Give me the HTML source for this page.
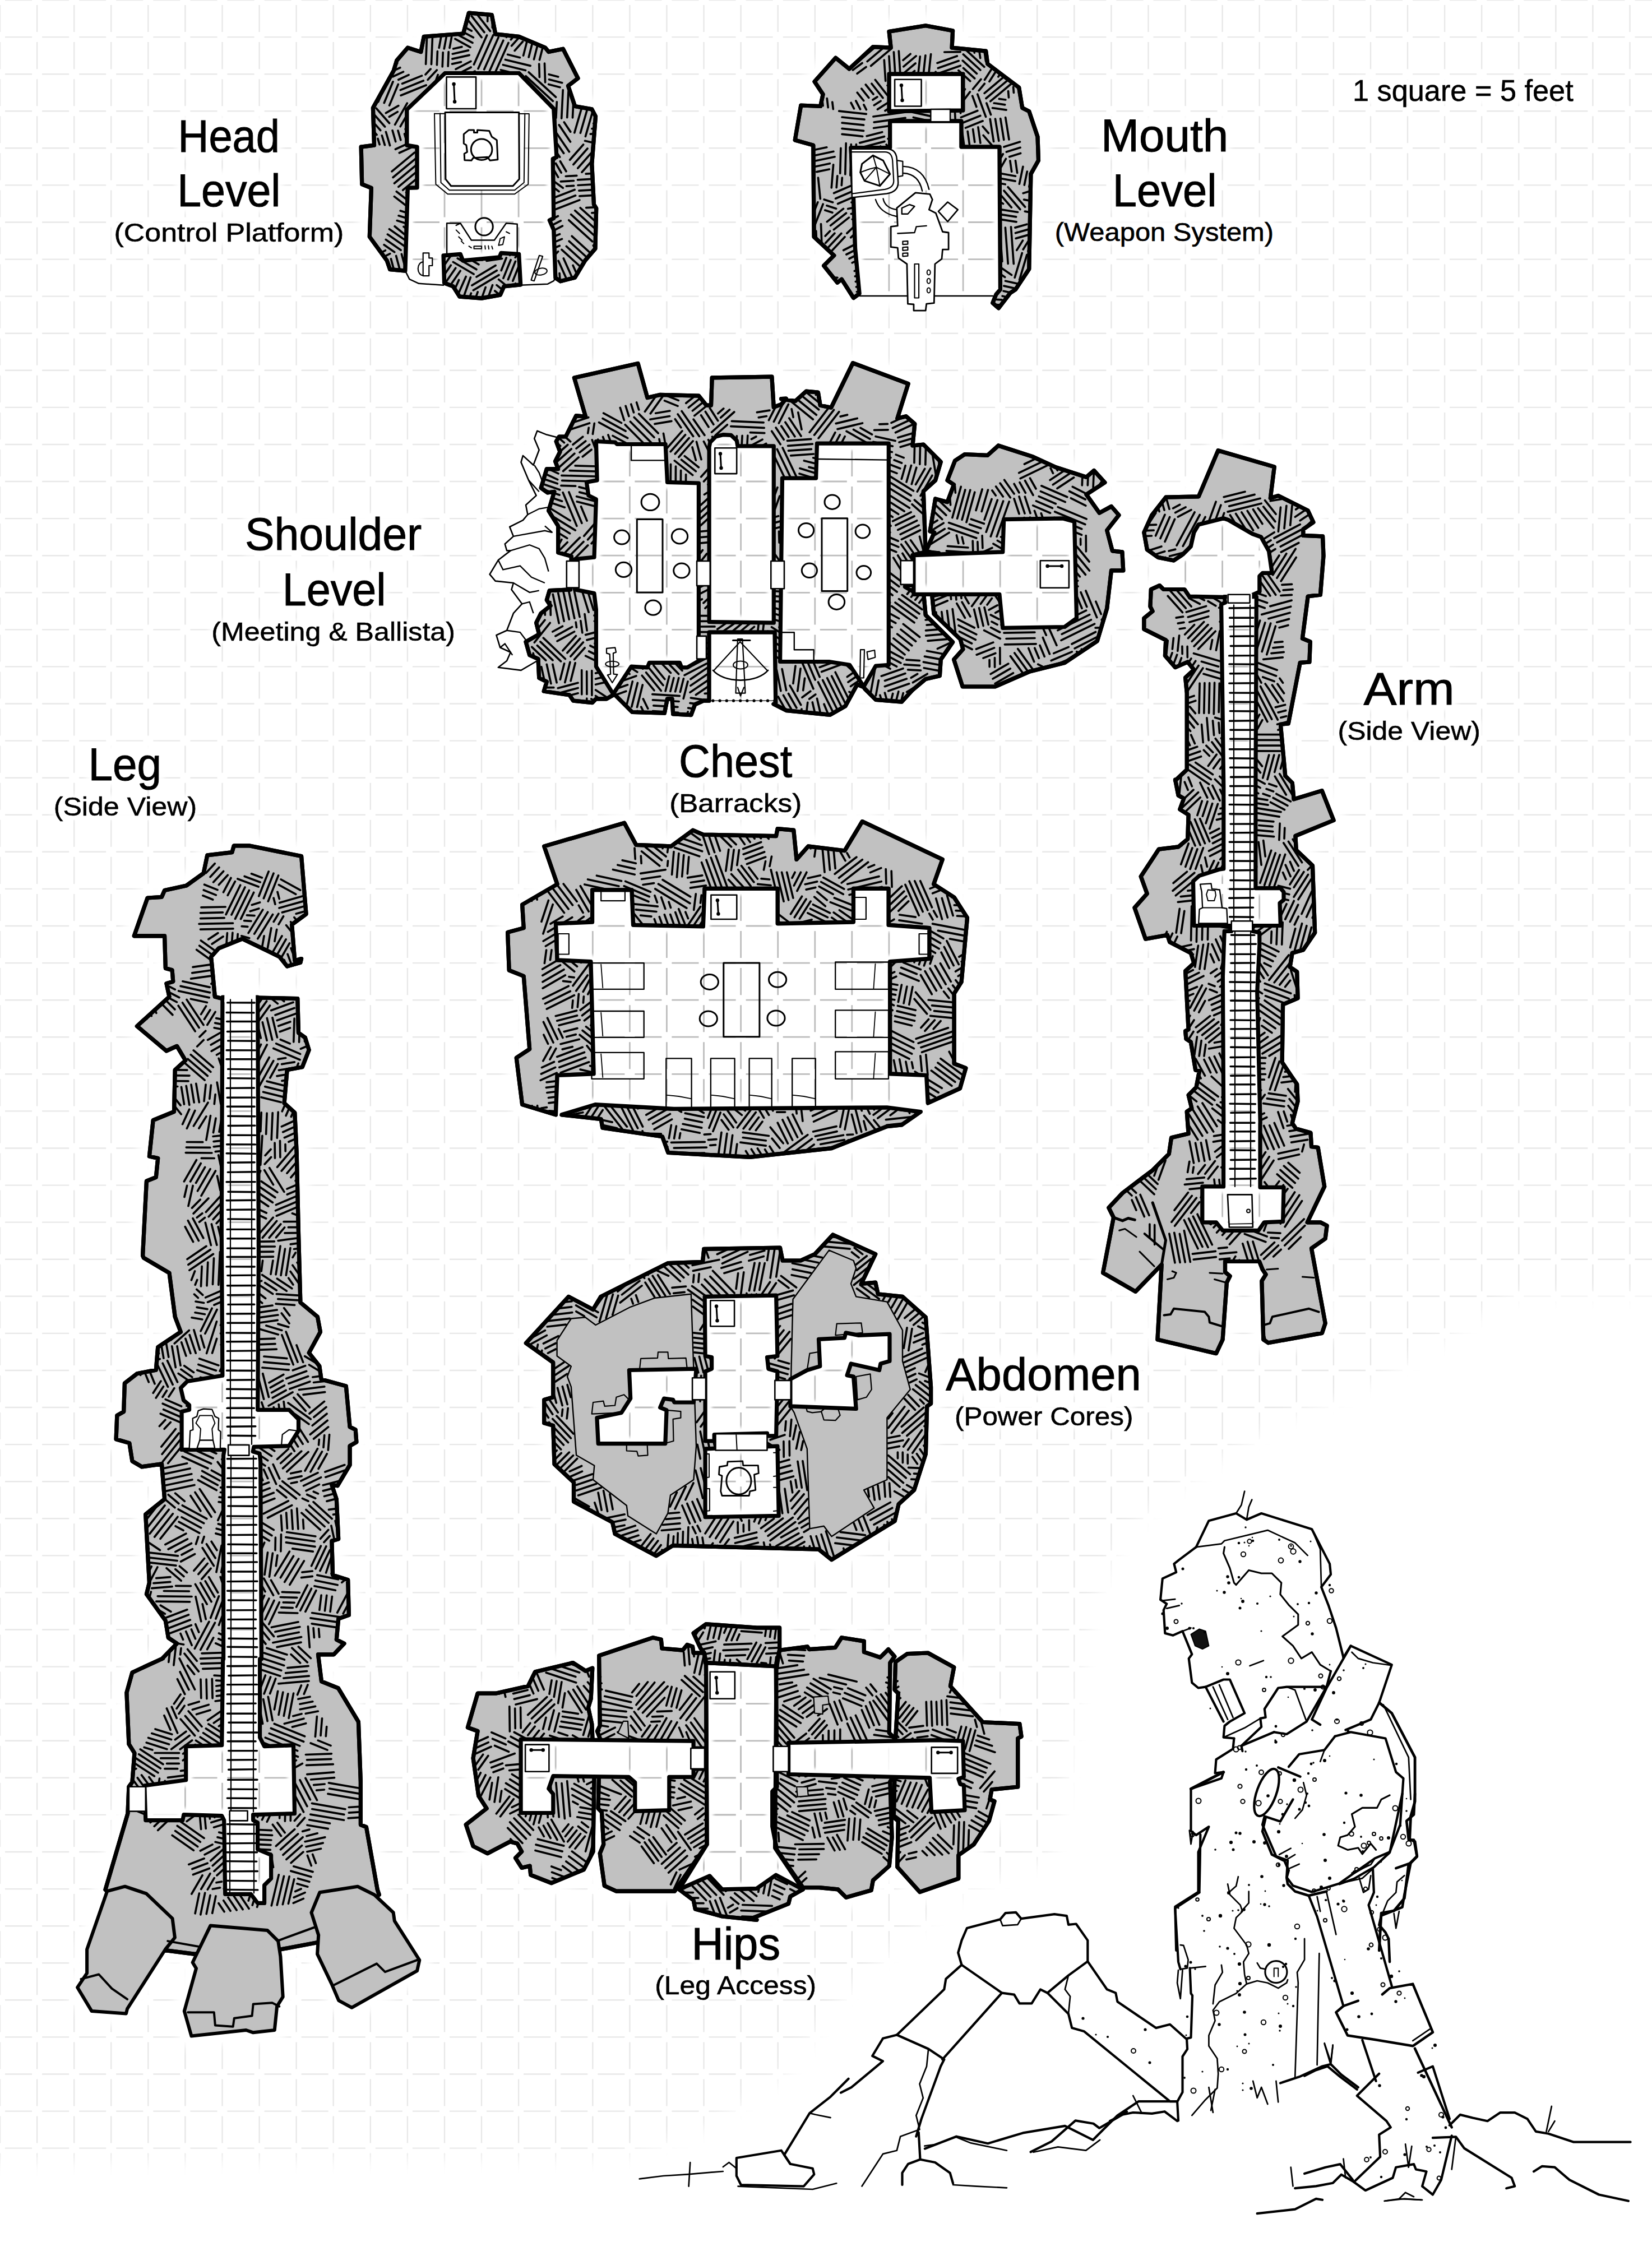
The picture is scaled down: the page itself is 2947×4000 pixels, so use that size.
<!DOCTYPE html>
<html><head><meta charset="utf-8"><title>Colossus Map</title>
<style>html,body{margin:0;padding:0;background:#fff;overflow:hidden}svg{display:block}text{font-family:"Liberation Sans",sans-serif;fill:#000}</style></head>
<body>
<svg width="2947" height="4000" viewBox="0 0 2947 4000">
<defs><filter id="bl" x="-5%" y="-5%" width="110%" height="110%"><feGaussianBlur stdDeviation="7"/></filter><filter id="bl3" x="-5%" y="-5%" width="110%" height="110%"><feGaussianBlur stdDeviation="2.5"/></filter><filter id="bl4" x="-5%" y="-5%" width="110%" height="110%"><feGaussianBlur stdDeviation="5"/></filter><filter id="bl2" x="-5%" y="-5%" width="110%" height="110%"><feGaussianBlur stdDeviation="14"/></filter><clipPath id="rc0"><polygon points="722.9,483.1 695.7,480.7 690.2,464.9 659.3,422.5 662.4,335.4 645.7,328.7 644.2,262.1 667.5,259.1 665.4,192.5 702.3,125.9 707.8,107.8 727.4,85.1 750.8,92.6 756.2,65.4 826.4,60 836.4,23 877.3,26.7 883.9,60.9 925.7,65.4 972.6,85.1 978.7,92.6 1004.4,87.2 1031,139.6 1013.5,153.2 1025.6,189.5 1055.8,194.9 1062.5,207.7 1055.8,292.4 1059.5,365 1063.7,371.7 1061.9,443.7 1043.7,464.9 1025.6,495.2 999.8,501.8 990.8,495.8 987.7,410.4 980.2,392.9 987.7,389.2 986.2,283.3 992.9,280.3 987.7,194 925.7,130.5 794,130.5 725.9,195.5 725.9,259.1 744.1,262.1 744.1,334.8 727.4,335.4"/></clipPath><clipPath id="rc1"><polygon points="791,455.8 821.3,453.4 825.8,464.9 890.9,458.9 893.9,451.3 925.7,453.4 928.7,507.9 899.1,510.9 892.4,526.1 859.1,532.1 819.8,529.1 808.3,510.9 792.5,504.9"/></clipPath><clipPath id="rc2"><polygon points="1533.2,523.9 1522.6,531.5 1501.4,498.2 1493.8,504.3 1469.6,474 1487.8,455.8 1452.1,422.5 1450.8,259.1 1418.2,250 1428.8,188 1463.6,189.5 1468.1,168.3 1453,145.6 1490.8,103.2 1515,122.9 1557.4,83.6 1589.2,85.1 1586.1,56.3 1651.2,45.7 1699.6,54.8 1698.1,85.1 1758.7,91.1 1761.7,113.8 1817.7,156.2 1823.7,192.5 1835.8,198.6 1851,244 1852.5,286.3 1838.9,310.6 1835.8,480 1811.6,516.4 1802.5,522.4 1781.4,549.7 1770.8,540.6 1776.8,525.4 1784.4,516.4 1782.9,262.1 1714.8,262.1 1714.8,216.1 1587.7,216.1 1587.7,263.6 1518,263.6 1522.6,352.9 1525.6,443.7"/></clipPath><clipPath id="rc3"><polygon points="1024.4,673.9 1138,648.5 1154.9,709.5 1176.9,704.4 1246.4,706.1 1260,723.1 1268.5,723.1 1270.2,673.9 1376.9,672.2 1380.3,726.4 1393.9,721.4 1402.4,711.2 1393.6,711.7 1418.7,715.6 1438.1,698.1 1459.4,700.1 1463.3,723.3 1482.7,727.2 1521.4,647.7 1620.2,684.6 1600.8,746.5 1616.3,742.7 1631.8,756.2 1628,795 1647.3,793 1678.3,824 1668.6,857 1647.3,876.3 1651.2,984.8 1628,990.6 1629.9,1042.9 1614.4,1046.8 1628,1054.6 1647.3,1054.6 1651.2,1097.2 1699.6,1145.6 1678.3,1176.6 1676.4,1205.7 1651.2,1211.5 1628,1230.9 1608.6,1252.2 1562.1,1248.3 1542.7,1228.9 1540.8,1225.8 1529.2,1221.2 1507.9,1259.9 1480.7,1275.4 1403.2,1267.7 1380,1256 1383.7,1255.3 1382,1128.1 1265.1,1128.1 1265.1,1250.2 1254.9,1250.2 1239.7,1256.9 1232.9,1275.6 1200.7,1273.9 1199,1246.8 1190.5,1246.8 1185.4,1272.2 1127.8,1270.5 1117.6,1260.3 1097.3,1240 1093.9,1240 1082,1246.8 1063.4,1246.8 1056.6,1253.6 1022.7,1250.2 1015.9,1240 970.2,1233.2 975.3,1216.3 961.7,1209.5 960,1175.6 944.7,1168.8 938,1145.1 961.7,1131.5 956.6,1111.2 965.1,1094.2 982,1080.7 975.3,1070.5 980.3,1053.6 1017.6,1051.9 1019.3,992.5 995.6,985.8 995.6,938.3 978.6,911.2 988.8,877.3 976.9,879 965.1,870.5 975.3,836.6 995.6,836.6 990.5,823.1 999,806.1 992.2,787.5 997.3,779 1009.2,779 1027.8,741.7 1044.7,743.4"/></clipPath><clipPath id="rc4"><polygon points="1703.5,822.1 1721,810.5 1761.6,812.4 1781,795 1841.1,814.4 1883.7,833.7 1937.9,851.2 1951.5,839.5 1970.9,860.8 1937.9,882.2 1961.2,915.1 1982.5,903.5 1996,919 1974.7,946.1 1984.4,982.9 2001.9,984.8 2003.8,1017.8 1982.5,1017.8 1974.7,1085.6 1957.3,1143.7 1899.2,1182.4 1837.2,1197.9 1775.2,1225 1717.1,1225 1701.6,1176.6 1717.9,1158.4 1713.2,1140.6 1665.9,1095.2 1662.8,1063.1 1674.5,1060.4 1674.5,986.8 1651.2,984.8 1666.7,950 1659,948 1668.6,889.9 1690,895.7 1701.6,864.7 1690,857"/></clipPath><clipPath id="rc5"><polygon points="991.5,1988.8 931.6,1970.6 921.2,1887.3 944.7,1871.7 934.2,1741.5 908.2,1731.1 905.6,1663.4 934.2,1655.6 931.6,1614 994.1,1577.5 970.7,1509.9 1113.8,1468.2 1134.7,1507.3 1197.1,1509.9 1236.2,1481.2 1254.4,1489 1384.5,1491.6 1387.1,1478.6 1415.8,1481.2 1421,1533.3 1441.8,1509.9 1506.9,1517.7 1538.1,1465.6 1681.3,1533.3 1665.6,1577.5 1702.1,1601 1725.5,1637.4 1715.1,1751.9 1702.1,1772.7 1702.1,1897.7 1722.9,1905.5 1712.5,1941.9 1655.2,1968 1652.6,1918.5 1587.6,1915.9 1587.6,1715.5 1657.8,1710.3 1657.8,1655.6 1585,1650.4 1585,1585.3 1522.5,1585.3 1522.5,1645.2 1387.1,1647.8 1387.1,1585.3 1257,1585.3 1254.4,1653 1129.5,1650.4 1126.9,1587.9 1056.6,1587.9 1056.6,1645.2 991.5,1647.8 994.1,1712.9 1054,1715.5 1059.2,1915.9 994.1,1918.5"/></clipPath><clipPath id="rc6"><polygon points="1001.9,1988.8 1061.8,1970.6 1202.3,1978.4 1582.3,1975.8 1642.2,1983.6 1608.4,2007 1582.3,2009.6 1483.4,2048.6 1337.7,2064.3 1191.9,2056.5 1181.5,2027.8 1074.8,2012.2 1072.2,1996.6"/></clipPath><clipPath id="rc7"><polygon points="1014.3,2313.4 1058,2336.4 1071.8,2313.4 1191.4,2253.6 1253.5,2251.3 1255.8,2228.3 1391.5,2226 1396.1,2249 1428.3,2249 1453.6,2237.5 1485.8,2203 1561.7,2237.5 1536.4,2290.4 1561.7,2288.1 1566.3,2308.8 1610,2313.4 1651.4,2350.2 1660.6,2474.4 1660.6,2504.3 1653.7,2508.9 1651.4,2594 1630.7,2658.4 1603.1,2683.7 1596.2,2713.6 1483.5,2782.6 1460.5,2764.2 1283.4,2759.6 1200.6,2757.3 1170.7,2775.7 1097.1,2736.6 1092.5,2715.9 1023.5,2679.1 1023.5,2644.6 989,2612.4 986.7,2543.4 970.6,2538.8 970.6,2497.4 986.7,2492.8 986.7,2430.7 938.4,2396.2"/></clipPath><clipPath id="rc8"><polygon points="1056.8,2976.2 1044.6,2981.1 1022.1,2966.6 954.7,2982.7 941.9,3008.3 884.2,3021.2 852.1,3021.2 834.4,3082.1 852.1,3088.5 844.1,3136.7 853.7,3204 868.1,3226.5 831.2,3255.4 844.1,3293.9 869.7,3306.7 909.8,3285.8 922.7,3289 930.7,3303.5 919.5,3314.7 930.7,3332.4 945.1,3329.1 946.7,3345.2 983.6,3359.6 1041.4,3335.6 1058,3303.5 1060,3168.7 1055.8,3075.7 1049.4,3046.8 1054.2,3030.8"/></clipPath><clipPath id="rc9"><polygon points="1068.6,2953.8 1164.9,2921.7 1179.3,2924.9 1180.9,2941 1217.8,2944.2 1225.8,2934.5 1235.5,2937.7 1237.1,2949 1256.3,2949 1259.5,2966.6 1261.1,3290.7 1203.4,3374.1 1099.1,3374.1 1078.3,3364.4 1070.2,3306.7 1076.7,3290.7 1073.4,3232.9 1067,3226.5 1070.2,3101.4 1065.4,3088.5 1070.2,3078.9"/></clipPath><clipPath id="rc10"><polygon points="1237.1,2913.7 1259.5,2897.6 1350,2904.1 1390.6,2904.1 1390.6,2944.2 1385.8,2973 1259.5,2966.6 1256.3,2949 1249.9,2941"/></clipPath><clipPath id="rc11"><polygon points="1211.4,3370.9 1265.9,3346.8 1288.4,3370.9 1350,3369.3 1352.1,3367.6 1384.2,3345.2 1432.3,3370.9 1409.8,3383.7 1406.6,3396.5 1342.5,3422.2 1350,3425.4 1288.4,3419 1240.3,3406.1 1237.1,3390.1"/></clipPath><clipPath id="rc12"><polygon points="1390.6,2944.2 1440.3,2937.7 1443.5,2942.6 1490,2939.4 1501.3,2921.7 1541.4,2928.1 1541.4,2947.4 1570.2,2957 1584.7,2942.6 1595.9,2955.4 1587.9,2966.6 1586.3,3091.7 1595.9,3101.4 1594.3,3168.7 1587.9,3178.4 1591.1,3277.8 1586.3,3329.1 1557.4,3354.8 1554.2,3372.5 1509.3,3385.3 1494.8,3370.9 1461.2,3367.6 1432.3,3367.6 1385.8,3300.3 1377.7,3258.6 1377.7,3196 1385.8,3188 1384.2,2973"/></clipPath><clipPath id="rc13"><polygon points="1597.5,2965 1618.4,2950.6 1655.3,2949 1701.8,2974.6 1695.4,3008.3 1753.1,3072.5 1818.9,3075.7 1822.1,3098.2 1815.7,3101.4 1815.7,3188 1769.1,3192.8 1765.9,3210.4 1774,3213.7 1764.3,3248.9 1737.1,3290.7 1709.8,3309.9 1709.8,3351.6 1640.8,3375.7 1600.7,3330.8 1602.3,3248.9 1594.3,3242.5 1597.5,3101.4 1602.3,3021.2 1595.9,3014.7"/></clipPath><clipPath id="rc14"><polygon points="535.9,1717.3 537.6,1710.5 525.8,1713.9 520.7,1649.5 546.1,1630.8 537.6,1527.5 444.4,1508.8 417.3,1508.8 413.9,1520.7 369.8,1525.8 363.1,1558 332.5,1580 293.6,1588.5 288.5,1600.3 263.1,1602 239.3,1669.8 293.6,1669.8 295.3,1727.5 307.1,1730.8 308.8,1751.2 296.9,1754.6 302,1778.3 244.4,1830.8 296.9,1874.9 315.6,1866.4 330.8,1891.9 312.2,1908.8 310.5,1983.4 273.2,1998.6 266.4,2063.1 281.7,2066.4 278.3,2100.3 261.4,2107.1 254.6,2240 256.3,2244.1 302,2271.2 312.2,2349.2 322.4,2376.3 281.7,2403.4 278.3,2444.1 244.4,2450.8 222.4,2467.8 220.7,2518.6 208.8,2525.4 207.1,2567.8 230.8,2574.6 235.9,2606.8 252.9,2616.9 288.5,2611.9 293.6,2674.6 259.7,2701.7 266.4,2823.7 261.4,2844.1 295.3,2891.5 300.3,2922 315.6,2932.2 288.5,2960 287.8,2959.9 235.9,2983.9 225.9,3019.9 229.9,3111.7 239.9,3127.7 235.9,3179.7 229.9,3187.7 227.9,3235.6 187.9,3371.4 191.1,3374.2 227.1,3478 299.2,3480.1 347.9,3486.4 375.4,3478 481.4,3478 500.4,3478 568.2,3465.3 676.3,3380.5 673.3,3371.4 653.4,3259.6 643.4,3255.6 643.4,3179.7 639.4,3071.8 603.4,3011.9 573.5,2999.9 567.5,2951.9 595.4,2951.9 613.9,2932.2 600.3,2925.4 603.7,2888.1 622.4,2881.4 620.7,2818.6 593.6,2810.2 591.9,2749.2 603.7,2745.8 600.3,2674.6 591.9,2649.2 602,2650.8 624.1,2613.6 624.1,2579.7 635.9,2572.9 634.2,2550.8 624.1,2545.8 617.3,2472.9 580,2462.7 573.2,2461 569.8,2437.3 551.2,2413.6 571.5,2376.3 566.4,2349.2 535.9,2323.7 532.5,2200 529.2,2056.3 525.8,1985.1 507.1,1968.1 512.2,1908.8 539.3,1903.7 551.2,1873.2 544.4,1851.2 532.5,1842.7 530.8,1781.7 459.7,1780 396.9,1781.7 383.4,1778.3 376.6,1707.1 390.2,1691.9 432.5,1674.9 478.3,1696.9 498.6,1707.1 512.2,1724.1"/></clipPath><clipPath id="rc15"><polygon points="2241.3,1066.8 2232.9,1066.8 2234.3,1061.3 2246.8,1055.7 2246.8,1027.8 2252.4,1022.3 2269.1,1022.3 2263.5,983.3 2249.6,958.2 2234.3,952.7 2191.1,927.6 2182.8,924.8 2154.9,931.8 2138.2,935.9 2129.9,949.9 2124.3,974.9 2110.4,988.9 2093.7,1000 2065.8,994.4 2046.3,980.5 2040.8,949.9 2054.7,919.2 2079.7,887.2 2138.2,885.8 2173,803.7 2273.3,832.9 2266.3,888.6 2280.2,884.4 2333.2,910.9 2342.9,931.8 2324.8,944.3 2324.8,955.4 2359.6,956.8 2361,991.6 2355.4,1061.3 2333.2,1064 2323.4,1139.2 2337.3,1144.8 2335.9,1181 2319.2,1182.4 2298.3,1291 2284.4,1292.4 2292.8,1384.3 2305.3,1396.7 2308.1,1425.9 2358.2,1410.6 2379.1,1463.5 2310.9,1491.4 2312.3,1516.5 2341.5,1544.3 2345.7,1664 2324.8,1694.7 2305.3,1700.2 2301.1,1725.3 2313.7,1733.7 2315.1,1781 2288.6,1792.1 2287.2,1895.2 2303.9,1920.2 2313.7,1934.2 2315.1,1964.8 2305.2,2003.9 2311.9,2013.7 2338,2021 2339.5,2045.7 2351.1,2047.2 2362.7,2116.9 2332.2,2180.8 2355.5,2180.8 2367.1,2186.6 2364.2,2209.9 2339.5,2227.3 2364.2,2360.9 2358.4,2378.4 2262.5,2395.8 2253.8,2390 2250.9,2285.4 2258.1,2273.8 2252.3,2265.1 2246.5,2250.5 2185.5,2250.5 2185.5,2269.4 2194.2,2276.7 2188.4,2288.3 2181.1,2390 2169.5,2414.7 2064.9,2390 2072.2,2256.3 2025.7,2304.3 1967.6,2270.9 1986.5,2172.1 1977.8,2154.7 2002.5,2128.5 2056.2,2087.8 2085.3,2058.8 2089.6,2029.7 2120.1,2022.5 2117.2,1983.2 2125.9,1977.4 2120.1,1953.7 2134,1939.7 2139.6,1910.5 2132.7,1909.1 2124.3,1859 2115.9,1853.4 2114.6,1839.5 2120.1,1836.7 2114.6,1732.3 2129.9,1718.3 2124.3,1700.2 2086.7,1680.8 2082.5,1668.2 2043.5,1675.2 2024,1619.5 2046.3,1594.4 2035.2,1563.8 2067.2,1515.1 2102,1510.9 2118.7,1497 2120.1,1453.8 2104.8,1444 2111.8,1424.6 2102,1419 2096.5,1391.1 2096.5,1392.6 2117.3,1373.1 2117.3,1236.7 2114.6,1208.8 2129.9,1194.9 2118.7,1181 2096.5,1190.7 2078.4,1169.9 2079.7,1142 2040.8,1122.5 2040.8,1103 2056.1,1090.5 2051.9,1082.1 2053.3,1051.5 2068.6,1044.6 2075.6,1051.5 2113.2,1051.5 2121.5,1064 2184.2,1065.4"/></clipPath><clipPath id="fl"><polygon points="722.9,483.1 730.5,498.2 747.1,505.8 791,508.8 791,455.8 821.3,453.4 825.8,464.9 890.9,458.9 893.9,451.3 925.7,453.4 928.7,508.8 977.1,506.7 987.7,501.2 990.8,495.8 987.7,410.4 980.2,392.9 987.7,389.2 986.2,283.3 992.9,280.3 987.7,194 925.7,130.5 794,130.5 725.9,195.5 725.9,259.1 744.1,262.1 744.1,334.8 727.4,335.4"/><polygon points="1533.2,523.9 1533.2,527.9 1770.8,527.9 1776.8,525.4 1784.4,516.4 1782.9,262.1 1714.8,262.1 1714.8,216.1 1587.7,216.1 1587.7,263.6 1518,263.6 1522.6,352.9 1525.6,443.7"/><polygon points="1586.1,132 1717.8,132 1717.8,197.1 1586.1,198.6"/><polygon points="1063.4,787.5 1097.3,789.2 1100.7,792.5 1187.1,792.5 1190.5,860.3 1246.4,862 1246.4,1179 1226.1,1190.8 1215.9,1190.8 1212.5,1182.4 1158.3,1182.4 1154.9,1190.8 1126.1,1189.2 1093.9,1238.3 1063.4,1189.2 1063.4,1087.5 1060,1058.6 1026.1,1051.9 1026.1,997.6 1060,994.2 1063.4,890.8 1049.8,884.1 1046.4,860.3 1065.1,856.9"/><polygon points="1265.1,797.6 1266.8,789.2 1276.9,779 1290.5,775.6 1304.1,776.3 1314.2,785.8 1315.9,795.9 1380.3,795.9 1380.3,1111.2 1265.1,1109.5"/><polygon points="1265.1,1128.1 1382,1128.1 1382,1251.9 1265.1,1251.9"/><polygon points="1457.5,791.1 1585.3,791.1 1585.3,1186.3 1562.1,1188.2 1540.8,1225 1515.6,1186.3 1478.8,1180.5 1391.6,1180.5 1395.5,853.1 1455.6,853.1"/><polygon points="1629.9,990.6 1788.8,984.8 1790.7,926.7 1895.3,924.8 1916.6,930.6 1920.5,1103 1899.2,1118.5 1788.8,1120.4 1782.9,1060.4 1629.9,1060.4"/><polygon points="991.5,1988.8 1001.9,1988.8 1061.8,1970.6 1202.3,1978.4 1582.3,1975.8 1642.2,1983.6 1655.2,1968 1652.6,1918.5 1587.6,1915.9 1587.6,1715.5 1657.8,1710.3 1657.8,1655.6 1585,1650.4 1585,1585.3 1522.5,1585.3 1522.5,1645.2 1387.1,1647.8 1387.1,1585.3 1257,1585.3 1254.4,1653 1129.5,1650.4 1126.9,1587.9 1056.6,1587.9 1056.6,1645.2 991.5,1647.8 994.1,1712.9 1054,1715.5 1059.2,1915.9 994.1,1918.5"/><polygon points="1257.2,2313.4 1384.6,2311.1 1386.9,2419.2 1368.5,2421.5 1370.8,2442.2 1386.9,2446.8 1384.6,2561.8 1368.5,2561.8 1368.5,2557.2 1274.2,2559.5 1274.2,2571 1258.1,2571 1258.1,2446.8 1269.6,2442.2 1269.6,2421.5 1258.1,2419.2"/><polygon points="1258.1,2584.8 1386.9,2580.2 1389.2,2704.4 1258.1,2706.7"/><polygon points="1122.4,2444.5 1242,2442.2 1237.4,2502 1202.9,2502 1200.6,2497.4 1184.5,2495.1 1177.6,2511.2 1189.1,2515.8 1186.8,2575.6 1067.2,2575.6 1064.9,2529.6 1108.6,2520.4 1124.7,2495.1"/><polygon points="1409.9,2460.6 1439.8,2444.5 1462.8,2437.6 1460.5,2389.3 1506.5,2387 1508.8,2377.8 1531.8,2382.4 1587,2380.1 1587,2428.4 1570.9,2433 1568.6,2444.5 1518,2433 1511.1,2453.7 1522.6,2456 1527.2,2513.5 1409.9,2508.9"/><polygon points="1259.5,2966.6 1385.1,2973 1382.6,3297.1 1432.3,3370.9 1384.2,3345.2 1352.1,3367.6 1350,3369.3 1288.4,3370.9 1265.9,3346.8 1211.4,3370.9 1261.1,3290.7"/><polygon points="929.1,3103 1237.1,3106.2 1237.1,3119 1256.3,3119 1256.3,3155.9 1237.1,3155.9 1237.1,3170.3 1193.8,3170.3 1193.8,3229.7 1132.8,3231.3 1132.8,3180 1121.6,3170.3 986.8,3168.7 978.8,3191.2 986.8,3200.8 986.8,3234.5 929.1,3234.5"/><polygon points="1406.6,3109.4 1672.9,3104.6 1717.8,3106.2 1719.4,3170.3 1709.8,3173.6 1713,3183.2 1719.4,3184.8 1721,3229.7 1661.7,3232.9 1658.5,3171.9 1406.6,3165.5"/><polygon points="396.9,1779 459.7,1779 461.4,2240 459.7,2515.3 515.6,2515.3 532.5,2532.2 532.5,2552.5 515.6,2579.7 452.9,2581.4 451.2,2589.8 463.1,2593.2 464.7,2606.8 466.4,2960 463.6,2959.9 463.6,3099.8 471.6,3115.7 523.5,3113.7 525.5,3235.6 451.6,3237.6 451.6,3247.6 459.6,3251.6 459.6,3299.5 483.6,3309.5 483.6,3351.5 471.6,3363.4 471.6,3395.4 459.6,3395.4 447.6,3379.4 401.7,3379.4 399.7,3247.6 395.7,3239.6 327.8,3237.6 325.8,3247.6 259.8,3247.6 257.8,3185.7 331.7,3175.7 331.7,3115.7 395.7,3113.7 397.7,2959.9 398.6,2960 398.6,2596.6 400.3,2586.4 324.1,2586.4 324.1,2518.6 337.6,2515.3 337.6,2506.8 327.5,2498.3 322.4,2476.3 334.2,2464.4 396.9,2454.2 395.3,2200"/><polygon points="2110.4,988.9 2124.3,974.9 2129.9,949.9 2138.2,935.9 2154.9,931.8 2182.8,924.8 2191.1,927.6 2234.3,952.7 2249.6,958.2 2263.5,983.3 2269.1,1022.3 2252.4,1022.3 2246.8,1027.8 2246.8,1055.7 2234.3,1061.3 2232.9,1066.8 2184.2,1065.4 2121.5,1064 2113.2,1051.5 2110.4,1051.5"/><polygon points="2184.2,1064.6 2241.3,1064.6 2239.9,1403.9 2239.9,1584.7 2284.4,1584.7 2290,1591.6 2290,1605.6 2283,1611.1 2284.4,1651.5 2234.3,1651.5 2234.3,1661.3 2246.8,1664 2246.8,1686.3 2242.7,1769.9 2248.2,2004.1 2248,2003.9 2248,2118.3 2290.1,2118.3 2288.6,2179.3 2255.2,2180.8 2245.1,2195.3 2181.1,2195.3 2169.5,2180.8 2144.8,2180.8 2144.8,2116.9 2182.6,2116.9 2182.6,2003.9 2182.8,2004.1 2181.4,1742 2184.2,1661.3 2196.7,1661.3 2196.7,1651.5 2129.9,1651.5 2128.5,1572.1 2139.6,1562.4 2174.4,1551.3 2182.8,1549.9 2182.8,1403.9 2178.6,1078 2185.6,1075.2"/></clipPath><mask id="nf" maskUnits="userSpaceOnUse" x="0" y="0" width="2947" height="4000"><rect width="2947" height="4000" fill="#fff"/><polygon points="1586.1,132 1717.8,132 1717.8,197.1 1586.1,198.6" fill="#000"/><polygon points="1063.4,787.5 1097.3,789.2 1100.7,792.5 1187.1,792.5 1190.5,860.3 1246.4,862 1246.4,1179 1226.1,1190.8 1215.9,1190.8 1212.5,1182.4 1158.3,1182.4 1154.9,1190.8 1126.1,1189.2 1093.9,1238.3 1063.4,1189.2 1063.4,1087.5 1060,1058.6 1026.1,1051.9 1026.1,997.6 1060,994.2 1063.4,890.8 1049.8,884.1 1046.4,860.3 1065.1,856.9" fill="#000"/><polygon points="1265.1,797.6 1266.8,789.2 1276.9,779 1290.5,775.6 1304.1,776.3 1314.2,785.8 1315.9,795.9 1380.3,795.9 1380.3,1111.2 1265.1,1109.5" fill="#000"/><polygon points="1457.5,791.1 1585.3,791.1 1585.3,1186.3 1562.1,1188.2 1540.8,1225 1515.6,1186.3 1478.8,1180.5 1391.6,1180.5 1395.5,853.1 1455.6,853.1" fill="#000"/><polygon points="1629.9,990.6 1788.8,984.8 1790.7,926.7 1895.3,924.8 1916.6,930.6 1920.5,1103 1899.2,1118.5 1788.8,1120.4 1782.9,1060.4 1629.9,1060.4" fill="#000"/><polygon points="1257.2,2313.4 1384.6,2311.1 1386.9,2419.2 1368.5,2421.5 1370.8,2442.2 1386.9,2446.8 1384.6,2561.8 1368.5,2561.8 1368.5,2557.2 1274.2,2559.5 1274.2,2571 1258.1,2571 1258.1,2446.8 1269.6,2442.2 1269.6,2421.5 1258.1,2419.2" fill="#000"/><polygon points="1258.1,2584.8 1386.9,2580.2 1389.2,2704.4 1258.1,2706.7" fill="#000"/><polygon points="1122.4,2444.5 1242,2442.2 1237.4,2502 1202.9,2502 1200.6,2497.4 1184.5,2495.1 1177.6,2511.2 1189.1,2515.8 1186.8,2575.6 1067.2,2575.6 1064.9,2529.6 1108.6,2520.4 1124.7,2495.1" fill="#000"/><polygon points="1409.9,2460.6 1439.8,2444.5 1462.8,2437.6 1460.5,2389.3 1506.5,2387 1508.8,2377.8 1531.8,2382.4 1587,2380.1 1587,2428.4 1570.9,2433 1568.6,2444.5 1518,2433 1511.1,2453.7 1522.6,2456 1527.2,2513.5 1409.9,2508.9" fill="#000"/><polygon points="929.1,3103 1237.1,3106.2 1237.1,3119 1256.3,3119 1256.3,3155.9 1237.1,3155.9 1237.1,3170.3 1193.8,3170.3 1193.8,3229.7 1132.8,3231.3 1132.8,3180 1121.6,3170.3 986.8,3168.7 978.8,3191.2 986.8,3200.8 986.8,3234.5 929.1,3234.5" fill="#000"/><polygon points="1406.6,3109.4 1672.9,3104.6 1717.8,3106.2 1719.4,3170.3 1709.8,3173.6 1713,3183.2 1719.4,3184.8 1721,3229.7 1661.7,3232.9 1658.5,3171.9 1406.6,3165.5" fill="#000"/><polygon points="396.9,1779 459.7,1779 461.4,2240 459.7,2515.3 515.6,2515.3 532.5,2532.2 532.5,2552.5 515.6,2579.7 452.9,2581.4 451.2,2589.8 463.1,2593.2 464.7,2606.8 466.4,2960 463.6,2959.9 463.6,3099.8 471.6,3115.7 523.5,3113.7 525.5,3235.6 451.6,3237.6 451.6,3247.6 459.6,3251.6 459.6,3299.5 483.6,3309.5 483.6,3351.5 471.6,3363.4 471.6,3395.4 459.6,3395.4 447.6,3379.4 401.7,3379.4 399.7,3247.6 395.7,3239.6 327.8,3237.6 325.8,3247.6 259.8,3247.6 257.8,3185.7 331.7,3175.7 331.7,3115.7 395.7,3113.7 397.7,2959.9 398.6,2960 398.6,2596.6 400.3,2586.4 324.1,2586.4 324.1,2518.6 337.6,2515.3 337.6,2506.8 327.5,2498.3 322.4,2476.3 334.2,2464.4 396.9,2454.2 395.3,2200" fill="#000"/><polygon points="2184.2,1064.6 2241.3,1064.6 2239.9,1403.9 2239.9,1584.7 2284.4,1584.7 2290,1591.6 2290,1605.6 2283,1611.1 2284.4,1651.5 2234.3,1651.5 2234.3,1661.3 2246.8,1664 2246.8,1686.3 2242.7,1769.9 2248.2,2004.1 2248,2003.9 2248,2118.3 2290.1,2118.3 2288.6,2179.3 2255.2,2180.8 2245.1,2195.3 2181.1,2195.3 2169.5,2180.8 2144.8,2180.8 2144.8,2116.9 2182.6,2116.9 2182.6,2003.9 2182.8,2004.1 2181.4,1742 2184.2,1661.3 2196.7,1661.3 2196.7,1651.5 2129.9,1651.5 2128.5,1572.1 2139.6,1562.4 2174.4,1551.3 2182.8,1549.9 2182.8,1403.9 2178.6,1078 2185.6,1075.2" fill="#000"/></mask></defs>
<rect width="2947" height="4000" fill="#fff"/>
<path d="M0 9V57.1M0 75.1V123.2M0 141.2V189.2M0 207.2V255.3M0 273.3V321.4M0 339.4V387.5M0 405.5V453.6M0 471.6V519.6M0 537.6V585.7M0 603.7V651.8M0 669.8V717.9M0 735.9V784M0 802V850M0 868V916.1M0 934.1V982.2M0 1000.2V1048.3M0 1066.3V1114.4M0 1132.4V1180.4M0 1198.4V1246.5M0 1264.5V1312.6M0 1330.6V1378.7M0 1396.7V1444.8M0 1462.8V1510.8M0 1528.8V1576.9M0 1594.9V1643M0 1661V1709.1M0 1727.1V1775.2M0 1793.2V1841.2M0 1859.2V1907.3M0 1925.3V1973.4M0 1991.4V2039.5M0 2057.5V2105.6M0 2123.6V2171.6M0 2189.6V2237.7M0 2255.7V2303.8M0 2321.8V2369.9M0 2387.9V2436M0 2454V2502M0 2520V2568.1M0 2586.1V2634.2M0 2652.2V2700.3M0 2718.3V2766.4M0 2784.4V2832.4M0 2850.4V2898.5M0 2916.5V2964.6M0 2982.6V3030.7M0 3048.7V3096.8M0 3114.8V3162.8M0 3180.8V3228.9M0 3246.9V3295M0 3313V3361.1M0 3379.1V3427.2M0 3445.2V3493.2M0 3511.2V3559.3M0 3577.3V3625.4M0 3643.4V3691.5M0 3709.5V3757.6M0 3775.6V3823.6M0 3841.6V3889.7M0 3907.7V3955.8M66.1 9V57.1M66.1 75.1V123.2M66.1 141.2V189.2M66.1 207.2V255.3M66.1 273.3V321.4M66.1 339.4V387.5M66.1 405.5V453.6M66.1 471.6V519.6M66.1 537.6V585.7M66.1 603.7V651.8M66.1 669.8V717.9M66.1 735.9V784M66.1 802V850M66.1 868V916.1M66.1 934.1V982.2M66.1 1000.2V1048.3M66.1 1066.3V1114.4M66.1 1132.4V1180.4M66.1 1198.4V1246.5M66.1 1264.5V1312.6M66.1 1330.6V1378.7M66.1 1396.7V1444.8M66.1 1462.8V1510.8M66.1 1528.8V1576.9M66.1 1594.9V1643M66.1 1661V1709.1M66.1 1727.1V1775.2M66.1 1793.2V1841.2M66.1 1859.2V1907.3M66.1 1925.3V1973.4M66.1 1991.4V2039.5M66.1 2057.5V2105.6M66.1 2123.6V2171.6M66.1 2189.6V2237.7M66.1 2255.7V2303.8M66.1 2321.8V2369.9M66.1 2387.9V2436M66.1 2454V2502M66.1 2520V2568.1M66.1 2586.1V2634.2M66.1 2652.2V2700.3M66.1 2718.3V2766.4M66.1 2784.4V2832.4M66.1 2850.4V2898.5M66.1 2916.5V2964.6M66.1 2982.6V3030.7M66.1 3048.7V3096.8M66.1 3114.8V3162.8M66.1 3180.8V3228.9M66.1 3246.9V3295M66.1 3313V3361.1M66.1 3379.1V3427.2M66.1 3445.2V3493.2M66.1 3511.2V3559.3M66.1 3577.3V3625.4M66.1 3643.4V3691.5M66.1 3709.5V3757.6M66.1 3775.6V3823.6M66.1 3841.6V3889.7M66.1 3907.7V3955.8M132.2 9V57.1M132.2 75.1V123.2M132.2 141.2V189.2M132.2 207.2V255.3M132.2 273.3V321.4M132.2 339.4V387.5M132.2 405.5V453.6M132.2 471.6V519.6M132.2 537.6V585.7M132.2 603.7V651.8M132.2 669.8V717.9M132.2 735.9V784M132.2 802V850M132.2 868V916.1M132.2 934.1V982.2M132.2 1000.2V1048.3M132.2 1066.3V1114.4M132.2 1132.4V1180.4M132.2 1198.4V1246.5M132.2 1264.5V1312.6M132.2 1330.6V1378.7M132.2 1396.7V1444.8M132.2 1462.8V1510.8M132.2 1528.8V1576.9M132.2 1594.9V1643M132.2 1661V1709.1M132.2 1727.1V1775.2M132.2 1793.2V1841.2M132.2 1859.2V1907.3M132.2 1925.3V1973.4M132.2 1991.4V2039.5M132.2 2057.5V2105.6M132.2 2123.6V2171.6M132.2 2189.6V2237.7M132.2 2255.7V2303.8M132.2 2321.8V2369.9M132.2 2387.9V2436M132.2 2454V2502M132.2 2520V2568.1M132.2 2586.1V2634.2M132.2 2652.2V2700.3M132.2 2718.3V2766.4M132.2 2784.4V2832.4M132.2 2850.4V2898.5M132.2 2916.5V2964.6M132.2 2982.6V3030.7M132.2 3048.7V3096.8M132.2 3114.8V3162.8M132.2 3180.8V3228.9M132.2 3246.9V3295M132.2 3313V3361.1M132.2 3379.1V3427.2M132.2 3445.2V3493.2M132.2 3511.2V3559.3M132.2 3577.3V3625.4M132.2 3643.4V3691.5M132.2 3709.5V3757.6M132.2 3775.6V3823.6M132.2 3841.6V3889.7M132.2 3907.7V3955.8M198.2 9V57.1M198.2 75.1V123.2M198.2 141.2V189.2M198.2 207.2V255.3M198.2 273.3V321.4M198.2 339.4V387.5M198.2 405.5V453.6M198.2 471.6V519.6M198.2 537.6V585.7M198.2 603.7V651.8M198.2 669.8V717.9M198.2 735.9V784M198.2 802V850M198.2 868V916.1M198.2 934.1V982.2M198.2 1000.2V1048.3M198.2 1066.3V1114.4M198.2 1132.4V1180.4M198.2 1198.4V1246.5M198.2 1264.5V1312.6M198.2 1330.6V1378.7M198.2 1396.7V1444.8M198.2 1462.8V1510.8M198.2 1528.8V1576.9M198.2 1594.9V1643M198.2 1661V1709.1M198.2 1727.1V1775.2M198.2 1793.2V1841.2M198.2 1859.2V1907.3M198.2 1925.3V1973.4M198.2 1991.4V2039.5M198.2 2057.5V2105.6M198.2 2123.6V2171.6M198.2 2189.6V2237.7M198.2 2255.7V2303.8M198.2 2321.8V2369.9M198.2 2387.9V2436M198.2 2454V2502M198.2 2520V2568.1M198.2 2586.1V2634.2M198.2 2652.2V2700.3M198.2 2718.3V2766.4M198.2 2784.4V2832.4M198.2 2850.4V2898.5M198.2 2916.5V2964.6M198.2 2982.6V3030.7M198.2 3048.7V3096.8M198.2 3114.8V3162.8M198.2 3180.8V3228.9M198.2 3246.9V3295M198.2 3313V3361.1M198.2 3379.1V3427.2M198.2 3445.2V3493.2M198.2 3511.2V3559.3M198.2 3577.3V3625.4M198.2 3643.4V3691.5M198.2 3709.5V3757.6M198.2 3775.6V3823.6M198.2 3841.6V3889.7M198.2 3907.7V3955.8M264.3 9V57.1M264.3 75.1V123.2M264.3 141.2V189.2M264.3 207.2V255.3M264.3 273.3V321.4M264.3 339.4V387.5M264.3 405.5V453.6M264.3 471.6V519.6M264.3 537.6V585.7M264.3 603.7V651.8M264.3 669.8V717.9M264.3 735.9V784M264.3 802V850M264.3 868V916.1M264.3 934.1V982.2M264.3 1000.2V1048.3M264.3 1066.3V1114.4M264.3 1132.4V1180.4M264.3 1198.4V1246.5M264.3 1264.5V1312.6M264.3 1330.6V1378.7M264.3 1396.7V1444.8M264.3 1462.8V1510.8M264.3 1528.8V1576.9M264.3 1594.9V1643M264.3 1661V1709.1M264.3 1727.1V1775.2M264.3 1793.2V1841.2M264.3 1859.2V1907.3M264.3 1925.3V1973.4M264.3 1991.4V2039.5M264.3 2057.5V2105.6M264.3 2123.6V2171.6M264.3 2189.6V2237.7M264.3 2255.7V2303.8M264.3 2321.8V2369.9M264.3 2387.9V2436M264.3 2454V2502M264.3 2520V2568.1M264.3 2586.1V2634.2M264.3 2652.2V2700.3M264.3 2718.3V2766.4M264.3 2784.4V2832.4M264.3 2850.4V2898.5M264.3 2916.5V2964.6M264.3 2982.6V3030.7M264.3 3048.7V3096.8M264.3 3114.8V3162.8M264.3 3180.8V3228.9M264.3 3246.9V3295M264.3 3313V3361.1M264.3 3379.1V3427.2M264.3 3445.2V3493.2M264.3 3511.2V3559.3M264.3 3577.3V3625.4M264.3 3643.4V3691.5M264.3 3709.5V3757.6M264.3 3775.6V3823.6M264.3 3841.6V3889.7M264.3 3907.7V3955.8M330.4 9V57.1M330.4 75.1V123.2M330.4 141.2V189.2M330.4 207.2V255.3M330.4 273.3V321.4M330.4 339.4V387.5M330.4 405.5V453.6M330.4 471.6V519.6M330.4 537.6V585.7M330.4 603.7V651.8M330.4 669.8V717.9M330.4 735.9V784M330.4 802V850M330.4 868V916.1M330.4 934.1V982.2M330.4 1000.2V1048.3M330.4 1066.3V1114.4M330.4 1132.4V1180.4M330.4 1198.4V1246.5M330.4 1264.5V1312.6M330.4 1330.6V1378.7M330.4 1396.7V1444.8M330.4 1462.8V1510.8M330.4 1528.8V1576.9M330.4 1594.9V1643M330.4 1661V1709.1M330.4 1727.1V1775.2M330.4 1793.2V1841.2M330.4 1859.2V1907.3M330.4 1925.3V1973.4M330.4 1991.4V2039.5M330.4 2057.5V2105.6M330.4 2123.6V2171.6M330.4 2189.6V2237.7M330.4 2255.7V2303.8M330.4 2321.8V2369.9M330.4 2387.9V2436M330.4 2454V2502M330.4 2520V2568.1M330.4 2586.1V2634.2M330.4 2652.2V2700.3M330.4 2718.3V2766.4M330.4 2784.4V2832.4M330.4 2850.4V2898.5M330.4 2916.5V2964.6M330.4 2982.6V3030.7M330.4 3048.7V3096.8M330.4 3114.8V3162.8M330.4 3180.8V3228.9M330.4 3246.9V3295M330.4 3313V3361.1M330.4 3379.1V3427.2M330.4 3445.2V3493.2M330.4 3511.2V3559.3M330.4 3577.3V3625.4M330.4 3643.4V3691.5M330.4 3709.5V3757.6M330.4 3775.6V3823.6M330.4 3841.6V3889.7M330.4 3907.7V3955.8M396.5 9V57.1M396.5 75.1V123.2M396.5 141.2V189.2M396.5 207.2V255.3M396.5 273.3V321.4M396.5 339.4V387.5M396.5 405.5V453.6M396.5 471.6V519.6M396.5 537.6V585.7M396.5 603.7V651.8M396.5 669.8V717.9M396.5 735.9V784M396.5 802V850M396.5 868V916.1M396.5 934.1V982.2M396.5 1000.2V1048.3M396.5 1066.3V1114.4M396.5 1132.4V1180.4M396.5 1198.4V1246.5M396.5 1264.5V1312.6M396.5 1330.6V1378.7M396.5 1396.7V1444.8M396.5 1462.8V1510.8M396.5 1528.8V1576.9M396.5 1594.9V1643M396.5 1661V1709.1M396.5 1727.1V1775.2M396.5 1793.2V1841.2M396.5 1859.2V1907.3M396.5 1925.3V1973.4M396.5 1991.4V2039.5M396.5 2057.5V2105.6M396.5 2123.6V2171.6M396.5 2189.6V2237.7M396.5 2255.7V2303.8M396.5 2321.8V2369.9M396.5 2387.9V2436M396.5 2454V2502M396.5 2520V2568.1M396.5 2586.1V2634.2M396.5 2652.2V2700.3M396.5 2718.3V2766.4M396.5 2784.4V2832.4M396.5 2850.4V2898.5M396.5 2916.5V2964.6M396.5 2982.6V3030.7M396.5 3048.7V3096.8M396.5 3114.8V3162.8M396.5 3180.8V3228.9M396.5 3246.9V3295M396.5 3313V3361.1M396.5 3379.1V3427.2M396.5 3445.2V3493.2M396.5 3511.2V3559.3M396.5 3577.3V3625.4M396.5 3643.4V3691.5M396.5 3709.5V3757.6M396.5 3775.6V3823.6M396.5 3841.6V3889.7M396.5 3907.7V3955.8M462.6 9V57.1M462.6 75.1V123.2M462.6 141.2V189.2M462.6 207.2V255.3M462.6 273.3V321.4M462.6 339.4V387.5M462.6 405.5V453.6M462.6 471.6V519.6M462.6 537.6V585.7M462.6 603.7V651.8M462.6 669.8V717.9M462.6 735.9V784M462.6 802V850M462.6 868V916.1M462.6 934.1V982.2M462.6 1000.2V1048.3M462.6 1066.3V1114.4M462.6 1132.4V1180.4M462.6 1198.4V1246.5M462.6 1264.5V1312.6M462.6 1330.6V1378.7M462.6 1396.7V1444.8M462.6 1462.8V1510.8M462.6 1528.8V1576.9M462.6 1594.9V1643M462.6 1661V1709.1M462.6 1727.1V1775.2M462.6 1793.2V1841.2M462.6 1859.2V1907.3M462.6 1925.3V1973.4M462.6 1991.4V2039.5M462.6 2057.5V2105.6M462.6 2123.6V2171.6M462.6 2189.6V2237.7M462.6 2255.7V2303.8M462.6 2321.8V2369.9M462.6 2387.9V2436M462.6 2454V2502M462.6 2520V2568.1M462.6 2586.1V2634.2M462.6 2652.2V2700.3M462.6 2718.3V2766.4M462.6 2784.4V2832.4M462.6 2850.4V2898.5M462.6 2916.5V2964.6M462.6 2982.6V3030.7M462.6 3048.7V3096.8M462.6 3114.8V3162.8M462.6 3180.8V3228.9M462.6 3246.9V3295M462.6 3313V3361.1M462.6 3379.1V3427.2M462.6 3445.2V3493.2M462.6 3511.2V3559.3M462.6 3577.3V3625.4M462.6 3643.4V3691.5M462.6 3709.5V3757.6M462.6 3775.6V3823.6M462.6 3841.6V3889.7M462.6 3907.7V3955.8M528.6 9V57.1M528.6 75.1V123.2M528.6 141.2V189.2M528.6 207.2V255.3M528.6 273.3V321.4M528.6 339.4V387.5M528.6 405.5V453.6M528.6 471.6V519.6M528.6 537.6V585.7M528.6 603.7V651.8M528.6 669.8V717.9M528.6 735.9V784M528.6 802V850M528.6 868V916.1M528.6 934.1V982.2M528.6 1000.2V1048.3M528.6 1066.3V1114.4M528.6 1132.4V1180.4M528.6 1198.4V1246.5M528.6 1264.5V1312.6M528.6 1330.6V1378.7M528.6 1396.7V1444.8M528.6 1462.8V1510.8M528.6 1528.8V1576.9M528.6 1594.9V1643M528.6 1661V1709.1M528.6 1727.1V1775.2M528.6 1793.2V1841.2M528.6 1859.2V1907.3M528.6 1925.3V1973.4M528.6 1991.4V2039.5M528.6 2057.5V2105.6M528.6 2123.6V2171.6M528.6 2189.6V2237.7M528.6 2255.7V2303.8M528.6 2321.8V2369.9M528.6 2387.9V2436M528.6 2454V2502M528.6 2520V2568.1M528.6 2586.1V2634.2M528.6 2652.2V2700.3M528.6 2718.3V2766.4M528.6 2784.4V2832.4M528.6 2850.4V2898.5M528.6 2916.5V2964.6M528.6 2982.6V3030.7M528.6 3048.7V3096.8M528.6 3114.8V3162.8M528.6 3180.8V3228.9M528.6 3246.9V3295M528.6 3313V3361.1M528.6 3379.1V3427.2M528.6 3445.2V3493.2M528.6 3511.2V3559.3M528.6 3577.3V3625.4M528.6 3643.4V3691.5M528.6 3709.5V3757.6M528.6 3775.6V3823.6M528.6 3841.6V3889.7M528.6 3907.7V3955.8M594.7 9V57.1M594.7 75.1V123.2M594.7 141.2V189.2M594.7 207.2V255.3M594.7 273.3V321.4M594.7 339.4V387.5M594.7 405.5V453.6M594.7 471.6V519.6M594.7 537.6V585.7M594.7 603.7V651.8M594.7 669.8V717.9M594.7 735.9V784M594.7 802V850M594.7 868V916.1M594.7 934.1V982.2M594.7 1000.2V1048.3M594.7 1066.3V1114.4M594.7 1132.4V1180.4M594.7 1198.4V1246.5M594.7 1264.5V1312.6M594.7 1330.6V1378.7M594.7 1396.7V1444.8M594.7 1462.8V1510.8M594.7 1528.8V1576.9M594.7 1594.9V1643M594.7 1661V1709.1M594.7 1727.1V1775.2M594.7 1793.2V1841.2M594.7 1859.2V1907.3M594.7 1925.3V1973.4M594.7 1991.4V2039.5M594.7 2057.5V2105.6M594.7 2123.6V2171.6M594.7 2189.6V2237.7M594.7 2255.7V2303.8M594.7 2321.8V2369.9M594.7 2387.9V2436M594.7 2454V2502M594.7 2520V2568.1M594.7 2586.1V2634.2M594.7 2652.2V2700.3M594.7 2718.3V2766.4M594.7 2784.4V2832.4M594.7 2850.4V2898.5M594.7 2916.5V2964.6M594.7 2982.6V3030.7M594.7 3048.7V3096.8M594.7 3114.8V3162.8M594.7 3180.8V3228.9M594.7 3246.9V3295M594.7 3313V3361.1M594.7 3379.1V3427.2M594.7 3445.2V3493.2M594.7 3511.2V3559.3M594.7 3577.3V3625.4M594.7 3643.4V3691.5M594.7 3709.5V3757.6M594.7 3775.6V3823.6M594.7 3841.6V3889.7M594.7 3907.7V3955.8M660.8 9V57.1M660.8 75.1V123.2M660.8 141.2V189.2M660.8 207.2V255.3M660.8 273.3V321.4M660.8 339.4V387.5M660.8 405.5V453.6M660.8 471.6V519.6M660.8 537.6V585.7M660.8 603.7V651.8M660.8 669.8V717.9M660.8 735.9V784M660.8 802V850M660.8 868V916.1M660.8 934.1V982.2M660.8 1000.2V1048.3M660.8 1066.3V1114.4M660.8 1132.4V1180.4M660.8 1198.4V1246.5M660.8 1264.5V1312.6M660.8 1330.6V1378.7M660.8 1396.7V1444.8M660.8 1462.8V1510.8M660.8 1528.8V1576.9M660.8 1594.9V1643M660.8 1661V1709.1M660.8 1727.1V1775.2M660.8 1793.2V1841.2M660.8 1859.2V1907.3M660.8 1925.3V1973.4M660.8 1991.4V2039.5M660.8 2057.5V2105.6M660.8 2123.6V2171.6M660.8 2189.6V2237.7M660.8 2255.7V2303.8M660.8 2321.8V2369.9M660.8 2387.9V2436M660.8 2454V2502M660.8 2520V2568.1M660.8 2586.1V2634.2M660.8 2652.2V2700.3M660.8 2718.3V2766.4M660.8 2784.4V2832.4M660.8 2850.4V2898.5M660.8 2916.5V2964.6M660.8 2982.6V3030.7M660.8 3048.7V3096.8M660.8 3114.8V3162.8M660.8 3180.8V3228.9M660.8 3246.9V3295M660.8 3313V3361.1M660.8 3379.1V3427.2M660.8 3445.2V3493.2M660.8 3511.2V3559.3M660.8 3577.3V3625.4M660.8 3643.4V3691.5M660.8 3709.5V3757.6M660.8 3775.6V3823.6M660.8 3841.6V3889.7M660.8 3907.7V3955.8M726.9 9V57.1M726.9 75.1V123.2M726.9 141.2V189.2M726.9 207.2V255.3M726.9 273.3V321.4M726.9 339.4V387.5M726.9 405.5V453.6M726.9 471.6V519.6M726.9 537.6V585.7M726.9 603.7V651.8M726.9 669.8V717.9M726.9 735.9V784M726.9 802V850M726.9 868V916.1M726.9 934.1V982.2M726.9 1000.2V1048.3M726.9 1066.3V1114.4M726.9 1132.4V1180.4M726.9 1198.4V1246.5M726.9 1264.5V1312.6M726.9 1330.6V1378.7M726.9 1396.7V1444.8M726.9 1462.8V1510.8M726.9 1528.8V1576.9M726.9 1594.9V1643M726.9 1661V1709.1M726.9 1727.1V1775.2M726.9 1793.2V1841.2M726.9 1859.2V1907.3M726.9 1925.3V1973.4M726.9 1991.4V2039.5M726.9 2057.5V2105.6M726.9 2123.6V2171.6M726.9 2189.6V2237.7M726.9 2255.7V2303.8M726.9 2321.8V2369.9M726.9 2387.9V2436M726.9 2454V2502M726.9 2520V2568.1M726.9 2586.1V2634.2M726.9 2652.2V2700.3M726.9 2718.3V2766.4M726.9 2784.4V2832.4M726.9 2850.4V2898.5M726.9 2916.5V2964.6M726.9 2982.6V3030.7M726.9 3048.7V3096.8M726.9 3114.8V3162.8M726.9 3180.8V3228.9M726.9 3246.9V3295M726.9 3313V3361.1M726.9 3379.1V3427.2M726.9 3445.2V3493.2M726.9 3511.2V3559.3M726.9 3577.3V3625.4M726.9 3643.4V3691.5M726.9 3709.5V3757.6M726.9 3775.6V3823.6M726.9 3841.6V3889.7M726.9 3907.7V3955.8M793 9V57.1M793 75.1V123.2M793 141.2V189.2M793 207.2V255.3M793 273.3V321.4M793 339.4V387.5M793 405.5V453.6M793 471.6V519.6M793 537.6V585.7M793 603.7V651.8M793 669.8V717.9M793 735.9V784M793 802V850M793 868V916.1M793 934.1V982.2M793 1000.2V1048.3M793 1066.3V1114.4M793 1132.4V1180.4M793 1198.4V1246.5M793 1264.5V1312.6M793 1330.6V1378.7M793 1396.7V1444.8M793 1462.8V1510.8M793 1528.8V1576.9M793 1594.9V1643M793 1661V1709.1M793 1727.1V1775.2M793 1793.2V1841.2M793 1859.2V1907.3M793 1925.3V1973.4M793 1991.4V2039.5M793 2057.5V2105.6M793 2123.6V2171.6M793 2189.6V2237.7M793 2255.7V2303.8M793 2321.8V2369.9M793 2387.9V2436M793 2454V2502M793 2520V2568.1M793 2586.1V2634.2M793 2652.2V2700.3M793 2718.3V2766.4M793 2784.4V2832.4M793 2850.4V2898.5M793 2916.5V2964.6M793 2982.6V3030.7M793 3048.7V3096.8M793 3114.8V3162.8M793 3180.8V3228.9M793 3246.9V3295M793 3313V3361.1M793 3379.1V3427.2M793 3445.2V3493.2M793 3511.2V3559.3M793 3577.3V3625.4M793 3643.4V3691.5M793 3709.5V3757.6M793 3775.6V3823.6M793 3841.6V3889.7M793 3907.7V3955.8M859 9V57.1M859 75.1V123.2M859 141.2V189.2M859 207.2V255.3M859 273.3V321.4M859 339.4V387.5M859 405.5V453.6M859 471.6V519.6M859 537.6V585.7M859 603.7V651.8M859 669.8V717.9M859 735.9V784M859 802V850M859 868V916.1M859 934.1V982.2M859 1000.2V1048.3M859 1066.3V1114.4M859 1132.4V1180.4M859 1198.4V1246.5M859 1264.5V1312.6M859 1330.6V1378.7M859 1396.7V1444.8M859 1462.8V1510.8M859 1528.8V1576.9M859 1594.9V1643M859 1661V1709.1M859 1727.1V1775.2M859 1793.2V1841.2M859 1859.2V1907.3M859 1925.3V1973.4M859 1991.4V2039.5M859 2057.5V2105.6M859 2123.6V2171.6M859 2189.6V2237.7M859 2255.7V2303.8M859 2321.8V2369.9M859 2387.9V2436M859 2454V2502M859 2520V2568.1M859 2586.1V2634.2M859 2652.2V2700.3M859 2718.3V2766.4M859 2784.4V2832.4M859 2850.4V2898.5M859 2916.5V2964.6M859 2982.6V3030.7M859 3048.7V3096.8M859 3114.8V3162.8M859 3180.8V3228.9M859 3246.9V3295M859 3313V3361.1M859 3379.1V3427.2M859 3445.2V3493.2M859 3511.2V3559.3M859 3577.3V3625.4M859 3643.4V3691.5M859 3709.5V3757.6M859 3775.6V3823.6M859 3841.6V3889.7M859 3907.7V3955.8M925.1 9V57.1M925.1 75.1V123.2M925.1 141.2V189.2M925.1 207.2V255.3M925.1 273.3V321.4M925.1 339.4V387.5M925.1 405.5V453.6M925.1 471.6V519.6M925.1 537.6V585.7M925.1 603.7V651.8M925.1 669.8V717.9M925.1 735.9V784M925.1 802V850M925.1 868V916.1M925.1 934.1V982.2M925.1 1000.2V1048.3M925.1 1066.3V1114.4M925.1 1132.4V1180.4M925.1 1198.4V1246.5M925.1 1264.5V1312.6M925.1 1330.6V1378.7M925.1 1396.7V1444.8M925.1 1462.8V1510.8M925.1 1528.8V1576.9M925.1 1594.9V1643M925.1 1661V1709.1M925.1 1727.1V1775.2M925.1 1793.2V1841.2M925.1 1859.2V1907.3M925.1 1925.3V1973.4M925.1 1991.4V2039.5M925.1 2057.5V2105.6M925.1 2123.6V2171.6M925.1 2189.6V2237.7M925.1 2255.7V2303.8M925.1 2321.8V2369.9M925.1 2387.9V2436M925.1 2454V2502M925.1 2520V2568.1M925.1 2586.1V2634.2M925.1 2652.2V2700.3M925.1 2718.3V2766.4M925.1 2784.4V2832.4M925.1 2850.4V2898.5M925.1 2916.5V2964.6M925.1 2982.6V3030.7M925.1 3048.7V3096.8M925.1 3114.8V3162.8M925.1 3180.8V3228.9M925.1 3246.9V3295M925.1 3313V3361.1M925.1 3379.1V3427.2M925.1 3445.2V3493.2M925.1 3511.2V3559.3M925.1 3577.3V3625.4M925.1 3643.4V3691.5M925.1 3709.5V3757.6M925.1 3775.6V3823.6M925.1 3841.6V3889.7M925.1 3907.7V3955.8M991.2 9V57.1M991.2 75.1V123.2M991.2 141.2V189.2M991.2 207.2V255.3M991.2 273.3V321.4M991.2 339.4V387.5M991.2 405.5V453.6M991.2 471.6V519.6M991.2 537.6V585.7M991.2 603.7V651.8M991.2 669.8V717.9M991.2 735.9V784M991.2 802V850M991.2 868V916.1M991.2 934.1V982.2M991.2 1000.2V1048.3M991.2 1066.3V1114.4M991.2 1132.4V1180.4M991.2 1198.4V1246.5M991.2 1264.5V1312.6M991.2 1330.6V1378.7M991.2 1396.7V1444.8M991.2 1462.8V1510.8M991.2 1528.8V1576.9M991.2 1594.9V1643M991.2 1661V1709.1M991.2 1727.1V1775.2M991.2 1793.2V1841.2M991.2 1859.2V1907.3M991.2 1925.3V1973.4M991.2 1991.4V2039.5M991.2 2057.5V2105.6M991.2 2123.6V2171.6M991.2 2189.6V2237.7M991.2 2255.7V2303.8M991.2 2321.8V2369.9M991.2 2387.9V2436M991.2 2454V2502M991.2 2520V2568.1M991.2 2586.1V2634.2M991.2 2652.2V2700.3M991.2 2718.3V2766.4M991.2 2784.4V2832.4M991.2 2850.4V2898.5M991.2 2916.5V2964.6M991.2 2982.6V3030.7M991.2 3048.7V3096.8M991.2 3114.8V3162.8M991.2 3180.8V3228.9M991.2 3246.9V3295M991.2 3313V3361.1M991.2 3379.1V3427.2M991.2 3445.2V3493.2M991.2 3511.2V3559.3M991.2 3577.3V3625.4M991.2 3643.4V3691.5M991.2 3709.5V3757.6M991.2 3775.6V3823.6M991.2 3841.6V3889.7M991.2 3907.7V3955.8M1057.3 9V57.1M1057.3 75.1V123.2M1057.3 141.2V189.2M1057.3 207.2V255.3M1057.3 273.3V321.4M1057.3 339.4V387.5M1057.3 405.5V453.6M1057.3 471.6V519.6M1057.3 537.6V585.7M1057.3 603.7V651.8M1057.3 669.8V717.9M1057.3 735.9V784M1057.3 802V850M1057.3 868V916.1M1057.3 934.1V982.2M1057.3 1000.2V1048.3M1057.3 1066.3V1114.4M1057.3 1132.4V1180.4M1057.3 1198.4V1246.5M1057.3 1264.5V1312.6M1057.3 1330.6V1378.7M1057.3 1396.7V1444.8M1057.3 1462.8V1510.8M1057.3 1528.8V1576.9M1057.3 1594.9V1643M1057.3 1661V1709.1M1057.3 1727.1V1775.2M1057.3 1793.2V1841.2M1057.3 1859.2V1907.3M1057.3 1925.3V1973.4M1057.3 1991.4V2039.5M1057.3 2057.5V2105.6M1057.3 2123.6V2171.6M1057.3 2189.6V2237.7M1057.3 2255.7V2303.8M1057.3 2321.8V2369.9M1057.3 2387.9V2436M1057.3 2454V2502M1057.3 2520V2568.1M1057.3 2586.1V2634.2M1057.3 2652.2V2700.3M1057.3 2718.3V2766.4M1057.3 2784.4V2832.4M1057.3 2850.4V2898.5M1057.3 2916.5V2964.6M1057.3 2982.6V3030.7M1057.3 3048.7V3096.8M1057.3 3114.8V3162.8M1057.3 3180.8V3228.9M1057.3 3246.9V3295M1057.3 3313V3361.1M1057.3 3379.1V3427.2M1057.3 3445.2V3493.2M1057.3 3511.2V3559.3M1057.3 3577.3V3625.4M1057.3 3643.4V3691.5M1057.3 3709.5V3757.6M1057.3 3775.6V3823.6M1057.3 3841.6V3889.7M1057.3 3907.7V3955.8M1123.4 9V57.1M1123.4 75.1V123.2M1123.4 141.2V189.2M1123.4 207.2V255.3M1123.4 273.3V321.4M1123.4 339.4V387.5M1123.4 405.5V453.6M1123.4 471.6V519.6M1123.4 537.6V585.7M1123.4 603.7V651.8M1123.4 669.8V717.9M1123.4 735.9V784M1123.4 802V850M1123.4 868V916.1M1123.4 934.1V982.2M1123.4 1000.2V1048.3M1123.4 1066.3V1114.4M1123.4 1132.4V1180.4M1123.4 1198.4V1246.5M1123.4 1264.5V1312.6M1123.4 1330.6V1378.7M1123.4 1396.7V1444.8M1123.4 1462.8V1510.8M1123.4 1528.8V1576.9M1123.4 1594.9V1643M1123.4 1661V1709.1M1123.4 1727.1V1775.2M1123.4 1793.2V1841.2M1123.4 1859.2V1907.3M1123.4 1925.3V1973.4M1123.4 1991.4V2039.5M1123.4 2057.5V2105.6M1123.4 2123.6V2171.6M1123.4 2189.6V2237.7M1123.4 2255.7V2303.8M1123.4 2321.8V2369.9M1123.4 2387.9V2436M1123.4 2454V2502M1123.4 2520V2568.1M1123.4 2586.1V2634.2M1123.4 2652.2V2700.3M1123.4 2718.3V2766.4M1123.4 2784.4V2832.4M1123.4 2850.4V2898.5M1123.4 2916.5V2964.6M1123.4 2982.6V3030.7M1123.4 3048.7V3096.8M1123.4 3114.8V3162.8M1123.4 3180.8V3228.9M1123.4 3246.9V3295M1123.4 3313V3361.1M1123.4 3379.1V3427.2M1123.4 3445.2V3493.2M1123.4 3511.2V3559.3M1123.4 3577.3V3625.4M1123.4 3643.4V3691.5M1123.4 3709.5V3757.6M1123.4 3775.6V3823.6M1123.4 3841.6V3889.7M1123.4 3907.7V3955.8M1189.4 9V57.1M1189.4 75.1V123.2M1189.4 141.2V189.2M1189.4 207.2V255.3M1189.4 273.3V321.4M1189.4 339.4V387.5M1189.4 405.5V453.6M1189.4 471.6V519.6M1189.4 537.6V585.7M1189.4 603.7V651.8M1189.4 669.8V717.9M1189.4 735.9V784M1189.4 802V850M1189.4 868V916.1M1189.4 934.1V982.2M1189.4 1000.2V1048.3M1189.4 1066.3V1114.4M1189.4 1132.4V1180.4M1189.4 1198.4V1246.5M1189.4 1264.5V1312.6M1189.4 1330.6V1378.7M1189.4 1396.7V1444.8M1189.4 1462.8V1510.8M1189.4 1528.8V1576.9M1189.4 1594.9V1643M1189.4 1661V1709.1M1189.4 1727.1V1775.2M1189.4 1793.2V1841.2M1189.4 1859.2V1907.3M1189.4 1925.3V1973.4M1189.4 1991.4V2039.5M1189.4 2057.5V2105.6M1189.4 2123.6V2171.6M1189.4 2189.6V2237.7M1189.4 2255.7V2303.8M1189.4 2321.8V2369.9M1189.4 2387.9V2436M1189.4 2454V2502M1189.4 2520V2568.1M1189.4 2586.1V2634.2M1189.4 2652.2V2700.3M1189.4 2718.3V2766.4M1189.4 2784.4V2832.4M1189.4 2850.4V2898.5M1189.4 2916.5V2964.6M1189.4 2982.6V3030.7M1189.4 3048.7V3096.8M1189.4 3114.8V3162.8M1189.4 3180.8V3228.9M1189.4 3246.9V3295M1189.4 3313V3361.1M1189.4 3379.1V3427.2M1189.4 3445.2V3493.2M1189.4 3511.2V3559.3M1189.4 3577.3V3625.4M1189.4 3643.4V3691.5M1189.4 3709.5V3757.6M1189.4 3775.6V3823.6M1189.4 3841.6V3889.7M1189.4 3907.7V3955.8M1255.5 9V57.1M1255.5 75.1V123.2M1255.5 141.2V189.2M1255.5 207.2V255.3M1255.5 273.3V321.4M1255.5 339.4V387.5M1255.5 405.5V453.6M1255.5 471.6V519.6M1255.5 537.6V585.7M1255.5 603.7V651.8M1255.5 669.8V717.9M1255.5 735.9V784M1255.5 802V850M1255.5 868V916.1M1255.5 934.1V982.2M1255.5 1000.2V1048.3M1255.5 1066.3V1114.4M1255.5 1132.4V1180.4M1255.5 1198.4V1246.5M1255.5 1264.5V1312.6M1255.5 1330.6V1378.7M1255.5 1396.7V1444.8M1255.5 1462.8V1510.8M1255.5 1528.8V1576.9M1255.5 1594.9V1643M1255.5 1661V1709.1M1255.5 1727.1V1775.2M1255.5 1793.2V1841.2M1255.5 1859.2V1907.3M1255.5 1925.3V1973.4M1255.5 1991.4V2039.5M1255.5 2057.5V2105.6M1255.5 2123.6V2171.6M1255.5 2189.6V2237.7M1255.5 2255.7V2303.8M1255.5 2321.8V2369.9M1255.5 2387.9V2436M1255.5 2454V2502M1255.5 2520V2568.1M1255.5 2586.1V2634.2M1255.5 2652.2V2700.3M1255.5 2718.3V2766.4M1255.5 2784.4V2832.4M1255.5 2850.4V2898.5M1255.5 2916.5V2964.6M1255.5 2982.6V3030.7M1255.5 3048.7V3096.8M1255.5 3114.8V3162.8M1255.5 3180.8V3228.9M1255.5 3246.9V3295M1255.5 3313V3361.1M1255.5 3379.1V3427.2M1255.5 3445.2V3493.2M1255.5 3511.2V3559.3M1255.5 3577.3V3625.4M1255.5 3643.4V3691.5M1255.5 3709.5V3757.6M1255.5 3775.6V3823.6M1255.5 3841.6V3889.7M1255.5 3907.7V3955.8M1321.6 9V57.1M1321.6 75.1V123.2M1321.6 141.2V189.2M1321.6 207.2V255.3M1321.6 273.3V321.4M1321.6 339.4V387.5M1321.6 405.5V453.6M1321.6 471.6V519.6M1321.6 537.6V585.7M1321.6 603.7V651.8M1321.6 669.8V717.9M1321.6 735.9V784M1321.6 802V850M1321.6 868V916.1M1321.6 934.1V982.2M1321.6 1000.2V1048.3M1321.6 1066.3V1114.4M1321.6 1132.4V1180.4M1321.6 1198.4V1246.5M1321.6 1264.5V1312.6M1321.6 1330.6V1378.7M1321.6 1396.7V1444.8M1321.6 1462.8V1510.8M1321.6 1528.8V1576.9M1321.6 1594.9V1643M1321.6 1661V1709.1M1321.6 1727.1V1775.2M1321.6 1793.2V1841.2M1321.6 1859.2V1907.3M1321.6 1925.3V1973.4M1321.6 1991.4V2039.5M1321.6 2057.5V2105.6M1321.6 2123.6V2171.6M1321.6 2189.6V2237.7M1321.6 2255.7V2303.8M1321.6 2321.8V2369.9M1321.6 2387.9V2436M1321.6 2454V2502M1321.6 2520V2568.1M1321.6 2586.1V2634.2M1321.6 2652.2V2700.3M1321.6 2718.3V2766.4M1321.6 2784.4V2832.4M1321.6 2850.4V2898.5M1321.6 2916.5V2964.6M1321.6 2982.6V3030.7M1321.6 3048.7V3096.8M1321.6 3114.8V3162.8M1321.6 3180.8V3228.9M1321.6 3246.9V3295M1321.6 3313V3361.1M1321.6 3379.1V3427.2M1321.6 3445.2V3493.2M1321.6 3511.2V3559.3M1321.6 3577.3V3625.4M1321.6 3643.4V3691.5M1321.6 3709.5V3757.6M1321.6 3775.6V3823.6M1321.6 3841.6V3889.7M1321.6 3907.7V3955.8M1387.7 9V57.1M1387.7 75.1V123.2M1387.7 141.2V189.2M1387.7 207.2V255.3M1387.7 273.3V321.4M1387.7 339.4V387.5M1387.7 405.5V453.6M1387.7 471.6V519.6M1387.7 537.6V585.7M1387.7 603.7V651.8M1387.7 669.8V717.9M1387.7 735.9V784M1387.7 802V850M1387.7 868V916.1M1387.7 934.1V982.2M1387.7 1000.2V1048.3M1387.7 1066.3V1114.4M1387.7 1132.4V1180.4M1387.7 1198.4V1246.5M1387.7 1264.5V1312.6M1387.7 1330.6V1378.7M1387.7 1396.7V1444.8M1387.7 1462.8V1510.8M1387.7 1528.8V1576.9M1387.7 1594.9V1643M1387.7 1661V1709.1M1387.7 1727.1V1775.2M1387.7 1793.2V1841.2M1387.7 1859.2V1907.3M1387.7 1925.3V1973.4M1387.7 1991.4V2039.5M1387.7 2057.5V2105.6M1387.7 2123.6V2171.6M1387.7 2189.6V2237.7M1387.7 2255.7V2303.8M1387.7 2321.8V2369.9M1387.7 2387.9V2436M1387.7 2454V2502M1387.7 2520V2568.1M1387.7 2586.1V2634.2M1387.7 2652.2V2700.3M1387.7 2718.3V2766.4M1387.7 2784.4V2832.4M1387.7 2850.4V2898.5M1387.7 2916.5V2964.6M1387.7 2982.6V3030.7M1387.7 3048.7V3096.8M1387.7 3114.8V3162.8M1387.7 3180.8V3228.9M1387.7 3246.9V3295M1387.7 3313V3361.1M1387.7 3379.1V3427.2M1387.7 3445.2V3493.2M1387.7 3511.2V3559.3M1387.7 3577.3V3625.4M1387.7 3643.4V3691.5M1387.7 3709.5V3757.6M1387.7 3775.6V3823.6M1387.7 3841.6V3889.7M1387.7 3907.7V3955.8M1453.8 9V57.1M1453.8 75.1V123.2M1453.8 141.2V189.2M1453.8 207.2V255.3M1453.8 273.3V321.4M1453.8 339.4V387.5M1453.8 405.5V453.6M1453.8 471.6V519.6M1453.8 537.6V585.7M1453.8 603.7V651.8M1453.8 669.8V717.9M1453.8 735.9V784M1453.8 802V850M1453.8 868V916.1M1453.8 934.1V982.2M1453.8 1000.2V1048.3M1453.8 1066.3V1114.4M1453.8 1132.4V1180.4M1453.8 1198.4V1246.5M1453.8 1264.5V1312.6M1453.8 1330.6V1378.7M1453.8 1396.7V1444.8M1453.8 1462.8V1510.8M1453.8 1528.8V1576.9M1453.8 1594.9V1643M1453.8 1661V1709.1M1453.8 1727.1V1775.2M1453.8 1793.2V1841.2M1453.8 1859.2V1907.3M1453.8 1925.3V1973.4M1453.8 1991.4V2039.5M1453.8 2057.5V2105.6M1453.8 2123.6V2171.6M1453.8 2189.6V2237.7M1453.8 2255.7V2303.8M1453.8 2321.8V2369.9M1453.8 2387.9V2436M1453.8 2454V2502M1453.8 2520V2568.1M1453.8 2586.1V2634.2M1453.8 2652.2V2700.3M1453.8 2718.3V2766.4M1453.8 2784.4V2832.4M1453.8 2850.4V2898.5M1453.8 2916.5V2964.6M1453.8 2982.6V3030.7M1453.8 3048.7V3096.8M1453.8 3114.8V3162.8M1453.8 3180.8V3228.9M1453.8 3246.9V3295M1453.8 3313V3361.1M1453.8 3379.1V3427.2M1453.8 3445.2V3493.2M1453.8 3511.2V3559.3M1453.8 3577.3V3625.4M1453.8 3643.4V3691.5M1453.8 3709.5V3757.6M1453.8 3775.6V3823.6M1453.8 3841.6V3889.7M1453.8 3907.7V3955.8M1519.8 9V57.1M1519.8 75.1V123.2M1519.8 141.2V189.2M1519.8 207.2V255.3M1519.8 273.3V321.4M1519.8 339.4V387.5M1519.8 405.5V453.6M1519.8 471.6V519.6M1519.8 537.6V585.7M1519.8 603.7V651.8M1519.8 669.8V717.9M1519.8 735.9V784M1519.8 802V850M1519.8 868V916.1M1519.8 934.1V982.2M1519.8 1000.2V1048.3M1519.8 1066.3V1114.4M1519.8 1132.4V1180.4M1519.8 1198.4V1246.5M1519.8 1264.5V1312.6M1519.8 1330.6V1378.7M1519.8 1396.7V1444.8M1519.8 1462.8V1510.8M1519.8 1528.8V1576.9M1519.8 1594.9V1643M1519.8 1661V1709.1M1519.8 1727.1V1775.2M1519.8 1793.2V1841.2M1519.8 1859.2V1907.3M1519.8 1925.3V1973.4M1519.8 1991.4V2039.5M1519.8 2057.5V2105.6M1519.8 2123.6V2171.6M1519.8 2189.6V2237.7M1519.8 2255.7V2303.8M1519.8 2321.8V2369.9M1519.8 2387.9V2436M1519.8 2454V2502M1519.8 2520V2568.1M1519.8 2586.1V2634.2M1519.8 2652.2V2700.3M1519.8 2718.3V2766.4M1519.8 2784.4V2832.4M1519.8 2850.4V2898.5M1519.8 2916.5V2964.6M1519.8 2982.6V3030.7M1519.8 3048.7V3096.8M1519.8 3114.8V3162.8M1519.8 3180.8V3228.9M1519.8 3246.9V3295M1519.8 3313V3361.1M1519.8 3379.1V3427.2M1519.8 3445.2V3493.2M1519.8 3511.2V3559.3M1519.8 3577.3V3625.4M1519.8 3643.4V3691.5M1519.8 3709.5V3757.6M1519.8 3775.6V3823.6M1519.8 3841.6V3889.7M1519.8 3907.7V3955.8M1585.9 9V57.1M1585.9 75.1V123.2M1585.9 141.2V189.2M1585.9 207.2V255.3M1585.9 273.3V321.4M1585.9 339.4V387.5M1585.9 405.5V453.6M1585.9 471.6V519.6M1585.9 537.6V585.7M1585.9 603.7V651.8M1585.9 669.8V717.9M1585.9 735.9V784M1585.9 802V850M1585.9 868V916.1M1585.9 934.1V982.2M1585.9 1000.2V1048.3M1585.9 1066.3V1114.4M1585.9 1132.4V1180.4M1585.9 1198.4V1246.5M1585.9 1264.5V1312.6M1585.9 1330.6V1378.7M1585.9 1396.7V1444.8M1585.9 1462.8V1510.8M1585.9 1528.8V1576.9M1585.9 1594.9V1643M1585.9 1661V1709.1M1585.9 1727.1V1775.2M1585.9 1793.2V1841.2M1585.9 1859.2V1907.3M1585.9 1925.3V1973.4M1585.9 1991.4V2039.5M1585.9 2057.5V2105.6M1585.9 2123.6V2171.6M1585.9 2189.6V2237.7M1585.9 2255.7V2303.8M1585.9 2321.8V2369.9M1585.9 2387.9V2436M1585.9 2454V2502M1585.9 2520V2568.1M1585.9 2586.1V2634.2M1585.9 2652.2V2700.3M1585.9 2718.3V2766.4M1585.9 2784.4V2832.4M1585.9 2850.4V2898.5M1585.9 2916.5V2964.6M1585.9 2982.6V3030.7M1585.9 3048.7V3096.8M1585.9 3114.8V3162.8M1585.9 3180.8V3228.9M1585.9 3246.9V3295M1585.9 3313V3361.1M1585.9 3379.1V3427.2M1585.9 3445.2V3493.2M1585.9 3511.2V3559.3M1585.9 3577.3V3625.4M1585.9 3643.4V3691.5M1585.9 3709.5V3757.6M1585.9 3775.6V3823.6M1585.9 3841.6V3889.7M1585.9 3907.7V3955.8M1652 9V57.1M1652 75.1V123.2M1652 141.2V189.2M1652 207.2V255.3M1652 273.3V321.4M1652 339.4V387.5M1652 405.5V453.6M1652 471.6V519.6M1652 537.6V585.7M1652 603.7V651.8M1652 669.8V717.9M1652 735.9V784M1652 802V850M1652 868V916.1M1652 934.1V982.2M1652 1000.2V1048.3M1652 1066.3V1114.4M1652 1132.4V1180.4M1652 1198.4V1246.5M1652 1264.5V1312.6M1652 1330.6V1378.7M1652 1396.7V1444.8M1652 1462.8V1510.8M1652 1528.8V1576.9M1652 1594.9V1643M1652 1661V1709.1M1652 1727.1V1775.2M1652 1793.2V1841.2M1652 1859.2V1907.3M1652 1925.3V1973.4M1652 1991.4V2039.5M1652 2057.5V2105.6M1652 2123.6V2171.6M1652 2189.6V2237.7M1652 2255.7V2303.8M1652 2321.8V2369.9M1652 2387.9V2436M1652 2454V2502M1652 2520V2568.1M1652 2586.1V2634.2M1652 2652.2V2700.3M1652 2718.3V2766.4M1652 2784.4V2832.4M1652 2850.4V2898.5M1652 2916.5V2964.6M1652 2982.6V3030.7M1652 3048.7V3096.8M1652 3114.8V3162.8M1652 3180.8V3228.9M1652 3246.9V3295M1652 3313V3361.1M1652 3379.1V3427.2M1652 3445.2V3493.2M1652 3511.2V3559.3M1652 3577.3V3625.4M1652 3643.4V3691.5M1652 3709.5V3757.6M1652 3775.6V3823.6M1652 3841.6V3889.7M1652 3907.7V3955.8M1718.1 9V57.1M1718.1 75.1V123.2M1718.1 141.2V189.2M1718.1 207.2V255.3M1718.1 273.3V321.4M1718.1 339.4V387.5M1718.1 405.5V453.6M1718.1 471.6V519.6M1718.1 537.6V585.7M1718.1 603.7V651.8M1718.1 669.8V717.9M1718.1 735.9V784M1718.1 802V850M1718.1 868V916.1M1718.1 934.1V982.2M1718.1 1000.2V1048.3M1718.1 1066.3V1114.4M1718.1 1132.4V1180.4M1718.1 1198.4V1246.5M1718.1 1264.5V1312.6M1718.1 1330.6V1378.7M1718.1 1396.7V1444.8M1718.1 1462.8V1510.8M1718.1 1528.8V1576.9M1718.1 1594.9V1643M1718.1 1661V1709.1M1718.1 1727.1V1775.2M1718.1 1793.2V1841.2M1718.1 1859.2V1907.3M1718.1 1925.3V1973.4M1718.1 1991.4V2039.5M1718.1 2057.5V2105.6M1718.1 2123.6V2171.6M1718.1 2189.6V2237.7M1718.1 2255.7V2303.8M1718.1 2321.8V2369.9M1718.1 2387.9V2436M1718.1 2454V2502M1718.1 2520V2568.1M1718.1 2586.1V2634.2M1718.1 2652.2V2700.3M1718.1 2718.3V2766.4M1718.1 2784.4V2832.4M1718.1 2850.4V2898.5M1718.1 2916.5V2964.6M1718.1 2982.6V3030.7M1718.1 3048.7V3096.8M1718.1 3114.8V3162.8M1718.1 3180.8V3228.9M1718.1 3246.9V3295M1718.1 3313V3361.1M1718.1 3379.1V3427.2M1718.1 3445.2V3493.2M1718.1 3511.2V3559.3M1718.1 3577.3V3625.4M1718.1 3643.4V3691.5M1718.1 3709.5V3757.6M1718.1 3775.6V3823.6M1718.1 3841.6V3889.7M1718.1 3907.7V3955.8M1784.2 9V57.1M1784.2 75.1V123.2M1784.2 141.2V189.2M1784.2 207.2V255.3M1784.2 273.3V321.4M1784.2 339.4V387.5M1784.2 405.5V453.6M1784.2 471.6V519.6M1784.2 537.6V585.7M1784.2 603.7V651.8M1784.2 669.8V717.9M1784.2 735.9V784M1784.2 802V850M1784.2 868V916.1M1784.2 934.1V982.2M1784.2 1000.2V1048.3M1784.2 1066.3V1114.4M1784.2 1132.4V1180.4M1784.2 1198.4V1246.5M1784.2 1264.5V1312.6M1784.2 1330.6V1378.7M1784.2 1396.7V1444.8M1784.2 1462.8V1510.8M1784.2 1528.8V1576.9M1784.2 1594.9V1643M1784.2 1661V1709.1M1784.2 1727.1V1775.2M1784.2 1793.2V1841.2M1784.2 1859.2V1907.3M1784.2 1925.3V1973.4M1784.2 1991.4V2039.5M1784.2 2057.5V2105.6M1784.2 2123.6V2171.6M1784.2 2189.6V2237.7M1784.2 2255.7V2303.8M1784.2 2321.8V2369.9M1784.2 2387.9V2436M1784.2 2454V2502M1784.2 2520V2568.1M1784.2 2586.1V2634.2M1784.2 2652.2V2700.3M1784.2 2718.3V2766.4M1784.2 2784.4V2832.4M1784.2 2850.4V2898.5M1784.2 2916.5V2964.6M1784.2 2982.6V3030.7M1784.2 3048.7V3096.8M1784.2 3114.8V3162.8M1784.2 3180.8V3228.9M1784.2 3246.9V3295M1784.2 3313V3361.1M1784.2 3379.1V3427.2M1784.2 3445.2V3493.2M1784.2 3511.2V3559.3M1784.2 3577.3V3625.4M1784.2 3643.4V3691.5M1784.2 3709.5V3757.6M1784.2 3775.6V3823.6M1784.2 3841.6V3889.7M1784.2 3907.7V3955.8M1850.2 9V57.1M1850.2 75.1V123.2M1850.2 141.2V189.2M1850.2 207.2V255.3M1850.2 273.3V321.4M1850.2 339.4V387.5M1850.2 405.5V453.6M1850.2 471.6V519.6M1850.2 537.6V585.7M1850.2 603.7V651.8M1850.2 669.8V717.9M1850.2 735.9V784M1850.2 802V850M1850.2 868V916.1M1850.2 934.1V982.2M1850.2 1000.2V1048.3M1850.2 1066.3V1114.4M1850.2 1132.4V1180.4M1850.2 1198.4V1246.5M1850.2 1264.5V1312.6M1850.2 1330.6V1378.7M1850.2 1396.7V1444.8M1850.2 1462.8V1510.8M1850.2 1528.8V1576.9M1850.2 1594.9V1643M1850.2 1661V1709.1M1850.2 1727.1V1775.2M1850.2 1793.2V1841.2M1850.2 1859.2V1907.3M1850.2 1925.3V1973.4M1850.2 1991.4V2039.5M1850.2 2057.5V2105.6M1850.2 2123.6V2171.6M1850.2 2189.6V2237.7M1850.2 2255.7V2303.8M1850.2 2321.8V2369.9M1850.2 2387.9V2436M1850.2 2454V2502M1850.2 2520V2568.1M1850.2 2586.1V2634.2M1850.2 2652.2V2700.3M1850.2 2718.3V2766.4M1850.2 2784.4V2832.4M1850.2 2850.4V2898.5M1850.2 2916.5V2964.6M1850.2 2982.6V3030.7M1850.2 3048.7V3096.8M1850.2 3114.8V3162.8M1850.2 3180.8V3228.9M1850.2 3246.9V3295M1850.2 3313V3361.1M1850.2 3379.1V3427.2M1850.2 3445.2V3493.2M1850.2 3511.2V3559.3M1850.2 3577.3V3625.4M1850.2 3643.4V3691.5M1850.2 3709.5V3757.6M1850.2 3775.6V3823.6M1850.2 3841.6V3889.7M1850.2 3907.7V3955.8M1916.3 9V57.1M1916.3 75.1V123.2M1916.3 141.2V189.2M1916.3 207.2V255.3M1916.3 273.3V321.4M1916.3 339.4V387.5M1916.3 405.5V453.6M1916.3 471.6V519.6M1916.3 537.6V585.7M1916.3 603.7V651.8M1916.3 669.8V717.9M1916.3 735.9V784M1916.3 802V850M1916.3 868V916.1M1916.3 934.1V982.2M1916.3 1000.2V1048.3M1916.3 1066.3V1114.4M1916.3 1132.4V1180.4M1916.3 1198.4V1246.5M1916.3 1264.5V1312.6M1916.3 1330.6V1378.7M1916.3 1396.7V1444.8M1916.3 1462.8V1510.8M1916.3 1528.8V1576.9M1916.3 1594.9V1643M1916.3 1661V1709.1M1916.3 1727.1V1775.2M1916.3 1793.2V1841.2M1916.3 1859.2V1907.3M1916.3 1925.3V1973.4M1916.3 1991.4V2039.5M1916.3 2057.5V2105.6M1916.3 2123.6V2171.6M1916.3 2189.6V2237.7M1916.3 2255.7V2303.8M1916.3 2321.8V2369.9M1916.3 2387.9V2436M1916.3 2454V2502M1916.3 2520V2568.1M1916.3 2586.1V2634.2M1916.3 2652.2V2700.3M1916.3 2718.3V2766.4M1916.3 2784.4V2832.4M1916.3 2850.4V2898.5M1916.3 2916.5V2964.6M1916.3 2982.6V3030.7M1916.3 3048.7V3096.8M1916.3 3114.8V3162.8M1916.3 3180.8V3228.9M1916.3 3246.9V3295M1916.3 3313V3361.1M1916.3 3379.1V3427.2M1916.3 3445.2V3493.2M1916.3 3511.2V3559.3M1916.3 3577.3V3625.4M1916.3 3643.4V3691.5M1916.3 3709.5V3757.6M1916.3 3775.6V3823.6M1916.3 3841.6V3889.7M1916.3 3907.7V3955.8M1982.4 9V57.1M1982.4 75.1V123.2M1982.4 141.2V189.2M1982.4 207.2V255.3M1982.4 273.3V321.4M1982.4 339.4V387.5M1982.4 405.5V453.6M1982.4 471.6V519.6M1982.4 537.6V585.7M1982.4 603.7V651.8M1982.4 669.8V717.9M1982.4 735.9V784M1982.4 802V850M1982.4 868V916.1M1982.4 934.1V982.2M1982.4 1000.2V1048.3M1982.4 1066.3V1114.4M1982.4 1132.4V1180.4M1982.4 1198.4V1246.5M1982.4 1264.5V1312.6M1982.4 1330.6V1378.7M1982.4 1396.7V1444.8M1982.4 1462.8V1510.8M1982.4 1528.8V1576.9M1982.4 1594.9V1643M1982.4 1661V1709.1M1982.4 1727.1V1775.2M1982.4 1793.2V1841.2M1982.4 1859.2V1907.3M1982.4 1925.3V1973.4M1982.4 1991.4V2039.5M1982.4 2057.5V2105.6M1982.4 2123.6V2171.6M1982.4 2189.6V2237.7M1982.4 2255.7V2303.8M1982.4 2321.8V2369.9M1982.4 2387.9V2436M1982.4 2454V2502M1982.4 2520V2568.1M1982.4 2586.1V2634.2M1982.4 2652.2V2700.3M1982.4 2718.3V2766.4M1982.4 2784.4V2832.4M1982.4 2850.4V2898.5M1982.4 2916.5V2964.6M1982.4 2982.6V3030.7M1982.4 3048.7V3096.8M1982.4 3114.8V3162.8M1982.4 3180.8V3228.9M1982.4 3246.9V3295M1982.4 3313V3361.1M1982.4 3379.1V3427.2M1982.4 3445.2V3493.2M1982.4 3511.2V3559.3M1982.4 3577.3V3625.4M1982.4 3643.4V3691.5M1982.4 3709.5V3757.6M1982.4 3775.6V3823.6M1982.4 3841.6V3889.7M1982.4 3907.7V3955.8M2048.5 9V57.1M2048.5 75.1V123.2M2048.5 141.2V189.2M2048.5 207.2V255.3M2048.5 273.3V321.4M2048.5 339.4V387.5M2048.5 405.5V453.6M2048.5 471.6V519.6M2048.5 537.6V585.7M2048.5 603.7V651.8M2048.5 669.8V717.9M2048.5 735.9V784M2048.5 802V850M2048.5 868V916.1M2048.5 934.1V982.2M2048.5 1000.2V1048.3M2048.5 1066.3V1114.4M2048.5 1132.4V1180.4M2048.5 1198.4V1246.5M2048.5 1264.5V1312.6M2048.5 1330.6V1378.7M2048.5 1396.7V1444.8M2048.5 1462.8V1510.8M2048.5 1528.8V1576.9M2048.5 1594.9V1643M2048.5 1661V1709.1M2048.5 1727.1V1775.2M2048.5 1793.2V1841.2M2048.5 1859.2V1907.3M2048.5 1925.3V1973.4M2048.5 1991.4V2039.5M2048.5 2057.5V2105.6M2048.5 2123.6V2171.6M2048.5 2189.6V2237.7M2048.5 2255.7V2303.8M2048.5 2321.8V2369.9M2048.5 2387.9V2436M2048.5 2454V2502M2048.5 2520V2568.1M2048.5 2586.1V2634.2M2048.5 2652.2V2700.3M2048.5 2718.3V2766.4M2048.5 2784.4V2832.4M2048.5 2850.4V2898.5M2048.5 2916.5V2964.6M2048.5 2982.6V3030.7M2048.5 3048.7V3096.8M2048.5 3114.8V3162.8M2048.5 3180.8V3228.9M2048.5 3246.9V3295M2048.5 3313V3361.1M2048.5 3379.1V3427.2M2048.5 3445.2V3493.2M2048.5 3511.2V3559.3M2048.5 3577.3V3625.4M2048.5 3643.4V3691.5M2048.5 3709.5V3757.6M2048.5 3775.6V3823.6M2048.5 3841.6V3889.7M2048.5 3907.7V3955.8M2114.6 9V57.1M2114.6 75.1V123.2M2114.6 141.2V189.2M2114.6 207.2V255.3M2114.6 273.3V321.4M2114.6 339.4V387.5M2114.6 405.5V453.6M2114.6 471.6V519.6M2114.6 537.6V585.7M2114.6 603.7V651.8M2114.6 669.8V717.9M2114.6 735.9V784M2114.6 802V850M2114.6 868V916.1M2114.6 934.1V982.2M2114.6 1000.2V1048.3M2114.6 1066.3V1114.4M2114.6 1132.4V1180.4M2114.6 1198.4V1246.5M2114.6 1264.5V1312.6M2114.6 1330.6V1378.7M2114.6 1396.7V1444.8M2114.6 1462.8V1510.8M2114.6 1528.8V1576.9M2114.6 1594.9V1643M2114.6 1661V1709.1M2114.6 1727.1V1775.2M2114.6 1793.2V1841.2M2114.6 1859.2V1907.3M2114.6 1925.3V1973.4M2114.6 1991.4V2039.5M2114.6 2057.5V2105.6M2114.6 2123.6V2171.6M2114.6 2189.6V2237.7M2114.6 2255.7V2303.8M2114.6 2321.8V2369.9M2114.6 2387.9V2436M2114.6 2454V2502M2114.6 2520V2568.1M2114.6 2586.1V2634.2M2114.6 2652.2V2700.3M2114.6 2718.3V2766.4M2114.6 2784.4V2832.4M2114.6 2850.4V2898.5M2114.6 2916.5V2964.6M2114.6 2982.6V3030.7M2114.6 3048.7V3096.8M2114.6 3114.8V3162.8M2114.6 3180.8V3228.9M2114.6 3246.9V3295M2114.6 3313V3361.1M2114.6 3379.1V3427.2M2114.6 3445.2V3493.2M2114.6 3511.2V3559.3M2114.6 3577.3V3625.4M2114.6 3643.4V3691.5M2114.6 3709.5V3757.6M2114.6 3775.6V3823.6M2114.6 3841.6V3889.7M2114.6 3907.7V3955.8M2180.6 9V57.1M2180.6 75.1V123.2M2180.6 141.2V189.2M2180.6 207.2V255.3M2180.6 273.3V321.4M2180.6 339.4V387.5M2180.6 405.5V453.6M2180.6 471.6V519.6M2180.6 537.6V585.7M2180.6 603.7V651.8M2180.6 669.8V717.9M2180.6 735.9V784M2180.6 802V850M2180.6 868V916.1M2180.6 934.1V982.2M2180.6 1000.2V1048.3M2180.6 1066.3V1114.4M2180.6 1132.4V1180.4M2180.6 1198.4V1246.5M2180.6 1264.5V1312.6M2180.6 1330.6V1378.7M2180.6 1396.7V1444.8M2180.6 1462.8V1510.8M2180.6 1528.8V1576.9M2180.6 1594.9V1643M2180.6 1661V1709.1M2180.6 1727.1V1775.2M2180.6 1793.2V1841.2M2180.6 1859.2V1907.3M2180.6 1925.3V1973.4M2180.6 1991.4V2039.5M2180.6 2057.5V2105.6M2180.6 2123.6V2171.6M2180.6 2189.6V2237.7M2180.6 2255.7V2303.8M2180.6 2321.8V2369.9M2180.6 2387.9V2436M2180.6 2454V2502M2180.6 2520V2568.1M2180.6 2586.1V2634.2M2180.6 2652.2V2700.3M2180.6 2718.3V2766.4M2180.6 2784.4V2832.4M2180.6 2850.4V2898.5M2180.6 2916.5V2964.6M2180.6 2982.6V3030.7M2180.6 3048.7V3096.8M2180.6 3114.8V3162.8M2180.6 3180.8V3228.9M2180.6 3246.9V3295M2180.6 3313V3361.1M2180.6 3379.1V3427.2M2180.6 3445.2V3493.2M2180.6 3511.2V3559.3M2180.6 3577.3V3625.4M2180.6 3643.4V3691.5M2180.6 3709.5V3757.6M2180.6 3775.6V3823.6M2180.6 3841.6V3889.7M2180.6 3907.7V3955.8M2246.7 9V57.1M2246.7 75.1V123.2M2246.7 141.2V189.2M2246.7 207.2V255.3M2246.7 273.3V321.4M2246.7 339.4V387.5M2246.7 405.5V453.6M2246.7 471.6V519.6M2246.7 537.6V585.7M2246.7 603.7V651.8M2246.7 669.8V717.9M2246.7 735.9V784M2246.7 802V850M2246.7 868V916.1M2246.7 934.1V982.2M2246.7 1000.2V1048.3M2246.7 1066.3V1114.4M2246.7 1132.4V1180.4M2246.7 1198.4V1246.5M2246.7 1264.5V1312.6M2246.7 1330.6V1378.7M2246.7 1396.7V1444.8M2246.7 1462.8V1510.8M2246.7 1528.8V1576.9M2246.7 1594.9V1643M2246.7 1661V1709.1M2246.7 1727.1V1775.2M2246.7 1793.2V1841.2M2246.7 1859.2V1907.3M2246.7 1925.3V1973.4M2246.7 1991.4V2039.5M2246.7 2057.5V2105.6M2246.7 2123.6V2171.6M2246.7 2189.6V2237.7M2246.7 2255.7V2303.8M2246.7 2321.8V2369.9M2246.7 2387.9V2436M2246.7 2454V2502M2246.7 2520V2568.1M2246.7 2586.1V2634.2M2246.7 2652.2V2700.3M2246.7 2718.3V2766.4M2246.7 2784.4V2832.4M2246.7 2850.4V2898.5M2246.7 2916.5V2964.6M2246.7 2982.6V3030.7M2246.7 3048.7V3096.8M2246.7 3114.8V3162.8M2246.7 3180.8V3228.9M2246.7 3246.9V3295M2246.7 3313V3361.1M2246.7 3379.1V3427.2M2246.7 3445.2V3493.2M2246.7 3511.2V3559.3M2246.7 3577.3V3625.4M2246.7 3643.4V3691.5M2246.7 3709.5V3757.6M2246.7 3775.6V3823.6M2246.7 3841.6V3889.7M2246.7 3907.7V3955.8M2312.8 9V57.1M2312.8 75.1V123.2M2312.8 141.2V189.2M2312.8 207.2V255.3M2312.8 273.3V321.4M2312.8 339.4V387.5M2312.8 405.5V453.6M2312.8 471.6V519.6M2312.8 537.6V585.7M2312.8 603.7V651.8M2312.8 669.8V717.9M2312.8 735.9V784M2312.8 802V850M2312.8 868V916.1M2312.8 934.1V982.2M2312.8 1000.2V1048.3M2312.8 1066.3V1114.4M2312.8 1132.4V1180.4M2312.8 1198.4V1246.5M2312.8 1264.5V1312.6M2312.8 1330.6V1378.7M2312.8 1396.7V1444.8M2312.8 1462.8V1510.8M2312.8 1528.8V1576.9M2312.8 1594.9V1643M2312.8 1661V1709.1M2312.8 1727.1V1775.2M2312.8 1793.2V1841.2M2312.8 1859.2V1907.3M2312.8 1925.3V1973.4M2312.8 1991.4V2039.5M2312.8 2057.5V2105.6M2312.8 2123.6V2171.6M2312.8 2189.6V2237.7M2312.8 2255.7V2303.8M2312.8 2321.8V2369.9M2312.8 2387.9V2436M2312.8 2454V2502M2312.8 2520V2568.1M2312.8 2586.1V2634.2M2312.8 2652.2V2700.3M2312.8 2718.3V2766.4M2312.8 2784.4V2832.4M2312.8 2850.4V2898.5M2312.8 2916.5V2964.6M2312.8 2982.6V3030.7M2312.8 3048.7V3096.8M2312.8 3114.8V3162.8M2312.8 3180.8V3228.9M2312.8 3246.9V3295M2312.8 3313V3361.1M2312.8 3379.1V3427.2M2312.8 3445.2V3493.2M2312.8 3511.2V3559.3M2312.8 3577.3V3625.4M2312.8 3643.4V3691.5M2312.8 3709.5V3757.6M2312.8 3775.6V3823.6M2312.8 3841.6V3889.7M2312.8 3907.7V3955.8M2378.9 9V57.1M2378.9 75.1V123.2M2378.9 141.2V189.2M2378.9 207.2V255.3M2378.9 273.3V321.4M2378.9 339.4V387.5M2378.9 405.5V453.6M2378.9 471.6V519.6M2378.9 537.6V585.7M2378.9 603.7V651.8M2378.9 669.8V717.9M2378.9 735.9V784M2378.9 802V850M2378.9 868V916.1M2378.9 934.1V982.2M2378.9 1000.2V1048.3M2378.9 1066.3V1114.4M2378.9 1132.4V1180.4M2378.9 1198.4V1246.5M2378.9 1264.5V1312.6M2378.9 1330.6V1378.7M2378.9 1396.7V1444.8M2378.9 1462.8V1510.8M2378.9 1528.8V1576.9M2378.9 1594.9V1643M2378.9 1661V1709.1M2378.9 1727.1V1775.2M2378.9 1793.2V1841.2M2378.9 1859.2V1907.3M2378.9 1925.3V1973.4M2378.9 1991.4V2039.5M2378.9 2057.5V2105.6M2378.9 2123.6V2171.6M2378.9 2189.6V2237.7M2378.9 2255.7V2303.8M2378.9 2321.8V2369.9M2378.9 2387.9V2436M2378.9 2454V2502M2378.9 2520V2568.1M2378.9 2586.1V2634.2M2378.9 2652.2V2700.3M2378.9 2718.3V2766.4M2378.9 2784.4V2832.4M2378.9 2850.4V2898.5M2378.9 2916.5V2964.6M2378.9 2982.6V3030.7M2378.9 3048.7V3096.8M2378.9 3114.8V3162.8M2378.9 3180.8V3228.9M2378.9 3246.9V3295M2378.9 3313V3361.1M2378.9 3379.1V3427.2M2378.9 3445.2V3493.2M2378.9 3511.2V3559.3M2378.9 3577.3V3625.4M2378.9 3643.4V3691.5M2378.9 3709.5V3757.6M2378.9 3775.6V3823.6M2378.9 3841.6V3889.7M2378.9 3907.7V3955.8M2445 9V57.1M2445 75.1V123.2M2445 141.2V189.2M2445 207.2V255.3M2445 273.3V321.4M2445 339.4V387.5M2445 405.5V453.6M2445 471.6V519.6M2445 537.6V585.7M2445 603.7V651.8M2445 669.8V717.9M2445 735.9V784M2445 802V850M2445 868V916.1M2445 934.1V982.2M2445 1000.2V1048.3M2445 1066.3V1114.4M2445 1132.4V1180.4M2445 1198.4V1246.5M2445 1264.5V1312.6M2445 1330.6V1378.7M2445 1396.7V1444.8M2445 1462.8V1510.8M2445 1528.8V1576.9M2445 1594.9V1643M2445 1661V1709.1M2445 1727.1V1775.2M2445 1793.2V1841.2M2445 1859.2V1907.3M2445 1925.3V1973.4M2445 1991.4V2039.5M2445 2057.5V2105.6M2445 2123.6V2171.6M2445 2189.6V2237.7M2445 2255.7V2303.8M2445 2321.8V2369.9M2445 2387.9V2436M2445 2454V2502M2445 2520V2568.1M2445 2586.1V2634.2M2445 2652.2V2700.3M2445 2718.3V2766.4M2445 2784.4V2832.4M2445 2850.4V2898.5M2445 2916.5V2964.6M2445 2982.6V3030.7M2445 3048.7V3096.8M2445 3114.8V3162.8M2445 3180.8V3228.9M2445 3246.9V3295M2445 3313V3361.1M2445 3379.1V3427.2M2445 3445.2V3493.2M2445 3511.2V3559.3M2445 3577.3V3625.4M2445 3643.4V3691.5M2445 3709.5V3757.6M2445 3775.6V3823.6M2445 3841.6V3889.7M2445 3907.7V3955.8M2511 9V57.1M2511 75.1V123.2M2511 141.2V189.2M2511 207.2V255.3M2511 273.3V321.4M2511 339.4V387.5M2511 405.5V453.6M2511 471.6V519.6M2511 537.6V585.7M2511 603.7V651.8M2511 669.8V717.9M2511 735.9V784M2511 802V850M2511 868V916.1M2511 934.1V982.2M2511 1000.2V1048.3M2511 1066.3V1114.4M2511 1132.4V1180.4M2511 1198.4V1246.5M2511 1264.5V1312.6M2511 1330.6V1378.7M2511 1396.7V1444.8M2511 1462.8V1510.8M2511 1528.8V1576.9M2511 1594.9V1643M2511 1661V1709.1M2511 1727.1V1775.2M2511 1793.2V1841.2M2511 1859.2V1907.3M2511 1925.3V1973.4M2511 1991.4V2039.5M2511 2057.5V2105.6M2511 2123.6V2171.6M2511 2189.6V2237.7M2511 2255.7V2303.8M2511 2321.8V2369.9M2511 2387.9V2436M2511 2454V2502M2511 2520V2568.1M2511 2586.1V2634.2M2511 2652.2V2700.3M2511 2718.3V2766.4M2511 2784.4V2832.4M2511 2850.4V2898.5M2511 2916.5V2964.6M2511 2982.6V3030.7M2511 3048.7V3096.8M2511 3114.8V3162.8M2511 3180.8V3228.9M2511 3246.9V3295M2511 3313V3361.1M2511 3379.1V3427.2M2511 3445.2V3493.2M2511 3511.2V3559.3M2511 3577.3V3625.4M2511 3643.4V3691.5M2511 3709.5V3757.6M2511 3775.6V3823.6M2511 3841.6V3889.7M2511 3907.7V3955.8M2577.1 9V57.1M2577.1 75.1V123.2M2577.1 141.2V189.2M2577.1 207.2V255.3M2577.1 273.3V321.4M2577.1 339.4V387.5M2577.1 405.5V453.6M2577.1 471.6V519.6M2577.1 537.6V585.7M2577.1 603.7V651.8M2577.1 669.8V717.9M2577.1 735.9V784M2577.1 802V850M2577.1 868V916.1M2577.1 934.1V982.2M2577.1 1000.2V1048.3M2577.1 1066.3V1114.4M2577.1 1132.4V1180.4M2577.1 1198.4V1246.5M2577.1 1264.5V1312.6M2577.1 1330.6V1378.7M2577.1 1396.7V1444.8M2577.1 1462.8V1510.8M2577.1 1528.8V1576.9M2577.1 1594.9V1643M2577.1 1661V1709.1M2577.1 1727.1V1775.2M2577.1 1793.2V1841.2M2577.1 1859.2V1907.3M2577.1 1925.3V1973.4M2577.1 1991.4V2039.5M2577.1 2057.5V2105.6M2577.1 2123.6V2171.6M2577.1 2189.6V2237.7M2577.1 2255.7V2303.8M2577.1 2321.8V2369.9M2577.1 2387.9V2436M2577.1 2454V2502M2577.1 2520V2568.1M2577.1 2586.1V2634.2M2577.1 2652.2V2700.3M2577.1 2718.3V2766.4M2577.1 2784.4V2832.4M2577.1 2850.4V2898.5M2577.1 2916.5V2964.6M2577.1 2982.6V3030.7M2577.1 3048.7V3096.8M2577.1 3114.8V3162.8M2577.1 3180.8V3228.9M2577.1 3246.9V3295M2577.1 3313V3361.1M2577.1 3379.1V3427.2M2577.1 3445.2V3493.2M2577.1 3511.2V3559.3M2577.1 3577.3V3625.4M2577.1 3643.4V3691.5M2577.1 3709.5V3757.6M2577.1 3775.6V3823.6M2577.1 3841.6V3889.7M2577.1 3907.7V3955.8M2643.2 9V57.1M2643.2 75.1V123.2M2643.2 141.2V189.2M2643.2 207.2V255.3M2643.2 273.3V321.4M2643.2 339.4V387.5M2643.2 405.5V453.6M2643.2 471.6V519.6M2643.2 537.6V585.7M2643.2 603.7V651.8M2643.2 669.8V717.9M2643.2 735.9V784M2643.2 802V850M2643.2 868V916.1M2643.2 934.1V982.2M2643.2 1000.2V1048.3M2643.2 1066.3V1114.4M2643.2 1132.4V1180.4M2643.2 1198.4V1246.5M2643.2 1264.5V1312.6M2643.2 1330.6V1378.7M2643.2 1396.7V1444.8M2643.2 1462.8V1510.8M2643.2 1528.8V1576.9M2643.2 1594.9V1643M2643.2 1661V1709.1M2643.2 1727.1V1775.2M2643.2 1793.2V1841.2M2643.2 1859.2V1907.3M2643.2 1925.3V1973.4M2643.2 1991.4V2039.5M2643.2 2057.5V2105.6M2643.2 2123.6V2171.6M2643.2 2189.6V2237.7M2643.2 2255.7V2303.8M2643.2 2321.8V2369.9M2643.2 2387.9V2436M2643.2 2454V2502M2643.2 2520V2568.1M2643.2 2586.1V2634.2M2643.2 2652.2V2700.3M2643.2 2718.3V2766.4M2643.2 2784.4V2832.4M2643.2 2850.4V2898.5M2643.2 2916.5V2964.6M2643.2 2982.6V3030.7M2643.2 3048.7V3096.8M2643.2 3114.8V3162.8M2643.2 3180.8V3228.9M2643.2 3246.9V3295M2643.2 3313V3361.1M2643.2 3379.1V3427.2M2643.2 3445.2V3493.2M2643.2 3511.2V3559.3M2643.2 3577.3V3625.4M2643.2 3643.4V3691.5M2643.2 3709.5V3757.6M2643.2 3775.6V3823.6M2643.2 3841.6V3889.7M2643.2 3907.7V3955.8M2709.3 9V57.1M2709.3 75.1V123.2M2709.3 141.2V189.2M2709.3 207.2V255.3M2709.3 273.3V321.4M2709.3 339.4V387.5M2709.3 405.5V453.6M2709.3 471.6V519.6M2709.3 537.6V585.7M2709.3 603.7V651.8M2709.3 669.8V717.9M2709.3 735.9V784M2709.3 802V850M2709.3 868V916.1M2709.3 934.1V982.2M2709.3 1000.2V1048.3M2709.3 1066.3V1114.4M2709.3 1132.4V1180.4M2709.3 1198.4V1246.5M2709.3 1264.5V1312.6M2709.3 1330.6V1378.7M2709.3 1396.7V1444.8M2709.3 1462.8V1510.8M2709.3 1528.8V1576.9M2709.3 1594.9V1643M2709.3 1661V1709.1M2709.3 1727.1V1775.2M2709.3 1793.2V1841.2M2709.3 1859.2V1907.3M2709.3 1925.3V1973.4M2709.3 1991.4V2039.5M2709.3 2057.5V2105.6M2709.3 2123.6V2171.6M2709.3 2189.6V2237.7M2709.3 2255.7V2303.8M2709.3 2321.8V2369.9M2709.3 2387.9V2436M2709.3 2454V2502M2709.3 2520V2568.1M2709.3 2586.1V2634.2M2709.3 2652.2V2700.3M2709.3 2718.3V2766.4M2709.3 2784.4V2832.4M2709.3 2850.4V2898.5M2709.3 2916.5V2964.6M2709.3 2982.6V3030.7M2709.3 3048.7V3096.8M2709.3 3114.8V3162.8M2709.3 3180.8V3228.9M2709.3 3246.9V3295M2709.3 3313V3361.1M2709.3 3379.1V3427.2M2709.3 3445.2V3493.2M2709.3 3511.2V3559.3M2709.3 3577.3V3625.4M2709.3 3643.4V3691.5M2709.3 3709.5V3757.6M2709.3 3775.6V3823.6M2709.3 3841.6V3889.7M2709.3 3907.7V3955.8M2775.4 9V57.1M2775.4 75.1V123.2M2775.4 141.2V189.2M2775.4 207.2V255.3M2775.4 273.3V321.4M2775.4 339.4V387.5M2775.4 405.5V453.6M2775.4 471.6V519.6M2775.4 537.6V585.7M2775.4 603.7V651.8M2775.4 669.8V717.9M2775.4 735.9V784M2775.4 802V850M2775.4 868V916.1M2775.4 934.1V982.2M2775.4 1000.2V1048.3M2775.4 1066.3V1114.4M2775.4 1132.4V1180.4M2775.4 1198.4V1246.5M2775.4 1264.5V1312.6M2775.4 1330.6V1378.7M2775.4 1396.7V1444.8M2775.4 1462.8V1510.8M2775.4 1528.8V1576.9M2775.4 1594.9V1643M2775.4 1661V1709.1M2775.4 1727.1V1775.2M2775.4 1793.2V1841.2M2775.4 1859.2V1907.3M2775.4 1925.3V1973.4M2775.4 1991.4V2039.5M2775.4 2057.5V2105.6M2775.4 2123.6V2171.6M2775.4 2189.6V2237.7M2775.4 2255.7V2303.8M2775.4 2321.8V2369.9M2775.4 2387.9V2436M2775.4 2454V2502M2775.4 2520V2568.1M2775.4 2586.1V2634.2M2775.4 2652.2V2700.3M2775.4 2718.3V2766.4M2775.4 2784.4V2832.4M2775.4 2850.4V2898.5M2775.4 2916.5V2964.6M2775.4 2982.6V3030.7M2775.4 3048.7V3096.8M2775.4 3114.8V3162.8M2775.4 3180.8V3228.9M2775.4 3246.9V3295M2775.4 3313V3361.1M2775.4 3379.1V3427.2M2775.4 3445.2V3493.2M2775.4 3511.2V3559.3M2775.4 3577.3V3625.4M2775.4 3643.4V3691.5M2775.4 3709.5V3757.6M2775.4 3775.6V3823.6M2775.4 3841.6V3889.7M2775.4 3907.7V3955.8M2841.4 9V57.1M2841.4 75.1V123.2M2841.4 141.2V189.2M2841.4 207.2V255.3M2841.4 273.3V321.4M2841.4 339.4V387.5M2841.4 405.5V453.6M2841.4 471.6V519.6M2841.4 537.6V585.7M2841.4 603.7V651.8M2841.4 669.8V717.9M2841.4 735.9V784M2841.4 802V850M2841.4 868V916.1M2841.4 934.1V982.2M2841.4 1000.2V1048.3M2841.4 1066.3V1114.4M2841.4 1132.4V1180.4M2841.4 1198.4V1246.5M2841.4 1264.5V1312.6M2841.4 1330.6V1378.7M2841.4 1396.7V1444.8M2841.4 1462.8V1510.8M2841.4 1528.8V1576.9M2841.4 1594.9V1643M2841.4 1661V1709.1M2841.4 1727.1V1775.2M2841.4 1793.2V1841.2M2841.4 1859.2V1907.3M2841.4 1925.3V1973.4M2841.4 1991.4V2039.5M2841.4 2057.5V2105.6M2841.4 2123.6V2171.6M2841.4 2189.6V2237.7M2841.4 2255.7V2303.8M2841.4 2321.8V2369.9M2841.4 2387.9V2436M2841.4 2454V2502M2841.4 2520V2568.1M2841.4 2586.1V2634.2M2841.4 2652.2V2700.3M2841.4 2718.3V2766.4M2841.4 2784.4V2832.4M2841.4 2850.4V2898.5M2841.4 2916.5V2964.6M2841.4 2982.6V3030.7M2841.4 3048.7V3096.8M2841.4 3114.8V3162.8M2841.4 3180.8V3228.9M2841.4 3246.9V3295M2841.4 3313V3361.1M2841.4 3379.1V3427.2M2841.4 3445.2V3493.2M2841.4 3511.2V3559.3M2841.4 3577.3V3625.4M2841.4 3643.4V3691.5M2841.4 3709.5V3757.6M2841.4 3775.6V3823.6M2841.4 3841.6V3889.7M2841.4 3907.7V3955.8M2907.5 9V57.1M2907.5 75.1V123.2M2907.5 141.2V189.2M2907.5 207.2V255.3M2907.5 273.3V321.4M2907.5 339.4V387.5M2907.5 405.5V453.6M2907.5 471.6V519.6M2907.5 537.6V585.7M2907.5 603.7V651.8M2907.5 669.8V717.9M2907.5 735.9V784M2907.5 802V850M2907.5 868V916.1M2907.5 934.1V982.2M2907.5 1000.2V1048.3M2907.5 1066.3V1114.4M2907.5 1132.4V1180.4M2907.5 1198.4V1246.5M2907.5 1264.5V1312.6M2907.5 1330.6V1378.7M2907.5 1396.7V1444.8M2907.5 1462.8V1510.8M2907.5 1528.8V1576.9M2907.5 1594.9V1643M2907.5 1661V1709.1M2907.5 1727.1V1775.2M2907.5 1793.2V1841.2M2907.5 1859.2V1907.3M2907.5 1925.3V1973.4M2907.5 1991.4V2039.5M2907.5 2057.5V2105.6M2907.5 2123.6V2171.6M2907.5 2189.6V2237.7M2907.5 2255.7V2303.8M2907.5 2321.8V2369.9M2907.5 2387.9V2436M2907.5 2454V2502M2907.5 2520V2568.1M2907.5 2586.1V2634.2M2907.5 2652.2V2700.3M2907.5 2718.3V2766.4M2907.5 2784.4V2832.4M2907.5 2850.4V2898.5M2907.5 2916.5V2964.6M2907.5 2982.6V3030.7M2907.5 3048.7V3096.8M2907.5 3114.8V3162.8M2907.5 3180.8V3228.9M2907.5 3246.9V3295M2907.5 3313V3361.1M2907.5 3379.1V3427.2M2907.5 3445.2V3493.2M2907.5 3511.2V3559.3M2907.5 3577.3V3625.4M2907.5 3643.4V3691.5M2907.5 3709.5V3757.6M2907.5 3775.6V3823.6M2907.5 3841.6V3889.7M2907.5 3907.7V3955.8M2973.6 9V57.1M2973.6 75.1V123.2M2973.6 141.2V189.2M2973.6 207.2V255.3M2973.6 273.3V321.4M2973.6 339.4V387.5M2973.6 405.5V453.6M2973.6 471.6V519.6M2973.6 537.6V585.7M2973.6 603.7V651.8M2973.6 669.8V717.9M2973.6 735.9V784M2973.6 802V850M2973.6 868V916.1M2973.6 934.1V982.2M2973.6 1000.2V1048.3M2973.6 1066.3V1114.4M2973.6 1132.4V1180.4M2973.6 1198.4V1246.5M2973.6 1264.5V1312.6M2973.6 1330.6V1378.7M2973.6 1396.7V1444.8M2973.6 1462.8V1510.8M2973.6 1528.8V1576.9M2973.6 1594.9V1643M2973.6 1661V1709.1M2973.6 1727.1V1775.2M2973.6 1793.2V1841.2M2973.6 1859.2V1907.3M2973.6 1925.3V1973.4M2973.6 1991.4V2039.5M2973.6 2057.5V2105.6M2973.6 2123.6V2171.6M2973.6 2189.6V2237.7M2973.6 2255.7V2303.8M2973.6 2321.8V2369.9M2973.6 2387.9V2436M2973.6 2454V2502M2973.6 2520V2568.1M2973.6 2586.1V2634.2M2973.6 2652.2V2700.3M2973.6 2718.3V2766.4M2973.6 2784.4V2832.4M2973.6 2850.4V2898.5M2973.6 2916.5V2964.6M2973.6 2982.6V3030.7M2973.6 3048.7V3096.8M2973.6 3114.8V3162.8M2973.6 3180.8V3228.9M2973.6 3246.9V3295M2973.6 3313V3361.1M2973.6 3379.1V3427.2M2973.6 3445.2V3493.2M2973.6 3511.2V3559.3M2973.6 3577.3V3625.4M2973.6 3643.4V3691.5M2973.6 3709.5V3757.6M2973.6 3775.6V3823.6M2973.6 3841.6V3889.7M2973.6 3907.7V3955.8M9 0H57.1M75.1 0H123.2M141.2 0H189.2M207.2 0H255.3M273.3 0H321.4M339.4 0H387.5M405.5 0H453.6M471.6 0H519.6M537.6 0H585.7M603.7 0H651.8M669.8 0H717.9M735.9 0H784M802 0H850M868 0H916.1M934.1 0H982.2M1000.2 0H1048.3M1066.3 0H1114.4M1132.4 0H1180.4M1198.4 0H1246.5M1264.5 0H1312.6M1330.6 0H1378.7M1396.7 0H1444.8M1462.8 0H1510.8M1528.8 0H1576.9M1594.9 0H1643M1661 0H1709.1M1727.1 0H1775.2M1793.2 0H1841.2M1859.2 0H1907.3M1925.3 0H1973.4M1991.4 0H2039.5M2057.5 0H2105.6M2123.6 0H2171.6M2189.6 0H2237.7M2255.7 0H2303.8M2321.8 0H2369.9M2387.9 0H2436M2454 0H2502M2520 0H2568.1M2586.1 0H2634.2M2652.2 0H2700.3M2718.3 0H2766.4M2784.4 0H2832.4M2850.4 0H2898.5M2916.5 0H2964.6M9 66.1H57.1M75.1 66.1H123.2M141.2 66.1H189.2M207.2 66.1H255.3M273.3 66.1H321.4M339.4 66.1H387.5M405.5 66.1H453.6M471.6 66.1H519.6M537.6 66.1H585.7M603.7 66.1H651.8M669.8 66.1H717.9M735.9 66.1H784M802 66.1H850M868 66.1H916.1M934.1 66.1H982.2M1000.2 66.1H1048.3M1066.3 66.1H1114.4M1132.4 66.1H1180.4M1198.4 66.1H1246.5M1264.5 66.1H1312.6M1330.6 66.1H1378.7M1396.7 66.1H1444.8M1462.8 66.1H1510.8M1528.8 66.1H1576.9M1594.9 66.1H1643M1661 66.1H1709.1M1727.1 66.1H1775.2M1793.2 66.1H1841.2M1859.2 66.1H1907.3M1925.3 66.1H1973.4M1991.4 66.1H2039.5M2057.5 66.1H2105.6M2123.6 66.1H2171.6M2189.6 66.1H2237.7M2255.7 66.1H2303.8M2321.8 66.1H2369.9M2387.9 66.1H2436M2454 66.1H2502M2520 66.1H2568.1M2586.1 66.1H2634.2M2652.2 66.1H2700.3M2718.3 66.1H2766.4M2784.4 66.1H2832.4M2850.4 66.1H2898.5M2916.5 66.1H2964.6M9 132.2H57.1M75.1 132.2H123.2M141.2 132.2H189.2M207.2 132.2H255.3M273.3 132.2H321.4M339.4 132.2H387.5M405.5 132.2H453.6M471.6 132.2H519.6M537.6 132.2H585.7M603.7 132.2H651.8M669.8 132.2H717.9M735.9 132.2H784M802 132.2H850M868 132.2H916.1M934.1 132.2H982.2M1000.2 132.2H1048.3M1066.3 132.2H1114.4M1132.4 132.2H1180.4M1198.4 132.2H1246.5M1264.5 132.2H1312.6M1330.6 132.2H1378.7M1396.7 132.2H1444.8M1462.8 132.2H1510.8M1528.8 132.2H1576.9M1594.9 132.2H1643M1661 132.2H1709.1M1727.1 132.2H1775.2M1793.2 132.2H1841.2M1859.2 132.2H1907.3M1925.3 132.2H1973.4M1991.4 132.2H2039.5M2057.5 132.2H2105.6M2123.6 132.2H2171.6M2189.6 132.2H2237.7M2255.7 132.2H2303.8M2321.8 132.2H2369.9M2387.9 132.2H2436M2454 132.2H2502M2520 132.2H2568.1M2586.1 132.2H2634.2M2652.2 132.2H2700.3M2718.3 132.2H2766.4M2784.4 132.2H2832.4M2850.4 132.2H2898.5M2916.5 132.2H2964.6M9 198.2H57.1M75.1 198.2H123.2M141.2 198.2H189.2M207.2 198.2H255.3M273.3 198.2H321.4M339.4 198.2H387.5M405.5 198.2H453.6M471.6 198.2H519.6M537.6 198.2H585.7M603.7 198.2H651.8M669.8 198.2H717.9M735.9 198.2H784M802 198.2H850M868 198.2H916.1M934.1 198.2H982.2M1000.2 198.2H1048.3M1066.3 198.2H1114.4M1132.4 198.2H1180.4M1198.4 198.2H1246.5M1264.5 198.2H1312.6M1330.6 198.2H1378.7M1396.7 198.2H1444.8M1462.8 198.2H1510.8M1528.8 198.2H1576.9M1594.9 198.2H1643M1661 198.2H1709.1M1727.1 198.2H1775.2M1793.2 198.2H1841.2M1859.2 198.2H1907.3M1925.3 198.2H1973.4M1991.4 198.2H2039.5M2057.5 198.2H2105.6M2123.6 198.2H2171.6M2189.6 198.2H2237.7M2255.7 198.2H2303.8M2321.8 198.2H2369.9M2387.9 198.2H2436M2454 198.2H2502M2520 198.2H2568.1M2586.1 198.2H2634.2M2652.2 198.2H2700.3M2718.3 198.2H2766.4M2784.4 198.2H2832.4M2850.4 198.2H2898.5M2916.5 198.2H2964.6M9 264.3H57.1M75.1 264.3H123.2M141.2 264.3H189.2M207.2 264.3H255.3M273.3 264.3H321.4M339.4 264.3H387.5M405.5 264.3H453.6M471.6 264.3H519.6M537.6 264.3H585.7M603.7 264.3H651.8M669.8 264.3H717.9M735.9 264.3H784M802 264.3H850M868 264.3H916.1M934.1 264.3H982.2M1000.2 264.3H1048.3M1066.3 264.3H1114.4M1132.4 264.3H1180.4M1198.4 264.3H1246.5M1264.5 264.3H1312.6M1330.6 264.3H1378.7M1396.7 264.3H1444.8M1462.8 264.3H1510.8M1528.8 264.3H1576.9M1594.9 264.3H1643M1661 264.3H1709.1M1727.1 264.3H1775.2M1793.2 264.3H1841.2M1859.2 264.3H1907.3M1925.3 264.3H1973.4M1991.4 264.3H2039.5M2057.5 264.3H2105.6M2123.6 264.3H2171.6M2189.6 264.3H2237.7M2255.7 264.3H2303.8M2321.8 264.3H2369.9M2387.9 264.3H2436M2454 264.3H2502M2520 264.3H2568.1M2586.1 264.3H2634.2M2652.2 264.3H2700.3M2718.3 264.3H2766.4M2784.4 264.3H2832.4M2850.4 264.3H2898.5M2916.5 264.3H2964.6M9 330.4H57.1M75.1 330.4H123.2M141.2 330.4H189.2M207.2 330.4H255.3M273.3 330.4H321.4M339.4 330.4H387.5M405.5 330.4H453.6M471.6 330.4H519.6M537.6 330.4H585.7M603.7 330.4H651.8M669.8 330.4H717.9M735.9 330.4H784M802 330.4H850M868 330.4H916.1M934.1 330.4H982.2M1000.2 330.4H1048.3M1066.3 330.4H1114.4M1132.4 330.4H1180.4M1198.4 330.4H1246.5M1264.5 330.4H1312.6M1330.6 330.4H1378.7M1396.7 330.4H1444.8M1462.8 330.4H1510.8M1528.8 330.4H1576.9M1594.9 330.4H1643M1661 330.4H1709.1M1727.1 330.4H1775.2M1793.2 330.4H1841.2M1859.2 330.4H1907.3M1925.3 330.4H1973.4M1991.4 330.4H2039.5M2057.5 330.4H2105.6M2123.6 330.4H2171.6M2189.6 330.4H2237.7M2255.7 330.4H2303.8M2321.8 330.4H2369.9M2387.9 330.4H2436M2454 330.4H2502M2520 330.4H2568.1M2586.1 330.4H2634.2M2652.2 330.4H2700.3M2718.3 330.4H2766.4M2784.4 330.4H2832.4M2850.4 330.4H2898.5M2916.5 330.4H2964.6M9 396.5H57.1M75.1 396.5H123.2M141.2 396.5H189.2M207.2 396.5H255.3M273.3 396.5H321.4M339.4 396.5H387.5M405.5 396.5H453.6M471.6 396.5H519.6M537.6 396.5H585.7M603.7 396.5H651.8M669.8 396.5H717.9M735.9 396.5H784M802 396.5H850M868 396.5H916.1M934.1 396.5H982.2M1000.2 396.5H1048.3M1066.3 396.5H1114.4M1132.4 396.5H1180.4M1198.4 396.5H1246.5M1264.5 396.5H1312.6M1330.6 396.5H1378.7M1396.7 396.5H1444.8M1462.8 396.5H1510.8M1528.8 396.5H1576.9M1594.9 396.5H1643M1661 396.5H1709.1M1727.1 396.5H1775.2M1793.2 396.5H1841.2M1859.2 396.5H1907.3M1925.3 396.5H1973.4M1991.4 396.5H2039.5M2057.5 396.5H2105.6M2123.6 396.5H2171.6M2189.6 396.5H2237.7M2255.7 396.5H2303.8M2321.8 396.5H2369.9M2387.9 396.5H2436M2454 396.5H2502M2520 396.5H2568.1M2586.1 396.5H2634.2M2652.2 396.5H2700.3M2718.3 396.5H2766.4M2784.4 396.5H2832.4M2850.4 396.5H2898.5M2916.5 396.5H2964.6M9 462.6H57.1M75.1 462.6H123.2M141.2 462.6H189.2M207.2 462.6H255.3M273.3 462.6H321.4M339.4 462.6H387.5M405.5 462.6H453.6M471.6 462.6H519.6M537.6 462.6H585.7M603.7 462.6H651.8M669.8 462.6H717.9M735.9 462.6H784M802 462.6H850M868 462.6H916.1M934.1 462.6H982.2M1000.2 462.6H1048.3M1066.3 462.6H1114.4M1132.4 462.6H1180.4M1198.4 462.6H1246.5M1264.5 462.6H1312.6M1330.6 462.6H1378.7M1396.7 462.6H1444.8M1462.8 462.6H1510.8M1528.8 462.6H1576.9M1594.9 462.6H1643M1661 462.6H1709.1M1727.1 462.6H1775.2M1793.2 462.6H1841.2M1859.2 462.6H1907.3M1925.3 462.6H1973.4M1991.4 462.6H2039.5M2057.5 462.6H2105.6M2123.6 462.6H2171.6M2189.6 462.6H2237.7M2255.7 462.6H2303.8M2321.8 462.6H2369.9M2387.9 462.6H2436M2454 462.6H2502M2520 462.6H2568.1M2586.1 462.6H2634.2M2652.2 462.6H2700.3M2718.3 462.6H2766.4M2784.4 462.6H2832.4M2850.4 462.6H2898.5M2916.5 462.6H2964.6M9 528.6H57.1M75.1 528.6H123.2M141.2 528.6H189.2M207.2 528.6H255.3M273.3 528.6H321.4M339.4 528.6H387.5M405.5 528.6H453.6M471.6 528.6H519.6M537.6 528.6H585.7M603.7 528.6H651.8M669.8 528.6H717.9M735.9 528.6H784M802 528.6H850M868 528.6H916.1M934.1 528.6H982.2M1000.2 528.6H1048.3M1066.3 528.6H1114.4M1132.4 528.6H1180.4M1198.4 528.6H1246.5M1264.5 528.6H1312.6M1330.6 528.6H1378.7M1396.7 528.6H1444.8M1462.8 528.6H1510.8M1528.8 528.6H1576.9M1594.9 528.6H1643M1661 528.6H1709.1M1727.1 528.6H1775.2M1793.2 528.6H1841.2M1859.2 528.6H1907.3M1925.3 528.6H1973.4M1991.4 528.6H2039.5M2057.5 528.6H2105.6M2123.6 528.6H2171.6M2189.6 528.6H2237.7M2255.7 528.6H2303.8M2321.8 528.6H2369.9M2387.9 528.6H2436M2454 528.6H2502M2520 528.6H2568.1M2586.1 528.6H2634.2M2652.2 528.6H2700.3M2718.3 528.6H2766.4M2784.4 528.6H2832.4M2850.4 528.6H2898.5M2916.5 528.6H2964.6M9 594.7H57.1M75.1 594.7H123.2M141.2 594.7H189.2M207.2 594.7H255.3M273.3 594.7H321.4M339.4 594.7H387.5M405.5 594.7H453.6M471.6 594.7H519.6M537.6 594.7H585.7M603.7 594.7H651.8M669.8 594.7H717.9M735.9 594.7H784M802 594.7H850M868 594.7H916.1M934.1 594.7H982.2M1000.2 594.7H1048.3M1066.3 594.7H1114.4M1132.4 594.7H1180.4M1198.4 594.7H1246.5M1264.5 594.7H1312.6M1330.6 594.7H1378.7M1396.7 594.7H1444.8M1462.8 594.7H1510.8M1528.8 594.7H1576.9M1594.9 594.7H1643M1661 594.7H1709.1M1727.1 594.7H1775.2M1793.2 594.7H1841.2M1859.2 594.7H1907.3M1925.3 594.7H1973.4M1991.4 594.7H2039.5M2057.5 594.7H2105.6M2123.6 594.7H2171.6M2189.6 594.7H2237.7M2255.7 594.7H2303.8M2321.8 594.7H2369.9M2387.9 594.7H2436M2454 594.7H2502M2520 594.7H2568.1M2586.1 594.7H2634.2M2652.2 594.7H2700.3M2718.3 594.7H2766.4M2784.4 594.7H2832.4M2850.4 594.7H2898.5M2916.5 594.7H2964.6M9 660.8H57.1M75.1 660.8H123.2M141.2 660.8H189.2M207.2 660.8H255.3M273.3 660.8H321.4M339.4 660.8H387.5M405.5 660.8H453.6M471.6 660.8H519.6M537.6 660.8H585.7M603.7 660.8H651.8M669.8 660.8H717.9M735.9 660.8H784M802 660.8H850M868 660.8H916.1M934.1 660.8H982.2M1000.2 660.8H1048.3M1066.3 660.8H1114.4M1132.4 660.8H1180.4M1198.4 660.8H1246.5M1264.5 660.8H1312.6M1330.6 660.8H1378.7M1396.7 660.8H1444.8M1462.8 660.8H1510.8M1528.8 660.8H1576.9M1594.9 660.8H1643M1661 660.8H1709.1M1727.1 660.8H1775.2M1793.2 660.8H1841.2M1859.2 660.8H1907.3M1925.3 660.8H1973.4M1991.4 660.8H2039.5M2057.5 660.8H2105.6M2123.6 660.8H2171.6M2189.6 660.8H2237.7M2255.7 660.8H2303.8M2321.8 660.8H2369.9M2387.9 660.8H2436M2454 660.8H2502M2520 660.8H2568.1M2586.1 660.8H2634.2M2652.2 660.8H2700.3M2718.3 660.8H2766.4M2784.4 660.8H2832.4M2850.4 660.8H2898.5M2916.5 660.8H2964.6M9 726.9H57.1M75.1 726.9H123.2M141.2 726.9H189.2M207.2 726.9H255.3M273.3 726.9H321.4M339.4 726.9H387.5M405.5 726.9H453.6M471.6 726.9H519.6M537.6 726.9H585.7M603.7 726.9H651.8M669.8 726.9H717.9M735.9 726.9H784M802 726.9H850M868 726.9H916.1M934.1 726.9H982.2M1000.2 726.9H1048.3M1066.3 726.9H1114.4M1132.4 726.9H1180.4M1198.4 726.9H1246.5M1264.5 726.9H1312.6M1330.6 726.9H1378.7M1396.7 726.9H1444.8M1462.8 726.9H1510.8M1528.8 726.9H1576.9M1594.9 726.9H1643M1661 726.9H1709.1M1727.1 726.9H1775.2M1793.2 726.9H1841.2M1859.2 726.9H1907.3M1925.3 726.9H1973.4M1991.4 726.9H2039.5M2057.5 726.9H2105.6M2123.6 726.9H2171.6M2189.6 726.9H2237.7M2255.7 726.9H2303.8M2321.8 726.9H2369.9M2387.9 726.9H2436M2454 726.9H2502M2520 726.9H2568.1M2586.1 726.9H2634.2M2652.2 726.9H2700.3M2718.3 726.9H2766.4M2784.4 726.9H2832.4M2850.4 726.9H2898.5M2916.5 726.9H2964.6M9 793H57.1M75.1 793H123.2M141.2 793H189.2M207.2 793H255.3M273.3 793H321.4M339.4 793H387.5M405.5 793H453.6M471.6 793H519.6M537.6 793H585.7M603.7 793H651.8M669.8 793H717.9M735.9 793H784M802 793H850M868 793H916.1M934.1 793H982.2M1000.2 793H1048.3M1066.3 793H1114.4M1132.4 793H1180.4M1198.4 793H1246.5M1264.5 793H1312.6M1330.6 793H1378.7M1396.7 793H1444.8M1462.8 793H1510.8M1528.8 793H1576.9M1594.9 793H1643M1661 793H1709.1M1727.1 793H1775.2M1793.2 793H1841.2M1859.2 793H1907.3M1925.3 793H1973.4M1991.4 793H2039.5M2057.5 793H2105.6M2123.6 793H2171.6M2189.6 793H2237.7M2255.7 793H2303.8M2321.8 793H2369.9M2387.9 793H2436M2454 793H2502M2520 793H2568.1M2586.1 793H2634.2M2652.2 793H2700.3M2718.3 793H2766.4M2784.4 793H2832.4M2850.4 793H2898.5M2916.5 793H2964.6M9 859H57.1M75.1 859H123.2M141.2 859H189.2M207.2 859H255.3M273.3 859H321.4M339.4 859H387.5M405.5 859H453.6M471.6 859H519.6M537.6 859H585.7M603.7 859H651.8M669.8 859H717.9M735.9 859H784M802 859H850M868 859H916.1M934.1 859H982.2M1000.2 859H1048.3M1066.3 859H1114.4M1132.4 859H1180.4M1198.4 859H1246.5M1264.5 859H1312.6M1330.6 859H1378.7M1396.7 859H1444.8M1462.8 859H1510.8M1528.8 859H1576.9M1594.9 859H1643M1661 859H1709.1M1727.1 859H1775.2M1793.2 859H1841.2M1859.2 859H1907.3M1925.3 859H1973.4M1991.4 859H2039.5M2057.5 859H2105.6M2123.6 859H2171.6M2189.6 859H2237.7M2255.7 859H2303.8M2321.8 859H2369.9M2387.9 859H2436M2454 859H2502M2520 859H2568.1M2586.1 859H2634.2M2652.2 859H2700.3M2718.3 859H2766.4M2784.4 859H2832.4M2850.4 859H2898.5M2916.5 859H2964.6M9 925.1H57.1M75.1 925.1H123.2M141.2 925.1H189.2M207.2 925.1H255.3M273.3 925.1H321.4M339.4 925.1H387.5M405.5 925.1H453.6M471.6 925.1H519.6M537.6 925.1H585.7M603.7 925.1H651.8M669.8 925.1H717.9M735.9 925.1H784M802 925.1H850M868 925.1H916.1M934.1 925.1H982.2M1000.2 925.1H1048.3M1066.3 925.1H1114.4M1132.4 925.1H1180.4M1198.4 925.1H1246.5M1264.5 925.1H1312.6M1330.6 925.1H1378.7M1396.7 925.1H1444.8M1462.8 925.1H1510.8M1528.8 925.1H1576.9M1594.9 925.1H1643M1661 925.1H1709.1M1727.1 925.1H1775.2M1793.2 925.1H1841.2M1859.2 925.1H1907.3M1925.3 925.1H1973.4M1991.4 925.1H2039.5M2057.5 925.1H2105.6M2123.6 925.1H2171.6M2189.6 925.1H2237.7M2255.7 925.1H2303.8M2321.8 925.1H2369.9M2387.9 925.1H2436M2454 925.1H2502M2520 925.1H2568.1M2586.1 925.1H2634.2M2652.2 925.1H2700.3M2718.3 925.1H2766.4M2784.4 925.1H2832.4M2850.4 925.1H2898.5M2916.5 925.1H2964.6M9 991.2H57.1M75.1 991.2H123.2M141.2 991.2H189.2M207.2 991.2H255.3M273.3 991.2H321.4M339.4 991.2H387.5M405.5 991.2H453.6M471.6 991.2H519.6M537.6 991.2H585.7M603.7 991.2H651.8M669.8 991.2H717.9M735.9 991.2H784M802 991.2H850M868 991.2H916.1M934.1 991.2H982.2M1000.2 991.2H1048.3M1066.3 991.2H1114.4M1132.4 991.2H1180.4M1198.4 991.2H1246.5M1264.5 991.2H1312.6M1330.6 991.2H1378.7M1396.7 991.2H1444.8M1462.8 991.2H1510.8M1528.8 991.2H1576.9M1594.9 991.2H1643M1661 991.2H1709.1M1727.1 991.2H1775.2M1793.2 991.2H1841.2M1859.2 991.2H1907.3M1925.3 991.2H1973.4M1991.4 991.2H2039.5M2057.5 991.2H2105.6M2123.6 991.2H2171.6M2189.6 991.2H2237.7M2255.7 991.2H2303.8M2321.8 991.2H2369.9M2387.9 991.2H2436M2454 991.2H2502M2520 991.2H2568.1M2586.1 991.2H2634.2M2652.2 991.2H2700.3M2718.3 991.2H2766.4M2784.4 991.2H2832.4M2850.4 991.2H2898.5M2916.5 991.2H2964.6M9 1057.3H57.1M75.1 1057.3H123.2M141.2 1057.3H189.2M207.2 1057.3H255.3M273.3 1057.3H321.4M339.4 1057.3H387.5M405.5 1057.3H453.6M471.6 1057.3H519.6M537.6 1057.3H585.7M603.7 1057.3H651.8M669.8 1057.3H717.9M735.9 1057.3H784M802 1057.3H850M868 1057.3H916.1M934.1 1057.3H982.2M1000.2 1057.3H1048.3M1066.3 1057.3H1114.4M1132.4 1057.3H1180.4M1198.4 1057.3H1246.5M1264.5 1057.3H1312.6M1330.6 1057.3H1378.7M1396.7 1057.3H1444.8M1462.8 1057.3H1510.8M1528.8 1057.3H1576.9M1594.9 1057.3H1643M1661 1057.3H1709.1M1727.1 1057.3H1775.2M1793.2 1057.3H1841.2M1859.2 1057.3H1907.3M1925.3 1057.3H1973.4M1991.4 1057.3H2039.5M2057.5 1057.3H2105.6M2123.6 1057.3H2171.6M2189.6 1057.3H2237.7M2255.7 1057.3H2303.8M2321.8 1057.3H2369.9M2387.9 1057.3H2436M2454 1057.3H2502M2520 1057.3H2568.1M2586.1 1057.3H2634.2M2652.2 1057.3H2700.3M2718.3 1057.3H2766.4M2784.4 1057.3H2832.4M2850.4 1057.3H2898.5M2916.5 1057.3H2964.6M9 1123.4H57.1M75.1 1123.4H123.2M141.2 1123.4H189.2M207.2 1123.4H255.3M273.3 1123.4H321.4M339.4 1123.4H387.5M405.5 1123.4H453.6M471.6 1123.4H519.6M537.6 1123.4H585.7M603.7 1123.4H651.8M669.8 1123.4H717.9M735.9 1123.4H784M802 1123.4H850M868 1123.4H916.1M934.1 1123.4H982.2M1000.2 1123.4H1048.3M1066.3 1123.4H1114.4M1132.4 1123.4H1180.4M1198.4 1123.4H1246.5M1264.5 1123.4H1312.6M1330.6 1123.4H1378.7M1396.7 1123.4H1444.8M1462.8 1123.4H1510.8M1528.8 1123.4H1576.9M1594.9 1123.4H1643M1661 1123.4H1709.1M1727.1 1123.4H1775.2M1793.2 1123.4H1841.2M1859.2 1123.4H1907.3M1925.3 1123.4H1973.4M1991.4 1123.4H2039.5M2057.5 1123.4H2105.6M2123.6 1123.4H2171.6M2189.6 1123.4H2237.7M2255.7 1123.4H2303.8M2321.8 1123.4H2369.9M2387.9 1123.4H2436M2454 1123.4H2502M2520 1123.4H2568.1M2586.1 1123.4H2634.2M2652.2 1123.4H2700.3M2718.3 1123.4H2766.4M2784.4 1123.4H2832.4M2850.4 1123.4H2898.5M2916.5 1123.4H2964.6M9 1189.4H57.1M75.1 1189.4H123.2M141.2 1189.4H189.2M207.2 1189.4H255.3M273.3 1189.4H321.4M339.4 1189.4H387.5M405.5 1189.4H453.6M471.6 1189.4H519.6M537.6 1189.4H585.7M603.7 1189.4H651.8M669.8 1189.4H717.9M735.9 1189.4H784M802 1189.4H850M868 1189.4H916.1M934.1 1189.4H982.2M1000.2 1189.4H1048.3M1066.3 1189.4H1114.4M1132.4 1189.4H1180.4M1198.4 1189.4H1246.5M1264.5 1189.4H1312.6M1330.6 1189.4H1378.7M1396.7 1189.4H1444.8M1462.8 1189.4H1510.8M1528.8 1189.4H1576.9M1594.9 1189.4H1643M1661 1189.4H1709.1M1727.1 1189.4H1775.2M1793.2 1189.4H1841.2M1859.2 1189.4H1907.3M1925.3 1189.4H1973.4M1991.4 1189.4H2039.5M2057.5 1189.4H2105.6M2123.6 1189.4H2171.6M2189.6 1189.4H2237.7M2255.7 1189.4H2303.8M2321.8 1189.4H2369.9M2387.9 1189.4H2436M2454 1189.4H2502M2520 1189.4H2568.1M2586.1 1189.4H2634.2M2652.2 1189.4H2700.3M2718.3 1189.4H2766.4M2784.4 1189.4H2832.4M2850.4 1189.4H2898.5M2916.5 1189.4H2964.6M9 1255.5H57.1M75.1 1255.5H123.2M141.2 1255.5H189.2M207.2 1255.5H255.3M273.3 1255.5H321.4M339.4 1255.5H387.5M405.5 1255.5H453.6M471.6 1255.5H519.6M537.6 1255.5H585.7M603.7 1255.5H651.8M669.8 1255.5H717.9M735.9 1255.5H784M802 1255.5H850M868 1255.5H916.1M934.1 1255.5H982.2M1000.2 1255.5H1048.3M1066.3 1255.5H1114.4M1132.4 1255.5H1180.4M1198.4 1255.5H1246.5M1264.5 1255.5H1312.6M1330.6 1255.5H1378.7M1396.7 1255.5H1444.8M1462.8 1255.5H1510.8M1528.8 1255.5H1576.9M1594.9 1255.5H1643M1661 1255.5H1709.1M1727.1 1255.5H1775.2M1793.2 1255.5H1841.2M1859.2 1255.5H1907.3M1925.3 1255.5H1973.4M1991.4 1255.5H2039.5M2057.5 1255.5H2105.6M2123.6 1255.5H2171.6M2189.6 1255.5H2237.7M2255.7 1255.5H2303.8M2321.8 1255.5H2369.9M2387.9 1255.5H2436M2454 1255.5H2502M2520 1255.5H2568.1M2586.1 1255.5H2634.2M2652.2 1255.5H2700.3M2718.3 1255.5H2766.4M2784.4 1255.5H2832.4M2850.4 1255.5H2898.5M2916.5 1255.5H2964.6M9 1321.6H57.1M75.1 1321.6H123.2M141.2 1321.6H189.2M207.2 1321.6H255.3M273.3 1321.6H321.4M339.4 1321.6H387.5M405.5 1321.6H453.6M471.6 1321.6H519.6M537.6 1321.6H585.7M603.7 1321.6H651.8M669.8 1321.6H717.9M735.9 1321.6H784M802 1321.6H850M868 1321.6H916.1M934.1 1321.6H982.2M1000.2 1321.6H1048.3M1066.3 1321.6H1114.4M1132.4 1321.6H1180.4M1198.4 1321.6H1246.5M1264.5 1321.6H1312.6M1330.6 1321.6H1378.7M1396.7 1321.6H1444.8M1462.8 1321.6H1510.8M1528.8 1321.6H1576.9M1594.9 1321.6H1643M1661 1321.6H1709.1M1727.1 1321.6H1775.2M1793.2 1321.6H1841.2M1859.2 1321.6H1907.3M1925.3 1321.6H1973.4M1991.4 1321.6H2039.5M2057.5 1321.6H2105.6M2123.6 1321.6H2171.6M2189.6 1321.6H2237.7M2255.7 1321.6H2303.8M2321.8 1321.6H2369.9M2387.9 1321.6H2436M2454 1321.6H2502M2520 1321.6H2568.1M2586.1 1321.6H2634.2M2652.2 1321.6H2700.3M2718.3 1321.6H2766.4M2784.4 1321.6H2832.4M2850.4 1321.6H2898.5M2916.5 1321.6H2964.6M9 1387.7H57.1M75.1 1387.7H123.2M141.2 1387.7H189.2M207.2 1387.7H255.3M273.3 1387.7H321.4M339.4 1387.7H387.5M405.5 1387.7H453.6M471.6 1387.7H519.6M537.6 1387.7H585.7M603.7 1387.7H651.8M669.8 1387.7H717.9M735.9 1387.7H784M802 1387.7H850M868 1387.7H916.1M934.1 1387.7H982.2M1000.2 1387.7H1048.3M1066.3 1387.7H1114.4M1132.4 1387.7H1180.4M1198.4 1387.7H1246.5M1264.5 1387.7H1312.6M1330.6 1387.7H1378.7M1396.7 1387.7H1444.8M1462.8 1387.7H1510.8M1528.8 1387.7H1576.9M1594.9 1387.7H1643M1661 1387.7H1709.1M1727.1 1387.7H1775.2M1793.2 1387.7H1841.2M1859.2 1387.7H1907.3M1925.3 1387.7H1973.4M1991.4 1387.7H2039.5M2057.5 1387.7H2105.6M2123.6 1387.7H2171.6M2189.6 1387.7H2237.7M2255.7 1387.7H2303.8M2321.8 1387.7H2369.9M2387.9 1387.7H2436M2454 1387.7H2502M2520 1387.7H2568.1M2586.1 1387.7H2634.2M2652.2 1387.7H2700.3M2718.3 1387.7H2766.4M2784.4 1387.7H2832.4M2850.4 1387.7H2898.5M2916.5 1387.7H2964.6M9 1453.8H57.1M75.1 1453.8H123.2M141.2 1453.8H189.2M207.2 1453.8H255.3M273.3 1453.8H321.4M339.4 1453.8H387.5M405.5 1453.8H453.6M471.6 1453.8H519.6M537.6 1453.8H585.7M603.7 1453.8H651.8M669.8 1453.8H717.9M735.9 1453.8H784M802 1453.8H850M868 1453.8H916.1M934.1 1453.8H982.2M1000.2 1453.8H1048.3M1066.3 1453.8H1114.4M1132.4 1453.8H1180.4M1198.4 1453.8H1246.5M1264.5 1453.8H1312.6M1330.6 1453.8H1378.7M1396.7 1453.8H1444.8M1462.8 1453.8H1510.8M1528.8 1453.8H1576.9M1594.9 1453.8H1643M1661 1453.8H1709.1M1727.1 1453.8H1775.2M1793.2 1453.8H1841.2M1859.2 1453.8H1907.3M1925.3 1453.8H1973.4M1991.4 1453.8H2039.5M2057.5 1453.8H2105.6M2123.6 1453.8H2171.6M2189.6 1453.8H2237.7M2255.7 1453.8H2303.8M2321.8 1453.8H2369.9M2387.9 1453.8H2436M2454 1453.8H2502M2520 1453.8H2568.1M2586.1 1453.8H2634.2M2652.2 1453.8H2700.3M2718.3 1453.8H2766.4M2784.4 1453.8H2832.4M2850.4 1453.8H2898.5M2916.5 1453.8H2964.6M9 1519.8H57.1M75.1 1519.8H123.2M141.2 1519.8H189.2M207.2 1519.8H255.3M273.3 1519.8H321.4M339.4 1519.8H387.5M405.5 1519.8H453.6M471.6 1519.8H519.6M537.6 1519.8H585.7M603.7 1519.8H651.8M669.8 1519.8H717.9M735.9 1519.8H784M802 1519.8H850M868 1519.8H916.1M934.1 1519.8H982.2M1000.2 1519.8H1048.3M1066.3 1519.8H1114.4M1132.4 1519.8H1180.4M1198.4 1519.8H1246.5M1264.5 1519.8H1312.6M1330.6 1519.8H1378.7M1396.7 1519.8H1444.8M1462.8 1519.8H1510.8M1528.8 1519.8H1576.9M1594.9 1519.8H1643M1661 1519.8H1709.1M1727.1 1519.8H1775.2M1793.2 1519.8H1841.2M1859.2 1519.8H1907.3M1925.3 1519.8H1973.4M1991.4 1519.8H2039.5M2057.5 1519.8H2105.6M2123.6 1519.8H2171.6M2189.6 1519.8H2237.7M2255.7 1519.8H2303.8M2321.8 1519.8H2369.9M2387.9 1519.8H2436M2454 1519.8H2502M2520 1519.8H2568.1M2586.1 1519.8H2634.2M2652.2 1519.8H2700.3M2718.3 1519.8H2766.4M2784.4 1519.8H2832.4M2850.4 1519.8H2898.5M2916.5 1519.8H2964.6M9 1585.9H57.1M75.1 1585.9H123.2M141.2 1585.9H189.2M207.2 1585.9H255.3M273.3 1585.9H321.4M339.4 1585.9H387.5M405.5 1585.9H453.6M471.6 1585.9H519.6M537.6 1585.9H585.7M603.7 1585.9H651.8M669.8 1585.9H717.9M735.9 1585.9H784M802 1585.9H850M868 1585.9H916.1M934.1 1585.9H982.2M1000.2 1585.9H1048.3M1066.3 1585.9H1114.4M1132.4 1585.9H1180.4M1198.4 1585.9H1246.5M1264.5 1585.9H1312.6M1330.6 1585.9H1378.7M1396.7 1585.9H1444.8M1462.8 1585.9H1510.8M1528.8 1585.9H1576.9M1594.9 1585.9H1643M1661 1585.9H1709.1M1727.1 1585.9H1775.2M1793.2 1585.9H1841.2M1859.2 1585.9H1907.3M1925.3 1585.9H1973.4M1991.4 1585.9H2039.5M2057.5 1585.9H2105.6M2123.6 1585.9H2171.6M2189.6 1585.9H2237.7M2255.7 1585.9H2303.8M2321.8 1585.9H2369.9M2387.9 1585.9H2436M2454 1585.9H2502M2520 1585.9H2568.1M2586.1 1585.9H2634.2M2652.2 1585.9H2700.3M2718.3 1585.9H2766.4M2784.4 1585.9H2832.4M2850.4 1585.9H2898.5M2916.5 1585.9H2964.6M9 1652H57.1M75.1 1652H123.2M141.2 1652H189.2M207.2 1652H255.3M273.3 1652H321.4M339.4 1652H387.5M405.5 1652H453.6M471.6 1652H519.6M537.6 1652H585.7M603.7 1652H651.8M669.8 1652H717.9M735.9 1652H784M802 1652H850M868 1652H916.1M934.1 1652H982.2M1000.2 1652H1048.3M1066.3 1652H1114.4M1132.4 1652H1180.4M1198.4 1652H1246.5M1264.5 1652H1312.6M1330.6 1652H1378.7M1396.7 1652H1444.8M1462.8 1652H1510.8M1528.8 1652H1576.9M1594.9 1652H1643M1661 1652H1709.1M1727.1 1652H1775.2M1793.2 1652H1841.2M1859.2 1652H1907.3M1925.3 1652H1973.4M1991.4 1652H2039.5M2057.5 1652H2105.6M2123.6 1652H2171.6M2189.6 1652H2237.7M2255.7 1652H2303.8M2321.8 1652H2369.9M2387.9 1652H2436M2454 1652H2502M2520 1652H2568.1M2586.1 1652H2634.2M2652.2 1652H2700.3M2718.3 1652H2766.4M2784.4 1652H2832.4M2850.4 1652H2898.5M2916.5 1652H2964.6M9 1718.1H57.1M75.1 1718.1H123.2M141.2 1718.1H189.2M207.2 1718.1H255.3M273.3 1718.1H321.4M339.4 1718.1H387.5M405.5 1718.1H453.6M471.6 1718.1H519.6M537.6 1718.1H585.7M603.7 1718.1H651.8M669.8 1718.1H717.9M735.9 1718.1H784M802 1718.1H850M868 1718.1H916.1M934.1 1718.1H982.2M1000.2 1718.1H1048.3M1066.3 1718.1H1114.4M1132.4 1718.1H1180.4M1198.4 1718.1H1246.5M1264.5 1718.1H1312.6M1330.6 1718.1H1378.7M1396.7 1718.1H1444.8M1462.8 1718.1H1510.8M1528.8 1718.1H1576.9M1594.9 1718.1H1643M1661 1718.1H1709.1M1727.1 1718.1H1775.2M1793.2 1718.1H1841.2M1859.2 1718.1H1907.3M1925.3 1718.1H1973.4M1991.4 1718.1H2039.5M2057.5 1718.1H2105.6M2123.6 1718.1H2171.6M2189.6 1718.1H2237.7M2255.7 1718.1H2303.8M2321.8 1718.1H2369.9M2387.9 1718.1H2436M2454 1718.1H2502M2520 1718.1H2568.1M2586.1 1718.1H2634.2M2652.2 1718.1H2700.3M2718.3 1718.1H2766.4M2784.4 1718.1H2832.4M2850.4 1718.1H2898.5M2916.5 1718.1H2964.6M9 1784.2H57.1M75.1 1784.2H123.2M141.2 1784.2H189.2M207.2 1784.2H255.3M273.3 1784.2H321.4M339.4 1784.2H387.5M405.5 1784.2H453.6M471.6 1784.2H519.6M537.6 1784.2H585.7M603.7 1784.2H651.8M669.8 1784.2H717.9M735.9 1784.2H784M802 1784.2H850M868 1784.2H916.1M934.1 1784.2H982.2M1000.2 1784.2H1048.3M1066.3 1784.2H1114.4M1132.4 1784.2H1180.4M1198.4 1784.2H1246.5M1264.5 1784.2H1312.6M1330.6 1784.2H1378.7M1396.7 1784.2H1444.8M1462.8 1784.2H1510.8M1528.8 1784.2H1576.9M1594.9 1784.2H1643M1661 1784.2H1709.1M1727.1 1784.2H1775.2M1793.2 1784.2H1841.2M1859.2 1784.2H1907.3M1925.3 1784.2H1973.4M1991.4 1784.2H2039.5M2057.5 1784.2H2105.6M2123.6 1784.2H2171.6M2189.6 1784.2H2237.7M2255.7 1784.2H2303.8M2321.8 1784.2H2369.9M2387.9 1784.2H2436M2454 1784.2H2502M2520 1784.2H2568.1M2586.1 1784.2H2634.2M2652.2 1784.2H2700.3M2718.3 1784.2H2766.4M2784.4 1784.2H2832.4M2850.4 1784.2H2898.5M2916.5 1784.2H2964.6M9 1850.2H57.1M75.1 1850.2H123.2M141.2 1850.2H189.2M207.2 1850.2H255.3M273.3 1850.2H321.4M339.4 1850.2H387.5M405.5 1850.2H453.6M471.6 1850.2H519.6M537.6 1850.2H585.7M603.7 1850.2H651.8M669.8 1850.2H717.9M735.9 1850.2H784M802 1850.2H850M868 1850.2H916.1M934.1 1850.2H982.2M1000.2 1850.2H1048.3M1066.3 1850.2H1114.4M1132.4 1850.2H1180.4M1198.4 1850.2H1246.5M1264.5 1850.2H1312.6M1330.6 1850.2H1378.7M1396.7 1850.2H1444.8M1462.8 1850.2H1510.8M1528.8 1850.2H1576.9M1594.9 1850.2H1643M1661 1850.2H1709.1M1727.1 1850.2H1775.2M1793.2 1850.2H1841.2M1859.2 1850.2H1907.3M1925.3 1850.2H1973.4M1991.4 1850.2H2039.5M2057.5 1850.2H2105.6M2123.6 1850.2H2171.6M2189.6 1850.2H2237.7M2255.7 1850.2H2303.8M2321.8 1850.2H2369.9M2387.9 1850.2H2436M2454 1850.2H2502M2520 1850.2H2568.1M2586.1 1850.2H2634.2M2652.2 1850.2H2700.3M2718.3 1850.2H2766.4M2784.4 1850.2H2832.4M2850.4 1850.2H2898.5M2916.5 1850.2H2964.6M9 1916.3H57.1M75.1 1916.3H123.2M141.2 1916.3H189.2M207.2 1916.3H255.3M273.3 1916.3H321.4M339.4 1916.3H387.5M405.5 1916.3H453.6M471.6 1916.3H519.6M537.6 1916.3H585.7M603.7 1916.3H651.8M669.8 1916.3H717.9M735.9 1916.3H784M802 1916.3H850M868 1916.3H916.1M934.1 1916.3H982.2M1000.2 1916.3H1048.3M1066.3 1916.3H1114.4M1132.4 1916.3H1180.4M1198.4 1916.3H1246.5M1264.5 1916.3H1312.6M1330.6 1916.3H1378.7M1396.7 1916.3H1444.8M1462.8 1916.3H1510.8M1528.8 1916.3H1576.9M1594.9 1916.3H1643M1661 1916.3H1709.1M1727.1 1916.3H1775.2M1793.2 1916.3H1841.2M1859.2 1916.3H1907.3M1925.3 1916.3H1973.4M1991.4 1916.3H2039.5M2057.5 1916.3H2105.6M2123.6 1916.3H2171.6M2189.6 1916.3H2237.7M2255.7 1916.3H2303.8M2321.8 1916.3H2369.9M2387.9 1916.3H2436M2454 1916.3H2502M2520 1916.3H2568.1M2586.1 1916.3H2634.2M2652.2 1916.3H2700.3M2718.3 1916.3H2766.4M2784.4 1916.3H2832.4M2850.4 1916.3H2898.5M2916.5 1916.3H2964.6M9 1982.4H57.1M75.1 1982.4H123.2M141.2 1982.4H189.2M207.2 1982.4H255.3M273.3 1982.4H321.4M339.4 1982.4H387.5M405.5 1982.4H453.6M471.6 1982.4H519.6M537.6 1982.4H585.7M603.7 1982.4H651.8M669.8 1982.4H717.9M735.9 1982.4H784M802 1982.4H850M868 1982.4H916.1M934.1 1982.4H982.2M1000.2 1982.4H1048.3M1066.3 1982.4H1114.4M1132.4 1982.4H1180.4M1198.4 1982.4H1246.5M1264.5 1982.4H1312.6M1330.6 1982.4H1378.7M1396.7 1982.4H1444.8M1462.8 1982.4H1510.8M1528.8 1982.4H1576.9M1594.9 1982.4H1643M1661 1982.4H1709.1M1727.1 1982.4H1775.2M1793.2 1982.4H1841.2M1859.2 1982.4H1907.3M1925.3 1982.4H1973.4M1991.4 1982.4H2039.5M2057.5 1982.4H2105.6M2123.6 1982.4H2171.6M2189.6 1982.4H2237.7M2255.7 1982.4H2303.8M2321.8 1982.4H2369.9M2387.9 1982.4H2436M2454 1982.4H2502M2520 1982.4H2568.1M2586.1 1982.4H2634.2M2652.2 1982.4H2700.3M2718.3 1982.4H2766.4M2784.4 1982.4H2832.4M2850.4 1982.4H2898.5M2916.5 1982.4H2964.6M9 2048.5H57.1M75.1 2048.5H123.2M141.2 2048.5H189.2M207.2 2048.5H255.3M273.3 2048.5H321.4M339.4 2048.5H387.5M405.5 2048.5H453.6M471.6 2048.5H519.6M537.6 2048.5H585.7M603.7 2048.5H651.8M669.8 2048.5H717.9M735.9 2048.5H784M802 2048.5H850M868 2048.5H916.1M934.1 2048.5H982.2M1000.2 2048.5H1048.3M1066.3 2048.5H1114.4M1132.4 2048.5H1180.4M1198.4 2048.5H1246.5M1264.5 2048.5H1312.6M1330.6 2048.5H1378.7M1396.7 2048.5H1444.8M1462.8 2048.5H1510.8M1528.8 2048.5H1576.9M1594.9 2048.5H1643M1661 2048.5H1709.1M1727.1 2048.5H1775.2M1793.2 2048.5H1841.2M1859.2 2048.5H1907.3M1925.3 2048.5H1973.4M1991.4 2048.5H2039.5M2057.5 2048.5H2105.6M2123.6 2048.5H2171.6M2189.6 2048.5H2237.7M2255.7 2048.5H2303.8M2321.8 2048.5H2369.9M2387.9 2048.5H2436M2454 2048.5H2502M2520 2048.5H2568.1M2586.1 2048.5H2634.2M2652.2 2048.5H2700.3M2718.3 2048.5H2766.4M2784.4 2048.5H2832.4M2850.4 2048.5H2898.5M2916.5 2048.5H2964.6M9 2114.6H57.1M75.1 2114.6H123.2M141.2 2114.6H189.2M207.2 2114.6H255.3M273.3 2114.6H321.4M339.4 2114.6H387.5M405.5 2114.6H453.6M471.6 2114.6H519.6M537.6 2114.6H585.7M603.7 2114.6H651.8M669.8 2114.6H717.9M735.9 2114.6H784M802 2114.6H850M868 2114.6H916.1M934.1 2114.6H982.2M1000.2 2114.6H1048.3M1066.3 2114.6H1114.4M1132.4 2114.6H1180.4M1198.4 2114.6H1246.5M1264.5 2114.6H1312.6M1330.6 2114.6H1378.7M1396.7 2114.6H1444.8M1462.8 2114.6H1510.8M1528.8 2114.6H1576.9M1594.9 2114.6H1643M1661 2114.6H1709.1M1727.1 2114.6H1775.2M1793.2 2114.6H1841.2M1859.2 2114.6H1907.3M1925.3 2114.6H1973.4M1991.4 2114.6H2039.5M2057.5 2114.6H2105.6M2123.6 2114.6H2171.6M2189.6 2114.6H2237.7M2255.7 2114.6H2303.8M2321.8 2114.6H2369.9M2387.9 2114.6H2436M2454 2114.6H2502M2520 2114.6H2568.1M2586.1 2114.6H2634.2M2652.2 2114.6H2700.3M2718.3 2114.6H2766.4M2784.4 2114.6H2832.4M2850.4 2114.6H2898.5M2916.5 2114.6H2964.6M9 2180.6H57.1M75.1 2180.6H123.2M141.2 2180.6H189.2M207.2 2180.6H255.3M273.3 2180.6H321.4M339.4 2180.6H387.5M405.5 2180.6H453.6M471.6 2180.6H519.6M537.6 2180.6H585.7M603.7 2180.6H651.8M669.8 2180.6H717.9M735.9 2180.6H784M802 2180.6H850M868 2180.6H916.1M934.1 2180.6H982.2M1000.2 2180.6H1048.3M1066.3 2180.6H1114.4M1132.4 2180.6H1180.4M1198.4 2180.6H1246.5M1264.5 2180.6H1312.6M1330.6 2180.6H1378.7M1396.7 2180.6H1444.8M1462.8 2180.6H1510.8M1528.8 2180.6H1576.9M1594.9 2180.6H1643M1661 2180.6H1709.1M1727.1 2180.6H1775.2M1793.2 2180.6H1841.2M1859.2 2180.6H1907.3M1925.3 2180.6H1973.4M1991.4 2180.6H2039.5M2057.5 2180.6H2105.6M2123.6 2180.6H2171.6M2189.6 2180.6H2237.7M2255.7 2180.6H2303.8M2321.8 2180.6H2369.9M2387.9 2180.6H2436M2454 2180.6H2502M2520 2180.6H2568.1M2586.1 2180.6H2634.2M2652.2 2180.6H2700.3M2718.3 2180.6H2766.4M2784.4 2180.6H2832.4M2850.4 2180.6H2898.5M2916.5 2180.6H2964.6M9 2246.7H57.1M75.1 2246.7H123.2M141.2 2246.7H189.2M207.2 2246.7H255.3M273.3 2246.7H321.4M339.4 2246.7H387.5M405.5 2246.7H453.6M471.6 2246.7H519.6M537.6 2246.7H585.7M603.7 2246.7H651.8M669.8 2246.7H717.9M735.9 2246.7H784M802 2246.7H850M868 2246.7H916.1M934.1 2246.7H982.2M1000.2 2246.7H1048.3M1066.3 2246.7H1114.4M1132.4 2246.7H1180.4M1198.4 2246.7H1246.5M1264.5 2246.7H1312.6M1330.6 2246.7H1378.7M1396.7 2246.7H1444.8M1462.8 2246.7H1510.8M1528.8 2246.7H1576.9M1594.9 2246.7H1643M1661 2246.7H1709.1M1727.1 2246.7H1775.2M1793.2 2246.7H1841.2M1859.2 2246.7H1907.3M1925.3 2246.7H1973.4M1991.4 2246.7H2039.5M2057.5 2246.7H2105.6M2123.6 2246.7H2171.6M2189.6 2246.7H2237.7M2255.7 2246.7H2303.8M2321.8 2246.7H2369.9M2387.9 2246.7H2436M2454 2246.7H2502M2520 2246.7H2568.1M2586.1 2246.7H2634.2M2652.2 2246.7H2700.3M2718.3 2246.7H2766.4M2784.4 2246.7H2832.4M2850.4 2246.7H2898.5M2916.5 2246.7H2964.6M9 2312.8H57.1M75.1 2312.8H123.2M141.2 2312.8H189.2M207.2 2312.8H255.3M273.3 2312.8H321.4M339.4 2312.8H387.5M405.5 2312.8H453.6M471.6 2312.8H519.6M537.6 2312.8H585.7M603.7 2312.8H651.8M669.8 2312.8H717.9M735.9 2312.8H784M802 2312.8H850M868 2312.8H916.1M934.1 2312.8H982.2M1000.2 2312.8H1048.3M1066.3 2312.8H1114.4M1132.4 2312.8H1180.4M1198.4 2312.8H1246.5M1264.5 2312.8H1312.6M1330.6 2312.8H1378.7M1396.7 2312.8H1444.8M1462.8 2312.8H1510.8M1528.8 2312.8H1576.9M1594.9 2312.8H1643M1661 2312.8H1709.1M1727.1 2312.8H1775.2M1793.2 2312.8H1841.2M1859.2 2312.8H1907.3M1925.3 2312.8H1973.4M1991.4 2312.8H2039.5M2057.5 2312.8H2105.6M2123.6 2312.8H2171.6M2189.6 2312.8H2237.7M2255.7 2312.8H2303.8M2321.8 2312.8H2369.9M2387.9 2312.8H2436M2454 2312.8H2502M2520 2312.8H2568.1M2586.1 2312.8H2634.2M2652.2 2312.8H2700.3M2718.3 2312.8H2766.4M2784.4 2312.8H2832.4M2850.4 2312.8H2898.5M2916.5 2312.8H2964.6M9 2378.9H57.1M75.1 2378.9H123.2M141.2 2378.9H189.2M207.2 2378.9H255.3M273.3 2378.9H321.4M339.4 2378.9H387.5M405.5 2378.9H453.6M471.6 2378.9H519.6M537.6 2378.9H585.7M603.7 2378.9H651.8M669.8 2378.9H717.9M735.9 2378.9H784M802 2378.9H850M868 2378.9H916.1M934.1 2378.9H982.2M1000.2 2378.9H1048.3M1066.3 2378.9H1114.4M1132.4 2378.9H1180.4M1198.4 2378.9H1246.5M1264.5 2378.9H1312.6M1330.6 2378.9H1378.7M1396.7 2378.9H1444.8M1462.8 2378.9H1510.8M1528.8 2378.9H1576.9M1594.9 2378.9H1643M1661 2378.9H1709.1M1727.1 2378.9H1775.2M1793.2 2378.9H1841.2M1859.2 2378.9H1907.3M1925.3 2378.9H1973.4M1991.4 2378.9H2039.5M2057.5 2378.9H2105.6M2123.6 2378.9H2171.6M2189.6 2378.9H2237.7M2255.7 2378.9H2303.8M2321.8 2378.9H2369.9M2387.9 2378.9H2436M2454 2378.9H2502M2520 2378.9H2568.1M2586.1 2378.9H2634.2M2652.2 2378.9H2700.3M2718.3 2378.9H2766.4M2784.4 2378.9H2832.4M2850.4 2378.9H2898.5M2916.5 2378.9H2964.6M9 2445H57.1M75.1 2445H123.2M141.2 2445H189.2M207.2 2445H255.3M273.3 2445H321.4M339.4 2445H387.5M405.5 2445H453.6M471.6 2445H519.6M537.6 2445H585.7M603.7 2445H651.8M669.8 2445H717.9M735.9 2445H784M802 2445H850M868 2445H916.1M934.1 2445H982.2M1000.2 2445H1048.3M1066.3 2445H1114.4M1132.4 2445H1180.4M1198.4 2445H1246.5M1264.5 2445H1312.6M1330.6 2445H1378.7M1396.7 2445H1444.8M1462.8 2445H1510.8M1528.8 2445H1576.9M1594.9 2445H1643M1661 2445H1709.1M1727.1 2445H1775.2M1793.2 2445H1841.2M1859.2 2445H1907.3M1925.3 2445H1973.4M1991.4 2445H2039.5M2057.5 2445H2105.6M2123.6 2445H2171.6M2189.6 2445H2237.7M2255.7 2445H2303.8M2321.8 2445H2369.9M2387.9 2445H2436M2454 2445H2502M2520 2445H2568.1M2586.1 2445H2634.2M2652.2 2445H2700.3M2718.3 2445H2766.4M2784.4 2445H2832.4M2850.4 2445H2898.5M2916.5 2445H2964.6M9 2511H57.1M75.1 2511H123.2M141.2 2511H189.2M207.2 2511H255.3M273.3 2511H321.4M339.4 2511H387.5M405.5 2511H453.6M471.6 2511H519.6M537.6 2511H585.7M603.7 2511H651.8M669.8 2511H717.9M735.9 2511H784M802 2511H850M868 2511H916.1M934.1 2511H982.2M1000.2 2511H1048.3M1066.3 2511H1114.4M1132.4 2511H1180.4M1198.4 2511H1246.5M1264.5 2511H1312.6M1330.6 2511H1378.7M1396.7 2511H1444.8M1462.8 2511H1510.8M1528.8 2511H1576.9M1594.9 2511H1643M1661 2511H1709.1M1727.1 2511H1775.2M1793.2 2511H1841.2M1859.2 2511H1907.3M1925.3 2511H1973.4M1991.4 2511H2039.5M2057.5 2511H2105.6M2123.6 2511H2171.6M2189.6 2511H2237.7M2255.7 2511H2303.8M2321.8 2511H2369.9M2387.9 2511H2436M2454 2511H2502M2520 2511H2568.1M2586.1 2511H2634.2M2652.2 2511H2700.3M2718.3 2511H2766.4M2784.4 2511H2832.4M2850.4 2511H2898.5M2916.5 2511H2964.6M9 2577.1H57.1M75.1 2577.1H123.2M141.2 2577.1H189.2M207.2 2577.1H255.3M273.3 2577.1H321.4M339.4 2577.1H387.5M405.5 2577.1H453.6M471.6 2577.1H519.6M537.6 2577.1H585.7M603.7 2577.1H651.8M669.8 2577.1H717.9M735.9 2577.1H784M802 2577.1H850M868 2577.1H916.1M934.1 2577.1H982.2M1000.2 2577.1H1048.3M1066.3 2577.1H1114.4M1132.4 2577.1H1180.4M1198.4 2577.1H1246.5M1264.5 2577.1H1312.6M1330.6 2577.1H1378.7M1396.7 2577.1H1444.8M1462.8 2577.1H1510.8M1528.8 2577.1H1576.9M1594.9 2577.1H1643M1661 2577.1H1709.1M1727.1 2577.1H1775.2M1793.2 2577.1H1841.2M1859.2 2577.1H1907.3M1925.3 2577.1H1973.4M1991.4 2577.1H2039.5M2057.5 2577.1H2105.6M2123.6 2577.1H2171.6M2189.6 2577.1H2237.7M2255.7 2577.1H2303.8M2321.8 2577.1H2369.9M2387.9 2577.1H2436M2454 2577.1H2502M2520 2577.1H2568.1M2586.1 2577.1H2634.2M2652.2 2577.1H2700.3M2718.3 2577.1H2766.4M2784.4 2577.1H2832.4M2850.4 2577.1H2898.5M2916.5 2577.1H2964.6M9 2643.2H57.1M75.1 2643.2H123.2M141.2 2643.2H189.2M207.2 2643.2H255.3M273.3 2643.2H321.4M339.4 2643.2H387.5M405.5 2643.2H453.6M471.6 2643.2H519.6M537.6 2643.2H585.7M603.7 2643.2H651.8M669.8 2643.2H717.9M735.9 2643.2H784M802 2643.2H850M868 2643.2H916.1M934.1 2643.2H982.2M1000.2 2643.2H1048.3M1066.3 2643.2H1114.4M1132.4 2643.2H1180.4M1198.4 2643.2H1246.5M1264.5 2643.2H1312.6M1330.6 2643.2H1378.7M1396.7 2643.2H1444.8M1462.8 2643.2H1510.8M1528.8 2643.2H1576.9M1594.9 2643.2H1643M1661 2643.2H1709.1M1727.1 2643.2H1775.2M1793.2 2643.2H1841.2M1859.2 2643.2H1907.3M1925.3 2643.2H1973.4M1991.4 2643.2H2039.5M2057.5 2643.2H2105.6M2123.6 2643.2H2171.6M2189.6 2643.2H2237.7M2255.7 2643.2H2303.8M2321.8 2643.2H2369.9M2387.9 2643.2H2436M2454 2643.2H2502M2520 2643.2H2568.1M2586.1 2643.2H2634.2M2652.2 2643.2H2700.3M2718.3 2643.2H2766.4M2784.4 2643.2H2832.4M2850.4 2643.2H2898.5M2916.5 2643.2H2964.6M9 2709.3H57.1M75.1 2709.3H123.2M141.2 2709.3H189.2M207.2 2709.3H255.3M273.3 2709.3H321.4M339.4 2709.3H387.5M405.5 2709.3H453.6M471.6 2709.3H519.6M537.6 2709.3H585.7M603.7 2709.3H651.8M669.8 2709.3H717.9M735.9 2709.3H784M802 2709.3H850M868 2709.3H916.1M934.1 2709.3H982.2M1000.2 2709.3H1048.3M1066.3 2709.3H1114.4M1132.4 2709.3H1180.4M1198.4 2709.3H1246.5M1264.5 2709.3H1312.6M1330.6 2709.3H1378.7M1396.7 2709.3H1444.8M1462.8 2709.3H1510.8M1528.8 2709.3H1576.9M1594.9 2709.3H1643M1661 2709.3H1709.1M1727.1 2709.3H1775.2M1793.2 2709.3H1841.2M1859.2 2709.3H1907.3M1925.3 2709.3H1973.4M1991.4 2709.3H2039.5M2057.5 2709.3H2105.6M2123.6 2709.3H2171.6M2189.6 2709.3H2237.7M2255.7 2709.3H2303.8M2321.8 2709.3H2369.9M2387.9 2709.3H2436M2454 2709.3H2502M2520 2709.3H2568.1M2586.1 2709.3H2634.2M2652.2 2709.3H2700.3M2718.3 2709.3H2766.4M2784.4 2709.3H2832.4M2850.4 2709.3H2898.5M2916.5 2709.3H2964.6M9 2775.4H57.1M75.1 2775.4H123.2M141.2 2775.4H189.2M207.2 2775.4H255.3M273.3 2775.4H321.4M339.4 2775.4H387.5M405.5 2775.4H453.6M471.6 2775.4H519.6M537.6 2775.4H585.7M603.7 2775.4H651.8M669.8 2775.4H717.9M735.9 2775.4H784M802 2775.4H850M868 2775.4H916.1M934.1 2775.4H982.2M1000.2 2775.4H1048.3M1066.3 2775.4H1114.4M1132.4 2775.4H1180.4M1198.4 2775.4H1246.5M1264.5 2775.4H1312.6M1330.6 2775.4H1378.7M1396.7 2775.4H1444.8M1462.8 2775.4H1510.8M1528.8 2775.4H1576.9M1594.9 2775.4H1643M1661 2775.4H1709.1M1727.1 2775.4H1775.2M1793.2 2775.4H1841.2M1859.2 2775.4H1907.3M1925.3 2775.4H1973.4M1991.4 2775.4H2039.5M2057.5 2775.4H2105.6M2123.6 2775.4H2171.6M2189.6 2775.4H2237.7M2255.7 2775.4H2303.8M2321.8 2775.4H2369.9M2387.9 2775.4H2436M2454 2775.4H2502M2520 2775.4H2568.1M2586.1 2775.4H2634.2M2652.2 2775.4H2700.3M2718.3 2775.4H2766.4M2784.4 2775.4H2832.4M2850.4 2775.4H2898.5M2916.5 2775.4H2964.6M9 2841.4H57.1M75.1 2841.4H123.2M141.2 2841.4H189.2M207.2 2841.4H255.3M273.3 2841.4H321.4M339.4 2841.4H387.5M405.5 2841.4H453.6M471.6 2841.4H519.6M537.6 2841.4H585.7M603.7 2841.4H651.8M669.8 2841.4H717.9M735.9 2841.4H784M802 2841.4H850M868 2841.4H916.1M934.1 2841.4H982.2M1000.2 2841.4H1048.3M1066.3 2841.4H1114.4M1132.4 2841.4H1180.4M1198.4 2841.4H1246.5M1264.5 2841.4H1312.6M1330.6 2841.4H1378.7M1396.7 2841.4H1444.8M1462.8 2841.4H1510.8M1528.8 2841.4H1576.9M1594.9 2841.4H1643M1661 2841.4H1709.1M1727.1 2841.4H1775.2M1793.2 2841.4H1841.2M1859.2 2841.4H1907.3M1925.3 2841.4H1973.4M1991.4 2841.4H2039.5M2057.5 2841.4H2105.6M2123.6 2841.4H2171.6M2189.6 2841.4H2237.7M2255.7 2841.4H2303.8M2321.8 2841.4H2369.9M2387.9 2841.4H2436M2454 2841.4H2502M2520 2841.4H2568.1M2586.1 2841.4H2634.2M2652.2 2841.4H2700.3M2718.3 2841.4H2766.4M2784.4 2841.4H2832.4M2850.4 2841.4H2898.5M2916.5 2841.4H2964.6M9 2907.5H57.1M75.1 2907.5H123.2M141.2 2907.5H189.2M207.2 2907.5H255.3M273.3 2907.5H321.4M339.4 2907.5H387.5M405.5 2907.5H453.6M471.6 2907.5H519.6M537.6 2907.5H585.7M603.7 2907.5H651.8M669.8 2907.5H717.9M735.9 2907.5H784M802 2907.5H850M868 2907.5H916.1M934.1 2907.5H982.2M1000.2 2907.5H1048.3M1066.3 2907.5H1114.4M1132.4 2907.5H1180.4M1198.4 2907.5H1246.5M1264.5 2907.5H1312.6M1330.6 2907.5H1378.7M1396.7 2907.5H1444.8M1462.8 2907.5H1510.8M1528.8 2907.5H1576.9M1594.9 2907.5H1643M1661 2907.5H1709.1M1727.1 2907.5H1775.2M1793.2 2907.5H1841.2M1859.2 2907.5H1907.3M1925.3 2907.5H1973.4M1991.4 2907.5H2039.5M2057.5 2907.5H2105.6M2123.6 2907.5H2171.6M2189.6 2907.5H2237.7M2255.7 2907.5H2303.8M2321.8 2907.5H2369.9M2387.9 2907.5H2436M2454 2907.5H2502M2520 2907.5H2568.1M2586.1 2907.5H2634.2M2652.2 2907.5H2700.3M2718.3 2907.5H2766.4M2784.4 2907.5H2832.4M2850.4 2907.5H2898.5M2916.5 2907.5H2964.6M9 2973.6H57.1M75.1 2973.6H123.2M141.2 2973.6H189.2M207.2 2973.6H255.3M273.3 2973.6H321.4M339.4 2973.6H387.5M405.5 2973.6H453.6M471.6 2973.6H519.6M537.6 2973.6H585.7M603.7 2973.6H651.8M669.8 2973.6H717.9M735.9 2973.6H784M802 2973.6H850M868 2973.6H916.1M934.1 2973.6H982.2M1000.2 2973.6H1048.3M1066.3 2973.6H1114.4M1132.4 2973.6H1180.4M1198.4 2973.6H1246.5M1264.5 2973.6H1312.6M1330.6 2973.6H1378.7M1396.7 2973.6H1444.8M1462.8 2973.6H1510.8M1528.8 2973.6H1576.9M1594.9 2973.6H1643M1661 2973.6H1709.1M1727.1 2973.6H1775.2M1793.2 2973.6H1841.2M1859.2 2973.6H1907.3M1925.3 2973.6H1973.4M1991.4 2973.6H2039.5M2057.5 2973.6H2105.6M2123.6 2973.6H2171.6M2189.6 2973.6H2237.7M2255.7 2973.6H2303.8M2321.8 2973.6H2369.9M2387.9 2973.6H2436M2454 2973.6H2502M2520 2973.6H2568.1M2586.1 2973.6H2634.2M2652.2 2973.6H2700.3M2718.3 2973.6H2766.4M2784.4 2973.6H2832.4M2850.4 2973.6H2898.5M2916.5 2973.6H2964.6M9 3039.7H57.1M75.1 3039.7H123.2M141.2 3039.7H189.2M207.2 3039.7H255.3M273.3 3039.7H321.4M339.4 3039.7H387.5M405.5 3039.7H453.6M471.6 3039.7H519.6M537.6 3039.7H585.7M603.7 3039.7H651.8M669.8 3039.7H717.9M735.9 3039.7H784M802 3039.7H850M868 3039.7H916.1M934.1 3039.7H982.2M1000.2 3039.7H1048.3M1066.3 3039.7H1114.4M1132.4 3039.7H1180.4M1198.4 3039.7H1246.5M1264.5 3039.7H1312.6M1330.6 3039.7H1378.7M1396.7 3039.7H1444.8M1462.8 3039.7H1510.8M1528.8 3039.7H1576.9M1594.9 3039.7H1643M1661 3039.7H1709.1M1727.1 3039.7H1775.2M1793.2 3039.7H1841.2M1859.2 3039.7H1907.3M1925.3 3039.7H1973.4M1991.4 3039.7H2039.5M2057.5 3039.7H2105.6M2123.6 3039.7H2171.6M2189.6 3039.7H2237.7M2255.7 3039.7H2303.8M2321.8 3039.7H2369.9M2387.9 3039.7H2436M2454 3039.7H2502M2520 3039.7H2568.1M2586.1 3039.7H2634.2M2652.2 3039.7H2700.3M2718.3 3039.7H2766.4M2784.4 3039.7H2832.4M2850.4 3039.7H2898.5M2916.5 3039.7H2964.6M9 3105.8H57.1M75.1 3105.8H123.2M141.2 3105.8H189.2M207.2 3105.8H255.3M273.3 3105.8H321.4M339.4 3105.8H387.5M405.5 3105.8H453.6M471.6 3105.8H519.6M537.6 3105.8H585.7M603.7 3105.8H651.8M669.8 3105.8H717.9M735.9 3105.8H784M802 3105.8H850M868 3105.8H916.1M934.1 3105.8H982.2M1000.2 3105.8H1048.3M1066.3 3105.8H1114.4M1132.4 3105.8H1180.4M1198.4 3105.8H1246.5M1264.5 3105.8H1312.6M1330.6 3105.8H1378.7M1396.7 3105.8H1444.8M1462.8 3105.8H1510.8M1528.8 3105.8H1576.9M1594.9 3105.8H1643M1661 3105.8H1709.1M1727.1 3105.8H1775.2M1793.2 3105.8H1841.2M1859.2 3105.8H1907.3M1925.3 3105.8H1973.4M1991.4 3105.8H2039.5M2057.5 3105.8H2105.6M2123.6 3105.8H2171.6M2189.6 3105.8H2237.7M2255.7 3105.8H2303.8M2321.8 3105.8H2369.9M2387.9 3105.8H2436M2454 3105.8H2502M2520 3105.8H2568.1M2586.1 3105.8H2634.2M2652.2 3105.8H2700.3M2718.3 3105.8H2766.4M2784.4 3105.8H2832.4M2850.4 3105.8H2898.5M2916.5 3105.8H2964.6M9 3171.8H57.1M75.1 3171.8H123.2M141.2 3171.8H189.2M207.2 3171.8H255.3M273.3 3171.8H321.4M339.4 3171.8H387.5M405.5 3171.8H453.6M471.6 3171.8H519.6M537.6 3171.8H585.7M603.7 3171.8H651.8M669.8 3171.8H717.9M735.9 3171.8H784M802 3171.8H850M868 3171.8H916.1M934.1 3171.8H982.2M1000.2 3171.8H1048.3M1066.3 3171.8H1114.4M1132.4 3171.8H1180.4M1198.4 3171.8H1246.5M1264.5 3171.8H1312.6M1330.6 3171.8H1378.7M1396.7 3171.8H1444.8M1462.8 3171.8H1510.8M1528.8 3171.8H1576.9M1594.9 3171.8H1643M1661 3171.8H1709.1M1727.1 3171.8H1775.2M1793.2 3171.8H1841.2M1859.2 3171.8H1907.3M1925.3 3171.8H1973.4M1991.4 3171.8H2039.5M2057.5 3171.8H2105.6M2123.6 3171.8H2171.6M2189.6 3171.8H2237.7M2255.7 3171.8H2303.8M2321.8 3171.8H2369.9M2387.9 3171.8H2436M2454 3171.8H2502M2520 3171.8H2568.1M2586.1 3171.8H2634.2M2652.2 3171.8H2700.3M2718.3 3171.8H2766.4M2784.4 3171.8H2832.4M2850.4 3171.8H2898.5M2916.5 3171.8H2964.6M9 3237.9H57.1M75.1 3237.9H123.2M141.2 3237.9H189.2M207.2 3237.9H255.3M273.3 3237.9H321.4M339.4 3237.9H387.5M405.5 3237.9H453.6M471.6 3237.9H519.6M537.6 3237.9H585.7M603.7 3237.9H651.8M669.8 3237.9H717.9M735.9 3237.9H784M802 3237.9H850M868 3237.9H916.1M934.1 3237.9H982.2M1000.2 3237.9H1048.3M1066.3 3237.9H1114.4M1132.4 3237.9H1180.4M1198.4 3237.9H1246.5M1264.5 3237.9H1312.6M1330.6 3237.9H1378.7M1396.7 3237.9H1444.8M1462.8 3237.9H1510.8M1528.8 3237.9H1576.9M1594.9 3237.9H1643M1661 3237.9H1709.1M1727.1 3237.9H1775.2M1793.2 3237.9H1841.2M1859.2 3237.9H1907.3M1925.3 3237.9H1973.4M1991.4 3237.9H2039.5M2057.5 3237.9H2105.6M2123.6 3237.9H2171.6M2189.6 3237.9H2237.7M2255.7 3237.9H2303.8M2321.8 3237.9H2369.9M2387.9 3237.9H2436M2454 3237.9H2502M2520 3237.9H2568.1M2586.1 3237.9H2634.2M2652.2 3237.9H2700.3M2718.3 3237.9H2766.4M2784.4 3237.9H2832.4M2850.4 3237.9H2898.5M2916.5 3237.9H2964.6M9 3304H57.1M75.1 3304H123.2M141.2 3304H189.2M207.2 3304H255.3M273.3 3304H321.4M339.4 3304H387.5M405.5 3304H453.6M471.6 3304H519.6M537.6 3304H585.7M603.7 3304H651.8M669.8 3304H717.9M735.9 3304H784M802 3304H850M868 3304H916.1M934.1 3304H982.2M1000.2 3304H1048.3M1066.3 3304H1114.4M1132.4 3304H1180.4M1198.4 3304H1246.5M1264.5 3304H1312.6M1330.6 3304H1378.7M1396.7 3304H1444.8M1462.8 3304H1510.8M1528.8 3304H1576.9M1594.9 3304H1643M1661 3304H1709.1M1727.1 3304H1775.2M1793.2 3304H1841.2M1859.2 3304H1907.3M1925.3 3304H1973.4M1991.4 3304H2039.5M2057.5 3304H2105.6M2123.6 3304H2171.6M2189.6 3304H2237.7M2255.7 3304H2303.8M2321.8 3304H2369.9M2387.9 3304H2436M2454 3304H2502M2520 3304H2568.1M2586.1 3304H2634.2M2652.2 3304H2700.3M2718.3 3304H2766.4M2784.4 3304H2832.4M2850.4 3304H2898.5M2916.5 3304H2964.6M9 3370.1H57.1M75.1 3370.1H123.2M141.2 3370.1H189.2M207.2 3370.1H255.3M273.3 3370.1H321.4M339.4 3370.1H387.5M405.5 3370.1H453.6M471.6 3370.1H519.6M537.6 3370.1H585.7M603.7 3370.1H651.8M669.8 3370.1H717.9M735.9 3370.1H784M802 3370.1H850M868 3370.1H916.1M934.1 3370.1H982.2M1000.2 3370.1H1048.3M1066.3 3370.1H1114.4M1132.4 3370.1H1180.4M1198.4 3370.1H1246.5M1264.5 3370.1H1312.6M1330.6 3370.1H1378.7M1396.7 3370.1H1444.8M1462.8 3370.1H1510.8M1528.8 3370.1H1576.9M1594.9 3370.1H1643M1661 3370.1H1709.1M1727.1 3370.1H1775.2M1793.2 3370.1H1841.2M1859.2 3370.1H1907.3M1925.3 3370.1H1973.4M1991.4 3370.1H2039.5M2057.5 3370.1H2105.6M2123.6 3370.1H2171.6M2189.6 3370.1H2237.7M2255.7 3370.1H2303.8M2321.8 3370.1H2369.9M2387.9 3370.1H2436M2454 3370.1H2502M2520 3370.1H2568.1M2586.1 3370.1H2634.2M2652.2 3370.1H2700.3M2718.3 3370.1H2766.4M2784.4 3370.1H2832.4M2850.4 3370.1H2898.5M2916.5 3370.1H2964.6M9 3436.2H57.1M75.1 3436.2H123.2M141.2 3436.2H189.2M207.2 3436.2H255.3M273.3 3436.2H321.4M339.4 3436.2H387.5M405.5 3436.2H453.6M471.6 3436.2H519.6M537.6 3436.2H585.7M603.7 3436.2H651.8M669.8 3436.2H717.9M735.9 3436.2H784M802 3436.2H850M868 3436.2H916.1M934.1 3436.2H982.2M1000.2 3436.2H1048.3M1066.3 3436.2H1114.4M1132.4 3436.2H1180.4M1198.4 3436.2H1246.5M1264.5 3436.2H1312.6M1330.6 3436.2H1378.7M1396.7 3436.2H1444.8M1462.8 3436.2H1510.8M1528.8 3436.2H1576.9M1594.9 3436.2H1643M1661 3436.2H1709.1M1727.1 3436.2H1775.2M1793.2 3436.2H1841.2M1859.2 3436.2H1907.3M1925.3 3436.2H1973.4M1991.4 3436.2H2039.5M2057.5 3436.2H2105.6M2123.6 3436.2H2171.6M2189.6 3436.2H2237.7M2255.7 3436.2H2303.8M2321.8 3436.2H2369.9M2387.9 3436.2H2436M2454 3436.2H2502M2520 3436.2H2568.1M2586.1 3436.2H2634.2M2652.2 3436.2H2700.3M2718.3 3436.2H2766.4M2784.4 3436.2H2832.4M2850.4 3436.2H2898.5M2916.5 3436.2H2964.6M9 3502.2H57.1M75.1 3502.2H123.2M141.2 3502.2H189.2M207.2 3502.2H255.3M273.3 3502.2H321.4M339.4 3502.2H387.5M405.5 3502.2H453.6M471.6 3502.2H519.6M537.6 3502.2H585.7M603.7 3502.2H651.8M669.8 3502.2H717.9M735.9 3502.2H784M802 3502.2H850M868 3502.2H916.1M934.1 3502.2H982.2M1000.2 3502.2H1048.3M1066.3 3502.2H1114.4M1132.4 3502.2H1180.4M1198.4 3502.2H1246.5M1264.5 3502.2H1312.6M1330.6 3502.2H1378.7M1396.7 3502.2H1444.8M1462.8 3502.2H1510.8M1528.8 3502.2H1576.9M1594.9 3502.2H1643M1661 3502.2H1709.1M1727.1 3502.2H1775.2M1793.2 3502.2H1841.2M1859.2 3502.2H1907.3M1925.3 3502.2H1973.4M1991.4 3502.2H2039.5M2057.5 3502.2H2105.6M2123.6 3502.2H2171.6M2189.6 3502.2H2237.7M2255.7 3502.2H2303.8M2321.8 3502.2H2369.9M2387.9 3502.2H2436M2454 3502.2H2502M2520 3502.2H2568.1M2586.1 3502.2H2634.2M2652.2 3502.2H2700.3M2718.3 3502.2H2766.4M2784.4 3502.2H2832.4M2850.4 3502.2H2898.5M2916.5 3502.2H2964.6M9 3568.3H57.1M75.1 3568.3H123.2M141.2 3568.3H189.2M207.2 3568.3H255.3M273.3 3568.3H321.4M339.4 3568.3H387.5M405.5 3568.3H453.6M471.6 3568.3H519.6M537.6 3568.3H585.7M603.7 3568.3H651.8M669.8 3568.3H717.9M735.9 3568.3H784M802 3568.3H850M868 3568.3H916.1M934.1 3568.3H982.2M1000.2 3568.3H1048.3M1066.3 3568.3H1114.4M1132.4 3568.3H1180.4M1198.4 3568.3H1246.5M1264.5 3568.3H1312.6M1330.6 3568.3H1378.7M1396.7 3568.3H1444.8M1462.8 3568.3H1510.8M1528.8 3568.3H1576.9M1594.9 3568.3H1643M1661 3568.3H1709.1M1727.1 3568.3H1775.2M1793.2 3568.3H1841.2M1859.2 3568.3H1907.3M1925.3 3568.3H1973.4M1991.4 3568.3H2039.5M2057.5 3568.3H2105.6M2123.6 3568.3H2171.6M2189.6 3568.3H2237.7M2255.7 3568.3H2303.8M2321.8 3568.3H2369.9M2387.9 3568.3H2436M2454 3568.3H2502M2520 3568.3H2568.1M2586.1 3568.3H2634.2M2652.2 3568.3H2700.3M2718.3 3568.3H2766.4M2784.4 3568.3H2832.4M2850.4 3568.3H2898.5M2916.5 3568.3H2964.6M9 3634.4H57.1M75.1 3634.4H123.2M141.2 3634.4H189.2M207.2 3634.4H255.3M273.3 3634.4H321.4M339.4 3634.4H387.5M405.5 3634.4H453.6M471.6 3634.4H519.6M537.6 3634.4H585.7M603.7 3634.4H651.8M669.8 3634.4H717.9M735.9 3634.4H784M802 3634.4H850M868 3634.4H916.1M934.1 3634.4H982.2M1000.2 3634.4H1048.3M1066.3 3634.4H1114.4M1132.4 3634.4H1180.4M1198.4 3634.4H1246.5M1264.5 3634.4H1312.6M1330.6 3634.4H1378.7M1396.7 3634.4H1444.8M1462.8 3634.4H1510.8M1528.8 3634.4H1576.9M1594.9 3634.4H1643M1661 3634.4H1709.1M1727.1 3634.4H1775.2M1793.2 3634.4H1841.2M1859.2 3634.4H1907.3M1925.3 3634.4H1973.4M1991.4 3634.4H2039.5M2057.5 3634.4H2105.6M2123.6 3634.4H2171.6M2189.6 3634.4H2237.7M2255.7 3634.4H2303.8M2321.8 3634.4H2369.9M2387.9 3634.4H2436M2454 3634.4H2502M2520 3634.4H2568.1M2586.1 3634.4H2634.2M2652.2 3634.4H2700.3M2718.3 3634.4H2766.4M2784.4 3634.4H2832.4M2850.4 3634.4H2898.5M2916.5 3634.4H2964.6M9 3700.5H57.1M75.1 3700.5H123.2M141.2 3700.5H189.2M207.2 3700.5H255.3M273.3 3700.5H321.4M339.4 3700.5H387.5M405.5 3700.5H453.6M471.6 3700.5H519.6M537.6 3700.5H585.7M603.7 3700.5H651.8M669.8 3700.5H717.9M735.9 3700.5H784M802 3700.5H850M868 3700.5H916.1M934.1 3700.5H982.2M1000.2 3700.5H1048.3M1066.3 3700.5H1114.4M1132.4 3700.5H1180.4M1198.4 3700.5H1246.5M1264.5 3700.5H1312.6M1330.6 3700.5H1378.7M1396.7 3700.5H1444.8M1462.8 3700.5H1510.8M1528.8 3700.5H1576.9M1594.9 3700.5H1643M1661 3700.5H1709.1M1727.1 3700.5H1775.2M1793.2 3700.5H1841.2M1859.2 3700.5H1907.3M1925.3 3700.5H1973.4M1991.4 3700.5H2039.5M2057.5 3700.5H2105.6M2123.6 3700.5H2171.6M2189.6 3700.5H2237.7M2255.7 3700.5H2303.8M2321.8 3700.5H2369.9M2387.9 3700.5H2436M2454 3700.5H2502M2520 3700.5H2568.1M2586.1 3700.5H2634.2M2652.2 3700.5H2700.3M2718.3 3700.5H2766.4M2784.4 3700.5H2832.4M2850.4 3700.5H2898.5M2916.5 3700.5H2964.6M9 3766.6H57.1M75.1 3766.6H123.2M141.2 3766.6H189.2M207.2 3766.6H255.3M273.3 3766.6H321.4M339.4 3766.6H387.5M405.5 3766.6H453.6M471.6 3766.6H519.6M537.6 3766.6H585.7M603.7 3766.6H651.8M669.8 3766.6H717.9M735.9 3766.6H784M802 3766.6H850M868 3766.6H916.1M934.1 3766.6H982.2M1000.2 3766.6H1048.3M1066.3 3766.6H1114.4M1132.4 3766.6H1180.4M1198.4 3766.6H1246.5M1264.5 3766.6H1312.6M1330.6 3766.6H1378.7M1396.7 3766.6H1444.8M1462.8 3766.6H1510.8M1528.8 3766.6H1576.9M1594.9 3766.6H1643M1661 3766.6H1709.1M1727.1 3766.6H1775.2M1793.2 3766.6H1841.2M1859.2 3766.6H1907.3M1925.3 3766.6H1973.4M1991.4 3766.6H2039.5M2057.5 3766.6H2105.6M2123.6 3766.6H2171.6M2189.6 3766.6H2237.7M2255.7 3766.6H2303.8M2321.8 3766.6H2369.9M2387.9 3766.6H2436M2454 3766.6H2502M2520 3766.6H2568.1M2586.1 3766.6H2634.2M2652.2 3766.6H2700.3M2718.3 3766.6H2766.4M2784.4 3766.6H2832.4M2850.4 3766.6H2898.5M2916.5 3766.6H2964.6M9 3832.6H57.1M75.1 3832.6H123.2M141.2 3832.6H189.2M207.2 3832.6H255.3M273.3 3832.6H321.4M339.4 3832.6H387.5M405.5 3832.6H453.6M471.6 3832.6H519.6M537.6 3832.6H585.7M603.7 3832.6H651.8M669.8 3832.6H717.9M735.9 3832.6H784M802 3832.6H850M868 3832.6H916.1M934.1 3832.6H982.2M1000.2 3832.6H1048.3M1066.3 3832.6H1114.4M1132.4 3832.6H1180.4M1198.4 3832.6H1246.5M1264.5 3832.6H1312.6M1330.6 3832.6H1378.7M1396.7 3832.6H1444.8M1462.8 3832.6H1510.8M1528.8 3832.6H1576.9M1594.9 3832.6H1643M1661 3832.6H1709.1M1727.1 3832.6H1775.2M1793.2 3832.6H1841.2M1859.2 3832.6H1907.3M1925.3 3832.6H1973.4M1991.4 3832.6H2039.5M2057.5 3832.6H2105.6M2123.6 3832.6H2171.6M2189.6 3832.6H2237.7M2255.7 3832.6H2303.8M2321.8 3832.6H2369.9M2387.9 3832.6H2436M2454 3832.6H2502M2520 3832.6H2568.1M2586.1 3832.6H2634.2M2652.2 3832.6H2700.3M2718.3 3832.6H2766.4M2784.4 3832.6H2832.4M2850.4 3832.6H2898.5M2916.5 3832.6H2964.6M9 3898.7H57.1M75.1 3898.7H123.2M141.2 3898.7H189.2M207.2 3898.7H255.3M273.3 3898.7H321.4M339.4 3898.7H387.5M405.5 3898.7H453.6M471.6 3898.7H519.6M537.6 3898.7H585.7M603.7 3898.7H651.8M669.8 3898.7H717.9M735.9 3898.7H784M802 3898.7H850M868 3898.7H916.1M934.1 3898.7H982.2M1000.2 3898.7H1048.3M1066.3 3898.7H1114.4M1132.4 3898.7H1180.4M1198.4 3898.7H1246.5M1264.5 3898.7H1312.6M1330.6 3898.7H1378.7M1396.7 3898.7H1444.8M1462.8 3898.7H1510.8M1528.8 3898.7H1576.9M1594.9 3898.7H1643M1661 3898.7H1709.1M1727.1 3898.7H1775.2M1793.2 3898.7H1841.2M1859.2 3898.7H1907.3M1925.3 3898.7H1973.4M1991.4 3898.7H2039.5M2057.5 3898.7H2105.6M2123.6 3898.7H2171.6M2189.6 3898.7H2237.7M2255.7 3898.7H2303.8M2321.8 3898.7H2369.9M2387.9 3898.7H2436M2454 3898.7H2502M2520 3898.7H2568.1M2586.1 3898.7H2634.2M2652.2 3898.7H2700.3M2718.3 3898.7H2766.4M2784.4 3898.7H2832.4M2850.4 3898.7H2898.5M2916.5 3898.7H2964.6M9 3964.8H57.1M75.1 3964.8H123.2M141.2 3964.8H189.2M207.2 3964.8H255.3M273.3 3964.8H321.4M339.4 3964.8H387.5M405.5 3964.8H453.6M471.6 3964.8H519.6M537.6 3964.8H585.7M603.7 3964.8H651.8M669.8 3964.8H717.9M735.9 3964.8H784M802 3964.8H850M868 3964.8H916.1M934.1 3964.8H982.2M1000.2 3964.8H1048.3M1066.3 3964.8H1114.4M1132.4 3964.8H1180.4M1198.4 3964.8H1246.5M1264.5 3964.8H1312.6M1330.6 3964.8H1378.7M1396.7 3964.8H1444.8M1462.8 3964.8H1510.8M1528.8 3964.8H1576.9M1594.9 3964.8H1643M1661 3964.8H1709.1M1727.1 3964.8H1775.2M1793.2 3964.8H1841.2M1859.2 3964.8H1907.3M1925.3 3964.8H1973.4M1991.4 3964.8H2039.5M2057.5 3964.8H2105.6M2123.6 3964.8H2171.6M2189.6 3964.8H2237.7M2255.7 3964.8H2303.8M2321.8 3964.8H2369.9M2387.9 3964.8H2436M2454 3964.8H2502M2520 3964.8H2568.1M2586.1 3964.8H2634.2M2652.2 3964.8H2700.3M2718.3 3964.8H2766.4M2784.4 3964.8H2832.4M2850.4 3964.8H2898.5M2916.5 3964.8H2964.6" stroke="#e8e8e8" stroke-width="2.4" fill="none"/>
<polygon points="2947,2310 2690,2310 2560,2400 2400,2490 2312,2520 2187,2594 2062,2681 2000,2750 1956,2843 1925,3000 1900,3187 1875,3312 1719,3374 1594,3474 1500,3562 1400,3700 1250,3800 1100,3850 0,3856 -100,3856 -100,4100 3100,4100 3100,2310" fill="#fff" filter="url(#bl2)"/>
<g filter="url(#bl)" fill="#fff" stroke="#fff" stroke-width="46" stroke-linejoin="round"><polygon points="722.9,483.1 695.7,480.7 690.2,464.9 659.3,422.5 662.4,335.4 645.7,328.7 644.2,262.1 667.5,259.1 665.4,192.5 702.3,125.9 707.8,107.8 727.4,85.1 750.8,92.6 756.2,65.4 826.4,60 836.4,23 877.3,26.7 883.9,60.9 925.7,65.4 972.6,85.1 978.7,92.6 1004.4,87.2 1031,139.6 1013.5,153.2 1025.6,189.5 1055.8,194.9 1062.5,207.7 1055.8,292.4 1059.5,365 1063.7,371.7 1061.9,443.7 1043.7,464.9 1025.6,495.2 999.8,501.8 990.8,495.8 987.7,410.4 980.2,392.9 987.7,389.2 986.2,283.3 992.9,280.3 987.7,194 925.7,130.5 794,130.5 725.9,195.5 725.9,259.1 744.1,262.1 744.1,334.8 727.4,335.4"/><polygon points="791,455.8 821.3,453.4 825.8,464.9 890.9,458.9 893.9,451.3 925.7,453.4 928.7,507.9 899.1,510.9 892.4,526.1 859.1,532.1 819.8,529.1 808.3,510.9 792.5,504.9"/><polygon points="1533.2,523.9 1522.6,531.5 1501.4,498.2 1493.8,504.3 1469.6,474 1487.8,455.8 1452.1,422.5 1450.8,259.1 1418.2,250 1428.8,188 1463.6,189.5 1468.1,168.3 1453,145.6 1490.8,103.2 1515,122.9 1557.4,83.6 1589.2,85.1 1586.1,56.3 1651.2,45.7 1699.6,54.8 1698.1,85.1 1758.7,91.1 1761.7,113.8 1817.7,156.2 1823.7,192.5 1835.8,198.6 1851,244 1852.5,286.3 1838.9,310.6 1835.8,480 1811.6,516.4 1802.5,522.4 1781.4,549.7 1770.8,540.6 1776.8,525.4 1784.4,516.4 1782.9,262.1 1714.8,262.1 1714.8,216.1 1587.7,216.1 1587.7,263.6 1518,263.6 1522.6,352.9 1525.6,443.7"/><polygon points="1024.4,673.9 1138,648.5 1154.9,709.5 1176.9,704.4 1246.4,706.1 1260,723.1 1268.5,723.1 1270.2,673.9 1376.9,672.2 1380.3,726.4 1393.9,721.4 1402.4,711.2 1393.6,711.7 1418.7,715.6 1438.1,698.1 1459.4,700.1 1463.3,723.3 1482.7,727.2 1521.4,647.7 1620.2,684.6 1600.8,746.5 1616.3,742.7 1631.8,756.2 1628,795 1647.3,793 1678.3,824 1668.6,857 1647.3,876.3 1651.2,984.8 1628,990.6 1629.9,1042.9 1614.4,1046.8 1628,1054.6 1647.3,1054.6 1651.2,1097.2 1699.6,1145.6 1678.3,1176.6 1676.4,1205.7 1651.2,1211.5 1628,1230.9 1608.6,1252.2 1562.1,1248.3 1542.7,1228.9 1540.8,1225.8 1529.2,1221.2 1507.9,1259.9 1480.7,1275.4 1403.2,1267.7 1380,1256 1383.7,1255.3 1382,1128.1 1265.1,1128.1 1265.1,1250.2 1254.9,1250.2 1239.7,1256.9 1232.9,1275.6 1200.7,1273.9 1199,1246.8 1190.5,1246.8 1185.4,1272.2 1127.8,1270.5 1117.6,1260.3 1097.3,1240 1093.9,1240 1082,1246.8 1063.4,1246.8 1056.6,1253.6 1022.7,1250.2 1015.9,1240 970.2,1233.2 975.3,1216.3 961.7,1209.5 960,1175.6 944.7,1168.8 938,1145.1 961.7,1131.5 956.6,1111.2 965.1,1094.2 982,1080.7 975.3,1070.5 980.3,1053.6 1017.6,1051.9 1019.3,992.5 995.6,985.8 995.6,938.3 978.6,911.2 988.8,877.3 976.9,879 965.1,870.5 975.3,836.6 995.6,836.6 990.5,823.1 999,806.1 992.2,787.5 997.3,779 1009.2,779 1027.8,741.7 1044.7,743.4"/><polygon points="1703.5,822.1 1721,810.5 1761.6,812.4 1781,795 1841.1,814.4 1883.7,833.7 1937.9,851.2 1951.5,839.5 1970.9,860.8 1937.9,882.2 1961.2,915.1 1982.5,903.5 1996,919 1974.7,946.1 1984.4,982.9 2001.9,984.8 2003.8,1017.8 1982.5,1017.8 1974.7,1085.6 1957.3,1143.7 1899.2,1182.4 1837.2,1197.9 1775.2,1225 1717.1,1225 1701.6,1176.6 1717.9,1158.4 1713.2,1140.6 1665.9,1095.2 1662.8,1063.1 1674.5,1060.4 1674.5,986.8 1651.2,984.8 1666.7,950 1659,948 1668.6,889.9 1690,895.7 1701.6,864.7 1690,857"/><polygon points="991.5,1988.8 931.6,1970.6 921.2,1887.3 944.7,1871.7 934.2,1741.5 908.2,1731.1 905.6,1663.4 934.2,1655.6 931.6,1614 994.1,1577.5 970.7,1509.9 1113.8,1468.2 1134.7,1507.3 1197.1,1509.9 1236.2,1481.2 1254.4,1489 1384.5,1491.6 1387.1,1478.6 1415.8,1481.2 1421,1533.3 1441.8,1509.9 1506.9,1517.7 1538.1,1465.6 1681.3,1533.3 1665.6,1577.5 1702.1,1601 1725.5,1637.4 1715.1,1751.9 1702.1,1772.7 1702.1,1897.7 1722.9,1905.5 1712.5,1941.9 1655.2,1968 1652.6,1918.5 1587.6,1915.9 1587.6,1715.5 1657.8,1710.3 1657.8,1655.6 1585,1650.4 1585,1585.3 1522.5,1585.3 1522.5,1645.2 1387.1,1647.8 1387.1,1585.3 1257,1585.3 1254.4,1653 1129.5,1650.4 1126.9,1587.9 1056.6,1587.9 1056.6,1645.2 991.5,1647.8 994.1,1712.9 1054,1715.5 1059.2,1915.9 994.1,1918.5"/><polygon points="1001.9,1988.8 1061.8,1970.6 1202.3,1978.4 1582.3,1975.8 1642.2,1983.6 1608.4,2007 1582.3,2009.6 1483.4,2048.6 1337.7,2064.3 1191.9,2056.5 1181.5,2027.8 1074.8,2012.2 1072.2,1996.6"/><polygon points="1014.3,2313.4 1058,2336.4 1071.8,2313.4 1191.4,2253.6 1253.5,2251.3 1255.8,2228.3 1391.5,2226 1396.1,2249 1428.3,2249 1453.6,2237.5 1485.8,2203 1561.7,2237.5 1536.4,2290.4 1561.7,2288.1 1566.3,2308.8 1610,2313.4 1651.4,2350.2 1660.6,2474.4 1660.6,2504.3 1653.7,2508.9 1651.4,2594 1630.7,2658.4 1603.1,2683.7 1596.2,2713.6 1483.5,2782.6 1460.5,2764.2 1283.4,2759.6 1200.6,2757.3 1170.7,2775.7 1097.1,2736.6 1092.5,2715.9 1023.5,2679.1 1023.5,2644.6 989,2612.4 986.7,2543.4 970.6,2538.8 970.6,2497.4 986.7,2492.8 986.7,2430.7 938.4,2396.2"/><polygon points="1056.8,2976.2 1044.6,2981.1 1022.1,2966.6 954.7,2982.7 941.9,3008.3 884.2,3021.2 852.1,3021.2 834.4,3082.1 852.1,3088.5 844.1,3136.7 853.7,3204 868.1,3226.5 831.2,3255.4 844.1,3293.9 869.7,3306.7 909.8,3285.8 922.7,3289 930.7,3303.5 919.5,3314.7 930.7,3332.4 945.1,3329.1 946.7,3345.2 983.6,3359.6 1041.4,3335.6 1058,3303.5 1060,3168.7 1055.8,3075.7 1049.4,3046.8 1054.2,3030.8"/><polygon points="1068.6,2953.8 1164.9,2921.7 1179.3,2924.9 1180.9,2941 1217.8,2944.2 1225.8,2934.5 1235.5,2937.7 1237.1,2949 1256.3,2949 1259.5,2966.6 1261.1,3290.7 1203.4,3374.1 1099.1,3374.1 1078.3,3364.4 1070.2,3306.7 1076.7,3290.7 1073.4,3232.9 1067,3226.5 1070.2,3101.4 1065.4,3088.5 1070.2,3078.9"/><polygon points="1237.1,2913.7 1259.5,2897.6 1350,2904.1 1390.6,2904.1 1390.6,2944.2 1385.8,2973 1259.5,2966.6 1256.3,2949 1249.9,2941"/><polygon points="1211.4,3370.9 1265.9,3346.8 1288.4,3370.9 1350,3369.3 1352.1,3367.6 1384.2,3345.2 1432.3,3370.9 1409.8,3383.7 1406.6,3396.5 1342.5,3422.2 1350,3425.4 1288.4,3419 1240.3,3406.1 1237.1,3390.1"/><polygon points="1390.6,2944.2 1440.3,2937.7 1443.5,2942.6 1490,2939.4 1501.3,2921.7 1541.4,2928.1 1541.4,2947.4 1570.2,2957 1584.7,2942.6 1595.9,2955.4 1587.9,2966.6 1586.3,3091.7 1595.9,3101.4 1594.3,3168.7 1587.9,3178.4 1591.1,3277.8 1586.3,3329.1 1557.4,3354.8 1554.2,3372.5 1509.3,3385.3 1494.8,3370.9 1461.2,3367.6 1432.3,3367.6 1385.8,3300.3 1377.7,3258.6 1377.7,3196 1385.8,3188 1384.2,2973"/><polygon points="1597.5,2965 1618.4,2950.6 1655.3,2949 1701.8,2974.6 1695.4,3008.3 1753.1,3072.5 1818.9,3075.7 1822.1,3098.2 1815.7,3101.4 1815.7,3188 1769.1,3192.8 1765.9,3210.4 1774,3213.7 1764.3,3248.9 1737.1,3290.7 1709.8,3309.9 1709.8,3351.6 1640.8,3375.7 1600.7,3330.8 1602.3,3248.9 1594.3,3242.5 1597.5,3101.4 1602.3,3021.2 1595.9,3014.7"/><polygon points="535.9,1717.3 537.6,1710.5 525.8,1713.9 520.7,1649.5 546.1,1630.8 537.6,1527.5 444.4,1508.8 417.3,1508.8 413.9,1520.7 369.8,1525.8 363.1,1558 332.5,1580 293.6,1588.5 288.5,1600.3 263.1,1602 239.3,1669.8 293.6,1669.8 295.3,1727.5 307.1,1730.8 308.8,1751.2 296.9,1754.6 302,1778.3 244.4,1830.8 296.9,1874.9 315.6,1866.4 330.8,1891.9 312.2,1908.8 310.5,1983.4 273.2,1998.6 266.4,2063.1 281.7,2066.4 278.3,2100.3 261.4,2107.1 254.6,2240 256.3,2244.1 302,2271.2 312.2,2349.2 322.4,2376.3 281.7,2403.4 278.3,2444.1 244.4,2450.8 222.4,2467.8 220.7,2518.6 208.8,2525.4 207.1,2567.8 230.8,2574.6 235.9,2606.8 252.9,2616.9 288.5,2611.9 293.6,2674.6 259.7,2701.7 266.4,2823.7 261.4,2844.1 295.3,2891.5 300.3,2922 315.6,2932.2 288.5,2960 287.8,2959.9 235.9,2983.9 225.9,3019.9 229.9,3111.7 239.9,3127.7 235.9,3179.7 229.9,3187.7 227.9,3235.6 187.9,3371.4 191.1,3374.2 227.1,3478 299.2,3480.1 347.9,3486.4 375.4,3478 481.4,3478 500.4,3478 568.2,3465.3 676.3,3380.5 673.3,3371.4 653.4,3259.6 643.4,3255.6 643.4,3179.7 639.4,3071.8 603.4,3011.9 573.5,2999.9 567.5,2951.9 595.4,2951.9 613.9,2932.2 600.3,2925.4 603.7,2888.1 622.4,2881.4 620.7,2818.6 593.6,2810.2 591.9,2749.2 603.7,2745.8 600.3,2674.6 591.9,2649.2 602,2650.8 624.1,2613.6 624.1,2579.7 635.9,2572.9 634.2,2550.8 624.1,2545.8 617.3,2472.9 580,2462.7 573.2,2461 569.8,2437.3 551.2,2413.6 571.5,2376.3 566.4,2349.2 535.9,2323.7 532.5,2200 529.2,2056.3 525.8,1985.1 507.1,1968.1 512.2,1908.8 539.3,1903.7 551.2,1873.2 544.4,1851.2 532.5,1842.7 530.8,1781.7 459.7,1780 396.9,1781.7 383.4,1778.3 376.6,1707.1 390.2,1691.9 432.5,1674.9 478.3,1696.9 498.6,1707.1 512.2,1724.1"/><polygon points="2241.3,1066.8 2232.9,1066.8 2234.3,1061.3 2246.8,1055.7 2246.8,1027.8 2252.4,1022.3 2269.1,1022.3 2263.5,983.3 2249.6,958.2 2234.3,952.7 2191.1,927.6 2182.8,924.8 2154.9,931.8 2138.2,935.9 2129.9,949.9 2124.3,974.9 2110.4,988.9 2093.7,1000 2065.8,994.4 2046.3,980.5 2040.8,949.9 2054.7,919.2 2079.7,887.2 2138.2,885.8 2173,803.7 2273.3,832.9 2266.3,888.6 2280.2,884.4 2333.2,910.9 2342.9,931.8 2324.8,944.3 2324.8,955.4 2359.6,956.8 2361,991.6 2355.4,1061.3 2333.2,1064 2323.4,1139.2 2337.3,1144.8 2335.9,1181 2319.2,1182.4 2298.3,1291 2284.4,1292.4 2292.8,1384.3 2305.3,1396.7 2308.1,1425.9 2358.2,1410.6 2379.1,1463.5 2310.9,1491.4 2312.3,1516.5 2341.5,1544.3 2345.7,1664 2324.8,1694.7 2305.3,1700.2 2301.1,1725.3 2313.7,1733.7 2315.1,1781 2288.6,1792.1 2287.2,1895.2 2303.9,1920.2 2313.7,1934.2 2315.1,1964.8 2305.2,2003.9 2311.9,2013.7 2338,2021 2339.5,2045.7 2351.1,2047.2 2362.7,2116.9 2332.2,2180.8 2355.5,2180.8 2367.1,2186.6 2364.2,2209.9 2339.5,2227.3 2364.2,2360.9 2358.4,2378.4 2262.5,2395.8 2253.8,2390 2250.9,2285.4 2258.1,2273.8 2252.3,2265.1 2246.5,2250.5 2185.5,2250.5 2185.5,2269.4 2194.2,2276.7 2188.4,2288.3 2181.1,2390 2169.5,2414.7 2064.9,2390 2072.2,2256.3 2025.7,2304.3 1967.6,2270.9 1986.5,2172.1 1977.8,2154.7 2002.5,2128.5 2056.2,2087.8 2085.3,2058.8 2089.6,2029.7 2120.1,2022.5 2117.2,1983.2 2125.9,1977.4 2120.1,1953.7 2134,1939.7 2139.6,1910.5 2132.7,1909.1 2124.3,1859 2115.9,1853.4 2114.6,1839.5 2120.1,1836.7 2114.6,1732.3 2129.9,1718.3 2124.3,1700.2 2086.7,1680.8 2082.5,1668.2 2043.5,1675.2 2024,1619.5 2046.3,1594.4 2035.2,1563.8 2067.2,1515.1 2102,1510.9 2118.7,1497 2120.1,1453.8 2104.8,1444 2111.8,1424.6 2102,1419 2096.5,1391.1 2096.5,1392.6 2117.3,1373.1 2117.3,1236.7 2114.6,1208.8 2129.9,1194.9 2118.7,1181 2096.5,1190.7 2078.4,1169.9 2079.7,1142 2040.8,1122.5 2040.8,1103 2056.1,1090.5 2051.9,1082.1 2053.3,1051.5 2068.6,1044.6 2075.6,1051.5 2113.2,1051.5 2121.5,1064 2184.2,1065.4"/><polygon points="722.9,483.1 730.5,498.2 747.1,505.8 791,508.8 791,455.8 821.3,453.4 825.8,464.9 890.9,458.9 893.9,451.3 925.7,453.4 928.7,508.8 977.1,506.7 987.7,501.2 990.8,495.8 987.7,410.4 980.2,392.9 987.7,389.2 986.2,283.3 992.9,280.3 987.7,194 925.7,130.5 794,130.5 725.9,195.5 725.9,259.1 744.1,262.1 744.1,334.8 727.4,335.4"/><polygon points="1533.2,523.9 1533.2,527.9 1770.8,527.9 1776.8,525.4 1784.4,516.4 1782.9,262.1 1714.8,262.1 1714.8,216.1 1587.7,216.1 1587.7,263.6 1518,263.6 1522.6,352.9 1525.6,443.7"/><polygon points="1586.1,132 1717.8,132 1717.8,197.1 1586.1,198.6"/><polygon points="1063.4,787.5 1097.3,789.2 1100.7,792.5 1187.1,792.5 1190.5,860.3 1246.4,862 1246.4,1179 1226.1,1190.8 1215.9,1190.8 1212.5,1182.4 1158.3,1182.4 1154.9,1190.8 1126.1,1189.2 1093.9,1238.3 1063.4,1189.2 1063.4,1087.5 1060,1058.6 1026.1,1051.9 1026.1,997.6 1060,994.2 1063.4,890.8 1049.8,884.1 1046.4,860.3 1065.1,856.9"/><polygon points="1265.1,797.6 1266.8,789.2 1276.9,779 1290.5,775.6 1304.1,776.3 1314.2,785.8 1315.9,795.9 1380.3,795.9 1380.3,1111.2 1265.1,1109.5"/><polygon points="1265.1,1128.1 1382,1128.1 1382,1251.9 1265.1,1251.9"/><polygon points="1457.5,791.1 1585.3,791.1 1585.3,1186.3 1562.1,1188.2 1540.8,1225 1515.6,1186.3 1478.8,1180.5 1391.6,1180.5 1395.5,853.1 1455.6,853.1"/><polygon points="1629.9,990.6 1788.8,984.8 1790.7,926.7 1895.3,924.8 1916.6,930.6 1920.5,1103 1899.2,1118.5 1788.8,1120.4 1782.9,1060.4 1629.9,1060.4"/><polygon points="991.5,1988.8 1001.9,1988.8 1061.8,1970.6 1202.3,1978.4 1582.3,1975.8 1642.2,1983.6 1655.2,1968 1652.6,1918.5 1587.6,1915.9 1587.6,1715.5 1657.8,1710.3 1657.8,1655.6 1585,1650.4 1585,1585.3 1522.5,1585.3 1522.5,1645.2 1387.1,1647.8 1387.1,1585.3 1257,1585.3 1254.4,1653 1129.5,1650.4 1126.9,1587.9 1056.6,1587.9 1056.6,1645.2 991.5,1647.8 994.1,1712.9 1054,1715.5 1059.2,1915.9 994.1,1918.5"/><polygon points="1257.2,2313.4 1384.6,2311.1 1386.9,2419.2 1368.5,2421.5 1370.8,2442.2 1386.9,2446.8 1384.6,2561.8 1368.5,2561.8 1368.5,2557.2 1274.2,2559.5 1274.2,2571 1258.1,2571 1258.1,2446.8 1269.6,2442.2 1269.6,2421.5 1258.1,2419.2"/><polygon points="1258.1,2584.8 1386.9,2580.2 1389.2,2704.4 1258.1,2706.7"/><polygon points="1122.4,2444.5 1242,2442.2 1237.4,2502 1202.9,2502 1200.6,2497.4 1184.5,2495.1 1177.6,2511.2 1189.1,2515.8 1186.8,2575.6 1067.2,2575.6 1064.9,2529.6 1108.6,2520.4 1124.7,2495.1"/><polygon points="1409.9,2460.6 1439.8,2444.5 1462.8,2437.6 1460.5,2389.3 1506.5,2387 1508.8,2377.8 1531.8,2382.4 1587,2380.1 1587,2428.4 1570.9,2433 1568.6,2444.5 1518,2433 1511.1,2453.7 1522.6,2456 1527.2,2513.5 1409.9,2508.9"/><polygon points="1259.5,2966.6 1385.1,2973 1382.6,3297.1 1432.3,3370.9 1384.2,3345.2 1352.1,3367.6 1350,3369.3 1288.4,3370.9 1265.9,3346.8 1211.4,3370.9 1261.1,3290.7"/><polygon points="929.1,3103 1237.1,3106.2 1237.1,3119 1256.3,3119 1256.3,3155.9 1237.1,3155.9 1237.1,3170.3 1193.8,3170.3 1193.8,3229.7 1132.8,3231.3 1132.8,3180 1121.6,3170.3 986.8,3168.7 978.8,3191.2 986.8,3200.8 986.8,3234.5 929.1,3234.5"/><polygon points="1406.6,3109.4 1672.9,3104.6 1717.8,3106.2 1719.4,3170.3 1709.8,3173.6 1713,3183.2 1719.4,3184.8 1721,3229.7 1661.7,3232.9 1658.5,3171.9 1406.6,3165.5"/><polygon points="396.9,1779 459.7,1779 461.4,2240 459.7,2515.3 515.6,2515.3 532.5,2532.2 532.5,2552.5 515.6,2579.7 452.9,2581.4 451.2,2589.8 463.1,2593.2 464.7,2606.8 466.4,2960 463.6,2959.9 463.6,3099.8 471.6,3115.7 523.5,3113.7 525.5,3235.6 451.6,3237.6 451.6,3247.6 459.6,3251.6 459.6,3299.5 483.6,3309.5 483.6,3351.5 471.6,3363.4 471.6,3395.4 459.6,3395.4 447.6,3379.4 401.7,3379.4 399.7,3247.6 395.7,3239.6 327.8,3237.6 325.8,3247.6 259.8,3247.6 257.8,3185.7 331.7,3175.7 331.7,3115.7 395.7,3113.7 397.7,2959.9 398.6,2960 398.6,2596.6 400.3,2586.4 324.1,2586.4 324.1,2518.6 337.6,2515.3 337.6,2506.8 327.5,2498.3 322.4,2476.3 334.2,2464.4 396.9,2454.2 395.3,2200"/><polygon points="2110.4,988.9 2124.3,974.9 2129.9,949.9 2138.2,935.9 2154.9,931.8 2182.8,924.8 2191.1,927.6 2234.3,952.7 2249.6,958.2 2263.5,983.3 2269.1,1022.3 2252.4,1022.3 2246.8,1027.8 2246.8,1055.7 2234.3,1061.3 2232.9,1066.8 2184.2,1065.4 2121.5,1064 2113.2,1051.5 2110.4,1051.5"/><polygon points="2184.2,1064.6 2241.3,1064.6 2239.9,1403.9 2239.9,1584.7 2284.4,1584.7 2290,1591.6 2290,1605.6 2283,1611.1 2284.4,1651.5 2234.3,1651.5 2234.3,1661.3 2246.8,1664 2246.8,1686.3 2242.7,1769.9 2248.2,2004.1 2248,2003.9 2248,2118.3 2290.1,2118.3 2288.6,2179.3 2255.2,2180.8 2245.1,2195.3 2181.1,2195.3 2169.5,2180.8 2144.8,2180.8 2144.8,2116.9 2182.6,2116.9 2182.6,2003.9 2182.8,2004.1 2181.4,1742 2184.2,1661.3 2196.7,1661.3 2196.7,1651.5 2129.9,1651.5 2128.5,1572.1 2139.6,1562.4 2174.4,1551.3 2182.8,1549.9 2182.8,1403.9 2178.6,1078 2185.6,1075.2"/><polygon points="1002.4,782.4 975.3,775.6 958.3,768.8 953.2,782.4 961.7,802.7 951.5,829.8 932.9,812.9 929.5,824.7 943.1,856.9 956.6,884.1 938,901 941.4,918 932.9,928.1 909.2,940 915.9,956.9 900.7,970.5 904.1,982.4 910.8,982.4 888.8,999.3 873.6,1024.7 883.7,1036.6 915.9,1040 912.5,1051.9 931.2,1077.3 915.9,1094.2 904.1,1124.7 885.4,1133.2 892.2,1155.3 910.8,1163.7 904.1,1179 888.8,1190.8 929.5,1195.9 958.3,1179 971.9,1148.5 1002.4,1080.7 1022.7,1012.9 1015.9,911.2"/><polygon points="191.1,3374.2 222.9,3365.7 261,3378.4 307.6,3422.9 311.9,3456.8 294.9,3478 227.1,3583.9 225,3592.4 163.6,3588.1 138.1,3545.8 155.1,3520.3 155.1,3478"/><polygon points="375.4,3435.6 477.1,3444.1 496.2,3463.1 500.4,3490.7 504.7,3562.7 494.1,3579.7 489.8,3622 451.7,3626.3 439,3622 341.5,3632.6 328.8,3588.1 350,3511.9 343.6,3501.3"/><polygon points="555.5,3412.3 570.3,3376.3 638.1,3365.7 667.8,3380.5 701.7,3412.3 703.8,3427.1 748.3,3497 744.1,3516.1 627.5,3581.8 604.2,3569.1 591.5,3539.4 566.1,3486.4 568.2,3452.5"/></g>
<g filter="url(#bl4)" fill="#fff"><rect x="313.6" y="206.5" width="189.4" height="75.4" rx="10"/><rect x="312.2" y="304" width="192.3" height="75.4" rx="10"/><rect x="199.5" y="393.9" width="417.7" height="43.2" rx="10"/><rect x="1960" y="205.5" width="235.3" height="75.4" rx="10"/><rect x="1980.8" y="303.5" width="193.7" height="75.4" rx="10"/><rect x="1877.8" y="392.8" width="398.3" height="43.2" rx="10"/><rect x="432.9" y="916.8" width="323.4" height="75.4" rx="10"/><rect x="499.7" y="1015.5" width="192.7" height="75.4" rx="10"/><rect x="373.3" y="1105.9" width="442.6" height="43.2" rx="10"/><rect x="153.5" y="1328" width="138.7" height="75.4" rx="10"/><rect x="91.7" y="1417.8" width="263.4" height="43.2" rx="10"/><rect x="1207.1" y="1322.4" width="210.1" height="75.4" rx="10"/><rect x="1190.2" y="1412.6" width="244" height="43.2" rx="10"/><rect x="2428.6" y="1192.9" width="170.2" height="75.4" rx="10"/><rect x="2382.6" y="1283.1" width="262.2" height="43.2" rx="10"/><rect x="1683.3" y="2415.8" width="356.6" height="75.4" rx="10"/><rect x="1699" y="2506" width="326.4" height="43.2" rx="10"/><rect x="1229.5" y="3432" width="166.6" height="75.4" rx="10"/><rect x="1164.2" y="3521.6" width="296" height="43.2" rx="10"/><rect x="2409" y="137.9" width="401.7" height="49.7" rx="10"/></g>
<polygon points="1002.4,782.4 975.3,775.6 958.3,768.8 953.2,782.4 961.7,802.7 951.5,829.8 932.9,812.9 929.5,824.7 943.1,856.9 956.6,884.1 938,901 941.4,918 932.9,928.1 909.2,940 915.9,956.9 900.7,970.5 904.1,982.4 910.8,982.4 888.8,999.3 873.6,1024.7 883.7,1036.6 915.9,1040 912.5,1051.9 931.2,1077.3 915.9,1094.2 904.1,1124.7 885.4,1133.2 892.2,1155.3 910.8,1163.7 904.1,1179 888.8,1190.8 929.5,1195.9 958.3,1179 971.9,1148.5 1002.4,1080.7 1022.7,1012.9 1015.9,911.2" fill="#fff" stroke="#000" stroke-width="2.6" stroke-linejoin="round"/><polyline points="953.2,829.8 961.7,843.4 971.9,870.5 988.8,877.3" fill="none" stroke="#000" stroke-width="2.4"/><polyline points="941.4,918 961.7,907.8 982,904.4" fill="none" stroke="#000" stroke-width="2.4"/><polyline points="915.9,956.9 971.9,946.8 985.4,950.2 971.9,938.3" fill="none" stroke="#000" stroke-width="2.4"/><polyline points="910.8,982.4 944.7,972.2 961.7,979 971.9,995.9 978.6,1019.7" fill="none" stroke="#000" stroke-width="2.4"/><polyline points="888.8,999.3 897.3,1016.3 927.8,1009.5 948.1,1029.8 971.9,1040" fill="none" stroke="#000" stroke-width="2.4"/><polyline points="915.9,1040 944.7,1056.9 961.7,1053.6" fill="none" stroke="#000" stroke-width="2.4"/><polyline points="931.2,1077.3 944.7,1073.9 951.5,1094.2" fill="none" stroke="#000" stroke-width="2.4"/><polyline points="904.1,1124.7 927.8,1128.1 938,1141.7" fill="none" stroke="#000" stroke-width="2.4"/><polyline points="892.2,1155.3 900.7,1148.5 914.2,1168.8" fill="none" stroke="#000" stroke-width="2.4"/><polyline points="943.1,856.9 961.7,877.3" fill="none" stroke="#000" stroke-width="2.4"/><g fill="#c1c1c1" stroke="#000" stroke-width="7.2" stroke-linejoin="round"><polygon points="722.9,483.1 695.7,480.7 690.2,464.9 659.3,422.5 662.4,335.4 645.7,328.7 644.2,262.1 667.5,259.1 665.4,192.5 702.3,125.9 707.8,107.8 727.4,85.1 750.8,92.6 756.2,65.4 826.4,60 836.4,23 877.3,26.7 883.9,60.9 925.7,65.4 972.6,85.1 978.7,92.6 1004.4,87.2 1031,139.6 1013.5,153.2 1025.6,189.5 1055.8,194.9 1062.5,207.7 1055.8,292.4 1059.5,365 1063.7,371.7 1061.9,443.7 1043.7,464.9 1025.6,495.2 999.8,501.8 990.8,495.8 987.7,410.4 980.2,392.9 987.7,389.2 986.2,283.3 992.9,280.3 987.7,194 925.7,130.5 794,130.5 725.9,195.5 725.9,259.1 744.1,262.1 744.1,334.8 727.4,335.4"/><polygon points="791,455.8 821.3,453.4 825.8,464.9 890.9,458.9 893.9,451.3 925.7,453.4 928.7,507.9 899.1,510.9 892.4,526.1 859.1,532.1 819.8,529.1 808.3,510.9 792.5,504.9"/><polygon points="1533.2,523.9 1522.6,531.5 1501.4,498.2 1493.8,504.3 1469.6,474 1487.8,455.8 1452.1,422.5 1450.8,259.1 1418.2,250 1428.8,188 1463.6,189.5 1468.1,168.3 1453,145.6 1490.8,103.2 1515,122.9 1557.4,83.6 1589.2,85.1 1586.1,56.3 1651.2,45.7 1699.6,54.8 1698.1,85.1 1758.7,91.1 1761.7,113.8 1817.7,156.2 1823.7,192.5 1835.8,198.6 1851,244 1852.5,286.3 1838.9,310.6 1835.8,480 1811.6,516.4 1802.5,522.4 1781.4,549.7 1770.8,540.6 1776.8,525.4 1784.4,516.4 1782.9,262.1 1714.8,262.1 1714.8,216.1 1587.7,216.1 1587.7,263.6 1518,263.6 1522.6,352.9 1525.6,443.7"/><polygon points="1024.4,673.9 1138,648.5 1154.9,709.5 1176.9,704.4 1246.4,706.1 1260,723.1 1268.5,723.1 1270.2,673.9 1376.9,672.2 1380.3,726.4 1393.9,721.4 1402.4,711.2 1393.6,711.7 1418.7,715.6 1438.1,698.1 1459.4,700.1 1463.3,723.3 1482.7,727.2 1521.4,647.7 1620.2,684.6 1600.8,746.5 1616.3,742.7 1631.8,756.2 1628,795 1647.3,793 1678.3,824 1668.6,857 1647.3,876.3 1651.2,984.8 1628,990.6 1629.9,1042.9 1614.4,1046.8 1628,1054.6 1647.3,1054.6 1651.2,1097.2 1699.6,1145.6 1678.3,1176.6 1676.4,1205.7 1651.2,1211.5 1628,1230.9 1608.6,1252.2 1562.1,1248.3 1542.7,1228.9 1540.8,1225.8 1529.2,1221.2 1507.9,1259.9 1480.7,1275.4 1403.2,1267.7 1380,1256 1383.7,1255.3 1382,1128.1 1265.1,1128.1 1265.1,1250.2 1254.9,1250.2 1239.7,1256.9 1232.9,1275.6 1200.7,1273.9 1199,1246.8 1190.5,1246.8 1185.4,1272.2 1127.8,1270.5 1117.6,1260.3 1097.3,1240 1093.9,1240 1082,1246.8 1063.4,1246.8 1056.6,1253.6 1022.7,1250.2 1015.9,1240 970.2,1233.2 975.3,1216.3 961.7,1209.5 960,1175.6 944.7,1168.8 938,1145.1 961.7,1131.5 956.6,1111.2 965.1,1094.2 982,1080.7 975.3,1070.5 980.3,1053.6 1017.6,1051.9 1019.3,992.5 995.6,985.8 995.6,938.3 978.6,911.2 988.8,877.3 976.9,879 965.1,870.5 975.3,836.6 995.6,836.6 990.5,823.1 999,806.1 992.2,787.5 997.3,779 1009.2,779 1027.8,741.7 1044.7,743.4"/><polygon points="1703.5,822.1 1721,810.5 1761.6,812.4 1781,795 1841.1,814.4 1883.7,833.7 1937.9,851.2 1951.5,839.5 1970.9,860.8 1937.9,882.2 1961.2,915.1 1982.5,903.5 1996,919 1974.7,946.1 1984.4,982.9 2001.9,984.8 2003.8,1017.8 1982.5,1017.8 1974.7,1085.6 1957.3,1143.7 1899.2,1182.4 1837.2,1197.9 1775.2,1225 1717.1,1225 1701.6,1176.6 1717.9,1158.4 1713.2,1140.6 1665.9,1095.2 1662.8,1063.1 1674.5,1060.4 1674.5,986.8 1651.2,984.8 1666.7,950 1659,948 1668.6,889.9 1690,895.7 1701.6,864.7 1690,857"/><polygon points="991.5,1988.8 931.6,1970.6 921.2,1887.3 944.7,1871.7 934.2,1741.5 908.2,1731.1 905.6,1663.4 934.2,1655.6 931.6,1614 994.1,1577.5 970.7,1509.9 1113.8,1468.2 1134.7,1507.3 1197.1,1509.9 1236.2,1481.2 1254.4,1489 1384.5,1491.6 1387.1,1478.6 1415.8,1481.2 1421,1533.3 1441.8,1509.9 1506.9,1517.7 1538.1,1465.6 1681.3,1533.3 1665.6,1577.5 1702.1,1601 1725.5,1637.4 1715.1,1751.9 1702.1,1772.7 1702.1,1897.7 1722.9,1905.5 1712.5,1941.9 1655.2,1968 1652.6,1918.5 1587.6,1915.9 1587.6,1715.5 1657.8,1710.3 1657.8,1655.6 1585,1650.4 1585,1585.3 1522.5,1585.3 1522.5,1645.2 1387.1,1647.8 1387.1,1585.3 1257,1585.3 1254.4,1653 1129.5,1650.4 1126.9,1587.9 1056.6,1587.9 1056.6,1645.2 991.5,1647.8 994.1,1712.9 1054,1715.5 1059.2,1915.9 994.1,1918.5"/><polygon points="1001.9,1988.8 1061.8,1970.6 1202.3,1978.4 1582.3,1975.8 1642.2,1983.6 1608.4,2007 1582.3,2009.6 1483.4,2048.6 1337.7,2064.3 1191.9,2056.5 1181.5,2027.8 1074.8,2012.2 1072.2,1996.6"/><polygon points="1014.3,2313.4 1058,2336.4 1071.8,2313.4 1191.4,2253.6 1253.5,2251.3 1255.8,2228.3 1391.5,2226 1396.1,2249 1428.3,2249 1453.6,2237.5 1485.8,2203 1561.7,2237.5 1536.4,2290.4 1561.7,2288.1 1566.3,2308.8 1610,2313.4 1651.4,2350.2 1660.6,2474.4 1660.6,2504.3 1653.7,2508.9 1651.4,2594 1630.7,2658.4 1603.1,2683.7 1596.2,2713.6 1483.5,2782.6 1460.5,2764.2 1283.4,2759.6 1200.6,2757.3 1170.7,2775.7 1097.1,2736.6 1092.5,2715.9 1023.5,2679.1 1023.5,2644.6 989,2612.4 986.7,2543.4 970.6,2538.8 970.6,2497.4 986.7,2492.8 986.7,2430.7 938.4,2396.2"/><polygon points="1056.8,2976.2 1044.6,2981.1 1022.1,2966.6 954.7,2982.7 941.9,3008.3 884.2,3021.2 852.1,3021.2 834.4,3082.1 852.1,3088.5 844.1,3136.7 853.7,3204 868.1,3226.5 831.2,3255.4 844.1,3293.9 869.7,3306.7 909.8,3285.8 922.7,3289 930.7,3303.5 919.5,3314.7 930.7,3332.4 945.1,3329.1 946.7,3345.2 983.6,3359.6 1041.4,3335.6 1058,3303.5 1060,3168.7 1055.8,3075.7 1049.4,3046.8 1054.2,3030.8"/><polygon points="1068.6,2953.8 1164.9,2921.7 1179.3,2924.9 1180.9,2941 1217.8,2944.2 1225.8,2934.5 1235.5,2937.7 1237.1,2949 1256.3,2949 1259.5,2966.6 1261.1,3290.7 1203.4,3374.1 1099.1,3374.1 1078.3,3364.4 1070.2,3306.7 1076.7,3290.7 1073.4,3232.9 1067,3226.5 1070.2,3101.4 1065.4,3088.5 1070.2,3078.9"/><polygon points="1237.1,2913.7 1259.5,2897.6 1350,2904.1 1390.6,2904.1 1390.6,2944.2 1385.8,2973 1259.5,2966.6 1256.3,2949 1249.9,2941"/><polygon points="1211.4,3370.9 1265.9,3346.8 1288.4,3370.9 1350,3369.3 1352.1,3367.6 1384.2,3345.2 1432.3,3370.9 1409.8,3383.7 1406.6,3396.5 1342.5,3422.2 1350,3425.4 1288.4,3419 1240.3,3406.1 1237.1,3390.1"/><polygon points="1390.6,2944.2 1440.3,2937.7 1443.5,2942.6 1490,2939.4 1501.3,2921.7 1541.4,2928.1 1541.4,2947.4 1570.2,2957 1584.7,2942.6 1595.9,2955.4 1587.9,2966.6 1586.3,3091.7 1595.9,3101.4 1594.3,3168.7 1587.9,3178.4 1591.1,3277.8 1586.3,3329.1 1557.4,3354.8 1554.2,3372.5 1509.3,3385.3 1494.8,3370.9 1461.2,3367.6 1432.3,3367.6 1385.8,3300.3 1377.7,3258.6 1377.7,3196 1385.8,3188 1384.2,2973"/><polygon points="1597.5,2965 1618.4,2950.6 1655.3,2949 1701.8,2974.6 1695.4,3008.3 1753.1,3072.5 1818.9,3075.7 1822.1,3098.2 1815.7,3101.4 1815.7,3188 1769.1,3192.8 1765.9,3210.4 1774,3213.7 1764.3,3248.9 1737.1,3290.7 1709.8,3309.9 1709.8,3351.6 1640.8,3375.7 1600.7,3330.8 1602.3,3248.9 1594.3,3242.5 1597.5,3101.4 1602.3,3021.2 1595.9,3014.7"/><polygon points="535.9,1717.3 537.6,1710.5 525.8,1713.9 520.7,1649.5 546.1,1630.8 537.6,1527.5 444.4,1508.8 417.3,1508.8 413.9,1520.7 369.8,1525.8 363.1,1558 332.5,1580 293.6,1588.5 288.5,1600.3 263.1,1602 239.3,1669.8 293.6,1669.8 295.3,1727.5 307.1,1730.8 308.8,1751.2 296.9,1754.6 302,1778.3 244.4,1830.8 296.9,1874.9 315.6,1866.4 330.8,1891.9 312.2,1908.8 310.5,1983.4 273.2,1998.6 266.4,2063.1 281.7,2066.4 278.3,2100.3 261.4,2107.1 254.6,2240 256.3,2244.1 302,2271.2 312.2,2349.2 322.4,2376.3 281.7,2403.4 278.3,2444.1 244.4,2450.8 222.4,2467.8 220.7,2518.6 208.8,2525.4 207.1,2567.8 230.8,2574.6 235.9,2606.8 252.9,2616.9 288.5,2611.9 293.6,2674.6 259.7,2701.7 266.4,2823.7 261.4,2844.1 295.3,2891.5 300.3,2922 315.6,2932.2 288.5,2960 287.8,2959.9 235.9,2983.9 225.9,3019.9 229.9,3111.7 239.9,3127.7 235.9,3179.7 229.9,3187.7 227.9,3235.6 187.9,3371.4 191.1,3374.2 227.1,3478 299.2,3480.1 347.9,3486.4 375.4,3478 481.4,3478 500.4,3478 568.2,3465.3 676.3,3380.5 673.3,3371.4 653.4,3259.6 643.4,3255.6 643.4,3179.7 639.4,3071.8 603.4,3011.9 573.5,2999.9 567.5,2951.9 595.4,2951.9 613.9,2932.2 600.3,2925.4 603.7,2888.1 622.4,2881.4 620.7,2818.6 593.6,2810.2 591.9,2749.2 603.7,2745.8 600.3,2674.6 591.9,2649.2 602,2650.8 624.1,2613.6 624.1,2579.7 635.9,2572.9 634.2,2550.8 624.1,2545.8 617.3,2472.9 580,2462.7 573.2,2461 569.8,2437.3 551.2,2413.6 571.5,2376.3 566.4,2349.2 535.9,2323.7 532.5,2200 529.2,2056.3 525.8,1985.1 507.1,1968.1 512.2,1908.8 539.3,1903.7 551.2,1873.2 544.4,1851.2 532.5,1842.7 530.8,1781.7 459.7,1780 396.9,1781.7 383.4,1778.3 376.6,1707.1 390.2,1691.9 432.5,1674.9 478.3,1696.9 498.6,1707.1 512.2,1724.1"/><polygon points="2241.3,1066.8 2232.9,1066.8 2234.3,1061.3 2246.8,1055.7 2246.8,1027.8 2252.4,1022.3 2269.1,1022.3 2263.5,983.3 2249.6,958.2 2234.3,952.7 2191.1,927.6 2182.8,924.8 2154.9,931.8 2138.2,935.9 2129.9,949.9 2124.3,974.9 2110.4,988.9 2093.7,1000 2065.8,994.4 2046.3,980.5 2040.8,949.9 2054.7,919.2 2079.7,887.2 2138.2,885.8 2173,803.7 2273.3,832.9 2266.3,888.6 2280.2,884.4 2333.2,910.9 2342.9,931.8 2324.8,944.3 2324.8,955.4 2359.6,956.8 2361,991.6 2355.4,1061.3 2333.2,1064 2323.4,1139.2 2337.3,1144.8 2335.9,1181 2319.2,1182.4 2298.3,1291 2284.4,1292.4 2292.8,1384.3 2305.3,1396.7 2308.1,1425.9 2358.2,1410.6 2379.1,1463.5 2310.9,1491.4 2312.3,1516.5 2341.5,1544.3 2345.7,1664 2324.8,1694.7 2305.3,1700.2 2301.1,1725.3 2313.7,1733.7 2315.1,1781 2288.6,1792.1 2287.2,1895.2 2303.9,1920.2 2313.7,1934.2 2315.1,1964.8 2305.2,2003.9 2311.9,2013.7 2338,2021 2339.5,2045.7 2351.1,2047.2 2362.7,2116.9 2332.2,2180.8 2355.5,2180.8 2367.1,2186.6 2364.2,2209.9 2339.5,2227.3 2364.2,2360.9 2358.4,2378.4 2262.5,2395.8 2253.8,2390 2250.9,2285.4 2258.1,2273.8 2252.3,2265.1 2246.5,2250.5 2185.5,2250.5 2185.5,2269.4 2194.2,2276.7 2188.4,2288.3 2181.1,2390 2169.5,2414.7 2064.9,2390 2072.2,2256.3 2025.7,2304.3 1967.6,2270.9 1986.5,2172.1 1977.8,2154.7 2002.5,2128.5 2056.2,2087.8 2085.3,2058.8 2089.6,2029.7 2120.1,2022.5 2117.2,1983.2 2125.9,1977.4 2120.1,1953.7 2134,1939.7 2139.6,1910.5 2132.7,1909.1 2124.3,1859 2115.9,1853.4 2114.6,1839.5 2120.1,1836.7 2114.6,1732.3 2129.9,1718.3 2124.3,1700.2 2086.7,1680.8 2082.5,1668.2 2043.5,1675.2 2024,1619.5 2046.3,1594.4 2035.2,1563.8 2067.2,1515.1 2102,1510.9 2118.7,1497 2120.1,1453.8 2104.8,1444 2111.8,1424.6 2102,1419 2096.5,1391.1 2096.5,1392.6 2117.3,1373.1 2117.3,1236.7 2114.6,1208.8 2129.9,1194.9 2118.7,1181 2096.5,1190.7 2078.4,1169.9 2079.7,1142 2040.8,1122.5 2040.8,1103 2056.1,1090.5 2051.9,1082.1 2053.3,1051.5 2068.6,1044.6 2075.6,1051.5 2113.2,1051.5 2121.5,1064 2184.2,1065.4"/></g>
<g stroke="#000" stroke-width="3.7" stroke-linecap="round" fill="none"><path clip-path="url(#rc0)" d="M765.3 300.4L718.7 339.2M758 294.1L710.8 333.3M752.4 286.3L703.5 327M743.4 281.3L701.1 316.5M739.5 272.1L699 305.8M1062 280L1038 307.2M1054.1 273.6L1030.8 300M1048 265L1022.9 293.5M1040.6 258L1016.6 285.2M1073.6 347.5L1033.9 349.9M1073.1 337.8L1032.9 340.2M1072.2 328.1L1031 330.5M1071.9 318.4L1030.5 320.8M1068.8 308.8L1045.1 310.2M907 76.5L881.8 132.7M897.8 72.2L871.9 129.9M889.1 66.7L863.6 123.9M879.9 62.6L853 122.6M868.6 63L845.4 115M764.8 248.8L712.3 272.8M762.4 240.1L705.4 266.3M983.8 224.3L1015.4 270.8M974.4 227.4L1005.6 273.4M966.8 233.3L998.7 280.2M960.2 240.5L990.1 284.6M943.2 128.8L991.5 173.2M938.1 135.8L986.4 180.3M811.6 34L802 85.4M802.2 33.8L792.3 87M793.7 28.8L783.2 85.3M999.4 287.7L1010 305.7M991.4 291.5L1001.2 308.1M971 274.1L995.7 316.1M716.4 453.4L727.5 495.2M706.6 456.5L717.5 497.2M697.5 461.9L707.1 497.8M671 193.1L694.6 219.7M663.1 199.5L686.6 226M655.7 206.5L678.7 232.5M646.3 211.4L672.1 240.4M710.3 150.4L694.6 188.1M701 145.8L685.3 183.5M692 140.5L674.8 181.6M1033.8 356.9L976.9 379M1026.6 348.8L970.6 370.6M1025.1 338.5L968.1 360.7M743.7 194.2L723.1 230.4M736.3 186.8L714.2 225.7M726.3 184.1L704.6 222.3M1023.8 162.9L1021.5 209.8M1014 163.4L1011.7 209.6M1004.2 160.5L1001.7 211.1M993.3 181.8L991.9 210.4M851.1 25.7L874.4 55.5M841.3 28.6L863.9 57.5M834.6 35.3L859.1 66.6M724.6 343.4L752 364.7M707.3 341.8L747.2 372.8M703.4 350.6L738.8 378M714.2 376.1L732.4 381.7M711.1 384.8L742.3 394.5M708.3 393.6L740 403.5M1058.2 195.5L1044.4 243.4M1047.9 193.9L1035.4 237.3M1037.5 193L1024.8 236.8M800.2 92.6L799.2 118.2M790.2 93.6L789.2 119M780.4 91.6L779.4 115.8M771.4 68L769.5 114.6M761.5 66.7L759.6 114.5M688.4 235.3L695.6 259.6M681.3 241.8L686.4 258.7M674 247.4L677.1 257.8M663.2 241.4L667.9 256.9M817.1 41.9L841.3 55.1M815.4 51.1L844.4 66.9M813.7 60.3L843 76.3M811.9 69.4L839 84.3M982.4 69.2L976.6 92.1M972.4 67.9L962.5 106.8M963.1 64.2L952.5 105.9M953.8 60.2L943.2 102M943.4 60.8L933.6 99.1M847.2 127.1L820.9 140.8M840.1 120L818.2 131.4M839.9 109.4L813 123.3M1035.2 370.8L1074.6 406.4M1025.7 375.7L1068.6 414.5M1018.6 382.7L1063.7 423.5M1014.8 392.8L1056.8 430.8M760.1 152L715.1 170.2M755.3 144L714.3 160.6M752.5 135.1L717.6 149.2M1020.2 421.3L1067.7 464.6M1015.2 430.3L1062.1 473M1010.3 439.4L1055.6 480.7M1002 445.4L1047.7 487M694.5 408.8L738.6 439.6M691.4 418.1L732.3 446.8M688.3 427.4L715.1 446.2M685.1 436.8L703.7 449.8M1022.1 473.4L1038.3 509.6M1005.3 461L1030.5 517.2M996.1 465.3L1020.4 519.5M1003.4 403.1L974.8 418M1000.3 393.9L969.4 409.9M995.5 385.5L965.6 401M905.6 97.3L927.4 102.7M901.5 106.5L946.2 117.4M897.4 115.7L937.5 125.5M893.3 124.8L930.7 134M998.2 438.5L973 448.9M1002.5 426.4L968.7 440.4M998.5 417.7L966.7 430.8M988.1 323.4L1004.2 335.3M965.4 318.3L997 341.6M658.3 331.7L633.4 353.1M781.2 133.4L761.9 186.9M762.8 158.2L754.1 182.5M878.9 16.5L878.3 49.3M870 16.9L869.7 38.2M861.2 15L861 27.2M995.6 448.7L970.5 475M998.1 487.6L1001.4 526.9M928.1 50.7L911.3 70.7M921.5 44.9L903.5 66.3M971.5 113.2L972.6 147M961.7 114L962.4 137.7M695.7 452.6L668.1 466.7M687.4 446.8L666.6 457.5M676.2 442.5L662.7 449.4M692 469.7L670 481.9M1094.5 236.5L1053.2 239.1M1092.9 227.3L1056 229.6M1095 217.9L1058.7 220.2M1093.2 377.6L1055.8 379.8M1092.9 367.9L1045.7 370.6M822.5 110.6L806.5 114.1M837.2 98.4L806.9 105.1M835.5 89.9L807.3 96.2M823.9 83.6L808.7 87M979.2 132.7L995.7 137M979.5 141.8L1002.7 147.7M978.7 150.5L999 155.7M729.1 133.6L710.7 142.2M719.5 128.1L700.7 136.8M713.8 120.7L690.4 131.6M708.6 113L681.9 125.6M720 404.4L739.6 420.4M704.1 403.8L731.8 426.5M932.5 74.3L918.1 90.4M931.3 60.9L912.6 81.7M1023.6 331.4L1010.3 332.2M1023.5 322.5L1000.3 323.9M1028.8 313.3L1009.2 314.5M1006.3 218L1017.7 235.1M997.3 222.9L1017.5 253M1058.8 245.6L1071.4 248.4M1043.5 251.3L1070.9 257.5M1056.5 263.4L1066.9 265.8M709.2 199.5L694.3 208.3M710.8 188.6L688.4 201.7M779.3 125L763.2 142.3M768.2 123.1L759 132.9M721.6 238.9L724.2 248.2M710 233.1L714.8 249.8M700.1 232.8L705.7 252.6M1058.3 437.8L1067.1 454.3"/><path clip-path="url(#rc1)" d="M825.5 443.8L859.9 464M818.8 451.1L854 471.8M816.2 460.9L849.9 480.7M808.4 467.5L845.1 489M890 490.7L844.3 517.9M886.3 482.7L841.9 509.1M884.1 473.7L850 494M878.6 508.7L863.9 550.1M866.2 512.6L854.4 545.8M852.2 520.9L844.4 542.9M840.4 523.2L835.3 537.4M839.4 494.9L825.7 533.4M926.7 471.8L914.8 501.2M919.4 466.4L906.4 498.7M911.1 463.7L897.9 496.4M903.2 460L894.2 482.5M889.6 498.6L927.1 528.9M886 508.6L920.2 536.3M882.8 519L911.6 542.2M821.2 483.2L801.8 511.3M812.8 478.3L796 502.5M804.3 473.3L786.3 499.5M806.5 452.9L780 491.4M895.6 461.4L868.1 465.5M902.2 450.2L867.5 455.4M926.5 489.9L931.1 515.5M919.6 505.7L921.3 514.9M942.4 434.4L919.2 459.3M937 426L909.5 455.4M831.2 493.4L808.2 545.7M818.6 499.4L801.8 537.7M799.3 450.9L775.8 470.9"/><path clip-path="url(#rc2)" d="M1544.3 151L1558 168M1536.8 158.1L1549.8 174.4M1529.2 165.2L1540.7 179.6M1468.2 364.2L1451.9 406.1M1458.8 360.8L1443.4 400.6M1803.5 404.9L1808.3 470.6M1793.4 406.2L1798.2 470.5M1783.5 408.2L1787.8 466.4M1589.4 87.4L1553.6 117.5M1586.1 76.8L1547.1 109.6M1583.3 65.7L1538.9 103M1793.7 209.5L1800 248.9M1784.7 211.5L1790.8 249.4M1775.5 212.2L1781.8 251.3M1766.2 212.4L1772.6 252.5M1546.8 341.2L1494.6 363.5M1542.1 332.1L1490.6 354.2M1535.3 324L1487.6 344.5M1804 149.5L1766.8 180.7M1798 142.9L1759 175.5M1793.8 134.7L1756.1 166.3M1779.6 372.9L1815.5 378.5M1779 381.6L1812.6 386.9M1778.2 390.4L1813.1 395.8M1713.3 117.2L1677.4 129.8M1710.2 108.6L1673.4 121.6M1707.3 100L1672 112.4M1603.3 91L1606.5 140.9M1594.4 92.8L1597.6 143M1585.9 100L1588.4 139.2M1577.3 107.2L1579.7 144.3M1527.4 257.5L1526 315.4M1518.3 257.6L1516.9 312.9M1509.2 255.7L1507.8 310.9M1499.9 264.3L1498.7 309.3M1561.3 142.4L1582.9 169.8M1555 149.3L1575 174.6M1753.1 215.8L1722.5 228.1M1748.8 206.5L1718.3 218.8M1743.8 197.5L1714.4 209.4M1835 418.9L1812.2 425.4M1833.9 409.4L1811.5 415.8M1831.7 400.2L1810.8 406.1M1840.7 457.5L1827.4 501.7M1831.9 454.6L1818.6 499.4M1823.3 451.5L1810.2 495.3M1627.8 200.1L1684.4 212.6M1629.4 209.5L1683.1 221.4M1725.3 91.2L1755.9 119.3M1718.3 96.9L1748.9 125M1717.3 108.1L1742.5 131.3M1718.5 121.4L1738.7 139.9M1709.9 125.6L1730.7 144.7M1712.7 183.6L1713.6 201.9M1702.6 181.6L1705 230.1M1692.8 184.5L1695.1 230.7M1682.8 184.1L1683.8 205.6M1672.8 183.5L1673.8 203.4M1759.9 184.1L1767.5 204.5M1743.8 168.2L1758.6 208.3M1734.7 171.2L1741.8 190.5M1496.7 198.2L1545.3 203.4M1502.1 209L1542 213.2M1502.1 219.1L1540.6 223.2M1502.1 229.3L1540.6 233.3M1502.1 239.4L1538.7 243.3M1698.3 129.6L1677.9 167M1669.1 128.1L1655.3 153.5M1793.5 501.3L1836.3 510.8M1790.9 510.1L1835.9 520.1M1790.1 519.3L1835.2 529.3M1788.2 528.2L1830.6 537.6M1798.1 333.8L1828.7 369.2M1791 340.2L1819.8 373.5M1784.3 346.9L1804.3 370M1583 152.5L1625.8 155.6M1585.1 161.6L1624.9 164.5M1660.6 96.5L1656.1 138.2M1650.9 98.8L1645.7 146.8M1641.3 100.8L1636.2 147.6M1820.6 273.5L1800.7 279.8M1820.1 263.3L1795.4 271.1M1819.5 253.1L1791 262.1M1514.4 388.1L1487.4 409.6M1509.5 380.2L1481.6 402.4M1504.5 372.4L1475.3 395.6M1631.6 126.4L1615.4 140.1M1633.1 113L1612.5 130.4M1634.2 99.9L1611.8 118.9M1624.1 96.3L1611 107.4M1550.1 385.2L1520.4 391.4M1546.6 375.7L1518.4 381.6M1543.6 366.1L1512.7 372.5M1543.8 355.8L1519 361M1840.1 312.4L1835.8 333.3M1832.3 306.1L1827.3 330M1824.9 297.3L1818.4 328.2M1744.9 226.9L1748.9 255.1M1735.6 230.7L1738.8 253.4M1726.2 234.4L1729.4 257.4M1715.9 231.1L1720 260.4M1760.3 533.4L1787 534.9M1761.4 542.7L1800.7 544.9M1459.5 317.1L1463.3 354.7M1449.8 318L1453.1 351.4M1502.3 317L1501.3 330.7M1493.8 313.9L1492.2 334.6M1486.6 293.8L1483.3 334.8M1464.5 399.6L1466 437.5M1455.8 412.1L1456.8 437M1618.7 220.1L1558.6 228.5M1615.1 210.3L1559.2 218.1M1613.9 200.1L1557.9 208M1807.6 155.2L1808.4 165.3M1798.6 162.7L1799.5 174M1577.9 252.4L1534.1 263.7M1577.5 243.6L1533.7 254.9M1573.7 235.7L1546.2 242.8M1562.1 499.7L1527.5 511.9M1560.5 490.5L1526.4 502.5M1556.3 482.2L1525.4 493M1553.8 473.2L1524.4 483.6M1794.4 283.3L1778.3 311.2M1789.3 274.8L1771.2 306M1783.5 267.4L1762.9 303.1M1777.4 260.5L1756.1 297.5M1545.5 456.1L1520.2 468.9M1541.4 448.1L1515 461.5M1538.1 439.7L1509.8 454M1534.3 431.5L1504.6 446.5M1479.3 302L1456.9 306.6M1480.3 291.7L1454.2 297.2M1489.1 279.8L1450.9 287.8M1486.9 270.3L1449.2 278.2M1474.8 262.8L1447.4 268.5M1541.4 401.2L1517.7 423.8M1531.8 396.4L1510.9 416.2M1793.3 117.4L1780.8 136.9M1786.5 111.9L1764.9 145.4M1778.6 107.9L1756.5 142.4M1598 185.3L1578.9 197.6M1592.4 177.7L1565.4 195.1M1571.1 180.2L1559.3 187.8M1565 172.9L1556.9 178.1M1785.3 477.3L1804.5 490.6M1772.8 480.7L1792.7 494.5M1768 489.5L1786.2 502.1M1751.2 56.9L1758.5 109M1742.2 56.7L1748.7 103.6M1733.5 59.7L1738.3 94.1M1786.7 309.7L1811.5 314.2M1780.1 317.5L1811.1 323.1M1758.5 322.5L1793.2 328.8M1826.6 356.1L1861.4 362.6M1835.6 368.1L1857.8 372.2M1828.3 377.1L1856.8 382.3M1554.8 520.6L1528.4 520.6M1584.2 247.4L1606.7 271.9M1581.1 258L1600.8 279.5M1570.8 260.9L1593.1 285M1507 422.7L1480.1 451.4M1500.8 416.4L1471.8 447.4M1488.9 416.2L1472.7 433.5M1480.6 412.2L1472.2 421.1M1476.2 495.2L1493.9 495.3M1479.2 513.5L1511.6 513.7M1730.4 163.9L1718.6 179.6M1721.5 159.1L1709.1 175.6M1545.1 119.5L1529.1 131.3M1538.1 112.5L1521.4 124.9M1713.2 92.6L1684.7 93M1443.7 482L1480.2 484.8M1852.8 417.4L1833.9 447.9M1837.3 425.4L1825.2 445M1824.5 429.1L1813.8 446.4M1782.3 176.4L1793.8 178M1773.2 184L1792.7 186.8M1770.5 192.6L1795.1 196.1M1811.5 286.5L1814.6 308.3M1801.9 286.9L1804.7 306.2M1540.9 186.9L1545.4 195.6M1526.8 179.9L1534.6 194.9M1518.1 183.3L1523.5 193.8M1484.8 182.1L1486.3 194.6M1475.3 175.7L1477.2 191.7M1466 171.1L1468.1 188.7M1782.7 519L1772.1 524.1M1470.2 356L1485.6 360.9M1474.9 366.8L1491.6 372.2M1471.7 375.1L1484.9 379.3M1756.4 149.3L1746.2 161.6M1750 141.4L1735.5 158.9M1766.6 349.9L1789.5 363.5M1753.1 225.6L1763.3 237.5M1754.1 241.4L1770.2 260M1847.6 347.6L1837.5 350.8M1839 340.6L1825.2 344.8"/><path clip-path="url(#rc3)" d="M1621.7 1219.8L1584.8 1232.8M1617.4 1211.1L1578.4 1224.7M1614.9 1201.6L1578.5 1214.4M1610.9 1192.7L1572.3 1206.2M1033 868.9L1083.2 881.7M1033.7 878.1L1081.7 890.3M1028.6 885.8L1082.8 899.6M1029.3 895L1077.8 907.4M1236.1 786.9L1210.9 815.5M1229.2 781.5L1204.3 809.8M1222.6 775.8L1196.2 805.7M1217 768.9L1188.9 800.8M1139.7 738.4L1174.1 772.9M1131.2 744.5L1166.9 780.3M1124.4 752.3L1162.4 790.4M1115.2 757.8L1153.8 796.5M1052.8 1152L1109.9 1179.8M1050.6 1162L1106.4 1189.2M1044.6 1170.2L1101.8 1198M1576.4 1013.7L1611.2 1040M1572.3 1022.7L1603.8 1046.5M1566.7 1030.6L1600.2 1056M1561.9 1039.1L1592.2 1062M1351.6 1053.1L1399.8 1055.6M1353 1062.2L1395.6 1064.5M1350.4 1071.2L1397.7 1073.6M1624.5 963.8L1660 1013.8M1615.4 966.5L1651.7 1017.7M1607.7 971.2L1644.8 1023.7M1055.8 1196.7L1055.9 1240.3M1046.7 1197.8L1046.9 1238.5M1037.7 1195.6L1037.8 1238.7M1163.8 1238.7L1212.3 1241.6M1164.4 1248.8L1211.2 1251.5M1165.8 1258.8L1209 1261.3M1164.4 1268.7L1209.8 1271.4M1653.3 1161.3L1687.8 1167.7M1649.4 1171.1L1683.8 1177.4M1647.3 1181.1L1681.9 1187.5M1648.3 1191.7L1680 1197.6M1580.6 845.4L1629.5 875.7M1574.1 852.4L1625.3 884.1M1572 862L1623.5 893.9M1282.2 908L1244.5 942.3M1273.6 903.8L1239 935.3M1267.8 897L1232.9 928.8M1263.9 888.4L1228.2 921M1396.1 799L1422.6 854.6M1386.3 801.5L1412.8 856.9M1376.7 804.3L1404.9 863.3M1609.9 987.3L1635.8 1029.1M1601.6 990.7L1626.3 1030.7M1593.8 995.1L1619.4 1036.5M1490.1 1199.3L1516.9 1253.3M1483.6 1206.1L1510.7 1260.5M1475.6 1209.7L1503.2 1265.3M1467.6 1213.4L1493.5 1265.7M1459.5 1217L1485.2 1268.9M1084.9 775.9L1097.1 809.5M1075.6 779.5L1088.1 813.8M1066.7 784.1L1078.9 817.8M1056.3 784.8L1069.5 820.9M1421.3 1145.3L1413.4 1182.3M1411.8 1143.5L1403.5 1182.2M1402.4 1141.5L1393.8 1181.1M1496.8 734.7L1460.1 781.8M1487.5 731.3L1452.6 776.1M1480.8 724.4L1444.2 771.4M1639.9 751.9L1597.5 771.7M1633.6 744.4L1592.3 763.7M1630.5 735.4L1590 754.4M987.8 1226.7L950.2 1226.8M1076.6 737.1L1108.5 754.5M1075.1 746.7L1116.1 769.1M1068.5 753.6L1119.7 781.6M1093.1 777.5L1118.1 791.2M1276.1 1000.3L1247.2 1037M1269 993.5L1237.5 1033.5M1260.8 988L1231.3 1025.5M1253.4 981.5L1223.7 1019.3M1032.2 815.9L1004.6 840.5M1024.9 809.2L997.1 834M1019.2 801L991.3 825.9M1012.8 793.5L984.5 818.7M1345.4 1118.3L1317.8 1141.3M1340.5 1110.2L1312.9 1133.2M1333.1 1104.3L1307 1126M1026.1 830.9L1065.4 832M1016.2 839.7L1062.9 841M1001.8 848.3L1063.6 850M1002.6 857.4L1060.9 859M1000.9 866.4L1026.7 867.1M1670.7 800L1679.6 852.7M1661.5 799.5L1670.4 852.7M1651.9 782.7L1650.8 829.2M1641.9 779.2L1640.8 828.3M1631.9 780.5L1630.9 825.7M1193.7 691.1L1160.3 737.8M1186 684.5L1150.4 734.3M1146.3 1222L1136.5 1261.6M1137.4 1218.5L1126.8 1261M1128.3 1215.9L1118.3 1256.1M1036.5 903.7L1047.1 929.1M1014.9 878L1037.9 933.3M1004.1 878.6L1028.9 938.4M974.1 902.2L1017 928.8M970.9 911.9L1026.3 946.1M963.6 919L1016.6 951.7M959.9 928.3L1011.7 960.3M1293.3 1065L1264.7 1091.3M1294.5 1051.6L1258 1085.2M1290 1043.6L1254.9 1075.8M1568.5 1151.9L1610.7 1174.7M1563 1159.2L1606.9 1182.9M1560.5 1168.1L1599.6 1189.2M1555.2 1175.4L1588.1 1193.2M1043.2 1155.8L1024.6 1176.5M1040.3 1146L1017.9 1171M1034.7 1139.3L1011.9 1164.8M1027.5 1134.5L1003.9 1160.7M1562.1 778.7L1597.1 786.5M1557.8 788.4L1592.3 796.1M1555.9 798.7L1591.3 806.5M1555.1 809.1L1589 816.6M1395.1 1193.6L1402.6 1231.6M1385.4 1195.1L1392.9 1232.6M1376.2 1198.7L1383.7 1236.9M1281.4 966.1L1219 971.8M1281.6 955.7L1218.8 961.5M1278.3 945.6L1247.1 948.5M1023.4 1049.5L1034.1 1100.7M1014.4 1053.4L1024.8 1103.2M1004.7 1054.2L1015.3 1105M995.7 1058.2L1006.2 1108.3M986.3 1060.3L997.1 1111.9M1598.2 811.1L1612.2 816.6M1595.1 820.8L1608.5 826M1572.1 822.7L1605.7 835.8M1567.8 831.9L1599.9 844.4M1001.9 962.7L987.4 988.3M1445 1167.4L1462.2 1207.8M1435.3 1168.5L1454.3 1212.9M1428.1 1175.3L1451 1228.9M1634.8 834.2L1626.3 863.7M1625.5 830.5L1617 859.9M1615.1 830.7L1608.3 854.5M1312.6 1110.4L1283.7 1130.7M1304.3 1105.4L1279.8 1122.5M1409.1 1223.1L1428.7 1257.6M1406.5 1237.5L1420.9 1262.8M1397.4 1240.4L1413 1267.7M1388.1 1243L1403.5 1270.1M1221.3 813.6L1246.4 833.7M1215.5 820.3L1241.4 840.9M1203.3 821.9L1235.7 847.6M1088.9 968.2L1058.7 989.1M1041.5 1032.2L1058.8 1088.4M1031.8 1032.7L1050.1 1092.2M1048.7 972.9L1018.2 1003.8M1041 966.5L1010.1 997.9M1034.4 959.1L1003.4 990.5M1012.2 967.5L999.3 980.5M1609.2 1061.6L1644.8 1087.3M1603.5 1068.6L1640 1095M1597 1075L1635.4 1102.8M1590.7 1081.5L1631 1110.8M985.9 1185.3L993.1 1217.9M975.3 1185.3L982.9 1219.7M965.8 1189.9L972.4 1219.7M1051.6 755L1010.1 768.7M1049.7 744.7L1008.7 758.3M1333.8 777L1331.2 824.3M1324.1 777.3L1321.6 822.1M1314.4 777.8L1312 819.6M1304.8 775.4L1302.2 821.8M1270.6 779.2L1291.4 819.7M1263.6 784.6L1283.2 822.7M1255.4 787.7L1274.7 825.3M1611.3 1113.4L1640.6 1136.5M1607 1123.1L1633.7 1144.2M1600.6 1131.1L1626.8 1151.8M1593.9 1138.9L1621.2 1160.5M1588 1147.4L1614.1 1167.9M1390.8 885.1L1381.6 910.9M1386.9 869.7L1374.1 905.5M1451.4 810L1410.7 812.9M1447.4 801.3L1406.5 804.2M1449.4 792.2L1405.6 795.3M1446.8 783.4L1404.5 786.4M1378.4 983.2L1409.1 1026.9M1371.4 990.4L1401.2 1032.8M1361.4 993.2L1392.6 1037.6M1538.5 755L1494 765.6M1529.2 746.5L1491.2 755.6M1511.6 740.1L1499.1 743.1M1305.4 751.4L1362.1 753.8M1303.8 760.7L1363.2 763.3M1338.4 771.7L1363.8 772.7M1396.9 938.8L1357.3 949.9M1392.1 929.9L1352.8 940.9M1388.6 920.7L1358.2 929.2M960.1 851.1L994.3 862.8M958.3 860L998.6 873.8M956.5 868.8L998 883.1M951.9 876.8L1002.6 894.2M946.4 884.4L1007.3 905.2M1055.1 802.3L1039.3 814.8M1051.7 793.2L1034.1 807.1M1044.7 787L1028 800.1M1039.7 779.2L1022 793.2M1095.8 1213.4L1062.6 1221.3M1092.8 1204L1062.5 1211.2M1082.1 1196.4L1062.5 1201.1M1376.5 1118.8L1400.9 1134.6M1369.6 1126.2L1394.9 1142.6M1363.8 1134.4L1392.7 1153.1M1358.7 1143L1390.4 1163.5M1357 1153.8L1388.2 1174M1709.9 1138.6L1655.1 1143.3M1707.8 1129.3L1651.7 1134.2M1706 1120L1651.5 1124.8M1707.3 1110.5L1653.1 1115.2M1706.8 1101.1L1651.2 1106M1480.7 1162.2L1458.8 1182.4M1366.8 791.5L1339.2 806.2M1360.1 784.1L1339.9 794.8M1348.9 779L1340.5 783.5M1232.3 1245.1L1266.1 1250.1M1231 1254.3L1263.6 1259.1M1227.6 1263.1L1262.8 1268.3M1227 1215.8L1219.2 1246.4M1219.4 1210.9L1213.4 1234.5M1210.8 1209.6L1204.6 1233.9M1201.9 1209.6L1195.9 1233.4M1193.8 1206.6L1187.1 1232.9M1432.4 695.1L1469.1 724.8M1425.7 702.4L1460.6 730.8M1420.7 711.2L1456.4 740.2M1412.2 717.1L1450.4 748.2M1641.5 946L1608.3 962.3M1639.2 937.1L1606.1 953.3M1635.6 928.8L1601.7 945.4M1631 921L1597.8 937.2M1625.1 913.8L1592.5 929.8M1284.9 1210.1L1241.4 1239.6M1279.4 1202.4L1231 1235.2M1277.9 1192L1231.9 1223.2M1269.8 1186L1232 1211.6M1406.4 721.4L1389.4 755M1402.3 709.4L1380.4 752.4M1393.6 706.2L1371.5 749.7M1002.8 1007.2L1048.3 1022.9M1001.8 1016.5L1029.6 1026.1M1567.4 1213.9L1562.4 1241M1561.1 1192.6L1552.9 1237.8M1252.4 1069L1236.1 1077.3M1277.4 1044.8L1229.6 1069M1270.1 1036.9L1240.5 1051.9M1550.2 1212.4L1524.8 1229.9M1552.4 1200.4L1517.5 1224.4M1559.2 1185.2L1513 1217M1550.8 1180.5L1511.4 1207.6M1407.8 746.1L1429 778M1400.9 753.3L1417.9 778.8M1393.8 760.1L1406.8 779.6M1384.1 763L1398.2 784.2M1376.7 769.3L1392.2 792.7M1393.3 897.9L1395.2 917.8M1289 835.7L1263 864.4M1281.7 830L1255.5 859M1269.7 829.6L1250.6 850.7M1435.6 1210.1L1432.7 1231.7M1428.1 1192.8L1422.8 1232.8M1419 1188.2L1414.9 1219.4M1662.9 848.3L1642 884.6M1660.1 835.7L1636.3 877.1M1649.7 836.4L1633.5 864.4M1197.9 751.4L1168 756.4M1194.6 742.5L1159.9 748.3M1194.9 733L1169.6 737.2M1233.6 1143.7L1294.1 1151M1230.7 1153.2L1296.2 1161.1M1233 1163.4L1292.4 1170.5M1094.7 1097.1L1060.4 1108.2M1092.7 1087.6L1060.1 1098.1M1124.9 791.7L1146.4 799.5M1389.5 948.2L1390.1 968.2M1380 950.9L1380.5 968.5M1426.9 835.6L1465.3 847.5M1426 845.1L1459.4 855.4M1223.6 846.5L1223.5 858.8M1214.6 839.3L1214.4 858.8M1205.5 832.1L1205.3 865.8M1196.5 828.3L1196.2 867.4M1274.8 1127.6L1246.7 1127.7M1275 1117.9L1248.3 1118M1288.7 1108.2L1249.9 1108.3M1292.6 1098.5L1248.7 1098.6M1507.2 778.7L1490.2 810.8M1498.4 775.6L1479.6 810.9M1489.9 771.7L1470.3 808.7M1520.7 790.7L1548.3 800.3M1616.9 1177.2L1640.4 1178.6M1613 1185.7L1640.6 1187.3M1619.6 1194.8L1642.5 1196.2M1116.8 1233.2L1095.2 1240.9M1119.6 1221.8L1089.1 1232.7M1134.9 1205.9L1101.3 1217.9M981.2 1111.3L953.4 1146.2M972 1106.2L943 1142.5M962.9 1100.9L935.7 1135.1M1269.5 716.9L1238.8 741.6M1269.1 705.8L1235.4 732.9M1268.1 695L1228.3 727.1M1259.4 690.6L1223.8 719.3M1031.1 1236.8L995.6 1246.2M1031.1 1227.5L997.1 1236.5M1031 1218.3L995.3 1227.7M1659.6 1209.4L1617.6 1234.6M1654.2 1202.3L1628.5 1217.7M1636.7 1202.4L1625.3 1209.2M975 750.9L1017.7 787.8M970.8 758.9L1006.4 789.7M962.8 763.6L999.7 795.6M1408.6 1104.8L1389.9 1118.9M1673.5 1031.4L1639.8 1075.5M1665.7 1027.2L1632.7 1070.3M1657.5 1023.4L1625.5 1065.1M1636.8 1036L1618.4 1060M1237.1 748.1L1256.9 776.4M1216.1 733.5L1247.4 778.4M1209.1 739L1236.6 778.4M1204.3 747.7L1214.8 762.8M1165.9 1187.2L1185.8 1211.6M1157.4 1191.3L1183 1222.6M1152.6 1199.8L1179.3 1232.4M1145.3 1205.3L1166.9 1231.7M969.3 1138.1L1008.4 1175.5M963.9 1144.9L1000.5 1179.9M958.4 1151.6L986 1177.9M948.8 1154.3L973.7 1178.1M1499.2 1186.1L1465.7 1198.5M1496.8 1177.5L1462.2 1190.4M1470 1256.2L1490.1 1305.3M1587 999.1L1557 1009.4M1644 891.5L1670.5 914.8M1631.4 892L1665.1 921.6M1627.1 899.8L1660.8 929.4M1101 1137.5L1061 1148M1095 1129.2L1046.9 1141.9M1095.3 1119.3L1044.6 1132.6M1570.6 1085.4L1603.7 1103.5M1573.7 1098.4L1597.8 1111.6M1575.8 1110.9L1591.3 1119.4M1568.4 1118.2L1586.5 1128M981.9 1073.6L982.3 1097.4M971.5 1041.4L972.3 1097.1M951.1 1165.5L957.9 1188.5M1266.2 728.1L1280.6 750.6M1258.4 734.4L1272.9 757.2M1250.5 740.8L1264 761.8M1297.3 757.8L1276.5 776.4M1309.8 735L1269.5 771.1M1301.5 730.9L1285.6 745.1M1290.8 728.9L1280.9 737.7M1122.3 1177.2L1146.9 1193.1M1118 1186.8L1136.9 1199M1111.4 1195L1123.1 1202.5M1383.1 1085L1404.8 1091.8M1377.7 1093.8L1402 1101.3M1375.3 1103.5L1392.1 1108.7M971.3 833.4L996 844.9M967.7 843L994.7 855.6M1647.6 1076.1L1671.2 1091.4M1183.5 773.3L1187 793.1M1176 783.3L1181.9 816.8M1197.3 698.5L1216 706.1M1191.4 706.7L1210.3 714.4M1185.5 714.9L1209 724.4M1288.6 862.4L1256.5 882.3M1026.2 1182.8L1018.1 1214.8M1016.9 1181.4L1007.8 1217.5M1006.6 1183.9L999.4 1212.3M1716.5 1146.7L1687.4 1160.2M1695.4 1146.7L1672.4 1157.4M1535 763.4L1555.6 775.1M1522.5 766.4L1552 783.2M1510 769.4L1549.6 791.9M1440.8 1253.3L1435.2 1298.2M1430 1265L1426 1297.6M1062.6 1231L1093.3 1251.3M1062.5 1241.5L1088.6 1258.8M1054.8 1247L1082.7 1265.4M1024.5 1127L994 1143.8M1020.6 1118.5L990.9 1134.9M1003.5 1117.3L985.8 1127M1574.6 875.7L1622.4 906.2M1588.8 896.5L1613.2 912.1M1582.9 904.6L1602.7 917.2M1576.1 912L1592.3 922.4M1202.7 1181.7L1217 1196.5M1193.8 1185.1L1210.6 1202.5M1179.3 1182.7L1196.5 1200.5M1457.5 1246.4L1469.9 1299.6M1449.3 1253L1461.6 1305.8M1450.7 816.8L1464.3 820.2M1434.4 822L1463.9 829.3M1443 833.4L1467.3 839.4M1363.3 1245.6L1391 1261.9M1570.6 918L1589.1 938.2M1565.8 925.7L1587.8 949.8M1578.4 1236.1L1587.5 1268.4M1569.9 1240.3L1578.5 1271.1M1562.4 1248.2L1569.7 1274.2M1611.2 1236.6L1603.4 1267.3M1602.8 1233.9L1595.6 1262.2M1592.7 1237.5L1589.5 1250.2M1476.8 690.7L1455.4 704.5M1624.4 792L1606.2 797.5M1624.6 782.9L1604.1 789.1M1637.9 769.9L1601.8 780.8M1505.1 1182.5L1518.6 1194.7M1242.5 788.2L1251 819.7M1235 798L1241.3 821.1M1135.6 718L1139.7 731M1125.8 721.2L1130.5 735.9M1116.1 724.3L1121.9 742.6M1106.3 727.5L1113.4 749.7M1577.2 954.5L1602.2 965.2M1570.8 962.3L1602.8 975.9M1587 979.7L1598.8 984.7M1147.3 1246.9L1155.8 1264.2M1143.7 1261.1L1161.3 1297M1136.9 1268.5L1153.2 1301.6M1126.1 1267.9L1145.5 1307.4M1066.6 956.2L1055.1 969.7M1059.1 950.6L1048.6 962.8M1062.9 931.8L1041.8 956.3M1260.6 1183.9L1221.1 1204.6M1261.1 1173.9L1235.8 1187.1M1046.8 1246.2L1046.5 1286.5M1649 951.7L1660.3 994.3M1640.5 957.2L1648 985.3M1587.7 1074.9L1563.4 1078.1M1585.5 1065.8L1558.8 1069.3M1290.8 1235.6L1257.2 1237.3M1043 1095.6L1047.1 1124.8M1035.8 1107.6L1038.8 1128.8M1027.2 1110.1L1028.5 1119.4M1060.3 755.3L1057.4 774.4M1050.2 763.2L1048.7 773M1423.8 735.8L1430 766.2M1412.1 729.7L1415.1 744.4M1454.8 1238.9L1443.7 1247.1M1445.8 1233.3L1431 1244.3M1584.2 766.8L1559.6 767.4M1583.4 756.4L1568.7 756.8M1227.2 1269.9L1221.1 1285.4M1367.5 742.5L1353.3 744.8M1372.9 732.1L1350.4 735.7M1363.1 1107.3L1361 1125.8M1353.2 1114L1351.2 1131.7M1377.7 1033.2L1393.7 1048.6M1515 1234.4L1538.5 1245.9"/><path clip-path="url(#rc4)" d="M1756 1083.7L1763.2 1114.4M1746.6 1084.7L1754.1 1116.6M1737.6 1087.2L1745.2 1119.2M1869.4 829.8L1820.2 853.6M1863.5 821.6L1817.7 843.7M1859.9 812.3L1827.4 828M1738.8 878.2L1724 931.7M1730.8 874.3L1716.1 927.3M1721.8 874L1707.6 925.1M1714.2 868.4L1698.9 923.6M1710.7 1014.6L1715 1067.4M1701.4 1014.7L1705.9 1070M1692.4 1016.9L1696.6 1069.2M1952.6 1113.1L1893 1142.4M1946.4 1105.8L1894.2 1131.4M1943.7 1096.6L1886.9 1124.6M1937.6 1089.2L1881.6 1116.7M1732.4 926.2L1755.4 934.3M1729.5 935.4L1749.9 942.5M1692.6 932.6L1745.1 951M1692.2 942.6L1741.8 960M1837.5 923L1839.1 940.9M1827.1 923.5L1828.8 942.2M1816.7 924.6L1820.1 960.7M1806.3 924.9L1809.7 961.2M1658.1 876.9L1694.7 911.8M1652.1 885.2L1687.8 919.2M1646.1 893.4L1680.7 926.4M1863 1034.9L1922.7 1036.1M1863.1 1044.9L1923 1046.1M1863.5 1055L1919.6 1056M1699.2 1086.5L1704.4 1128M1689.5 1089.5L1694.5 1128.9M1679.8 1091.6L1684.8 1131.5M1669.8 1092.2L1674.7 1130.7M1887.2 904.6L1938.2 925.9M1881.7 913L1935.8 935.5M1880.9 923.4L1929.7 943.7M1875.5 931.9L1929.5 954.3M1693.2 950.3L1654.9 974.1M1685.3 943.6L1650.6 965.1M1683.2 933.2L1643.6 957.9M1672.3 928.4L1640.5 948.2M1800.2 895L1778.1 957.3M1789.6 894.1L1767.3 957.1M1779.4 892.2L1759.2 949.2M1769.1 890.4L1756.1 927.1M1848.2 1148.8L1792.4 1149.9M1846 1138.5L1795 1139.5M1845.9 1128.1L1791 1129.2M1690.4 974.4L1726.9 977M1688.3 982.9L1726.7 985.7M1857.8 866.8L1903.8 886.7M1856.4 876.6L1900.3 895.6M1853.2 885.6L1883.3 898.7M1848.4 893.9L1877.4 906.5M1842.7 901.9L1873.5 915.2M1828.3 886.2L1838 915.6M1818 885.9L1828 916M1809.1 889.8L1818 916.7M1860.3 1137.5L1872.4 1166.7M1855 1151.5L1863.2 1171.3M1845.8 1156.2L1853.3 1174.3M1834.7 1156.4L1844.7 1180.5M1914.4 1173L1876.7 1188.8M1912.3 1162.9L1875.2 1178.5M1906.3 1154.4L1879.7 1165.6M1813.9 1207.8L1763.1 1237.3M1807.4 1200.8L1775.1 1219.5M1802.3 1192.9L1771.1 1211M1798.8 1184.1L1767.2 1202.5M1920.7 974.9L1943 1002M1912.2 980.3L1943.4 1018.1M1904.8 987L1936.4 1025.3M1896.4 992.6L1926.4 1028.9M1690.3 1071.8L1660.9 1084.1M1689.2 1062.2L1656.5 1075.9M1688.4 1052.4L1655.2 1066.3M1759.4 1039.4L1791.8 1086.8M1815.7 1157.6L1848 1201.9M1809.8 1165L1839.9 1206.4M1802.5 1170.6L1831.8 1210.7M1708.7 1104.9L1738.3 1120M1710.1 1115.8L1741.8 1131.9M1711.5 1126.6L1740.3 1141.3M1707.2 1134.6L1733.6 1148M1692.8 1137.3L1734.2 1158.5M1913.3 868.4L1936.8 880.3M1907.6 876.5L1936.2 891M1910.4 888.8L1936.8 902.2M1956.7 1136.7L1917.1 1156.8M1954.5 1127.5L1912 1149M1793.4 1093.1L1786.2 1115M1775.8 1165.5L1754 1174.1M1773.6 1155.9L1742.2 1168.2M1771.8 1146.1L1741.5 1158M1837.4 853.2L1848 872M1828.5 857.5L1843 883.4M1819 860.7L1829.4 879.3M1809.1 863.3L1817.9 878.9M1915.6 851.9L1886 871.4M1911.5 842.8L1878.3 864.8M1904.5 835.7L1873.1 856.5M1762.5 874.1L1751.2 912.5M1752.2 872.9L1741 910.6M1703.5 867.1L1704.4 879.1M1691.2 842.1L1695.6 900.8M1769.4 1067.5L1761 1079M1760.5 1062.2L1749.3 1077.5M1753.3 1054.7L1733.6 1081.6M1952.1 822.3L1950.1 869.6M1942.1 821.4L1940.3 865.8M1932 824L1930.3 865.8M1769.9 977.5L1739.8 991.3M1954.8 1073.1L1964.2 1095.6M1936.9 1054L1956.7 1101.6M1928 1056.6L1938.8 1082.5M1920.9 1063.4L1930 1085.3M1912.2 1066.5L1921.7 1089.3M2002.2 1057.9L1965.3 1106M1975.5 844.7L1957.2 870.5M1988.4 1149.8L1943.1 1151.2M1984.9 1119.2L1954.1 1120.1M1654.4 981.7L1679.6 988.1M1721.7 1065.3L1728.2 1076.6M1716.1 1074.2L1730.9 1100M1706.8 1076.7L1721.5 1102.3M1791.6 856.2L1809.1 881M1784.1 862.1L1802.3 887.8M1776.6 868L1789.3 886M1769.8 874.9L1776.3 884M1863.7 1104.1L1885 1151.4M1854.5 1107.2L1866.3 1133.2M1929.4 1158.2L1952.2 1174.7M1920.8 1162.6L1946.7 1181.4M1783.8 1155.7L1784 1184.8M1774.5 1173.6L1774.6 1190.2M1765.1 1177.3L1765.2 1189.6M1851.7 1185.2L1880.4 1199.8M1857.3 915.8L1865.6 939.1M1845.5 911.3L1855.4 938.9M1872.7 811.4L1886.3 839.3M1874.1 835.3L1878.5 844.4M1767.2 1097L1782 1104.7M1769.1 1109.2L1779.1 1114.4M1767.7 1119.7L1783.7 1128M1755.6 1124.7L1784.3 1139.5M1788.6 949.6L1801.9 957.3M1785.6 958L1802.4 967.7M1779.4 964.5L1796 974M1771.9 970.2L1789.5 980.4M1752.1 955.6L1752.9 977.8M1743.9 966.7L1744.4 981.6M1735.2 965.1L1735.8 983.7M1716.2 958.4L1718.9 969.9M1706.4 955L1709.8 969.3M1937.2 955.5L1937.4 983.8M1927.6 961.2L1927.7 972.1M1784.9 1088.3L1775.7 1093.3M1779.2 1079.9L1764.1 1088.1"/><path clip-path="url(#rc5)" d="M1641.7 1571.7L1662.6 1618.9M1631.8 1571.8L1654.9 1623.8M1622.1 1572.2L1646.2 1626.5M1614.9 1578.3L1639.2 1633.2M1156.9 1502.8L1188.1 1528M1151.2 1511.2L1180.5 1534.8M1144.6 1518.9L1176.7 1544.8M1446.1 1608.1L1426.4 1639M1438.1 1604.1L1417.4 1636.6M1430.6 1599.2L1410.5 1630.8M1578.3 1591.2L1522.1 1604.8M1573.3 1582.4L1515.1 1596.5M1572.2 1572.7L1513.1 1587M1568.1 1563.6L1511.7 1577.3M1050.7 1894.8L1000.3 1913.7M1044.8 1886.8L997.9 1904.3M1042.5 1877.4L997.2 1894.3M1039.2 1868.3L993.7 1885.4M1064.5 1562.2L1108.5 1571.8M1048.6 1569L1103.8 1581M1042.8 1578L1102.5 1591M1277 1527.1L1299 1587.4M1268.2 1530.1L1288.6 1585.9M1259.9 1534.2L1280.1 1589.6M1251.6 1538.7L1273 1597.2M1601.4 1794.5L1633.3 1802.3M1600.1 1803.9L1632.4 1811.8M1596.7 1812.7L1631.5 1821.3M1596.3 1822.3L1626.5 1829.8M1689.4 1597.4L1700.1 1633.5M1680.3 1602.5L1690.4 1636.9M1669.7 1602.9L1680.6 1639.9M1365.7 1529.1L1332.5 1541.6M1363.6 1520L1330.1 1532.6M1360.3 1511.4L1326.2 1524.2M1357.7 1502.4L1325.7 1514.5M1064.9 1744.3L1048.7 1773.8M1056.6 1739.5L1040.2 1769.4M1632.3 1912L1680.3 1941.3M1627.6 1920.7L1674.1 1949.1M1624 1930.2L1668.6 1957.4M1617.1 1937.6L1664.8 1966.7M1648.3 1654.2L1683 1674.4M1641.7 1661.8L1677.6 1682.7M1636.7 1670.3L1675.1 1692.7M1631.2 1678.6L1668.4 1700.2M1628 1760.5L1621.8 1792.4M1617.9 1760L1612.1 1790M1608.4 1757L1602.4 1787.6M1403.7 1556.3L1414.9 1602.1M1394.6 1556.3L1406.7 1605.9M1385.4 1556.3L1398.1 1608.2M1375.2 1551.8L1389.2 1608.9M1021 1962.7L978.9 1967.8M1020.5 1953.4L978.5 1958.5M1018.4 1944.2L975.9 1949.5M1017.2 1935L974.4 1940.3M1017.1 1925.7L975.1 1930.8M1633.4 1770.3L1659.9 1801.6M1631.1 1782.3L1653.6 1808.8M1688.9 1678.7L1710.2 1720.5M1684.3 1689.5L1701.2 1722.6M1679 1699.1L1693.5 1727.5M1128.2 1626.6L1153.4 1657.9M1120.9 1633.3L1145.9 1664.3M1699.9 1858.3L1644.6 1877.3M1702.3 1848.3L1643 1868.7M1699.5 1840.2L1638.1 1861.2M1691.4 1833.8L1634.2 1853.3M1604.7 1632L1633.3 1636.2M1603.9 1641.9L1644.8 1648M1600.5 1651.5L1636.6 1656.8M1678 1888.7L1717.5 1917.9M1672.9 1896.1L1711.7 1924.9M1668.8 1904.4L1703.8 1930.3M1661.3 1910.1L1697.9 1937.2M1448.1 1640.9L1411.6 1650M1008.6 1694.2L1036.6 1717.4M1003.7 1703.1L1029.5 1724.3M998 1711.3L1024.7 1733.3M1024.4 1775.7L975.3 1800.1M1017.3 1768.5L972.5 1790.7M1014.2 1759.3L968.6 1781.9M1268.6 1471.3L1284.5 1518.1M1259.3 1475.5L1274.6 1520.7M1249.1 1476.9L1265 1524M1005.2 1577L1029.1 1608.3M994.6 1579.6L1021.5 1614.9M983.9 1582.2L1014.1 1621.8M976.1 1588.7L1006.5 1628.5M1045.4 1831.6L1074.9 1855.2M1039.1 1838.5L1067.4 1861M1034.1 1846.3L1063.1 1869.5M1488.4 1602L1538.2 1622M1481.3 1609.6L1531.8 1629.9M1335.9 1547.6L1351.4 1568M1322.5 1544.6L1344.9 1573.8M1316.7 1551.5L1339.2 1580.9M1263.6 1627.8L1233.1 1673.1M1256.4 1623L1226.2 1667.9M1249.5 1617.6L1218.2 1664.1M1035.4 1580.7L1057.7 1619.1M1027.9 1587.5L1050.3 1626.2M1032.3 1615.1L1040.1 1628.4M1582.7 1835.3L1629.6 1859.1M1575 1842.7L1630.4 1870.7M1574.7 1853.8L1626.7 1880.1M1568 1861.7L1622.1 1889.1M1548.7 1538.3L1501.2 1575.1M1538.3 1533.7L1496.5 1566.2M1527.9 1529.2L1489.2 1559.3M1701.5 1871.2L1725.6 1917.3M1693.2 1876.3L1706.3 1901.3M1204.8 1627.6L1215.3 1656.8M1195.8 1631.6L1208.8 1667.9M1185.4 1631.8L1199.6 1671.6M1176.3 1635.7L1190.2 1674.5M1167.3 1639.7L1180.9 1677.7M1663.5 1648.1L1723.8 1659.5M1673.3 1660.4L1724.3 1670.1M1694.4 1675L1721.7 1680.1M1438.9 1556.3L1421.9 1589.6M1428.5 1556.3L1416.4 1580M1418.1 1556.3L1413 1566.3M1677.4 1718.8L1696.3 1751.4M1668.1 1723.2L1687.2 1756.1M1659 1727.7L1679.4 1762.9M1650.1 1732.6L1670.4 1767.5M1642.4 1739.5L1662.3 1773.8M1182 1569.6L1231.6 1599.9M1174.4 1577.1L1230.9 1611.6M1168.8 1585.8L1224.9 1620.1M1566.4 1779.4L1594.5 1793.7M1562 1787.1L1592.2 1802.5M1557.7 1794.9L1590 1811.3M1115.6 1572.4L1160.4 1591.2M1113.2 1580.8L1158.4 1599.7M1110.7 1589.1L1156.9 1608.5M1713.7 1594.6L1698.1 1600.8M1706.3 1576.9L1663.7 1593.8M1701.7 1568.4L1659.1 1585.4M1166.6 1575.6L1147.1 1578.5M1177.8 1563.5L1144.6 1568.5M1187.3 1551.6L1142.7 1558.3M1450.4 1613.8L1480.6 1628.8M1445.6 1621.3L1476.4 1636.6M1440.8 1628.9L1471.4 1644M1034.2 1819.8L997.2 1829.3M1029.6 1811.9L993.7 1821.2M1028.6 1803.1L991.3 1812.7M1485.8 1502.2L1490.1 1549.5M1476.2 1505L1480.5 1552.1M1466.6 1507L1471 1556.1M1052.6 1901.6L1076.8 1907.1M1035.1 1908.1L1071.5 1916.5M1024.5 1916.2L1068.7 1926.4M1497.4 1623.7L1527.2 1644.5M1487.2 1628L1520.4 1651.3M1483.7 1637.1L1515.1 1659.1M1077 1793.8L1042.5 1820.8M1069.8 1787.3L1038.5 1811.8M1057 1785.2L1035.2 1802.2M986.2 1613.7L968.9 1665.9M978.4 1606.5L965.9 1644.3M1008.4 1739.9L968.2 1763.1M1005.9 1729.8L968 1751.8M999.6 1721.9L967.8 1740.4M991.8 1714.9L967.6 1729M1656.2 1784L1711 1789.3M1662.5 1793.9L1708.4 1798.4M1666.5 1803.7L1709.4 1807.9M1659.6 1812.4L1705.9 1816.9M1611.6 1717.2L1642.4 1729.7M1607.5 1726.3L1635.3 1737.7M1605.5 1736.2L1639.1 1750M1048.4 1739.9L1027.7 1767.8M1057.6 1710.7L1022.1 1758.7M1259.4 1579.9L1231.5 1584.2M1256.1 1570.9L1232.3 1574.5M1252.8 1561.9L1226.7 1565.9M1379.4 1624L1406.8 1644.9M1372.2 1631.1L1407.5 1658.1M1321.9 1462.3L1346.1 1496.2M1314.8 1469.8L1338.2 1502.5M1306.4 1475.3L1328.4 1506.2M1626.5 1894.8L1628.7 1905.9M1615.9 1894.1L1620.5 1917.8M1604.6 1889.9L1611.8 1926.6M1594.5 1891.5L1601.6 1927.7M996.4 1835.8L1003.9 1851.5M976.5 1816.1L994.6 1854M969.4 1823.3L987 1860M969.9 1846.2L977.6 1862.3M958.6 1972.6L959.7 2000.8M949.2 1972.8L950.4 2004.1M939.8 1972.8L941 2002.4M1208.2 1492.6L1251.9 1507.9M1204 1501.8L1252.6 1518.8M1203.5 1512.3L1247.7 1527.8M1029.2 1654.8L973.4 1688M1025.4 1645.5L969.2 1679M1020.8 1636.7L977.3 1662.6M1003.9 1635.2L982.1 1648.2M1564.7 1750.9L1601 1757.2M1563.9 1759.9L1599.3 1766.1M1563.9 1769.1L1597.6 1774.9M1586.5 1782.2L1595.8 1783.8M1228.8 1528.8L1226.3 1558.9M1219.8 1525.7L1216.7 1563.9M1210.9 1522.6L1207.4 1565.2M1202 1519.5L1198.6 1560.3M1191.5 1535.9L1190.7 1545.1M1678.1 1821.5L1665.2 1835.8M1667.4 1820L1650 1839.3M1656.6 1818.5L1643 1833.6M1344.1 1468.7L1371.3 1496.5M1346.5 1484.3L1357.5 1495.6M1620.7 1607.9L1602.8 1625.1M1616.8 1599L1580.4 1633.9M1612.8 1590.1L1574 1627.2M1608.8 1581.1L1567.8 1620.4M1468.8 1565.7L1505.8 1586.1M1464.7 1573.5L1504.3 1595.3M1461.2 1581.7L1486.1 1595.4M1613 1701.3L1583.1 1730.7M1110.2 1534.9L1134.3 1540.3M1101.9 1543.2L1132.5 1550.1M1093.5 1551.5L1132.2 1560.3M1070.7 1625.4L1035.2 1650.5M1041.4 1635.5L1031.8 1642.2M993.2 1914.1L964.2 1927.4M990.7 1904.4L965.4 1916M988.5 1894.5L966.5 1904.6M1021.3 1867.6L1003.2 1872.1M1033.2 1854.3L1000.1 1862.7M1027.3 1845.6L1010.6 1849.8M1029.9 1834.6L1006.3 1840.6M1119 1611.7L1173.2 1617.2M1134.2 1622.8L1170.8 1626.5M1142.6 1633.2L1161.9 1635.1M1702.3 1614.9L1749.3 1617.1M1705.1 1624.6L1749.8 1626.7M1707.4 1634.2L1746.5 1636M1278.5 1472.9L1313.1 1506.6M1282.4 1489.2L1304.6 1510.8M1318.4 1516.7L1314.8 1543.6M1309.2 1516L1304.3 1552.7M1299.9 1515.6L1294.8 1553.8M1454.8 1583.4L1438.1 1587.1M1457.7 1572.9L1436.2 1577.7M1463.5 1561.8L1441.2 1566.8M1304.6 1559.5L1339.7 1597.1M1299.7 1569.4L1331.6 1603.4M1750.8 1716L1709.2 1741.5M1744.5 1708.8L1704.6 1733.2M1740.2 1700.3L1715.2 1715.6M1735.5 1692.1L1710.9 1707.1M1194.9 1488L1190.6 1520.7M1185.3 1487.7L1182 1513.7M1715 1746.1L1737.5 1774.5M1704.7 1748.6L1730.7 1781.5M1699.6 1758L1721.7 1785.7M1691.6 1763.4L1706.3 1782M1683.5 1768.9L1692.9 1780.6M1651.8 1881.7L1655 1917.5M1641.9 1883.8L1644.4 1911M1251.3 1597.1L1249.5 1611M1241.3 1594.9L1237.7 1623.4M1203.7 1465L1248.6 1498.3M1663.9 1705.9L1659.2 1719.5M1655.9 1701.2L1648.4 1722.9M1647.8 1696.5L1639.4 1720.8M1639.7 1691.8L1631 1716.9M979.4 1981.9L1013.5 1984.4M1737.8 1918.4L1696 1952.3M954.2 1574.5L958.1 1605.1M944.2 1574.4L948.5 1607.5M934.9 1579.6L938.8 1609.9M1358 1567.7L1372.6 1569M1351.6 1577.3L1375.1 1579.5M1587.8 1895.6L1584.2 1906M1594.9 1640.3L1560.1 1660.8M1457.8 1493.7L1452.9 1528.3M1449.2 1492.3L1446.1 1514M1590.2 1554.1L1591.1 1582.5M1580.2 1550.6L1580.9 1576.6M984 1694.9L981.5 1712.6M974.6 1695.1L971.4 1718.5M1571.8 1548.6L1552.5 1556.6M1559.7 1543.1L1548.9 1547.6M1376.5 1528L1373 1545.5M1365.6 1536.5L1362.5 1552M1057.8 1817.7L1053.9 1829.6M975.4 1975.7L965.7 1977.1M1457.7 1591.1L1475.3 1605.9M1452.7 1600.2L1472.3 1616.7M991.8 1870.7L981 1890.1M982.6 1868.2L968.8 1892.9M1598.8 1742.2L1586.5 1747.9M1595.7 1734.1L1576.7 1742.9M1193 1609.2L1196.5 1619.4M1179.6 1601L1186.8 1621.4M1168 1597.8L1172.4 1610.1M1041.4 1777.9L1040.4 1789.2M1032.4 1773.3L1030.3 1796.8M1021.9 1784.8L1020.7 1798.4M1576.5 1912.8L1591.6 1915.2M1047 1865.7L1067.2 1891.3M1015 1742.7L1024.2 1743.8M1004.5 1750.4L1018.1 1751.9M1665.5 1625L1671.7 1635.8M1657.7 1629.9L1664 1640.7M1143.3 1527.1L1144.1 1540.3M1132 1513.1L1133.2 1532.7M1511 1521.9L1515.5 1529.8M1494.2 1511.2L1508 1535.6M1222.8 1627.1L1227.5 1638.6M1210.7 1621.7L1221.5 1647.6M1689.5 1953.4L1680.6 1954.6"/><path clip-path="url(#rc6)" d="M1459.5 2049.4L1420.4 2078.1M1452.2 2042L1411 2072.2M1448.5 2031.8L1408.2 2061.5M1440.8 2024.7L1398.9 2055.5M1325.2 2020.3L1371.4 2026.5M1325.3 2029.5L1366.3 2035M1320.9 2038.1L1366.3 2044.1M1492.9 1981.9L1451.6 2001.1M1490.2 1972.1L1449.6 1991M1484.8 1963.5L1446.1 1981.5M1413.9 1988.3L1430.9 2022.9M1405.1 1993.5L1422.6 2029M1395.9 1997.8L1413.7 2034M1387.2 2003.1L1405.4 2040.1M1507.1 2042.3L1468.8 2049.4M1506.3 2033.6L1463.7 2041.5M1504.5 2025.2L1458.6 2033.7M1256.7 2057.2L1199 2058.1M1260.4 2047.2L1202.2 2048.2M1257.3 2037.4L1197.5 2038.4M1360.6 1951L1378.9 1981.7M1351.6 1955.9L1371.6 1989.3M1344.5 1963.8L1362.7 1994.4M1638.8 2001.2L1581.8 2007.4M1636.5 1991.7L1580.4 1997.7M1519.6 1953.5L1507.1 2015M1511.4 1948.1L1498.7 2010.9M1360 2001.1L1348.3 2016.6M1353.6 1993.4L1337.2 2015.1M1348.3 1984.4L1326.2 2013.6M1342.9 1975.3L1315.3 2011.9M1118.7 1954.9L1146.6 2010.1M1111.3 1960.7L1137.7 2012.9M1102.4 1963.3L1129.9 2018M1309.6 1965.8L1329.4 1981.5M1304.4 1974.3L1323.4 1989.4M1198.6 1997L1167.1 2014.9M1195.4 1987.5L1164.6 2005M1189.6 1979.4L1157.1 1997.9M1184.2 1971.1L1152.7 1989.1M1400.7 1984.1L1385.8 1984.2M1613 1971.1L1588.2 1989.7M1607.1 1964L1565.8 1995M1602.2 1956.1L1558.2 1989.1M1191.6 2055.1L1158.1 2057.8M1190.9 2046L1157.4 2048.7M1190.5 2036.9L1159 2039.5M1082.1 1964L1118.4 2010.1M1072.8 1966.7L1110.6 2014.8M1222.2 1986.1L1255.8 1992.9M1221.5 1995.9L1252.5 2002.2M1218.1 2005.3L1251.7 2012.1M1215.7 2014.8L1248.2 2021.3M1075.2 1980.4L1059.7 2003.9M1068.6 1972.1L1051 1998.9M1071.5 1949.5L1044.7 1990.4M1285.2 1985L1271.9 2018.4M1278 1979.8L1265 2012.3M1269.2 1978.3L1262.7 1994.5M1373 2045.3L1386.4 2066.5M1364.5 2050.7L1378.7 2073.3M1351.4 2048.9L1369.7 2078M1340.3 2050.3L1361.9 2084.6M1330.4 2053.5L1352.4 2088.6M1314.8 2041L1310.8 2071M1306.7 2025.3L1301 2068.4M1296.9 2022.4L1290.8 2067.8M1287 2020.3L1280.5 2068.3M1072.4 1997.8L1092.2 2002.1M1067.3 2005.5L1100.5 2012.7M1039.8 1984.7L1001.1 1992.3M1558.9 1998.3L1571.4 2013.6M1541.5 1990.5L1565 2019.5M1540.9 2000.1L1545 2015.9M1524.8 1973.8L1536.7 2019.3M1519.4 1988.4L1528.1 2021.7M1493.1 2018.6L1454.4 2027.3M1492.1 2009.6L1450.6 2019M1146.1 2017.8L1152.3 2038.2M1199.2 1952.1L1255.4 1985.6M1195.4 1960.8L1227.5 1979.9M1191.9 1969.7L1215.5 1983.8M1166.5 1967L1137.9 1977.8M1543.4 1947L1559.4 1979.7M1534 1951.2L1551.6 1987.2M1525.7 1957.7L1537.4 1981.7M1541.8 2032.3L1513.1 2034.1M1521.8 2024L1511 2024.7M1213.6 2021.5L1212 2031M1206.4 2009.1L1202.6 2031.1M1197.4 2007.3L1193.3 2030.8M1425.5 1945.9L1431.9 2000.1M1416.7 1948.4L1421.2 1986.8M1298 1981.7L1313.3 2002.8M1291.1 1988L1308.3 2011.5M1287 1998.2L1299.8 2015.6M1374.3 2011.3L1397.1 2039.7M1377.1 2031.1L1390.9 2048.2M1632.3 1951L1642.5 1988M1623.9 1955.6L1632 1985M1619.3 1973.8L1622.6 1986M1555 2019.2L1545.3 2026.2M1155 2022.4L1179.4 2022.8M1276.6 2042.7L1266.7 2043.4M1278 2032.6L1263.4 2033.7M1267.7 2023.4L1256.3 2024.2"/><path clip-path="url(#rc7)" d="M1621.3 2516.7L1590.3 2556.8M1613.8 2509.7L1584.6 2547.6M1592.1 2521.3L1584.6 2530.9M1415.4 2634L1369.5 2646.7M1412.9 2624.1L1367.1 2636.8M1409.7 2614.4L1364.3 2627M1407.9 2604.3L1359.7 2617.7M1173.5 2274.7L1195.2 2308.6M1164.2 2276.3L1186.7 2311.5M1157.4 2281.8L1177.1 2312.6M1151 2288.1L1167.5 2313.7M975.3 2382.5L928.3 2408.2M972.4 2373.7L919.3 2402.8M966.7 2366.4L915.3 2394.5M1234.5 2294.5L1286.6 2332M1227.3 2301.1L1277.9 2337.6M1235.3 2318.8L1273.2 2346M1235.8 2330.9L1266.9 2353.4M1271.5 2267.3L1310.2 2307M1266.8 2277.4L1301.7 2313.1M1257.2 2282.4L1297.4 2323.6M1251.9 2291.8L1273.4 2313.9M1364.2 2253.5L1354.8 2301.5M1355.2 2253.2L1345.6 2302.7M1346.1 2253.2L1336.5 2302.6M1584.6 2596.6L1623.5 2630.2M1584.6 2609.5L1616.3 2636.9M1584.6 2622.3L1611.5 2645.6M1584.6 2635.2L1605.1 2652.9M1393.4 2220.2L1384.7 2278M1383.5 2217.2L1374.1 2280M1372.9 2219.6L1368.6 2248.5M1416 2233.3L1466.6 2243.6M1416.8 2244L1459.8 2252.8M1413.5 2253.8L1453.1 2261.9M1413.8 2264.5L1446.3 2271.1M1412.2 2274.7L1439.6 2280.3M1499.3 2733.3L1543.5 2738.9M1492.8 2743L1544.5 2749.5M1489.8 2753.1L1542.3 2759.7M1102.7 2311.5L1092.7 2345.9M1093.4 2309.3L1081.1 2351.9M1083.5 2309.2L1069.4 2358M1213.4 2727.6L1180.3 2730.5M1212.9 2717.9L1182.3 2720.5M1213.4 2708.1L1188 2710.3M1211.6 2698.5L1193.6 2700M1296.8 2532.3L1315.9 2562.9M1287.9 2536L1307.1 2566.9M1243.6 2674.5L1257.9 2708.1M1235 2679.1L1249.6 2713.1M1225.8 2682.4L1240.1 2715.7M1216.8 2685.9L1230.5 2718.1M993 2526.2L1023 2558M985.8 2531.4L1018.4 2565.9M979.4 2537.5L1013.5 2573.6M974.3 2544.9L1005.4 2578M968.6 2551.8L1000.7 2585.9M1276.6 2508.1L1249.9 2545.3M1268.9 2501.2L1242.8 2537.5M1599.6 2697.5L1559 2720.1M1591.7 2690.3L1552.7 2711.9M1588.3 2680.5L1547.5 2703.2M1540.3 2706L1553.3 2739M1531.7 2711.7L1539.3 2730.9M1523.1 2717.4L1527.8 2729.5M1345.1 2560.2L1390.6 2586.7M1340.1 2568.8L1387.5 2596.4M1335 2577.4L1379.3 2603.2M1400 2656L1406 2698.6M1389.6 2657.1L1395.7 2699.8M1349.4 2308.9L1351.6 2333M1340.8 2309.3L1342.9 2333M1331.9 2307.4L1334.3 2333.4M1418.8 2715.6L1374.2 2748.6M1414.3 2707.4L1370 2740.2M1396.6 2709L1365.4 2732.1M1380.5 2709.4L1357.5 2726.5M1410.2 2513.6L1382.8 2547.7M1407.9 2499.9L1376 2539.6M1400.4 2492.7L1368.1 2532.9M1391.3 2487.5L1359.4 2527.1M1411.6 2346.7L1372 2359.7M1411.9 2336.5L1366.5 2351.4M1412.1 2326.3L1362.5 2342.6M1473.4 2732L1487.8 2777.2M1465.1 2737.6L1478.2 2778.6M1456.1 2740.7L1469.1 2781.7M1446.1 2740.8L1460.8 2787.3M1250 2619.4L1263.3 2670.6M1240.9 2623.4L1253.7 2673M1308.3 2714.4L1284.6 2751.5M1299.5 2709.2L1276.8 2744.6M1292 2701.9L1266.1 2742.3M1283.1 2696.9L1258 2735.9M1661.3 2337.2L1629.6 2363.9M1656.3 2328.5L1623.4 2356.3M1649.6 2321.4L1613.9 2351.5M1228 2724.6L1226.9 2761.2M1218.5 2732.5L1217.6 2762.7M1209.2 2735L1208.4 2763.9M1410.6 2388.8L1382.1 2423.9M1408.4 2376L1372.7 2420M1398 2373.3L1365.6 2413.2M1391.6 2365.6L1358.3 2406.7M1658.5 2526.1L1617.9 2561.5M1652.2 2519.4L1609.6 2556.5M1647.8 2511.1L1608.3 2545.4M1142.9 2747.6L1104.4 2760.1M1139 2739.3L1101.5 2751.4M1137.5 2730.2L1099.9 2742.4M1133.4 2722.1L1095.9 2734.2M1145 2293.9L1106.3 2324M1141 2285.4L1109.4 2309.9M1133.4 2279.6L1101.8 2304.2M1072.6 2654L1031.5 2667.9M1063.8 2647.2L1028.2 2659.2M1055.8 2640.1L1028.5 2649.3M1056.7 2630L1023.4 2641.2M991.4 2407L977.4 2414.1M991.4 2396.5L972.7 2405.9M996.1 2383.7L969.4 2397M1458.4 2204.5L1518.9 2210M1457.2 2213.6L1519.7 2219.3M1456.3 2222.7L1516.1 2228.1M976.9 2492.4L995.3 2520M966.7 2494.5L985.8 2523.2M960.6 2502.8L978.3 2529.3M951.4 2506.5L971.6 2536.7M1617.6 2649.4L1635.3 2659.5M1610.6 2657.3L1632.8 2670.1M1595.6 2660.7L1625.3 2677.8M1441 2689.6L1423.5 2710.1M1440.5 2674.3L1417.5 2701.3M1434.2 2665.8L1412.5 2691.4M1425.7 2660L1410.5 2677.8M1250.7 2454.4L1249 2500.3M1241.2 2458L1240.6 2472.7M1651.4 2558.7L1627.8 2592.2M1644.5 2551.5L1619.6 2586.8M1621.3 2567.4L1611.6 2581.1M1408.2 2571.2L1408.5 2597.1M1397.9 2571.7L1398.2 2599.5M1566.1 2258.1L1523.3 2292.5M1559 2252.7L1523.3 2281.4M1553.4 2246.1L1528.4 2266.3M1546.3 2240.8L1527.3 2256M1640.7 2465.1L1667.7 2486.2M1633.5 2471L1661.8 2493.2M1628.6 2478.6L1657.7 2501.4M1514.3 2763.6L1520.4 2793M1504.8 2762.4L1511.4 2794.3M1435.1 2750.8L1392 2775.1M1431.3 2742.4L1389.4 2766.1M1424.8 2735.6L1384.7 2758.3M1422.6 2726.4L1393.4 2742.9M1087.9 2665.8L1093.1 2692.9M1076.6 2659.6L1083.6 2696.4M1067.1 2663.1L1073.1 2694.2M1432.6 2571.1L1429.2 2587.1M1426.8 2555L1420.5 2584.7M1420.2 2543L1414.8 2568.1M1354 2761.4L1315.7 2770.9M1352.4 2752.3L1312.2 2762.3M1350 2743.4L1311.5 2753M1349.6 2734L1310.6 2743.7M1624 2314.6L1601.7 2353.4M1615.6 2309.2L1596.1 2343.1M1605.4 2306.7L1590.5 2332.8M1597.2 2301L1584.9 2322.5M1588.6 2296L1575.3 2319.2M1179.1 2756.5L1148.4 2796.4M1173.8 2748.9L1143 2788.9M1165.9 2744.6L1136.2 2783.1M1160.7 2736.9L1128.7 2778.3M1009.4 2363.2L976.2 2367M1016.4 2352.3L970.3 2357.6M1020.8 2341.7L963.3 2348.4M1019.7 2331.7L964.6 2338.1M1020.1 2321.6L961.5 2328.4M1237.4 2377.9L1266.9 2381.2M1237.7 2386.6L1263.4 2389.5M1238 2395.3L1265 2398.3M1238.3 2404L1263.6 2406.9M1238.6 2412.8L1261.8 2415.3M1268.1 2260.8L1236.4 2267.4M1282.9 2247.5L1235.2 2257.4M1271 2562.2L1277.5 2593.3M1260.6 2560.4L1268.6 2598.6M1249.2 2554L1258.8 2599.7M1244.1 2577.4L1249.3 2602.5M1300.4 2746.2L1272.9 2782.3M1280.1 2757.4L1264.6 2777.7M1271.7 2753.3L1258 2771.1M1029.7 2602.2L986.9 2644.8M1022.5 2596.7L982.3 2636.7M1015.4 2591.1L974.5 2631.8M1001.3 2592.4L966.9 2626.6M993.3 2587.7L962.1 2618.8M1388.5 2427.2L1407.6 2432.8M1357.3 2428L1406.8 2442.4M1358.2 2438.2L1405.1 2451.8M1351.6 2446.1L1400.4 2460.3M1399.9 2560L1374.1 2568.8M1382.5 2555L1362.3 2561.9M1025.7 2317.1L1067 2341.3M1027.5 2328.9L1064.3 2350.4M1027.9 2339.8L1042.2 2348.2M1333.7 2233.4L1288.5 2254.3M1331.9 2223.8L1289 2243.6M1325.2 2216.5L1279.3 2237.7M1322.6 2207.4L1275.3 2229.2M1012.1 2470.7L1018.1 2492.8M1003.4 2473.7L1012.1 2505.6M994.6 2476.2L1003.1 2507.5M986 2479.3L992.4 2502.9M1620.6 2618.4L1665 2620.4M1630.4 2629.1L1665.6 2630.7M1625.6 2639.1L1665.5 2640.9M1632.8 2649.6L1660.5 2650.9M1639.5 2450.4L1675.2 2464.4M1650 2463.8L1671.2 2472.1M1541 2286.6L1572.4 2309.7M1534.3 2292.5L1568.3 2317.4M1528.5 2298.9L1550.5 2315.1M1653.3 2422.4L1615.3 2439.6M1650.5 2413.6L1612.9 2430.6M1645 2406L1612.2 2420.9M1201.7 2740.9L1198.2 2788.6M1192.5 2738L1188.8 2787.6M1181 2765L1179.3 2788.4M1591.1 2710.6L1595.9 2730.1M1582.9 2715.1L1587.6 2734.2M1362.3 2241.5L1335.9 2249.3M1363.8 2231.2L1337.8 2238.9M1365.4 2220.9L1339.8 2228.5M1259.1 2356.4L1248.9 2372.6M1648 2579L1677.4 2621.6M1641.1 2585.6L1660 2612.9M1635.4 2593.8L1648.2 2612.4M1627.7 2599.3L1636.4 2611.8M1645.5 2359.7L1681.3 2376.3M1637.7 2366.3L1679.4 2385.7M1627 2370.5L1620.8 2409.5M1618 2368.9L1612.2 2405.1M1114.1 2721.2L1071.9 2729.7M1116.1 2711.1L1068.7 2720.7M1114.2 2701.8L1066.4 2711.5M1257.6 2197.4L1268.4 2228.6M1248.4 2199.3L1264 2244.1M1239.7 2202.6L1254.8 2246M1203 2238.4L1228.5 2261.9M1195.7 2244.4L1228 2274.1M1188.5 2250.4L1219.8 2279.3M1183.7 2258.8L1213.4 2286M1313.7 2571.6L1328.7 2574M1297.7 2578.5L1331.6 2583.8M1324.4 2261.6L1291.9 2271.5M1321.9 2251.6L1286.8 2262.3M1552.5 2277.4L1556 2289.5M1641.2 2497L1648.1 2504.3M1620.2 2488.7L1639.6 2509.1M1613.4 2495.4L1632.5 2515.4M1146 2254.6L1192.5 2276.2M1604.5 2580.4L1584.6 2584.3M1610.9 2569.7L1584.6 2574.9M1605.1 2561.5L1584.6 2565.5M1318.6 2681.3L1331.3 2706.8M1306.8 2680.7L1323.2 2713.4M1326.8 2269.8L1321.8 2308M1316.7 2271.6L1313.1 2299.4M1416.2 2311L1372.5 2323.2M1414.6 2302.4L1372.5 2314.2M1011.5 2451.2L990.6 2465.1M1014.4 2437.1L983.1 2458M1005.8 2430.8L979 2448.6M1237 2645.9L1222.8 2675.7M1223.3 2652.1L1204.2 2692M1207.4 2662.6L1195.3 2688M1003.2 2660.4L1050.9 2687.9M1565.9 2649.8L1569.3 2674.8M1557.2 2653.6L1560.3 2676M1548.5 2657.5L1550.3 2670.2M974.1 2420.1L970.2 2438.5M966.8 2409.4L961.3 2435.2M959.5 2398.9L952.2 2433M1526.2 2216.4L1543.6 2230M1524.2 2226.3L1538.7 2237.6M1519.5 2234L1532.1 2243.8M1577.3 2720.5L1563.9 2764.6M1565.2 2725L1554.2 2761.3M1374.4 2690L1365.3 2712.2M1365.9 2688L1353.5 2718.1M1351.3 2700.6L1345.4 2714.8M1393.4 2276.4L1420.6 2297M1388.8 2284.1L1406.9 2297.8M1431.9 2606.6L1440 2658.6M1423 2607.3L1430.3 2654.2M1419.1 2640.2L1421.3 2654.1M1410.5 2642.9L1413.7 2662.9M1657.6 2431.7L1650.7 2447.8M1656.8 2394.5L1645.3 2399.2M1653 2385.8L1629.9 2395.3M1646.7 2378.1L1631.7 2384.3M1253 2743.2L1255.9 2762.6M1243.5 2742.1L1248.9 2777.3M1234.8 2745.7L1240.2 2780.9M1074.5 2315.3L1063.2 2331.2M1444.4 2758.5L1437.5 2787.4M1434.3 2759L1427.9 2786M1038.5 2625.1L998.1 2643.1M1037.6 2615.5L1016.2 2625.1M1265.9 2420.4L1268.4 2429.8M1256.9 2421.4L1263.2 2445.1M1247.5 2420.3L1254.9 2448.5M1238.9 2422.9L1245.8 2448.9M1221.2 2305.4L1201.6 2307.3M1223.5 2295.1L1199 2297.4M1373.6 2755.4L1376.7 2771.2M1362.5 2751.8L1366.6 2773.4M1384.4 2289.1L1371.9 2307.6M1373.6 2287.3L1357.1 2311.8M1619.2 2595.1L1619.3 2611.2M1610.3 2591.2L1610.4 2609.6M1601.4 2591L1601.5 2601.8M1013.2 2512.3L1011.2 2530.8M1003.6 2514.3L1002.3 2526.3M1284.9 2548.8L1293.1 2573.4M1277.4 2555L1286.2 2581.5M1134.4 2310.7L1138.7 2322.9M1126.1 2317.2L1129.3 2326.1M1411.8 2532.6L1409.2 2562.4M1402 2535.6L1400.6 2552.3M1336.3 2712.1L1336.5 2730.2M1326.3 2720L1326.4 2732.7M1316.1 2715.8L1316.3 2735.2M1247.2 2272.5L1245.9 2287.4M1237.8 2274.5L1236.7 2287.8M1586.6 2646.2L1588.2 2670.7M1577.4 2644.6L1579.1 2670.5M1060.8 2680.9L1068.7 2703.9M1055.7 2693.6L1060.6 2707.6M1635.2 2460.9L1622.7 2466.7M1633 2451.2L1620.1 2457.2M1632.1 2441L1617.6 2447.7M1407 2462.6L1408.5 2474M1398.6 2467L1400.6 2481.6M1666.6 2531.3L1649 2544.5M1144.2 2261L1156 2274.5M1135.8 2264.6L1149.6 2280.3M1442.4 2728.3L1434.1 2733.3M1441.9 2718.1L1429.8 2725.5M1441.6 2707.9L1425.2 2717.9M1244.1 2721.9L1249.2 2732.3M1235.4 2724.1L1241.1 2735.7"/><path clip-path="url(#rc8)" d="M913.4 3165.5L965.5 3198.1M909.7 3174.6L957.1 3204.2M902.4 3181.4L953.6 3213.4M901 3191.9L947.8 3221.1M989 3040.8L954.3 3073.4M983.9 3032.7L948.5 3066M975.7 3027.6L941.6 3059.6M959.3 3281.2L1005.8 3293.1M956 3291.1L1003.2 3303.1M955 3301.5L1001.1 3313.3M924.8 3237.6L951.3 3265M917 3244L945.9 3273.8M909.6 3250.9L938.5 3280.6M905.7 3261.3L931.9 3288.3M910.8 3281L924.3 3294.9M969 3162.8L928.3 3166.5M969.4 3153.1L908.6 3158.7M963.7 3144L902.5 3149.6M1020.3 3303.1L1060.1 3332.4M1014.9 3311.9L1054.8 3341.4M1009.8 3321L1047.8 3349M1003.6 3329.3L1040.2 3356.3M983.6 3246.4L1006.1 3285.6M977 3252.6L994.1 3282.5M969.5 3257.2L982.2 3279.5M961 3260.2L970.3 3276.4M874.8 3171.1L853 3213.4M866.2 3166.8L845.5 3206.9M857.4 3162.8L837.1 3202M917.3 3090.5L946.2 3106.1M911.2 3098.3L941.3 3114.5M906.8 3107L935.8 3122.6M1059.8 3063.5L1049.5 3098.3M1051.1 3059.6L1040.5 3095.5M1029.8 3008.7L1052.8 3044.5M1022.6 3014.4L1045.5 3050.1M1013.8 3017.8L1037.9 3055.4M894.7 3195L891.7 3214.7M888.9 3170.8L882.1 3215M877.8 3180.6L873.2 3210.8M1021.7 3096L1054 3114.7M947.9 2963.2L970.3 3014.5M937.9 2965.1L960.3 3016.5M929.5 2970.7L951.7 3021.6M1035.1 3224.4L1076 3231.6M1032.8 3233.2L1076.2 3240.7M1029.7 3241.8L1074.9 3249.7M1011.7 3177.7L1017.1 3240.4M1002 3181.5L1007.4 3244.6M991.9 3180.5L997.2 3241.9M982.3 3184.9L987.1 3240.8M972 3180.9L977.3 3242.5M980 2966.1L1033.6 2983.9M979.9 2976.1L1026.8 2991.6M974.3 2984.2L1027.7 3002M997.4 3056.9L988.9 3089.4M988.2 3051.2L979.1 3085.8M974 3064.3L968.7 3084.9M1048.4 3001.1L1076.3 3032.9M1041.2 3007.9L1067.6 3037.9M1024.4 3182.5L1070.5 3207.9M1020 3191.1L1064.3 3215.5M1021 3202.7L1054.1 3221M1022 3214.3L1030.9 3219.2M897.8 3155.2L880.1 3161.8M896.5 3146.1L876.8 3153.5M918.2 3128.5L875 3144.6M1043.6 3276.2L1026 3298.1M1035.6 3271.7L1016.1 3295.9M1028.8 3265.6L1012.7 3285.7M1021.7 3259.9L1008.4 3276.4M1014.1 3254.8L1003.6 3267.9M1066.6 3255.9L1052 3309.8M1057.6 3255.3L1044.6 3303.1M1003.8 3053.3L1031.3 3057.6M1003.5 3062.5L1041.3 3068.4M1001.2 3071.4L1038.7 3077.3M998.9 3080.3L1036.1 3086.1M970.5 3092.9L950.9 3117M961.7 3087.4L950.9 3100.8M954.2 3080.2L941.8 3095.7M945.8 3074.3L932.5 3090.7M958.2 3031.4L920 3041M945.1 3024.4L917.3 3031.4M941.1 3015.2L915.6 3021.6M876.2 3116.3L832.5 3136.1M871.2 3108.6L827.7 3128.4M870.5 3099L826.3 3119.1M928.6 3046.2L929.1 3083.2M918.7 3048L919.2 3083.7M908.8 3044.7L909.4 3089.1M983.8 3330L1000.9 3336.5M984.5 3340.3L1021.4 3354.2M985.2 3350.5L1018.7 3363.1M870.9 3132.4L853.1 3157.3M861.7 3130.2L842.3 3157.4M845.7 3137.5L834.9 3152.6M1033.8 3149.3L1041.8 3178.6M1020.3 3135.9L1032.1 3178.7M1046.1 2951.1L1060.8 2989.9M1037.2 2955.4L1050.8 2991.4M1078.2 3179.3L1054.4 3191M1075.3 3169.5L1046.8 3183.4M893.1 2990.2L901.8 3027.5M884 2993.2L890.7 3022M916.3 3209.7L892.5 3240.8M908.9 3205.1L885.4 3235.9M876.8 3090.8L901.6 3101.6M878.6 3102.2L902.4 3112.5M882.6 3114.5L907.5 3125.3M968.2 3227.8L961.4 3252.2M960.1 3224.6L951.7 3254.9M950.2 3227.7L944.7 3247.8M941.8 3225.7L937.7 3240.6M1007.7 3020.7L1003.4 3046.6M1001.9 3000.8L995.6 3038.7M993 2999.2L988.3 3027.4M984.1 2997.8L980 3022.3M996.1 3091L1012.4 3096.4M980.8 3096.4L1007.5 3105.3M998.8 2961.5L1031.4 2973.4M928.2 3226.6L909.9 3235.7M925.5 3218.3L913.2 3224.4M1037.6 3251L1049.4 3259.9M1031.4 3258.5L1046 3269.6"/><path clip-path="url(#rc9)" d="M1104.3 3102.8L1105.3 3169.9M1095.5 3275.8L1054.7 3295.3M1091.3 3267.4L1050.1 3287M1101.9 3090.3L1147.8 3106.8M1215.7 3015.7L1206.8 3046.9M1207.1 3012.1L1197.8 3044.8M1198.3 3009.5L1188.7 3043.1M1080.7 3016.4L1128.1 3027.2M1078.7 3026.3L1125.6 3036.9M1072 3035.2L1127.5 3047.7M1165.3 3277.6L1188.1 3308.8M1157.8 3282.3L1180.2 3313M1150.1 3286.8L1174.3 3319.9M1144.5 3294.1L1166.4 3324.2M1051.3 3206.7L1088.1 3211.2M1048.8 3216.4L1085.9 3220.9M1048.5 3226.3L1082.5 3230.4M1095.9 3093.8L1045.7 3118.5M1097.3 3082.2L1039.8 3110.5M1269.8 2934L1257.4 2988.5M1260 2933.9L1247.8 2987.5M1250.7 2931.3L1238.6 2984.6M1072.5 3048.9L1117.1 3053.6M1072.2 3059.2L1117.9 3064M1068.7 3069.2L1119 3074.5M1225.9 3311.1L1192.6 3341.1M1222.1 3301.2L1186.8 3333.1M1213 3296.1L1180.5 3325.4M1207.2 3287.9L1191.5 3302.1M1237 2991.4L1260.9 3012.7M1221.6 2990L1254 3018.9M1215.9 2997.2L1248.3 3026.2M1050.7 2982.4L1071.4 2991.8M1045.3 2990.7L1073 3003.2M1044 3000.8L1073.7 3014.3M1039.3 3009.4L1069.6 3023.2M1207.9 3072.8L1184.4 3113.5M1197.6 3070.6L1174.7 3110.3M1189 3065.3L1167.4 3102.8M1170.2 3184.9L1203 3188.8M1170.4 3194.1L1203.2 3198M1166.8 3202.8L1201.8 3207M1214.2 3344.8L1202.5 3369.5M1206.7 3340.5L1196.5 3362.1M1183.8 3211.6L1170.9 3259.3M1174.1 3210.5L1160.8 3259.9M1164.5 3209.1L1152.6 3253.2M1156.9 3200.1L1142.3 3254.2M1088.9 3160L1060 3175.3M1226.9 3168.7L1275.5 3199.2M1220.5 3175.4L1268.3 3205.4M1214.9 3182.7L1267.9 3215.9M1211 3190.9L1258.6 3220.8M1058.9 3182.1L1107.9 3201.2M1054.7 3191.5L1086.1 3203.8M1257.7 3026.1L1224.2 3069.2M1241.9 3029.5L1213.7 3065.9M1234.2 3022.6L1212.5 3050.6M1188.8 3219.9L1221.8 3248.1M1186.3 3229.4L1215.4 3254.3M1183.8 3238.8L1210.4 3261.6M1185.6 3029L1154.1 3062.3M1191.2 3008.6L1146.6 3055.8M1184.7 3001.1L1138.6 3049.7M1131.3 3054L1150.1 3079M1125.3 3062.1L1143.7 3086.6M1125.3 3078.3L1135 3091.2M1114.9 3172L1137.3 3191.5M1107 3176.6L1132.1 3198.5M1092.4 3175.3L1127.1 3205.5M1089.7 3231.4L1115.6 3249.1M1081.8 3237.5L1107.7 3255.2M1062.5 3235.8L1105.5 3265.3M1057.7 3244L1085.1 3262.7M1222 3105.1L1196.3 3107.4M1235.8 2928.1L1238.1 2955.4M1227.1 2929.7L1230.3 2969.6M1219.7 2948.1L1221.6 2971.6M1177.3 3071.1L1161.7 3071.8M1182.5 3062.1L1163.5 3062.8M1198.2 3052.6L1172.2 3053.6M1209.5 3268.1L1232.4 3300.4M1188.5 3256L1206.2 3280.9M1180.2 3261.8L1197.9 3286.7M1269.2 3276.1L1238 3295.8M1265.2 3267.7L1232.6 3288.2M1259.2 3260.6L1227.3 3280.7M1253.6 3253.2L1221.9 3273.1M1140.3 3223L1121 3244.9M1132.3 3217.1L1113 3239M1124.1 3211.3L1104.7 3233.3M1116.3 3205.1L1096.5 3227.6M1238.8 3065.5L1273.5 3113.9M1232.4 3073.1L1265.8 3119.6M1223.9 3077.9L1256.2 3122.8M1252.6 3327.9L1224.8 3340.5M1249.7 3318.5L1212.1 3335.6M1265.2 3158.3L1255.2 3178.5M1257.6 3153.4L1247.5 3173.7M1249.7 3148.9L1239.8 3168.8M1234.1 3224.3L1210.3 3229.6M1232.4 3214.2L1200.5 3221.2M1222.1 3205.9L1208.2 3209M1281.1 3227.8L1256.9 3247.1M1274.2 3221.6L1244.5 3245.3M1254.1 3225.9L1239.7 3237.4M1137.3 3259.9L1158.2 3274.2M1130.9 3268L1148.5 3280.1M1123.9 3275.7L1141.2 3287.5M1172.1 3077.9L1153.9 3103.3M1159.7 3078.1L1145.1 3098.4M1283.1 3290L1239.8 3312.7M1276.3 3282.7L1248.2 3297.4M1167.7 3001.8L1135 3041.7M1155.6 3000.9L1135.3 3025.8M1140.2 3004.3L1127.6 3019.6M1224.3 3090.4L1229.6 3103.4M1211.4 3082.1L1218.3 3098.7M1182.2 3173.6L1203.8 3177.1M1051.9 3075.3L1084.7 3080.5M1051.9 3084.9L1069.8 3087.8M1260.6 3128.7L1257.9 3145.2"/><path clip-path="url(#rc10)" d="M1386.9 2886.8L1381.9 2923.6M1378.3 2885.3L1373.5 2920.5M1369.3 2885.9L1364.9 2919M1254.5 2912.2L1235.5 2942.9M1247.6 2906.2L1227.8 2938M1365.3 2938.9L1349.7 2967.5M1357.4 2934.5L1341 2964.5M1349.3 2930.5L1333.2 2960.1M1329.5 2952.8L1294.5 2954.1M1335.1 2942.6L1290 2944.3M1340.7 2932.4L1291.8 2934.2M1302.6 2961L1299 2990.5M1292.9 2961.1L1289.5 2989.2M1284.7 2950L1279.7 2990.9M1275.7 2944.3L1270.2 2989.5M1401.8 2948.5L1366.8 2950.3M1403.9 2938.9L1371.8 2940.6M1399.4 2929.7L1365.7 2931.4M1267 2958.6L1226.4 2967.2M1268.1 2949L1222.8 2958.6M1271.3 2938.9L1242.1 2945.1M1276.7 2928.4L1248.8 2934.4M1292.7 2879.1L1282 2924.2M1283.2 2877.4L1272.6 2922.4M1273.3 2877.7L1262.3 2924.6M1263.8 2876.3L1257 2905.4M1322.3 2910.1L1359.1 2912.8M1319 2915.8L1314.6 2926.2M1315.8 2901.4L1305 2926.5M1308.5 2896.5L1295.4 2926.9M1300.6 2892.8L1291.8 2913.3M1384.6 2956.3L1380.6 2996.8M1374.9 2956.8L1371.4 2992.8M1314.5 2960.6L1342.7 2986.6M1308.9 2967.2L1336.9 2993.1M1357.9 2966.6L1366.9 2967.6"/><path clip-path="url(#rc11)" d="M1284.3 3385.9L1299.1 3424M1275.9 3390.5L1290.9 3429.2M1266.3 3392L1282.8 3434.3M1255.2 3343.4L1290.9 3380.4M1246.9 3348.9L1277.7 3380.8M1242 3357.9L1267.5 3384.3M1235.6 3365.4L1259.6 3390.3M1324.6 3398.5L1377.3 3400.4M1322 3408.7L1376.7 3410.7M1323.6 3419L1373.6 3420.8M1205.9 3376.3L1236.5 3376.6M1200.6 3385.8L1245.7 3386.1M1203.1 3395.3L1255 3395.7M1200.2 3404.8L1262.6 3405.3M1323.5 3361.6L1349.8 3382.9M1318.7 3371L1344.5 3391.9M1310.7 3377.8L1327.3 3391.3M1303.5 3385.3L1317.6 3396.7M1377.8 3345.9L1370.6 3381.6M1368.6 3344.7L1361.8 3378.1M1359.5 3342.2L1352.8 3375.5M1383.6 3351.9L1404.3 3361.5M1381.5 3362.1L1399.6 3370.5M1379.5 3372.3L1395.9 3379.9M1377.4 3382.6L1391 3388.8M1420.1 3384.9L1384.2 3408.7M1414.8 3362.7L1445.4 3378.7M1409.5 3370.4L1441.7 3387.2M1318.3 3355L1294.6 3374.1M1228.9 3363.1L1220.2 3369.5M1315.6 3404.3L1302 3412.4M1307.7 3398.2L1298.6 3403.6"/><path clip-path="url(#rc12)" d="M1396.6 3042.2L1432.4 3065.2M1391.6 3050.6L1428.4 3074.1M1385.3 3058.1L1420.7 3080.6M1534.8 3246.2L1532.1 3282.5M1524.9 3243.8L1522 3282.5M1514.8 3244.6L1511.9 3283.8M1583.7 3010.5L1620.6 3060.6M1580 3020.1L1614.5 3067M1571.2 3022.9L1608.5 3073.5M1563.1 3026.5L1599.8 3076.2M1557.9 3034.2L1592 3080.3M1385.4 3177.6L1420.5 3205.9M1380.4 3186.4L1416.7 3215.7M1373.9 3194L1410.1 3223.3M1366.4 3200.9L1404.8 3231.8M1450.5 3108.3L1418.2 3133.2M1443.3 3101.4L1409.6 3127.3M1438.1 3093L1404.5 3118.8M1413 3232.9L1444.5 3248M1404.5 3239L1442.5 3257.2M1389.8 3242.2L1441 3266.7M1386 3250.6L1435.1 3274.1M1382.3 3259L1432.2 3282.9M1475.2 3077.8L1454 3101.2M1470.7 3069.9L1448.5 3094.5M1462.3 3066.4L1442.9 3087.7M1562.7 3086L1617.6 3094M1559.3 3095.1L1614.9 3103.1M1561.6 3105L1614 3112.6M1512.6 3011.9L1543.7 3024.7M1506.8 3020.3L1540.2 3034.1M1503.8 3030L1536.9 3043.6M1473.8 3227.1L1425.5 3231.3M1472.2 3218.5L1423.7 3222.7M1472.8 3209.6L1425.2 3213.8M1468.5 3201.2L1427.6 3204.8M1467.8 3192.5L1420.4 3196.6M1509 3163L1538.9 3176.7M1505.9 3171.7L1534.6 3184.8M1502.8 3180.4L1531.8 3193.6M1497.3 3187.9L1529.3 3202.5M1495.3 3197.1L1524 3210.2M1389.8 3069.3L1416.9 3100.2M1377.5 3068.7L1409.8 3105.7M1369.7 3073.4L1402.7 3111.1M1364.7 3081.2L1397.4 3118.5M1548.1 3262.4L1585.2 3284.6M1545.1 3270.7L1581.8 3292.6M1540.1 3277.7L1577.6 3300.2M1538 3286.6L1573 3307.5M1364.1 3292.7L1418.6 3298.3M1362.3 3302.9L1417.4 3308.6M1361 3313.2L1415.2 3318.7M1362.6 3323.7L1415.1 3329.1M1613.6 3246.2L1568.1 3256.4M1612.3 3237.5L1567.4 3247.6M1608.8 3229.3L1562.9 3239.6M1606.2 3220.9L1560.5 3231.1M1389.1 3129.3L1433.7 3151.4M1384.3 3137.7L1432.8 3161.7M1379.9 3146.3L1425.8 3169.1M1374.4 3154.3L1422.5 3178.2M1392.7 3174.2L1418.3 3186.9M1438.7 3350.7L1404.4 3382.2M1436.5 3339.3L1397 3375.5M1498.8 3085.4L1498.4 3142.7M1488.5 3087L1488.2 3139.9M1478.2 3087.7L1477.9 3139.9M1467.9 3095.5L1467.6 3143.5M1456.3 3317.3L1423.8 3317.8M1461.2 3308.1L1424.8 3308.6M1469.6 3298.9L1425.8 3299.5M1469.5 3289.7L1418.3 3290.5M1553 3159.7L1560 3172.7M1451.2 2995.2L1482 3013.7M1446 3003.3L1476.7 3021.7M1439.6 3010.6L1471.5 3029.8M1435.7 3019.5L1467.1 3038.3M1506.1 3264.6L1471.7 3269.8M1506.7 3255.7L1469.2 3261.3M1507.4 3246.8L1471.3 3252.2M1497.4 3033.7L1510.8 3067.6M1488.3 3036.1L1501.6 3069.9M1479.9 3040.4L1494.2 3076.8M1460.7 3178.1L1492.6 3181.9M1473.8 3189.9L1489.5 3191.8M1477 3200.4L1490.7 3202.1M1551.5 3036.6L1568.7 3077.2M1544.5 3043.8L1559 3078.2M1537.3 3050.8L1550.8 3082.4M1526.4 3060.4L1552.8 3118.3M1517.5 3064.3L1542.2 3118.5M1511.6 3075L1531.5 3118.8M1609.7 3194L1562.5 3205.1M1607.4 3184.7L1557.2 3196.6M1608.6 3174.6L1556 3187M1406.2 2942.2L1436.7 2944.2M1405.5 2952.3L1434.6 2954.2M1407.4 2962.6L1432.5 2964.3M1527.6 3215.9L1553.5 3234.6M1520.1 3221.6L1549.1 3242.5M1516.9 3230.4L1525.6 3236.7M1440.4 3155.7L1467.6 3167.4M1427.1 3026.3L1398.9 3035.6M1423.2 3016.9L1370.7 3034.2M1420.7 3007L1367.6 3024.5M1608.7 3121.1L1589.4 3172M1413.3 3001.7L1390.8 3005.3M1442.3 2987.4L1387.1 2996.1M1434.4 2978.9L1388.6 2986M1422.5 2970.9L1386.8 2976.5M1477.6 2987.6L1528.2 3000.2M1462.2 2993.6L1509.4 3005.4M1487.9 3010L1502.6 3013.6M1486.6 3019.5L1498.6 3022.5M1387.2 2936.2L1396.7 2967.8M1377.7 2937.7L1387.3 2969.3M1582 3305.5L1614.3 3334.9M1576 3313.3L1607.5 3342M1472.3 3233.9L1475 3245M1462.6 3234.7L1465.9 3248.4M1453 3235.6L1462.9 3276.7M1449.1 3260.3L1453.5 3278.5M1475.3 3049L1459.4 3060.6M1464.4 3044.8L1439.2 3063.2M1455.3 3039.4L1431.8 3056.4M1446.1 3033.9L1424.8 3049.5M1437 3028.5L1416.7 3043.3M1363.6 3216.1L1387.3 3227M1362.2 3225.8L1385.8 3236.7M1504.6 3208.8L1510.6 3228.4M1496.1 3212.7L1504.6 3240.6M1487.4 3215.6L1495.4 3242M1493.1 3273.5L1507.5 3299.3M1485.6 3278.1L1498.2 3300.4M1475.9 3278.4L1488.9 3301.6M1583.6 3259.7L1620.4 3275.3M1575.1 3267.3L1614.9 3284.2M1587.8 3295.2L1606.2 3302.9M1583.2 2992.7L1611.2 3001.3M1580.7 3001.8L1609.5 3010.6M1388.6 3269.6L1389.6 3285.4M1372.2 3100.6L1392.2 3122.9M1562.9 3212.1L1559.8 3224.6M1555.2 3206.6L1550.7 3224.3M1549.7 3192.6L1543 3218.7M1497.5 3171.4L1483.6 3173.5M1455.2 3182.9L1433.1 3188.9M1453.1 3174.2L1430.2 3180.4M1447.1 3166.5L1436.6 3169.4M1585.9 2982.5L1606.3 2986.7M1552.9 3005L1563.4 3018M1545.1 3010.9L1556.4 3024.8"/><path clip-path="url(#rc13)" d="M1686.4 3196.4L1746.1 3207M1684.2 3206L1743.1 3216.4M1684 3215.9L1741.5 3226.1M1671.5 3202.9L1654.5 3234.7M1663.3 3198L1644.9 3232.4M1655.1 3193L1637.4 3226.2M1659 3103.4L1694.5 3138.9M1718.3 3126.6L1766.8 3146.9M1712.3 3133.9L1760.4 3154M1710.6 3143L1758.2 3162.9M1703.2 3149.7L1753.6 3170.8M1638.6 3142.2L1655 3186.1M1703.1 3226.5L1712.5 3241.8M1690.8 3224.3L1704.5 3246.6M1674 3214.7L1696.7 3251.8M1688.4 3033L1689.9 3078M1679.4 3033.9L1680.8 3077.7M1670.4 3036.1L1671.8 3076.9M1661.3 3035.6L1662.8 3079.1M1652.3 3036.3L1653.7 3078.9M1681.9 3157.2L1735.1 3180.7M1677 3165.8L1732.4 3190.2M1672.8 3226L1686.5 3259.2M1664.7 3230.4L1678 3262.7M1628.1 3101.5L1594 3125.7M1624.7 3092.3L1589.4 3117.2M1739.9 3087.1L1729.6 3124M1731.7 3084.6L1721.6 3120.6M1723.6 3081.4L1711.7 3124.1M1714.9 3080.4L1700.5 3132M1586.1 3056.3L1617.5 3088.8M1579.7 3062.5L1610.1 3094M1574.6 3070.1L1602.7 3099.2M1666.4 3252.3L1634.2 3283.5M1662.4 3242.7L1625.5 3278.4M1650.3 3240.9L1622.4 3267.9M1606.3 3029.5L1575.6 3049.1M1604.5 3019.4L1570.4 3041.2M1602.8 3009.2L1567.8 3031.6M1601.1 2999.1L1564.1 3022.7M1636.5 3052.5L1616.5 3078.1M1629.5 3047.3L1610.3 3071.8M1622.3 3042.4L1604.2 3065.4M1615.8 3036.5L1598.1 3059.1M1672.9 3273.5L1698.4 3298.3M1664.2 3279L1692.5 3306.5M1658.7 3287.5L1680.9 3309M1652.7 3295.5L1667.3 3309.7M1645.4 3302.2L1653.7 3310.3M1745.7 3231.8L1785.5 3254.3M1740.3 3240.2L1779.3 3262.3M1733.2 3247.7L1775.5 3271.7M1728.9 3256.8L1767.6 3278.7M1644.5 3184.4L1627.6 3224.8M1635.1 3180.9L1617.5 3222.8M1624.5 3180.2L1608.5 3218.4M1615.2 3176.5L1599.5 3213.9M1625.6 3286.7L1585.5 3302.5M1618.4 3279.4L1581.5 3293.9M1615.7 3270.3L1579 3284.7M1621.6 3257.9L1576.3 3275.6M1744.1 3096.4L1764.6 3103.5M1741.6 3105.2L1769.7 3114.8M1739.2 3114L1774.9 3126.2M1580.9 3169.3L1606.7 3178.1M1577.2 3177.9L1603.1 3186.7M1576.4 3187.4L1599.4 3195.3M1570.5 3195.2L1595.8 3204M1728.4 3264.8L1726.8 3313.6M1719.9 3250.6L1718 3309.4M1711 3250.9L1709.2 3307.7M1701.9 3256.6L1700.8 3290.7M1618.5 3230.4L1636.7 3244.2M1598.4 3227.7L1629.5 3251.2M1590.1 3233.9L1615.2 3252.9M1781.1 3193.8L1769 3229.9M1770.2 3194.9L1759.7 3226.5M1689.9 3026.4L1739 3032.8M1695.3 3037.1L1743 3043.2M1695.6 3047.1L1738.8 3052.7M1696 3057.1L1735.5 3062.2M1614.2 3309.9L1590 3336.8M1605.9 3304.2L1583.3 3329.4M1688.9 3084.8L1705.2 3090.9M1663.8 3085.8L1702.6 3100.3M1661.7 3095.4L1698.5 3109.2M1770 3179.2L1755.1 3196.4M1774.3 3160.3L1748.4 3190.4M1749.1 3276.5L1734.1 3293.9M1654.9 3097.6L1636.2 3100M1656.1 3087.7L1631.7 3090.8M1647 3079.1L1622.1 3082.4M1746.1 3056.1L1755.8 3093.3M1739.3 3068.2L1742.7 3081.3M1634 3313.7L1616.9 3317.6M1635 3303.9L1620.8 3307.2M1708.4 3009.7L1703.4 3020.9M1704.1 2998.2L1694.5 3019.8"/><path clip-path="url(#rc14)" d="M314.3 3234.3L281.7 3265.4M309.3 3225.8L275.2 3258.3M302.5 3219L268.2 3251.6M559.1 2679.6L592.2 2709.6M551.7 2685.8L586.2 2717M545.9 2693.5L579.1 2723.5M537.9 2699.2L571.4 2729.4M371.9 3076L411.8 3101.8M367.3 3083.9L407.8 3110.1M362.6 3091.8L405.5 3119.6M357.2 3099.3L397.2 3125.1M349.4 3105.2L395.9 3135.2M251.1 2768.4L317.5 2775.8M251.7 2777.3L316.1 2784.5M254.2 2786.4L313.9 2793.1M280.9 2796L261.7 2832.7M270.3 2794.8L253.1 2827.7M475.9 2940.2L511.9 2952.1M470.9 2949.1L507.4 2961.1M468.5 2958.8L506.7 2971.4M465.5 2968.3L501.7 2980.3M460.8 2977.2L499.9 2990.2M270 1784L278.8 1807.4M260.5 1786.5L270.3 1812.5M251 1789L261.8 1817.7M390.7 3269.1L442.3 3281.1M388 3277.9L442.4 3290.5M384.1 3286.3L439.1 3299.2M382 1740.3L340.6 1746.2M380 1730.5L342.7 1735.8M377.8 1720.7L344.1 1725.4M529 2399.9L540.7 2430.4M510.2 2376.1L531 2430M502.9 2381.8L523.2 2434.7M556.4 3217.4L615.9 3227.7M556.7 3227.5L613.8 3237.4M553.8 3237.1L613.5 3247.3M551.7 3246.8L588.5 3253.1M548 3256.2L585.2 3262.6M493.3 2308.7L543.3 2311.8M495.8 2317.6L544.6 2320.7M492.1 2326.2L525.6 2328.3M316.9 2706.3L286 2745.4M308.4 2700.6L275.7 2742M301.2 2693.3L267.3 2736.2M294.1 2685.9L259 2730.3M285.6 2680.2L251 2724M489.9 2673.6L446.7 2690.2M488.3 2663.3L445 2679.9M481.3 2655.1L440.4 2670.7M479.7 2644.8L438 2660.7M389.4 2567.5L411.3 2615.2M424.5 3375.9L444.1 3405.2M415.8 3380.8L433.1 3406.6M406.9 3385.2L422.1 3407.9M398.7 3390.7L411.1 3409.3M390 3395.6L400.1 3410.7M307.1 2830.7L270.8 2833.6M303.8 2822.3L273.9 2824.7M303.9 2813.6L278.7 2815.6M516.5 1682.9L487.3 1733.6M510.1 1675.9L479.5 1729M503 1669.9L471.4 1724.9M467.9 2026.4L464.7 2078.4M476.3 1863.9L453 1909.6M465.6 1863.5L445.1 1903.7M417.6 2051.1L384.3 2054.7M418.1 2041.8L381.3 2045.8M418.7 2032.4L381.1 2036.6M419.4 2023.1L380.1 2027.5M349.8 1933.3L355.3 1966.6M341 1935L346.2 1967M332.2 1937.4L337.8 1971.3M323.5 1939.4L328.5 1970.1M594.3 3147.6L546.5 3149.4M591 3138.3L547.5 3139.9M591.4 3128.8L545.4 3130.5M452.7 1592.3L429.5 1639.6M444.4 1588.5L419.5 1639.4M437 1583L413 1632M428.7 1579.2L403.1 1631.6M298.5 2427.6L316.6 2465.9M290.2 2432.2L308.2 2470.4M281.7 2436.5L299.6 2474.4M345.2 1873.9L380.3 1904.1M340.2 1881.6L375.9 1912.4M335.1 1889.3L370.3 1919.5M323.6 1891.3L365.2 1927.1M470.9 2420L511.8 2423.6M470.4 2430.1L515.9 2434.1M467.9 2440L515.2 2444.2M420.4 3328.1L399.3 3369.8M378.7 2485.6L332.8 2508.3M371.4 2479L327.8 2500.5M478.3 3027.4L486.2 3069.5M469.7 3031.5L477.1 3070.6M460.2 3031L468.6 3075.4M582.7 3080.7L581.3 3097.7M574.5 3065.9L572 3096.5M565.4 3062.3L562.4 3098.4M341.4 2899.6L303.1 2914.1M339.3 2890.1L300.4 2904.9M336.4 2881L296.4 2896.2M333.9 2871.8L293.9 2886.9M476.1 1929.1L508.4 1937.2M472.7 1938.6L507.3 1947.3M469.6 1948.2L504.4 1956.9M466.1 1957.7L501.3 1966.5M336.1 3052.9L360 3080.4M330.4 3061.5L353.8 3088.4M322.1 3067.1L347.6 3096.5M415.7 2400.9L392.2 2446.2M405.6 2975.8L361.7 2977.3M402.5 2966.8L358.6 2968.2M404.3 2957.5L357.6 2959.1M404.8 2948.3L360 2949.8M466.1 2107.6L494.9 2127.2M461.4 2116.4L490.8 2136.4M454.7 2123.9L486.4 2145.4M450.8 2133.2L478.7 2152.1M493.4 2407.2L447 2408.9M491.1 2397.7L447.7 2399.3M490.2 2388.1L446.7 2389.7M250.3 3121L291 3147.6M247.7 3129.8L286.3 3155M241.3 3136.1L282 3162.7M239.4 3145.3L275.4 3168.9M542.4 2784.9L516.9 2827.3M532.7 2781.1L507.7 2822.5M523.5 2776.3L500.4 2814.7M516.4 2768.2L490.4 2811.1M489.3 3075.5L543.6 3097.8M483.4 3083.5L541.6 3107.3M480.3 3092.6L534.7 3114.9M473.3 3100.1L530.7 3123.6M470.2 3109.3L531.5 3134.3M556.6 2877.5L610 2885.5M553.9 2886.8L610.2 2895.3M556.2 2896.9L609.3 2904.9M486.6 1631.5L459.8 1674.7M477.7 1627.3L453.7 1666.1M468.8 1623.1L443.1 1664.6M461.2 2886.5L488.5 2919.5M453.7 2892.8L480.5 2925.4M445.2 2898L474 2933M539.4 3146.4L499.8 3168.1M528.4 3140.6L490.7 3161.3M520.7 2685.7L477.5 2708M514.3 2677.9L470.1 2700.7M338.1 2571.3L385.9 2593.2M331.2 2579.3L380.2 2601.7M329 2589.5L376.7 2611.3M325 2598.8L370.9 2619.8M558.5 2069.6L527.1 2106.7M550.7 2063.1L518.9 2100.7M540.8 2059.2L512 2093.1M533.1 2052.6L502.2 2089M525.4 2046L494.6 2082.3M526.9 1686.2L546.4 1738.8M519.1 1691.8L536.9 1739.8M513.1 1702.3L527.3 1740.6M507.1 1712.7L519.2 1745.4M344 2173.6L362.8 2208.9M335.3 2177.7L354.4 2213.6M330.2 2188.6L344.6 2215.6M320.1 2958.9L347.6 3014.2M321.1 2982.8L336.9 3014.6M316.4 2995.6L329.8 3022.6M629.3 2666.1L582.9 2678.4M624.3 2657.4L578.5 2669.5M623.8 2647.4L576.3 2659.9M618.2 2638.7L576.3 2649.8M333.1 1783.4L363 1828.6M325.6 1788.9L355.1 1833.5M318.1 1794.3L348.2 1839.9M627.5 2618.7L580.8 2635.4M614.8 2613.6L579.9 2626.1M301.8 1946.6L322 1972M292.5 1949.6L323.1 1987.9M337.3 2373.5L311.3 2396.9M320.2 2376.8L304.7 2390.8M380.4 2237.4L337.9 2266.3M375.3 2229.6L335.9 2256.4M368 2223.4L334 2246.5M519.6 2525.6L549.4 2572.6M511.2 2530.4L540.2 2576.3M504.7 2538.2L531.7 2580.9M500.8 2550.1L525.3 2589M565.7 2810.1L603.2 2817.8M562.6 2819.7L602.1 2827.8M561 2829.7L598.3 2837.3M276.2 3127.5L319.6 3127.6M286.7 3136.9L318.2 3136.9M297.5 3146.3L319.4 3146.3M293.9 3155.6L316.7 3155.7M390.5 2914L433.4 2933.2M389.6 2923.8L430.8 2942.3M384.7 2931.8L426.9 2950.8M227.1 3204.3L273.7 3223.5M221.8 3212L266.5 3230.4M221.2 3221.6L259.2 3237.3M524.8 1636.6L563 1683.9M518.6 1644.8L552.7 1687M510.5 1650.7L531.2 1676.3M350.6 2460.1L322.6 2479.8M544.9 3172.4L565.5 3211.7M535 3175.7L553.4 3210.9M525.6 3180L547.9 3222.6M515.5 3183L541.6 3232.9M478 3340.7L458.6 3402.4M468.6 3340.4L450.2 3399.1M459.3 3339.8L443.2 3391.1M452 3333L436.8 3381.4M355.7 2424.1L389.9 2435.9M353.9 2434.4L385.5 2445.2M351.8 2444.5L387.8 2456.8M357.5 2457.3L385.6 2466.9M572.6 3298.3L547.8 3303.7M576.2 3288.1L546 3294.7M579.8 3277.9L544.1 3285.7M427.5 2137.5L386.2 2182.6M419.4 2132.7L380.2 2175.6M414.1 2125L372.2 2170.7M406.6 2119.6L367.3 2162.5M403.2 2761.5L394.6 2805.2M395.2 2757.3L385.9 2804.8M481.6 1793.9L456.2 1828.9M475.7 1786.1L450.4 1821.1M468.1 1780.8L441.5 1817.6M461.1 1774.7L435.1 1810.6M378.3 2995.4L379.1 3029.8M368.1 2996L368.9 3030.7M358 2996.1L358.8 3029.7M550.1 2590.4L511.8 2625.7M537.7 2589.1L504.6 2619.7M519.6 2593.1L500.7 2610.5M514.5 2585L494.6 2603.4M552.6 1623.4L528.2 1630.3M548.9 1615.1L503.4 1627.9M548.9 1605.7L498 1620M545.4 1597.3L498.8 1610.5M544.7 1818.9L543.5 1858M534.9 1819.4L533.6 1859.3M525.1 1817.2L523.8 1859M496.6 1561.9L478.3 1608.1M488 1558.1L470.4 1602.7M479.2 1554.9L461.8 1598.8M486 1815.7L494.5 1850.9M476.3 1816.5L485.7 1855.2M468.3 1823.9L476.1 1856.3M460.9 1833.9L465.3 1852M313.5 2829.3L340.5 2829.6M292.3 2838.5L337.4 2839M281.2 2847.8L342.1 2848.5M278.7 2857.2L338.6 2857.9M373.5 3333.4L344.5 3344.6M370.1 3324.2L342.9 3334.6M364.2 3315.8L336.8 3326.4M440.9 2385.7L394.2 2399.3M448.2 2373.5L396.2 2388.5M444.8 2364.3L393.5 2379.1M511.6 2733.5L562.8 2741M509.8 2742.6L561.1 2750M510.3 2751.9L562 2759.4M521.7 2762.9L558.3 2768.2M498.6 3203.7L476.3 3250.3M486.4 3207.4L467.5 3246.7M476.2 3206.6L459.4 3241.8M325.9 1750.8L374.1 1761.4M322.1 1759.4L374.6 1770.9M318.6 1768L373.2 1779.9M340.4 1782.2L369.4 1788.5M552.8 2464.9L516.9 2478M549.7 2455.6L514.9 2468.4M546.7 2446.3L510.8 2459.5M544.6 2436.7L522.4 2444.8M523.6 3021L515.1 3065.4M513.8 3021.9L506.3 3061.4M504.8 3019.1L497.1 3059.5M495.6 3017.3L489.4 3049.9M380.7 2921.9L369.6 2942.7M383.5 2895.1L357.7 2943.4M372.9 2893.4L347.3 2941.3M468.8 2450.7L479.4 2492.5M459.3 2451.8L470.6 2496.2M316 2401.7L322 2436.2M306.7 2401.8L313.3 2439.6M295 2388.1L300.8 2421.1M286.4 2391.4L291.9 2423.2M588.4 2765.8L570.9 2802.6M581.9 2758.8L563 2798.8M572.4 2758.1L555.6 2793.8M344.1 2115.5L336 2151.7M333.6 2115.3L329 2135.5M514 2503L554.3 2531.9M526.4 2523.1L551 2540.7M377.1 2750.3L386.9 2765.8M368.4 2754.8L384.2 2779.7M361.1 2761.6L381.4 2793.6M328.7 2436.7L345.5 2448.4M322.9 2443.1L342.8 2457M318.2 2450.4L335.3 2462.3M277 3084.9L306.8 3094.3M270.8 3092.6L305.5 3103.6M264.6 3100.4L301.5 3112.1M261.2 3109.1L297.9 3120.7M257.2 3117.5L271.9 3122.1M537.1 2930.1L494.1 2938.6M537.6 2920.6L486.9 2930.7M533.2 2912.2L495.6 2919.7M534.9 2902.5L490.9 2911.3M532.1 2893.8L484.4 2903.3M268.9 2922.9L327.6 2934M495.6 1898.2L481.8 1923M487.8 1892.6L458.8 1944.7M480.3 1886.5L449.6 1941.6M384.9 3382.8L378.7 3413.3M375 3381.4L368.2 3414.6M365.7 3377.2L357.8 3415.9M355.4 3378L348.1 3413.8M322.8 3250.6L364.1 3279.4M316.2 3257.5L357.3 3286.3M312.6 3266.6L352.6 3294.6M307.2 3274.4L345.4 3301.2M545.7 3074.7L521.4 3081.1M541.9 3066.2L507.3 3075.3M538 3057.7L522.8 3061.7M592.4 2848.3L589.1 2875.3M582.8 2846.4L579.5 2873.8M573.1 2846L569.9 2872.4M495.2 2355.4L459.1 2360.5M495.9 2346L458.1 2351.4M494.2 2337L457.6 2342.3M486.1 2329L455.6 2333.3M432.4 3304.6L387 3345.9M421.8 3302.1L382 3338.3M411.2 3299.6L379.3 3328.6M400.6 3297.1L375.7 3319.8M347.6 2772.7L322.5 2786M343.4 2763.7L323.9 2774M341.5 2753.5L312.8 2768.6M334.5 2745.9L300.1 2764M331.9 2736.1L294.8 2755.6M346.9 2649.5L288.7 2661.9M342.9 2640L282.5 2652.8M341.8 2629.8L283.2 2642.3M339 2620L278.8 2632.9M333.7 2610.8L277.1 2622.9M424.2 1666.4L421 1707.8M414.9 1664.1L411.7 1706.6M405.4 1664.7L402.4 1705.1M449.1 3264L484.6 3265.7M446.1 3272.5L485.6 3274.4M449.1 3281.4L483.9 3283M449.2 3290.1L482.9 3291.7M447.9 3298.7L482.3 3300.4M496.2 1984.2L494.3 2030.3M486.2 1985.6L484.2 2033.3M476.1 1986.2L474.6 2023.5M466.2 1984.8L464.8 2018.6M560.6 2016.5L514.9 2037.3M559.3 2006.1L507.4 2029.7M553 1998L504.7 2019.8M551 1987.8L502.4 2009.9M375.1 3051.1L350.5 3058.6M372.2 3041.4L343.3 3050.2M355.2 3036L336.2 3041.8M441.3 2148.1L475.3 2164M434.8 2155.4L474.7 2174M472.3 2564.5L496 2580.5M450.7 2562.4L489.7 2588.8M449.6 2574.2L484.5 2597.8M448.2 2585.7L477.7 2605.7M435.9 2589.9L473 2615M519.1 3205.8L518.3 3248.5M509.5 3196.4L508.4 3249.1M499.2 3218.6L498.7 3244M414 2862.5L396.4 2909M407.2 2854.6L390.4 2899.3M398.6 2851.9L384.9 2888M390.4 2847.8L375.7 2886.5M265.9 3170.5L286.5 3198.6M252.5 3166.9L279.2 3203.2M245.3 3171.8L273.3 3209.8M236.5 3174.3L264.4 3212.3M231.9 3182.7L249 3206M517.4 1834L499.2 1840.7M517.8 1823L496.7 1830.6M531.2 1807.2L494.3 1820.6M525.1 1798.5L491 1810.9M523.1 1788.3L483.6 1802.7M449.7 2705.8L488.3 2729.5M444.4 2714.6L484.9 2739.6M438.5 2723.2L480.4 2748.9M392.4 2233.7L389.8 2292.3M381.5 2244.9L379.5 2291.5M370.8 2252.2L369 2293.8M360.1 2259.4L358.5 2294.9M397.2 2645.4L409.9 2647M393.6 2653.8L415.6 2656.6M393.4 2662.5L426.4 2666.8M391.1 2671.1L425 2675.4M390.1 2679.7L425.1 2684.2M386.7 2388.4L378.6 2414M386.5 2357.8L368.6 2414.5M295.2 2496.6L323.6 2509M290.2 2504.2L327.7 2520.7M291.6 2514.7L347.3 2539M286.3 2522.2L341.6 2546.4M586.4 3180.9L642.3 3190.5M587.6 3191L643.7 3200.6M584.9 3200.4L641.9 3210.2M384.5 2089L359 2133.3M375.1 2085.7L352.5 2124.9M365.7 2082.4L349.5 2110.5M358.3 2075.5L339.6 2108M350.5 2069.5L328.4 2107.8M322.7 2582.1L299.7 2610.6M329.1 2559.4L290.3 2607.6M319.1 2557L289.1 2594.3M313.4 2549.4L287.8 2581.1M395.2 1995.5L391 2019.4M385 1995.1L380.5 2020.6M375.5 1990.6L367.9 2034M540.9 3304.1L519.1 3323.6M538.6 3292.7L510.9 3317.4M540.1 3277.8L504.9 3309.3M531.7 3271.9L500.5 3299.8M525.7 3263.7L492.3 3293.6M368.7 3223.4L333.2 3249.4M362 3216.1L324.2 3243.8M325.3 2685.8L368.8 2709.6M318.1 2692.8L363.7 2717.7M324.1 2707L358.7 2725.9M319.1 2715.1L355.8 2735.2M313.1 2722.8L327.1 2730.4M387.2 1931.1L393.8 1969.5M522.1 2483.9L479.1 2508M510.2 2480.4L486.2 2493.9M507.4 2471.8L484.6 2484.6M504.6 2463.2L482.3 2475.7M505.8 2452.4L480 2466.8M658.1 3241.4L621.1 3243.8M655.8 3231.9L622.3 3234.1M658.3 3222.1L622.3 3224.5M356.9 3118.1L326.3 3140.8M348.4 3112.6L326.5 3128.9M342.7 3105L321.2 3120.9M338.1 3096.5L305.6 3120.7M331.9 3089.2L312.4 3103.7M466.7 2285.2L432 2295.1M461.2 2277.2L430.5 2285.9M306.3 3045.2L315.2 3065.4M297.4 3048L316.7 3091.9M292.8 3060.6L304.1 3086.3M406.3 1561.3L390.4 1578.6M398.6 1554.4L380.6 1573.9M390.9 1547.5L375.1 1564.6M383.2 1540.7L367.5 1557.6M389.7 2061L401.3 2115.3M387.5 2098.1L393 2123.8M320.4 2794.3L333.6 2805.6M312.8 2799.6L328 2812.6M297.1 2797.8L323.1 2820.2M451.2 1776.6L405.7 1806.6M448.4 1767.5L401.6 1798.3M447.3 1757.3L395.9 1791.1M441.4 1750.3L393.3 1781.9M356.2 2656.6L383.6 2698.1M348 2662.4L377 2706.3M339.9 2668.5L357.9 2695.7M487.5 2242.2L460.5 2242.5M487.7 2233.1L463.2 2233.3M490.4 2224L462.3 2224.2M489.4 2214.9L449.4 2215.3M494.9 2774.8L492.3 2793.8M486.4 2771.1L480.5 2813.1M477.5 2769.9L472 2809.4M569.4 2648.4L546.1 2659.6M572.6 2635.8L541.5 2650.8M567 2627.6L536.8 2642.2M543.7 2419.7L584.5 2444.4M551.5 2435L582.3 2453.6M364.6 1578.2L388 1587.6M363.3 1588L385.3 1596.9M361.9 1597.8L379.7 1605M333.2 2037.5L361.7 2037.7M332.3 2047.1L374.7 2047.4M331.3 2056.6L377.9 2057M359.3 2066.4L382.2 2066.5M540.1 1944L519.3 1992.4M532.2 1939L510.1 1990.5M523.6 1935.5L503.3 1982.8M503.7 2642.7L534.7 2667.1M499.2 2650.7L528.4 2673.8M494 2658.3L510.9 2671.7M300.2 1908.7L333.9 1909.2M300.8 1918.6L338 1919.1M302.4 1928.5L336 1928.9M302.5 1938.3L316.8 1938.5M416 1656.9L357.5 1658.2M415.5 1647.1L355.1 1648.4M400.2 1637.7L357.7 1638.6M397.4 1627.9L357.5 1628.8M402.2 1618L358.9 1618.9M376.1 2798.2L359.8 2817.2M370.3 2789.4L353.9 2808.5M364.7 2780.4L345.9 2802.3M411 3031.6L384.2 3035M432.5 3019.9L386.3 3025.8M422.3 3012.3L386.1 3016.9M420.1 3003.6L385.8 3008M372.5 2813.6L388.6 2841.3M366.2 2820.9L382.7 2849.1M357.6 2824.1L377.1 2857.7M348.4 2826.4L369.2 2862.1M498.3 2858.7L479.8 2897.8M489 2855.5L472.9 2889.4M479.9 2852L466 2881.2M471.6 2846.7L454.6 2882.5M367.9 1991.9L354.9 2013M371 1967.2L345.4 2008.9M389.3 2718.9L440.3 2732.9M386.2 2727.2L439.2 2741.7M384.8 2735.9L436.2 2750M480.7 2083.7L506.9 2126.4M471.7 2087.7L487.5 2113.6M550.8 2144.9L493.4 2169.2M545.5 2137.1L491.5 2159.9M541.1 2128.9L492.3 2149.6M537.8 2120.3L512.3 2131M534.1 2111.7L512 2121.1M385.6 1816.6L420.7 1823.4M383.6 1825.1L419.9 1832.1M382.2 1833.7L419.2 1840.9M598.1 2713.4L605.4 2746.5M590.9 2722.1L597.1 2750.2M524.7 3352.8L514.4 3396.4M516.1 3347.9L504.4 3397.7M506.5 3347.3L494.3 3398.9M497.3 3344.9L484.3 3399.9M418.7 1863.5L386.5 1882M430 1845.1L377.2 1875.4M408.5 1845.5L376.2 1864.1M393 1842.5L370.6 1855.4M294.8 1756.3L312.3 1765.4M290.4 1764.5L319.7 1779.7M284.5 1771.8L315.4 1787.8M551 2999.2L496.8 3003.9M551.3 2990.2L505.9 2994.1M547.6 2981.5L509.5 2984.8M550.1 2972.3L512.9 2975.6M517.9 2226.7L510.3 2275.2M508.5 2228.2L501.1 2275.3M500.1 2223.1L492.1 2273.8M486.9 2249L483 2273.3M491.7 2995L481.6 3021.5M482.6 2992L471.1 3021.9M473.4 2989L460 3024.1M585.6 2545.9L559.6 2567M584.2 2534.3L553.3 2559.3M583.1 2522.3L557.2 2543.4M582 2510.4L560 2528.3M578.5 2500.4L552 2522M494.4 2281.3L520.8 2298.7M467.6 2274.5L511.3 2303.2M472.7 2288.6L493.3 2302.1M463.5 2293.3L486.7 2308.5M643.1 2842.1L617.2 2891.2M633.1 2839.4L612.2 2878.9M625.4 2832.4L601.7 2877.2M377.4 2623.3L404.5 2638.1M360.6 2624.3L392 2641.5M359.5 2633.8L388.3 2649.6M353.4 2640.7L386.3 2658.7M358.3 1678L395.5 1704.7M355.8 1687.2L401 1719.6M350.7 1694.4L377.2 1713.5M483.4 2819.2L497 2843.3M470.7 2816.2L487.6 2846.2M456.2 2809.9L473 2839.7M483.4 3306.8L487.5 3331.5M583.2 2593.8L568.1 2620.5M574.5 2589.9L554 2625.9M566.5 2584.6L544.1 2624.1M552.3 2224.7L524.5 2228.5M549.6 2215.7L518.3 2219.9M549.6 2206.3L496.1 2213.6M531 2487.4L552.3 2511.1M524 2493.5L545.3 2517.2M507.7 2189.9L492.5 2207.8M500.8 2184L480.2 2208.2M493.7 2178.4L468.3 2208.3M487.2 2172.1L456.3 2208.4M563.9 2837.6L544.8 2875.3M555.5 2834.3L535.7 2873.3M548.5 2828.2L528.7 2867M530.1 2252.5L551.1 2282.6M521.9 2257.3L542.3 2286.6M518.1 2268.5L534.1 2291.4M514.7 2280.2L522.9 2292M612.3 2931.9L593.8 2987.6M493.7 1658.4L489.9 1679.3M483.9 1655.7L477.5 1691.1M471.1 1669.9L467.5 1690.1M471.7 2752.2L457.2 2785.7M579.7 2483.6L541 2488.3M578.8 2473.9L533.5 2479.5M577.9 2464.3L559.6 2466.5M571.9 2455.2L557.8 2457M568.6 2905.9L569.8 2921M559.1 2904.5L560.4 2921.7M549.5 2901.9L552.4 2939.2M540.6 2711L541.6 2727.5M529.7 2691.1L531.9 2727.9M520.1 2694L522.2 2728.2M510.7 2698.9L512.4 2726.8M501.3 2703.7L503 2730.8M449.4 2930.1L467.9 2939.8M487.1 2612.6L498.7 2638.1M479.4 2618.7L492.7 2647.7M470.5 2621.9L477.7 2637.7M461.5 2625.1L468.8 2641.1M500.3 1854.7L517.3 1861.9M492.6 1861.9L535.6 1880.4M487.8 1870.5L535 1890.7M389.1 2188.7L396.6 2219M377.4 2184L386.8 2221.3M366.3 2181.3L376.4 2221.6M532.2 1897.2L521 1923.6M371.9 2137.9L345.1 2165.1M357.2 2140.2L342.5 2155.1M415 3249.8L381.5 3260.2M410.6 3241L376.8 3251.6M509 2041.5L509.2 2053.9M499.5 2035.3L499.9 2064.8M490.1 2039L490.5 2066.2M286.3 2864.2L304.9 2875.3M267.8 2863.3L294.4 2879.3M403.4 2344.3L393.5 2364.4M387.1 2336.4L365.9 2379.3M378.1 2334.2L358.1 2374.8M359.3 3163.9L299.5 3171.4M357.8 3155L322.5 3159.4M601.8 2775L591 2807.9M592.2 2773.7L581.6 2806M567.4 3053L545.3 3057.3M562.6 3044.4L535.2 3049.7M557.8 3035.8L535 3040.2M553 3027.2L532 3031.3M402.3 2319.3L381.9 2328.2M400.8 2309.9L370.5 2323.2M392.6 2303.6L366.7 2314.9M310.9 2476.8L301 2491.9M297.4 2481L290 2492.4M291.5 2473.7L278.2 2494M287 2464.1L273.2 2485.3M338.2 2381.7L349.2 2414.2M330.9 2388.3L339.9 2414.5M323.7 2394.8L331.9 2419M503.3 2840.4L534.3 2841.4M500.2 2849.5L529.7 2850.4M505.3 2858.9L525.1 2859.4M501.7 2867.9L522.2 2868.6M497.4 2877L530.9 2878M361.2 2861.8L367.2 2888.9M349 2848.7L358.8 2892.8M535.1 2199.7L508 2199.9M534.3 2189.6L514.4 2189.7M535.3 2179.5L506.1 2179.7M627.1 2698L594.5 2702.2M626.9 2688.2L586.5 2693.4M259.9 2429L276 2468.8M250.3 2428.7L265.3 2465.9M243 2434.3L250.7 2453.3M523.8 3329.8L558.1 3339.6M518.8 3338.1L555 3348.5M531.6 3351.5L551.9 3357.3M530 3360.8L548.8 3366.2M391.7 3295.1L365.1 3308.8M379 3290.9L357.3 3302M404.7 3069.9L390.4 3079.8M406.5 3056.5L381.3 3074M400.9 3048.3L370.5 3069.3M532.3 2937.9L554.4 2958.5M520.8 2940.2L548.3 2965.8M519.1 2951.6L535.6 2966.9M448.5 1558.8L467.4 1565.9M436.2 1563.4L464.2 1573.9M423.9 1568L461.1 1582M323 2940.6L321.7 2952M313.5 2938.8L309.9 2970.8M304 2937L300.8 2965.4M382.2 3350.6L370.3 3371.1M374.9 3342.7L358.7 3370.5M361.1 3345.8L341.8 3379M430.8 1669.8L444.7 1673.8M430.2 1678.8L460.6 1687.6M381.8 3231.3L382.8 3242.3M372.9 3229.1L374.4 3245M364.7 3235.1L367.2 3262.3M356.6 3241.1L358.6 3263.5M501.2 1569L535.8 1588.1M497.4 1578.7L527.7 1595.3M567.3 3105.1L590 3114.4M554.2 3110L584 3122.1M242.9 3155.6L210.6 3166.2M233.6 1792.9L253.7 1822.6M494.5 1763.4L518.2 1782.3M486.3 1770.1L506.8 1786.5M480 1778.3L495.4 1790.6M334.5 2942.4L351.2 2963.4M329 2950.2L354.3 2982M334.4 2971.5L346.7 2987.1M349 2322L363.6 2324.5M351.1 2332.4L369.9 2335.6M348 2341.8L365.4 2344.8M342 2350.8L360.8 2354M393.1 2813.4L404.1 2846M384.1 1952.6L382.3 1969.7M376.4 1936L373.8 1960.4M367.1 1935L364 1964.7M501.5 2737.7L500.9 2767.8M491.4 2743.2L491 2765.8M578.4 3193L564.6 3194.1M579.2 3183L559.6 3184.6M596.5 3171.7L554.6 3175M595.6 3161.8L547.8 3165.6M285.3 2424.6L267 2428.9M283.6 2414.6L251.5 2422.1M281.8 2404.6L249.3 2412.2M297.1 1786L311.9 1800.9M276.8 1779.1L307.9 1810.6M541.4 3387.4L523.3 3395.3M544.1 3376.6L524.2 3385.3M537.1 3370L526.7 3374.5M312.6 2664.2L329.4 2678.4M300.3 2666.8L318.8 2682.5M289 2670.3L311.9 2689.7M514.5 1926.5L502.9 1928.3M516.4 1916.2L494 1919.8M520.9 1905.6L497.4 1909.3M525.4 1894.9L502.6 1898.6M509.7 1887.5L496 1889.7M384.1 1805.4L369.8 1828.5M374.8 1801.9L364.5 1818.5M367.6 1795L358.6 1809.6M466.8 2502L474.8 2525.7M457 2501.8L467.3 2532.3M448.6 2297.5L473.7 2316.4M439.7 2303.7L467.7 2324.8M269.4 2840L264.7 2857.5M348.7 2897.7L354.7 2912M341.4 2907L348.5 2923.7M331.7 2910.7L342.2 2935.4M322 2914.4L326.6 2925.2M496 2362.1L514.7 2367.6M474.8 2365.1L502.8 2373.4M462.5 2370.9L496.3 2380.9M236.3 2732.6L285.4 2765.6M232.6 2741.3L265.4 2763.3M419.4 1572.6L406.2 1597.3M412 1566.3L398.5 1591.8M587.6 2559.5L585.4 2587.1M578.7 2560.7L577 2582.4M569.3 2568.4L568.5 2578M530 2644.1L519.3 2646.3M538.2 2633.6L514.3 2638.5M537.2 2624.9L518.7 2628.8M569.4 1857L536.4 1871.2M413.7 1750.8L380.8 1775M407.9 1743.6L381 1763.5M399.9 1738.1L376.8 1755.2M347.8 1981.5L333.4 2013.3M337.8 1979.1L325.6 2005.7M639.4 2798.3L609.8 2823.3M329.1 3043.2L319.1 3057.5M328.2 3029.5L315.1 3048.2M322.1 3023L310.4 3039.8M296 2945.3L292.1 2960M549 3006L542.3 3022.3M537.4 3007L530.6 3023.5M543.5 3243.2L530.4 3257.9M535.6 3237L525.4 3248.4M557.3 2812.4L537.6 2814.7M557.3 2803L538.9 2805.1M494.8 3251.9L508.1 3269.7M486.4 3255.3L501.5 3275.6M557.7 3308.5L563.5 3324.1M548.5 3310.5L555.3 3328.6M364.1 2741.6L360.4 2752.6M353.8 2741.9L349.5 2754.9M350.8 2300.4L361.7 2310.4M346.5 2309.1L353.4 2315.5M559.3 2661.2L567.5 2664.9M547.7 2666.5L562.7 2673.3M539.4 2673.4L550 2678.2M396.1 1975.8L408.9 1990.4M521.4 2164.8L550.2 2175.6M537.5 2237.4L532.4 2245.9M527.2 2235L522.1 2243.4M358.2 2382.7L364.6 2404.2M345.9 2372.8L356.4 2408.2M440.4 1632.8L454 1633.6M435.6 1642.7L447.9 1643.4M431.2 1652.6L441.8 1653.3M483.6 2064.4L472.2 2077M483.1 2050.5L473.1 2061.4M566.2 3270.8L547 3275.8M552 3264.1L539.7 3267.4M390.2 1888.3L395.6 1903.8M363.2 1855.5L351.7 1867M366.8 1839.2L356 1849.9M588.1 2740.4L578 2751.6M585.7 2729.5L571.5 2745.3M398 1670.9L378.2 1684.1M388.8 1664.6L371.8 1675.9M468.6 2249.1L466.2 2267.9M395.8 2603.6L401.3 2610.9M388.2 2608.3L401.4 2625.9M294.2 3177.4L291.7 3194.6M284.5 3173.2L283 3182.9M495 1591.3L498.2 1603.6M488.1 1602.2L490.9 1613.3M392.6 3367.9L379.3 3370.3M395.5 3357.1L386 3358.8M506.1 2500.5L509 2523.6M497.2 2505.5L499.3 2522.6M488.2 2510.5L489.5 2520.7M304.3 2537.4L293.2 2549.3M294.9 2533.3L284.4 2544.5M505.6 1634.8L497 1649.1M496.9 1630.1L488.2 1644.5M382.1 2989.2L403.8 2990.5M385.6 2998.1L402.9 2999.1M461.8 1620.9L446.3 1625.8M463.6 1610L449.3 1614.5M403.6 2700.8L397.5 2714.4M397 2694.2L388.7 2712.4M464.7 2089L454.6 2111.2M217.5 3187.7L235.1 3200.3M365.4 2172.5L355.5 2180.2M360.9 2164.8L351.3 2172.3M506.6 2333.7L516.8 2347.1M502.2 2342.9L516 2361M351.7 2283.5L348.2 2292.3M347.6 2267.9L341.4 2283.8"/><path clip-path="url(#rc15)" d="M2078.4 994.4L2046.4 1004.7M2077.8 983.8L2042.3 995.3M2071.9 975L2039.9 985.3M2144.9 1968L2170.9 2009.5M2136.5 1974.1L2164.6 2019.1M2126.8 1978L2153.6 2021M2117.5 1982.7L2144.9 2026.6M2109.8 1990L2136.8 2033.3M2235 2215.1L2244.7 2246.5M2225.5 2215.5L2236.4 2250.9M2216.8 2218.8L2227.5 2253.4M2206.8 1793L2165.5 1811.5M2203.1 1784.3L2162.5 1802.5M2198.5 1776L2161.2 1792.7M2197.2 1766.3L2156.6 1784.5M2136 2166.3L2162.3 2220.7M2128.3 2170.1L2155 2225.4M2120.5 2173.9L2145 2224.4M2112.4 2176.7L2137 2227.7M2175.2 1879.3L2193.1 1916.7M2166.3 1884.7L2183.7 1921.2M2195.2 1667.8L2177.8 1728M2112.4 2195.5L2123.3 2251.5M2104.4 2201.4L2114.2 2251.9M2094.8 2199.4L2105.1 2252.4M2085.9 2201.1L2096 2252.9M2272 2070.4L2239.5 2120.8M2264.2 2063.8L2231.6 2114.5M2257.6 2055.6L2223 2109.3M2180.2 1545.3L2161 1585.7M2173.6 1539L2153.8 1580.7M2165.7 1535.6L2145.2 1578.6M2316.8 968.5L2285.3 985M2322.6 954.9L2284.3 975.1M2320.4 945.5L2278 967.8M2319.3 935.6L2272.9 960M2142.6 1349.7L2094.6 1366.6M2140.8 1340.5L2089.7 1358.5M2135.8 1332.3L2088.7 1348.9M2182 1377.8L2211.7 1407.1M2175.8 1385.2L2204.2 1413.1M2167.4 1390.2L2199.4 1421.7M2140.6 1460.7L2157.7 1501.3M2131.4 1461.8L2149.5 1504.7M2123.8 1466.5L2141.2 1507.7M2114.7 1467.6L2132.1 1508.9M2191.2 1807.5L2178.3 1828.6M2242.3 1710.9L2261.9 1740.2M2235.2 1716.4L2254.6 1745.3M2228.3 1722L2248.1 1751.4M2155.7 1099.9L2121.9 1110M2156.1 1089.9L2119.3 1100.9M2151.6 1081.4L2116.3 1092M2225.2 1056L2178 1093.5M2221.2 1047.4L2174.6 1084.4M2146.4 1512.8L2132.8 1550.4M2135.9 1515L2123.1 1550.5M2126.9 1513L2114.8 1546.4M2120.2 1505L2106.7 1542.1M2237.2 1310.5L2301.3 1310.6M2239.9 1320.3L2301.9 1320.4M2235.9 1330.1L2299.5 1330.2M2238.5 1339.9L2299.9 1340M2168.2 1126.3L2137.6 1157.9M2161.3 1120.7L2130.1 1153M2155 1114.6L2126.3 1144.3M2147.7 1109.5L2119.5 1138.6M2130.5 1114.7L2113.7 1132M2169.7 1651.9L2211.5 1659.7M2332.7 2033.4L2303.7 2038.2M2335.3 2022.7L2302 2028.2M2337.7 2012L2300 2018.2M2335.3 2002.1L2296.2 2008.5M2248.5 1224.7L2279.3 1284.1M2241.3 1230.2L2268.7 1283.2M2234.7 1237.2L2260.9 1287.6M2255.3 1926.2L2219.7 1926.2M2257.5 1916.5L2217.3 1916.5M2255.9 1906.7L2220.1 1906.7M2256.8 1897L2217.3 1897M2257.9 1887.3L2218.7 1887.3M2155.4 1621L2154.4 1676.4M2145.5 1617.6L2144.4 1676.8M2135.6 1618.4L2134.4 1680.5M2125.7 1616.9L2124.6 1677.9M2181.9 1839.4L2156.6 1859.8M2174.3 1834.1L2150.7 1853.1M2173.7 1823.2L2144.5 1846.7M2165.6 1818.4L2136.4 1841.8M2158.6 1812.6L2133.3 1832.9M2360.2 1595.2L2341.2 1637.6M2349.5 1594.2L2330.7 1636.1M2340 1590.4L2322 1630.6M2292.6 1524.5L2271.1 1587.1M2283.3 1525.1L2264.4 1580.1M2275.3 1521.9L2255.6 1579.3M2267.7 1517.3L2247.8 1575.3M2124.9 1920.3L2173.1 1956.5M2115.3 1924.2L2166.9 1963M2110.8 1932L2162.5 1970.9M2280.3 1580.4L2301.4 1585.5M2276.9 1590.2L2299.8 1595.8M2262.2 1597.3L2298.3 1606M2276.6 1647.3L2227.8 1684.1M2270.1 1641.1L2226.5 1673.9M2263.9 1634.5L2217.7 1669.4M2180.9 2074.2L2205.2 2086.3M2178.8 2082.8L2200.5 2093.6M2255.8 2108.9L2283.1 2145.4M2250.8 2116.7L2274.8 2148.8M2235.1 1462.6L2271.9 1465.8M2245.8 1472.5L2270.2 1474.6M2243 1481.2L2270.7 1483.6M2240.2 1489.9L2272.6 1492.7M2132.8 1360.4L2163.5 1381.7M2122.2 1364.2L2160.3 1390.6M2113.6 1369.2L2156.7 1399.1M2175.3 1219.1L2174.2 1270.7M2166.6 1218.1L2165.3 1274M2157.7 1218.6L2156.6 1272.3M2148.9 1218.5L2147.8 1272.5M2140.1 1219.1L2139 1272.2M2108.3 1373.4L2103 1424.5M2139.8 2144.7L2124.7 2164.2M2134.4 2137.2L2095.7 2187.2M2126.3 2133.4L2089.9 2180.3M2119.5 2127.7L2095.1 2159.2M2256.3 1953.1L2219.3 2002.2M2249.8 1944.9L2212.4 1994.5M2318.1 1292.5L2279.9 1302.3M2295.8 1287.9L2278.5 1292.3M2294.7 1277.8L2284.8 1280.3M2293.7 1267.6L2280.1 1271.1M2292.6 1257.5L2275.3 1261.9M2093.9 1047.3L2125.1 1082.1M2088 1054.6L2115.3 1085M2083.2 1063.3L2109.4 1092.5M2322.6 2142.6L2292.2 2188.8M2317.9 2132.2L2284.4 2183.1M2309.7 2127L2274.6 2180.1M2080.9 890.1L2086 908.2M2066.9 874L2077 910.1M2058.5 878.3L2068.1 912.6M2250.1 898.2L2190.1 913.1M2248.1 889.3L2192.7 903.1M2238.1 882.4L2185.7 895.5M2221 877.3L2183.2 886.7M2305 901.9L2301.7 937.1M2294.9 902.3L2291 942.7M2284.5 905.2L2280.4 948.3M2150.1 922.3L2118.2 981.3M2140.3 918.5L2110.2 974.3M2131.1 913.8L2099.1 973.1M2273.3 2003.4L2290.8 2044.1M2264.7 2007.8L2281.6 2047M2254.6 2008.5L2272.6 2050.4M2246.6 2014.3L2261.9 2049.8M2288.2 1645.5L2286.7 1685.1M2278.2 1654.4L2277.1 1685M2268.3 1661.9L2267.5 1682.7M2155.6 1683.5L2148.8 1728.9M2146.5 1685.3L2140 1728.9M2137.4 1687.2L2131.8 1725.2M2145.9 1192L2112.8 1241.6M2138.1 1187.5L2105.6 1236.4M2132.8 1179.3L2100 1228.5M2124.9 1174.9L2092.8 1223.2M2235.4 908.8L2251.9 934.6M2225.2 911.4L2244.6 941.8M2214.9 913.9L2235.5 946.1M2204.6 916.5L2227.8 952.7M2194.4 919L2219.7 958.7M2253.7 1499.5L2257.2 1527.9M2245.1 1502.3L2250.1 1543.1M2235.9 1500.9L2241.6 1546.9M2316.3 1635.2L2309.3 1649.9M2315.7 1614.1L2301.3 1644.5M2308.3 1607.3L2292.7 1640.1M2295.1 1612.8L2284.1 1635.8M2205.6 1740L2176.3 1760.5M2189.9 1739.1L2172.3 1751.4M2178.1 1735.4L2167.8 1742.6M2170.8 1728.7L2159.7 1736.4M2217.1 1750.6L2251.6 1772.5M2211.9 1759.2L2246.1 1780.9M2178.4 1316.9L2213.3 1363.9M2168.2 1317.7L2205.6 1368.2M2161.9 1323.9L2192.2 1364.8M2227.7 2182.3L2193.5 2219.9M2218.6 2177.1L2188.1 2210.4M2212.6 2168.3L2180.6 2203.5M2204 2162.5L2170.6 2199.1M2196.7 2155.3L2165 2190M2122.6 1261L2132.4 1272.7M2115.4 1266.5L2136.9 1292.2M2109.1 1273.1L2130.2 1298.3M2102.6 1279.4L2123.6 1304.4M2141.3 1422.7L2107.9 1454.5M2137.6 1413.6L2101.6 1447.9M2129 1409.1L2109.5 1427.7M2306.2 1497.4L2330 1534.5M2298.5 1501.4L2322.6 1538.8M2289.8 1503.9L2316.2 1544.9M2257.7 1019L2282.9 1055.5M2249.6 1023.3L2275.7 1061.2M2242.9 1029.8L2265.9 1063M2095.6 926.3L2078 966.4M2086.7 922.5L2070 960.6M2078 918.3L2061.6 955.8M2298.1 2074.4L2318.5 2092.4M2290.3 2080.2L2316 2102.9M2284 2087.4L2310.3 2110.6M2278.2 2094.9L2305.5 2119.1M2247.9 1816.5L2229.8 1867.7M2275.4 1117.2L2259.8 1167.8M2266.7 1112.1L2251.2 1162.6M2256.8 1111L2241.9 1159.3M2247.7 1107.1L2232.7 1155.8M2174.9 2104.6L2180.7 2152.4M2165.9 2104L2172 2153.7M2210.4 1373L2256.4 1398.3M2215.4 1387.5L2248.1 1405.5M2223.5 1403.8L2244.8 1415.5M2256.2 1754.6L2302.7 1772.3M2256 1765.4L2299.1 1781.8M2257.4 1776.8L2291.5 1789.8M2232 1054.5L2258.1 1063.6M2235.7 1066.7L2260.6 1075.4M2227.4 1074.7L2256.2 1084.8M2182.7 1363.1L2176.5 1371.6M2176.4 1354.6L2164.6 1370.9M2170.2 1346.1L2155.3 1366.5M2339.5 1654.6L2327.8 1698M2330.9 1651.7L2319.2 1694.8M2322.6 1647.7L2309.8 1694.7M2310.7 1656.8L2301.6 1690.5M2170.8 1970.8L2195.3 1989.9M2162.6 1977.5L2195.8 2003.4M2172.7 1998.4L2189 2011.1M2275 979.6L2238.1 1002.9M2271.1 971.7L2236.5 993.6M2267.1 963.9L2230 987.3M2273.2 949.7L2225 980.1M2150.9 1863.6L2148 1884M2143.1 1856.7L2139.2 1884M2135.4 1849.8L2130.8 1881.8M2256 1784.9L2292.3 1810.2M2248.2 1791.7L2286.4 1818.2M2243.3 1800.5L2282.6 1827.8M2254.3 1820.3L2275.1 1834.8M2250.9 1830.1L2268.9 1842.6M2276.8 1416.3L2302.4 1429.9M2271.2 1423.5L2296.9 1437.3M2266.5 1431.3L2291.5 1444.6M2240.7 1201.1L2250 1218.2M2147 1741.3L2114.4 1757.8M2138.9 1735.4L2110 1750M2128.3 1730.7L2105.4 1742.3M2034.8 2083.9L2065.1 2112.4M2030.9 2092.2L2062 2121.5M2024.5 2098.2L2059 2130.7M2112.8 1625.4L2107 1664.9M2104.3 1621.4L2098.2 1664.1M2054.5 956L2015 957.8M2058.2 946.1L2012.5 948.1M2062.6 936.1L2014.7 938.3M2251.7 1683.2L2281 1697.8M2246.6 1691.8L2275.5 1706.2M2242.8 1701L2270.9 1715M2255.2 1718.3L2267.2 1724.3M2150.3 2118.9L2122.1 2121.6M2146 2110.2L2113.4 2113.4M2148.3 2100.8L2116.6 2103.9M2129.5 1165.7L2177.6 1180M2143.4 1180.3L2173.5 1189.2M2152.4 1193.4L2182.2 1202.3M2147 1202.3L2180 1212.1M2320.5 2207L2299 2228.1M2327.8 2186.6L2291.8 2222M2326.2 2175L2287 2213.5M2291.5 1377L2318 1420.6M2282.7 1380.7L2308.6 1423.4M2274.3 1385.1L2294.3 1418M2236.4 1423.3L2261 1427.3M2236.4 1432.1L2262 1436.2M2236.8 1440.9L2285 1448.7M2231.8 1448.9L2282.2 1457.1M2263.1 1950.7L2294 1955M2260.3 1959.9L2291.3 1964.3M2253.7 1968.7L2290.8 1974M2291.1 1895.6L2274.3 1945.2M2282.3 1893.7L2265.4 1943.9M2275.1 1887.5L2263.4 1922.3M2143.8 2160.6L2166.7 2177.2M2147.6 2175.4L2160.1 2184.4M2128.9 990.9L2087.8 1001.3M2110.7 986.1L2086.5 992.2M2096.7 980.1L2085.1 983M2256.5 892.6L2276 917.2M2253.7 903.9L2274.8 930.5M2244.1 906.6L2272.1 941.9M2161.2 1920.5L2206.4 1961.9M2103 1047.1L2148.3 1070.8M2121.2 1067.4L2140.5 1077.5M2311.6 1730.2L2324.3 1769.8M2302.8 1731.3L2316.4 1773.3M2107.5 1173.9L2094.9 1208M2099.7 1168.2L2082.1 1215.7M2091 1164.8L2073.4 1212.4M2297.9 1115.5L2282.1 1119.8M2299.5 1104.4L2277.8 1110.3M2301 1093.3L2262.9 1103.7M2302.6 1082.2L2250.8 1096.4M2304.1 1071.1L2265.8 1081.6M2034.1 2131.5L2049.9 2168.3M2026.5 2135.9L2041.3 2170.6M2019.1 2140.9L2026.9 2159.1M2172.4 1434.3L2157.8 1478.6M2162.7 1433.7L2151.1 1468.8M2154 1430L2145.3 1456.2M2144.3 1429.2L2135.9 1454.6M2126.2 1573.8L2097.4 1597.7M2130.8 1557.2L2092.1 1589.2M2117.4 1555.3L2093.1 1575.5M2303.3 887.6L2266.2 893.8M2180.9 1264.9L2209.1 1273.4M2179.8 1274.2L2203.2 1281.3M2167.6 1280.2L2200.3 1290.1M2184.3 1137.2L2179.1 1163.9M2176 1125.8L2169.4 1160.1M2162.6 1141.6L2159.4 1158.1M2297.6 1942.8L2321.8 1973.3M2300.1 1960.6L2313.2 1977.1M2298.1 1972.7L2307 1983.8M2174.1 1289.3L2175.5 1307.8M2163.5 1285.8L2165.6 1311.7M2152.9 1280.8L2156.1 1320.8M2143.6 1292.7L2146.2 1324.6M2176.3 1408.8L2184.4 1425.4M2163 1401.5L2176.1 1428.4M2155.1 1405.7L2164.8 1425.4M2140.8 1396.3L2153.8 1423.1M2237.5 1180.2L2278.2 1195.4M2232.8 1189.5L2276.6 1205.9M2252.8 1208L2273.1 1215.6M2299.7 1861.9L2264.1 1883.9M2295.6 1852.9L2251.9 1879.8M2289.9 1844.8L2247 1871.3M2100.2 1671L2088.8 1695M2091.6 1665.3L2079.5 1690.5M2081.6 1662.3L2069.5 1687.7M2259.8 1993.5L2218.6 2013M2255.3 1986.1L2232.4 1996.9M2210.8 2248.2L2191.5 2280.2M2203.9 2241.6L2188.9 2266.5M2149.7 1785.6L2138.7 1806.1M2151.6 1763.5L2130.3 1803.2M2144.5 1757.9L2123 1798.1M2291 1347.1L2284.4 1371.4M2281.9 1347.1L2273.7 1377.5M2272.8 1347.1L2261 1390.6M2263.7 1347.1L2252.7 1387.9M2191.1 1510.5L2158.4 1527.4M2188.4 1501.7L2156.5 1518.2M2183.5 1494.1L2163.5 1504.5M2180.2 1485.7L2162.2 1495M2174.8 1478.4L2158.7 1486.7M2248.5 1583L2244.5 1593.4M2241.4 1574.6L2234.9 1591.4M2227.4 2193.6L2260.1 2206M2220.3 2201.4L2257.9 2215.7M2329.9 1925.8L2286 1931.3M2329.9 1916.6L2289.2 1921.7M2327.3 1907.8L2292.4 1912.2M2301.7 1749.2L2292.6 1760.7M2298 1737.8L2282.8 1757M2306.5 1710.9L2273.2 1752.9M2299.1 1704L2263.9 1748.5M2267.8 2160.1L2254.8 2195.9M2339 1568.6L2316 1604.8M2333.5 1560.4L2308.1 1600.3M2325.9 1555.5L2308.3 1583.1M2317.4 1552L2301 1577.9M2251.9 1284.7L2241.6 1303.3M2246.8 1274.9L2219.3 1324.5M2241.3 1265.8L2213.8 1315.4M2235.4 1346.3L2251.5 1367M2218.9 1340.7L2248.4 1378.5M2103.6 1133.9L2100.8 1161.3M2093.4 1138.4L2091.4 1158M2083.2 1142.9L2079.9 1175.1M2124.6 1311.1L2131.4 1326.6M2108 1296.2L2122.6 1329.7M2176.9 1670.5L2183.1 1684.4M2168.8 1676L2178.9 1698.8M2162 1684.6L2174.7 1713.3M2159.4 1702.5L2165.8 1717.1M2151.5 2034.1L2158.3 2068.8M2142.4 2038.7L2148.8 2071.3M2132.5 2039.2L2138.9 2071.8M2121.8 2036L2129.5 2075M2285.2 2229.3L2271.7 2241.9M2280.4 2222L2254.4 2246.3M2273.5 2216.6L2249.5 2239M2344.8 911.6L2319.2 928.8M2338.5 903.3L2310.4 922.3M2334.9 893.3L2311.6 908.9M2190.6 926.5L2177.5 962.6M2183.7 915.3L2167.7 959.5M2177.9 901.2L2157 958.6M2169.1 895.2L2148.5 951.9M2193 1517.1L2176.7 1533.3M2122.3 1785.5L2107.4 1791.7M2128.9 1773.1L2103.9 1783.6M2135.5 1760.7L2100.9 1775.3M2214.5 2030.3L2170.5 2064.9M2208.7 2022.5L2167.4 2054.9M2172.5 2081.1L2155.3 2103.2M2167.5 2071.4L2149.8 2094.3M2149.7 2078.4L2137.1 2094.5M2132.9 1889.1L2149.5 1919.2M2112.9 1870.9L2142.2 1924M2312.2 994.5L2285.2 1036.8M2311.2 979.2L2277.9 1031.2M2294.8 987.8L2270.6 1025.7M2281.9 991L2264.9 1017.5M2169.4 2242.6L2129.3 2247.2M2168.4 2232.4L2127.4 2237.1M2326.2 2041.9L2322.8 2054.6M2129 1840.5L2114.9 1862.8M2130 1819.9L2106.5 1857.2M2123 1812.1L2096.9 1853.5M2254.2 2337.9L2231.8 2348.2M2253.1 2327.3L2230.5 2337.8M2252 2316.8L2225.2 2329.2M2061.8 915.2L2052.4 929.5M2282.9 1210.2L2288.5 1218.3M2278.9 1220.2L2290.5 1236.9M2269.4 1222.1L2289.3 1250.9M2257.1 1220L2280 1253.3M2135.7 1605.6L2101.3 1609.3M2132.9 1596.8L2106.3 1599.6M2130.2 1588L2118.9 1589.2M2128.5 1702.6L2090.5 1710.8M2129.9 1693.4L2092 1701.5M2125.2 1685.5L2098.7 1691.2M2125 909.6L2101.3 922.1M2115.1 904.9L2096.6 914.6M2104.7 900.4L2092.6 906.8M2079.1 2070.5L2066.7 2104.9M2080 2039.7L2059 2097.7M2153.5 1049L2181.9 1065.9M2158.4 1063.2L2176.6 1074.1M2155 1072.6L2168.8 1080.8M2364.7 906.6L2327.2 941.5M2188.2 1458.2L2170.4 1462.6M2195.9 1447.2L2173.7 1452.6M2196.8 1437.7L2177 1442.5M2302.8 1989.1L2306.3 1999.5M2290.1 1982.9L2296.3 2001.1M2279.9 1983.9L2289.7 2012.8M2253 2375L2265.6 2420.7M1994.5 2097.5L2026.7 2128.2M1996.4 2111.4L2019 2133M2309.3 1775.3L2314.2 1810.3M2288.3 1172.9L2253.7 1176.4M2290.2 1163.4L2267.9 1165.6M2288.8 1154.1L2270.9 1155.9M2288 1144.8L2273.9 1146.2M2111.8 1947L2134.6 1965.1M2106.2 1954.4L2125.7 1969.9M2317.6 2059.8L2280.6 2068.1M2316.3 2050.2L2280.1 2058.2M2193.8 2245.2L2175.6 2246.8M2205.7 2234.2L2176.2 2236.8M2189.1 2225.7L2173.5 2227.1M2310.9 1935L2310.2 1947.8M2291.8 1477L2291 1496.2M2283.1 1469.1L2281.9 1498.6M2357.3 1540.2L2340.3 1558.4M2353.6 1530L2332.9 1552M2297.1 2120.9L2285 2137.1M2289.5 2114.2L2278.7 2128.6M2281.9 2107.5L2272.3 2120.1M2059.7 2185.4L2059.7 2220.3M2050.9 2184.1L2050.9 2207.2M2184.8 1866L2156.6 1871M2197.9 1854.6L2166.5 1860.3M2193.8 1846.4L2180.9 1848.7M2129.3 2082.1L2127.6 2092.4M2121.8 2072.4L2118.6 2091.5M2304.4 1061.3L2284.9 1062.5M2306.1 1051.7L2289.1 1052.8M2304.5 1042.3L2286.9 1043.4M2182.4 2034.2L2164.4 2037.1M2194.7 2022.1L2165.5 2026.9M2301.3 1537.5L2308.3 1553.7M2293.1 1543.1L2302.1 1563.6M2288.5 1556.6L2293.8 1568.8M2113.9 1120.5L2104.3 1122M2112 1110.4L2101.3 1112.1M2110.6 1100.2L2098.2 1102.2M2261.7 2199L2284 2200.2M2266.9 2208.4L2281.5 2209.2M2132.8 1250.2L2105 1259.4M2130.1 1241.5L2118.3 1245.4M2176.1 1109.2L2198.2 1113.5M2116.6 1489.2L2116.5 1499.3M2108 1480.9L2107.9 1508.8M2261.6 1849.9L2238.4 1866.7M2256 1842.5L2243.2 1851.8M2146.1 2126.1L2142.1 2136.6M2119.9 1387L2126.3 1402.9M2113.3 1395.2L2119.1 1409.3M2179.7 1957.4L2192.6 1958.8M2177.3 1966.6L2204 1969.5M2263.8 1398.5L2277.2 1403.2M2259.1 1407.6L2271.6 1412M2253.2 1416.2L2265.2 1420.4M2157.1 1886.8L2170.5 1913.7M2148 1890.5L2159.6 1913.6M2149.7 1529.9L2153.4 1546.3M2142.5 1543.6L2146.4 1561M2151.8 1330.3L2163.7 1342.2M2147.3 1338.3L2157.4 1348.5M2118.1 1153.4L2118.3 1172.8M2108.9 1153.1L2109.1 1166.6M2156.2 1755.2L2167 1759.5M2158 1765.3L2170.9 1770.5"/></g>
<polygon points="1062.6,2364 1124.7,2331.8 1168.4,2315.7 1232.8,2308.8 1237.4,2442.2 1242,2580.2 1237.4,2640 1196,2667.6 1191.4,2699.8 1170.7,2736.6 1120.1,2704.4 1117.8,2686 1058,2640 1060.3,2614.7 1028.1,2596.3 1018.9,2474.4 1012,2456 1018.9,2437.6 993.6,2419.2 993.6,2391.6 1018.9,2352.5 1044.2,2350.2" fill="#c1c1c1" stroke="#000" stroke-width="2.4" stroke-linejoin="round"/><polygon points="1414.5,2318 1478.9,2230.6 1522.6,2249 1527.2,2262.8 1518,2290.4 1527.2,2313.4 1582.4,2322.6 1610,2373.2 1610,2428.4 1623.8,2479 1582.4,2529.6 1582.4,2640 1541,2658.4 1559.4,2690.6 1483.5,2741.2 1469.7,2722.8 1444.4,2727.4 1439.8,2584.8 1416.8,2520.4 1409.9,2508.9" fill="#c1c1c1" stroke="#000" stroke-width="2.4" stroke-linejoin="round"/><polygon points="1140.8,2444.5 1143.1,2423.8 1173,2422.9 1173.9,2412.3 1191.4,2412.3 1192.3,2423.8 1223.6,2422.9 1225.9,2443.1" fill="#c1c1c1" stroke="#000" stroke-width="2.2" stroke-linejoin="round"/><polygon points="1055.7,2522.7 1058,2502 1076.4,2499.7 1078.7,2508.9 1097.1,2507.5 1099.4,2492.8 1113.2,2488.2 1122.4,2497.4 1108.6,2520.4" fill="#c1c1c1" stroke="#000" stroke-width="2.2" stroke-linejoin="round"/><polygon points="1117.8,2575.6 1122.4,2568.7 1150,2570.1 1154.6,2575.6 1155.5,2596.3 1138.5,2597.7 1136.2,2589.4 1117.8,2588.5" fill="#c1c1c1" stroke="#000" stroke-width="2.2" stroke-linejoin="round"/><polygon points="1189.1,2515.8 1214.4,2518.1 1214.4,2529.6 1200.6,2531.9 1201.5,2571 1187.7,2574.7" fill="#c1c1c1" stroke="#000" stroke-width="2.2" stroke-linejoin="round"/><polygon points="1490.4,2382.4 1492.7,2361.7 1536.4,2360.3 1538.7,2377.8" fill="#c1c1c1" stroke="#000" stroke-width="2.2" stroke-linejoin="round"/><polygon points="1439.8,2444.5 1444.4,2414.6 1472,2410 1472,2433 1462.8,2437.6" fill="#c1c1c1" stroke="#000" stroke-width="2.2" stroke-linejoin="round"/><polygon points="1437.5,2507.5 1444.4,2502 1462.8,2502.9 1469.7,2518.1 1449,2520.4 1439.8,2518.1" fill="#c1c1c1" stroke="#000" stroke-width="2.2" stroke-linejoin="round"/><polygon points="1465.1,2518.1 1472,2512.1 1495,2513.5 1498.7,2525 1490.4,2534.2 1469.7,2533.3" fill="#c1c1c1" stroke="#000" stroke-width="2.2" stroke-linejoin="round"/><polygon points="1527.2,2456 1552.5,2451.4 1554.8,2479 1545.6,2492.8 1529.5,2497.4" fill="#c1c1c1" stroke="#000" stroke-width="2.2" stroke-linejoin="round"/><polygon points="1102.3,3091.7 1111.9,3070.9 1120,3070.9 1121.6,3101.4" fill="#c1c1c1" stroke="#000" stroke-width="2.2" stroke-linejoin="round"/><polygon points="1451.5,3027.6 1477.2,3026 1478.8,3040.4 1467.6,3042 1467.6,3058.1 1453.1,3056.5" fill="#c1c1c1" stroke="#000" stroke-width="2.2" stroke-linejoin="round"/><polygon points="1421.1,3188 1440.3,3188 1441.9,3204 1422.7,3205.6" fill="#c1c1c1" stroke="#000" stroke-width="2.2" stroke-linejoin="round"/>
<polygon points="722.9,483.1 730.5,498.2 747.1,505.8 791,508.8 791,455.8 821.3,453.4 825.8,464.9 890.9,458.9 893.9,451.3 925.7,453.4 928.7,508.8 977.1,506.7 987.7,501.2 990.8,495.8 987.7,410.4 980.2,392.9 987.7,389.2 986.2,283.3 992.9,280.3 987.7,194 925.7,130.5 794,130.5 725.9,195.5 725.9,259.1 744.1,262.1 744.1,334.8 727.4,335.4" fill="#fff"/><polygon points="1533.2,523.9 1533.2,527.9 1770.8,527.9 1776.8,525.4 1784.4,516.4 1782.9,262.1 1714.8,262.1 1714.8,216.1 1587.7,216.1 1587.7,263.6 1518,263.6 1522.6,352.9 1525.6,443.7" fill="#fff"/><polygon points="1586.1,132 1717.8,132 1717.8,197.1 1586.1,198.6" fill="#fff"/><polygon points="1063.4,787.5 1097.3,789.2 1100.7,792.5 1187.1,792.5 1190.5,860.3 1246.4,862 1246.4,1179 1226.1,1190.8 1215.9,1190.8 1212.5,1182.4 1158.3,1182.4 1154.9,1190.8 1126.1,1189.2 1093.9,1238.3 1063.4,1189.2 1063.4,1087.5 1060,1058.6 1026.1,1051.9 1026.1,997.6 1060,994.2 1063.4,890.8 1049.8,884.1 1046.4,860.3 1065.1,856.9" fill="#fff"/><polygon points="1265.1,797.6 1266.8,789.2 1276.9,779 1290.5,775.6 1304.1,776.3 1314.2,785.8 1315.9,795.9 1380.3,795.9 1380.3,1111.2 1265.1,1109.5" fill="#fff"/><polygon points="1265.1,1128.1 1382,1128.1 1382,1251.9 1265.1,1251.9" fill="#fff"/><polygon points="1457.5,791.1 1585.3,791.1 1585.3,1186.3 1562.1,1188.2 1540.8,1225 1515.6,1186.3 1478.8,1180.5 1391.6,1180.5 1395.5,853.1 1455.6,853.1" fill="#fff"/><polygon points="1629.9,990.6 1788.8,984.8 1790.7,926.7 1895.3,924.8 1916.6,930.6 1920.5,1103 1899.2,1118.5 1788.8,1120.4 1782.9,1060.4 1629.9,1060.4" fill="#fff"/><polygon points="991.5,1988.8 1001.9,1988.8 1061.8,1970.6 1202.3,1978.4 1582.3,1975.8 1642.2,1983.6 1655.2,1968 1652.6,1918.5 1587.6,1915.9 1587.6,1715.5 1657.8,1710.3 1657.8,1655.6 1585,1650.4 1585,1585.3 1522.5,1585.3 1522.5,1645.2 1387.1,1647.8 1387.1,1585.3 1257,1585.3 1254.4,1653 1129.5,1650.4 1126.9,1587.9 1056.6,1587.9 1056.6,1645.2 991.5,1647.8 994.1,1712.9 1054,1715.5 1059.2,1915.9 994.1,1918.5" fill="#fff"/><polygon points="1257.2,2313.4 1384.6,2311.1 1386.9,2419.2 1368.5,2421.5 1370.8,2442.2 1386.9,2446.8 1384.6,2561.8 1368.5,2561.8 1368.5,2557.2 1274.2,2559.5 1274.2,2571 1258.1,2571 1258.1,2446.8 1269.6,2442.2 1269.6,2421.5 1258.1,2419.2" fill="#fff"/><polygon points="1258.1,2584.8 1386.9,2580.2 1389.2,2704.4 1258.1,2706.7" fill="#fff"/><polygon points="1122.4,2444.5 1242,2442.2 1237.4,2502 1202.9,2502 1200.6,2497.4 1184.5,2495.1 1177.6,2511.2 1189.1,2515.8 1186.8,2575.6 1067.2,2575.6 1064.9,2529.6 1108.6,2520.4 1124.7,2495.1" fill="#fff"/><polygon points="1409.9,2460.6 1439.8,2444.5 1462.8,2437.6 1460.5,2389.3 1506.5,2387 1508.8,2377.8 1531.8,2382.4 1587,2380.1 1587,2428.4 1570.9,2433 1568.6,2444.5 1518,2433 1511.1,2453.7 1522.6,2456 1527.2,2513.5 1409.9,2508.9" fill="#fff"/><polygon points="1259.5,2966.6 1385.1,2973 1382.6,3297.1 1432.3,3370.9 1384.2,3345.2 1352.1,3367.6 1350,3369.3 1288.4,3370.9 1265.9,3346.8 1211.4,3370.9 1261.1,3290.7" fill="#fff"/><polygon points="929.1,3103 1237.1,3106.2 1237.1,3119 1256.3,3119 1256.3,3155.9 1237.1,3155.9 1237.1,3170.3 1193.8,3170.3 1193.8,3229.7 1132.8,3231.3 1132.8,3180 1121.6,3170.3 986.8,3168.7 978.8,3191.2 986.8,3200.8 986.8,3234.5 929.1,3234.5" fill="#fff"/><polygon points="1406.6,3109.4 1672.9,3104.6 1717.8,3106.2 1719.4,3170.3 1709.8,3173.6 1713,3183.2 1719.4,3184.8 1721,3229.7 1661.7,3232.9 1658.5,3171.9 1406.6,3165.5" fill="#fff"/><polygon points="396.9,1779 459.7,1779 461.4,2240 459.7,2515.3 515.6,2515.3 532.5,2532.2 532.5,2552.5 515.6,2579.7 452.9,2581.4 451.2,2589.8 463.1,2593.2 464.7,2606.8 466.4,2960 463.6,2959.9 463.6,3099.8 471.6,3115.7 523.5,3113.7 525.5,3235.6 451.6,3237.6 451.6,3247.6 459.6,3251.6 459.6,3299.5 483.6,3309.5 483.6,3351.5 471.6,3363.4 471.6,3395.4 459.6,3395.4 447.6,3379.4 401.7,3379.4 399.7,3247.6 395.7,3239.6 327.8,3237.6 325.8,3247.6 259.8,3247.6 257.8,3185.7 331.7,3175.7 331.7,3115.7 395.7,3113.7 397.7,2959.9 398.6,2960 398.6,2596.6 400.3,2586.4 324.1,2586.4 324.1,2518.6 337.6,2515.3 337.6,2506.8 327.5,2498.3 322.4,2476.3 334.2,2464.4 396.9,2454.2 395.3,2200" fill="#fff"/><polygon points="2110.4,988.9 2124.3,974.9 2129.9,949.9 2138.2,935.9 2154.9,931.8 2182.8,924.8 2191.1,927.6 2234.3,952.7 2249.6,958.2 2263.5,983.3 2269.1,1022.3 2252.4,1022.3 2246.8,1027.8 2246.8,1055.7 2234.3,1061.3 2232.9,1066.8 2184.2,1065.4 2121.5,1064 2113.2,1051.5 2110.4,1051.5" fill="#fff"/><polygon points="2184.2,1064.6 2241.3,1064.6 2239.9,1403.9 2239.9,1584.7 2284.4,1584.7 2290,1591.6 2290,1605.6 2283,1611.1 2284.4,1651.5 2234.3,1651.5 2234.3,1661.3 2246.8,1664 2246.8,1686.3 2242.7,1769.9 2248.2,2004.1 2248,2003.9 2248,2118.3 2290.1,2118.3 2288.6,2179.3 2255.2,2180.8 2245.1,2195.3 2181.1,2195.3 2169.5,2180.8 2144.8,2180.8 2144.8,2116.9 2182.6,2116.9 2182.6,2003.9 2182.8,2004.1 2181.4,1742 2184.2,1661.3 2196.7,1661.3 2196.7,1651.5 2129.9,1651.5 2128.5,1572.1 2139.6,1562.4 2174.4,1551.3 2182.8,1549.9 2182.8,1403.9 2178.6,1078 2185.6,1075.2" fill="#fff"/>
<g clip-path="url(#fl)" stroke="#bdbdbd" stroke-width="2.8" fill="none"><path d="M660.8 75.1V123.2M660.8 141.2V189.2M660.8 207.2V255.3M660.8 273.3V321.4M660.8 339.4V387.5M660.8 405.5V453.6M660.8 471.6V519.6M726.9 75.1V123.2M726.9 141.2V189.2M726.9 207.2V255.3M726.9 273.3V321.4M726.9 339.4V387.5M726.9 405.5V453.6M726.9 471.6V519.6M793 75.1V123.2M793 141.2V189.2M793 207.2V255.3M793 273.3V321.4M793 339.4V387.5M793 405.5V453.6M793 471.6V519.6M859 75.1V123.2M859 141.2V189.2M859 207.2V255.3M859 273.3V321.4M859 339.4V387.5M859 405.5V453.6M859 471.6V519.6M925.1 75.1V123.2M925.1 141.2V189.2M925.1 207.2V255.3M925.1 273.3V321.4M925.1 339.4V387.5M925.1 405.5V453.6M925.1 471.6V519.6M991.2 75.1V123.2M991.2 141.2V189.2M991.2 207.2V255.3M991.2 273.3V321.4M991.2 339.4V387.5M991.2 405.5V453.6M991.2 471.6V519.6M1057.3 75.1V123.2M1057.3 141.2V189.2M1057.3 207.2V255.3M1057.3 273.3V321.4M1057.3 339.4V387.5M1057.3 405.5V453.6M1057.3 471.6V519.6M669.8 66.1H717.9M735.9 66.1H784M802 66.1H850M868 66.1H916.1M934.1 66.1H982.2M1000.2 66.1H1048.3M669.8 132.2H717.9M735.9 132.2H784M802 132.2H850M868 132.2H916.1M934.1 132.2H982.2M1000.2 132.2H1048.3M669.8 198.2H717.9M735.9 198.2H784M802 198.2H850M868 198.2H916.1M934.1 198.2H982.2M1000.2 198.2H1048.3M669.8 264.3H717.9M735.9 264.3H784M802 264.3H850M868 264.3H916.1M934.1 264.3H982.2M1000.2 264.3H1048.3M669.8 330.4H717.9M735.9 330.4H784M802 330.4H850M868 330.4H916.1M934.1 330.4H982.2M1000.2 330.4H1048.3M669.8 396.5H717.9M735.9 396.5H784M802 396.5H850M868 396.5H916.1M934.1 396.5H982.2M1000.2 396.5H1048.3M669.8 462.6H717.9M735.9 462.6H784M802 462.6H850M868 462.6H916.1M934.1 462.6H982.2M1000.2 462.6H1048.3M669.8 528.6H717.9M735.9 528.6H784M802 528.6H850M868 528.6H916.1M934.1 528.6H982.2M1000.2 528.6H1048.3"/><path d="M1453.8 207.2V255.3M1453.8 273.3V321.4M1453.8 339.4V387.5M1453.8 405.5V453.6M1453.8 471.6V519.6M1519.8 207.2V255.3M1519.8 273.3V321.4M1519.8 339.4V387.5M1519.8 405.5V453.6M1519.8 471.6V519.6M1585.9 207.2V255.3M1585.9 273.3V321.4M1585.9 339.4V387.5M1585.9 405.5V453.6M1585.9 471.6V519.6M1652 207.2V255.3M1652 273.3V321.4M1652 339.4V387.5M1652 405.5V453.6M1652 471.6V519.6M1718.1 207.2V255.3M1718.1 273.3V321.4M1718.1 339.4V387.5M1718.1 405.5V453.6M1718.1 471.6V519.6M1784.2 207.2V255.3M1784.2 273.3V321.4M1784.2 339.4V387.5M1784.2 405.5V453.6M1784.2 471.6V519.6M1850.2 207.2V255.3M1850.2 273.3V321.4M1850.2 339.4V387.5M1850.2 405.5V453.6M1850.2 471.6V519.6M1462.8 198.2H1510.8M1528.8 198.2H1576.9M1594.9 198.2H1643M1661 198.2H1709.1M1727.1 198.2H1775.2M1793.2 198.2H1841.2M1462.8 264.3H1510.8M1528.8 264.3H1576.9M1594.9 264.3H1643M1661 264.3H1709.1M1727.1 264.3H1775.2M1793.2 264.3H1841.2M1462.8 330.4H1510.8M1528.8 330.4H1576.9M1594.9 330.4H1643M1661 330.4H1709.1M1727.1 330.4H1775.2M1793.2 330.4H1841.2M1462.8 396.5H1510.8M1528.8 396.5H1576.9M1594.9 396.5H1643M1661 396.5H1709.1M1727.1 396.5H1775.2M1793.2 396.5H1841.2M1462.8 462.6H1510.8M1528.8 462.6H1576.9M1594.9 462.6H1643M1661 462.6H1709.1M1727.1 462.6H1775.2M1793.2 462.6H1841.2M1462.8 528.6H1510.8M1528.8 528.6H1576.9M1594.9 528.6H1643M1661 528.6H1709.1M1727.1 528.6H1775.2M1793.2 528.6H1841.2"/><path d="M1585.9 75.1V123.2M1585.9 141.2V189.2M1585.9 207.2V255.3M1652 75.1V123.2M1652 141.2V189.2M1652 207.2V255.3M1718.1 75.1V123.2M1718.1 141.2V189.2M1718.1 207.2V255.3M1594.9 66.1H1643M1661 66.1H1709.1M1594.9 132.2H1643M1661 132.2H1709.1M1594.9 198.2H1643M1661 198.2H1709.1M1594.9 264.3H1643M1661 264.3H1709.1"/><path d="M991.2 735.9V784M991.2 802V850M991.2 868V916.1M991.2 934.1V982.2M991.2 1000.2V1048.3M991.2 1066.3V1114.4M991.2 1132.4V1180.4M991.2 1198.4V1246.5M1057.3 735.9V784M1057.3 802V850M1057.3 868V916.1M1057.3 934.1V982.2M1057.3 1000.2V1048.3M1057.3 1066.3V1114.4M1057.3 1132.4V1180.4M1057.3 1198.4V1246.5M1123.4 735.9V784M1123.4 802V850M1123.4 868V916.1M1123.4 934.1V982.2M1123.4 1000.2V1048.3M1123.4 1066.3V1114.4M1123.4 1132.4V1180.4M1123.4 1198.4V1246.5M1189.4 735.9V784M1189.4 802V850M1189.4 868V916.1M1189.4 934.1V982.2M1189.4 1000.2V1048.3M1189.4 1066.3V1114.4M1189.4 1132.4V1180.4M1189.4 1198.4V1246.5M1255.5 735.9V784M1255.5 802V850M1255.5 868V916.1M1255.5 934.1V982.2M1255.5 1000.2V1048.3M1255.5 1066.3V1114.4M1255.5 1132.4V1180.4M1255.5 1198.4V1246.5M1000.2 726.9H1048.3M1066.3 726.9H1114.4M1132.4 726.9H1180.4M1198.4 726.9H1246.5M1000.2 793H1048.3M1066.3 793H1114.4M1132.4 793H1180.4M1198.4 793H1246.5M1000.2 859H1048.3M1066.3 859H1114.4M1132.4 859H1180.4M1198.4 859H1246.5M1000.2 925.1H1048.3M1066.3 925.1H1114.4M1132.4 925.1H1180.4M1198.4 925.1H1246.5M1000.2 991.2H1048.3M1066.3 991.2H1114.4M1132.4 991.2H1180.4M1198.4 991.2H1246.5M1000.2 1057.3H1048.3M1066.3 1057.3H1114.4M1132.4 1057.3H1180.4M1198.4 1057.3H1246.5M1000.2 1123.4H1048.3M1066.3 1123.4H1114.4M1132.4 1123.4H1180.4M1198.4 1123.4H1246.5M1000.2 1189.4H1048.3M1066.3 1189.4H1114.4M1132.4 1189.4H1180.4M1198.4 1189.4H1246.5M1000.2 1255.5H1048.3M1066.3 1255.5H1114.4M1132.4 1255.5H1180.4M1198.4 1255.5H1246.5"/><path d="M1255.5 735.9V784M1255.5 802V850M1255.5 868V916.1M1255.5 934.1V982.2M1255.5 1000.2V1048.3M1255.5 1066.3V1114.4M1321.6 735.9V784M1321.6 802V850M1321.6 868V916.1M1321.6 934.1V982.2M1321.6 1000.2V1048.3M1321.6 1066.3V1114.4M1387.7 735.9V784M1387.7 802V850M1387.7 868V916.1M1387.7 934.1V982.2M1387.7 1000.2V1048.3M1387.7 1066.3V1114.4M1264.5 726.9H1312.6M1330.6 726.9H1378.7M1264.5 793H1312.6M1330.6 793H1378.7M1264.5 859H1312.6M1330.6 859H1378.7M1264.5 925.1H1312.6M1330.6 925.1H1378.7M1264.5 991.2H1312.6M1330.6 991.2H1378.7M1264.5 1057.3H1312.6M1330.6 1057.3H1378.7M1264.5 1123.4H1312.6M1330.6 1123.4H1378.7"/><path d="M1255.5 1132.4V1180.4M1255.5 1198.4V1246.5M1321.6 1132.4V1180.4M1321.6 1198.4V1246.5M1387.7 1132.4V1180.4M1387.7 1198.4V1246.5M1264.5 1123.4H1312.6M1330.6 1123.4H1378.7M1264.5 1189.4H1312.6M1330.6 1189.4H1378.7M1264.5 1255.5H1312.6M1330.6 1255.5H1378.7"/><path d="M1387.7 735.9V784M1387.7 802V850M1387.7 868V916.1M1387.7 934.1V982.2M1387.7 1000.2V1048.3M1387.7 1066.3V1114.4M1387.7 1132.4V1180.4M1387.7 1198.4V1246.5M1453.8 735.9V784M1453.8 802V850M1453.8 868V916.1M1453.8 934.1V982.2M1453.8 1000.2V1048.3M1453.8 1066.3V1114.4M1453.8 1132.4V1180.4M1453.8 1198.4V1246.5M1519.8 735.9V784M1519.8 802V850M1519.8 868V916.1M1519.8 934.1V982.2M1519.8 1000.2V1048.3M1519.8 1066.3V1114.4M1519.8 1132.4V1180.4M1519.8 1198.4V1246.5M1585.9 735.9V784M1585.9 802V850M1585.9 868V916.1M1585.9 934.1V982.2M1585.9 1000.2V1048.3M1585.9 1066.3V1114.4M1585.9 1132.4V1180.4M1585.9 1198.4V1246.5M1396.7 726.9H1444.8M1462.8 726.9H1510.8M1528.8 726.9H1576.9M1396.7 793H1444.8M1462.8 793H1510.8M1528.8 793H1576.9M1396.7 859H1444.8M1462.8 859H1510.8M1528.8 859H1576.9M1396.7 925.1H1444.8M1462.8 925.1H1510.8M1528.8 925.1H1576.9M1396.7 991.2H1444.8M1462.8 991.2H1510.8M1528.8 991.2H1576.9M1396.7 1057.3H1444.8M1462.8 1057.3H1510.8M1528.8 1057.3H1576.9M1396.7 1123.4H1444.8M1462.8 1123.4H1510.8M1528.8 1123.4H1576.9M1396.7 1189.4H1444.8M1462.8 1189.4H1510.8M1528.8 1189.4H1576.9M1396.7 1255.5H1444.8M1462.8 1255.5H1510.8M1528.8 1255.5H1576.9"/><path d="M1585.9 868V916.1M1585.9 934.1V982.2M1585.9 1000.2V1048.3M1585.9 1066.3V1114.4M1652 868V916.1M1652 934.1V982.2M1652 1000.2V1048.3M1652 1066.3V1114.4M1718.1 868V916.1M1718.1 934.1V982.2M1718.1 1000.2V1048.3M1718.1 1066.3V1114.4M1784.2 868V916.1M1784.2 934.1V982.2M1784.2 1000.2V1048.3M1784.2 1066.3V1114.4M1850.2 868V916.1M1850.2 934.1V982.2M1850.2 1000.2V1048.3M1850.2 1066.3V1114.4M1916.3 868V916.1M1916.3 934.1V982.2M1916.3 1000.2V1048.3M1916.3 1066.3V1114.4M1982.4 868V916.1M1982.4 934.1V982.2M1982.4 1000.2V1048.3M1982.4 1066.3V1114.4M1594.9 859H1643M1661 859H1709.1M1727.1 859H1775.2M1793.2 859H1841.2M1859.2 859H1907.3M1925.3 859H1973.4M1594.9 925.1H1643M1661 925.1H1709.1M1727.1 925.1H1775.2M1793.2 925.1H1841.2M1859.2 925.1H1907.3M1925.3 925.1H1973.4M1594.9 991.2H1643M1661 991.2H1709.1M1727.1 991.2H1775.2M1793.2 991.2H1841.2M1859.2 991.2H1907.3M1925.3 991.2H1973.4M1594.9 1057.3H1643M1661 1057.3H1709.1M1727.1 1057.3H1775.2M1793.2 1057.3H1841.2M1859.2 1057.3H1907.3M1925.3 1057.3H1973.4M1594.9 1123.4H1643M1661 1123.4H1709.1M1727.1 1123.4H1775.2M1793.2 1123.4H1841.2M1859.2 1123.4H1907.3M1925.3 1123.4H1973.4"/><path d="M991.2 1528.8V1576.9M991.2 1594.9V1643M991.2 1661V1709.1M991.2 1727.1V1775.2M991.2 1793.2V1841.2M991.2 1859.2V1907.3M991.2 1925.3V1973.4M991.2 1991.4V2039.5M1057.3 1528.8V1576.9M1057.3 1594.9V1643M1057.3 1661V1709.1M1057.3 1727.1V1775.2M1057.3 1793.2V1841.2M1057.3 1859.2V1907.3M1057.3 1925.3V1973.4M1057.3 1991.4V2039.5M1123.4 1528.8V1576.9M1123.4 1594.9V1643M1123.4 1661V1709.1M1123.4 1727.1V1775.2M1123.4 1793.2V1841.2M1123.4 1859.2V1907.3M1123.4 1925.3V1973.4M1123.4 1991.4V2039.5M1189.4 1528.8V1576.9M1189.4 1594.9V1643M1189.4 1661V1709.1M1189.4 1727.1V1775.2M1189.4 1793.2V1841.2M1189.4 1859.2V1907.3M1189.4 1925.3V1973.4M1189.4 1991.4V2039.5M1255.5 1528.8V1576.9M1255.5 1594.9V1643M1255.5 1661V1709.1M1255.5 1727.1V1775.2M1255.5 1793.2V1841.2M1255.5 1859.2V1907.3M1255.5 1925.3V1973.4M1255.5 1991.4V2039.5M1321.6 1528.8V1576.9M1321.6 1594.9V1643M1321.6 1661V1709.1M1321.6 1727.1V1775.2M1321.6 1793.2V1841.2M1321.6 1859.2V1907.3M1321.6 1925.3V1973.4M1321.6 1991.4V2039.5M1387.7 1528.8V1576.9M1387.7 1594.9V1643M1387.7 1661V1709.1M1387.7 1727.1V1775.2M1387.7 1793.2V1841.2M1387.7 1859.2V1907.3M1387.7 1925.3V1973.4M1387.7 1991.4V2039.5M1453.8 1528.8V1576.9M1453.8 1594.9V1643M1453.8 1661V1709.1M1453.8 1727.1V1775.2M1453.8 1793.2V1841.2M1453.8 1859.2V1907.3M1453.8 1925.3V1973.4M1453.8 1991.4V2039.5M1519.8 1528.8V1576.9M1519.8 1594.9V1643M1519.8 1661V1709.1M1519.8 1727.1V1775.2M1519.8 1793.2V1841.2M1519.8 1859.2V1907.3M1519.8 1925.3V1973.4M1519.8 1991.4V2039.5M1585.9 1528.8V1576.9M1585.9 1594.9V1643M1585.9 1661V1709.1M1585.9 1727.1V1775.2M1585.9 1793.2V1841.2M1585.9 1859.2V1907.3M1585.9 1925.3V1973.4M1585.9 1991.4V2039.5M1652 1528.8V1576.9M1652 1594.9V1643M1652 1661V1709.1M1652 1727.1V1775.2M1652 1793.2V1841.2M1652 1859.2V1907.3M1652 1925.3V1973.4M1652 1991.4V2039.5M1718.1 1528.8V1576.9M1718.1 1594.9V1643M1718.1 1661V1709.1M1718.1 1727.1V1775.2M1718.1 1793.2V1841.2M1718.1 1859.2V1907.3M1718.1 1925.3V1973.4M1718.1 1991.4V2039.5M1000.2 1519.8H1048.3M1066.3 1519.8H1114.4M1132.4 1519.8H1180.4M1198.4 1519.8H1246.5M1264.5 1519.8H1312.6M1330.6 1519.8H1378.7M1396.7 1519.8H1444.8M1462.8 1519.8H1510.8M1528.8 1519.8H1576.9M1594.9 1519.8H1643M1661 1519.8H1709.1M1000.2 1585.9H1048.3M1066.3 1585.9H1114.4M1132.4 1585.9H1180.4M1198.4 1585.9H1246.5M1264.5 1585.9H1312.6M1330.6 1585.9H1378.7M1396.7 1585.9H1444.8M1462.8 1585.9H1510.8M1528.8 1585.9H1576.9M1594.9 1585.9H1643M1661 1585.9H1709.1M1000.2 1652H1048.3M1066.3 1652H1114.4M1132.4 1652H1180.4M1198.4 1652H1246.5M1264.5 1652H1312.6M1330.6 1652H1378.7M1396.7 1652H1444.8M1462.8 1652H1510.8M1528.8 1652H1576.9M1594.9 1652H1643M1661 1652H1709.1M1000.2 1718.1H1048.3M1066.3 1718.1H1114.4M1132.4 1718.1H1180.4M1198.4 1718.1H1246.5M1264.5 1718.1H1312.6M1330.6 1718.1H1378.7M1396.7 1718.1H1444.8M1462.8 1718.1H1510.8M1528.8 1718.1H1576.9M1594.9 1718.1H1643M1661 1718.1H1709.1M1000.2 1784.2H1048.3M1066.3 1784.2H1114.4M1132.4 1784.2H1180.4M1198.4 1784.2H1246.5M1264.5 1784.2H1312.6M1330.6 1784.2H1378.7M1396.7 1784.2H1444.8M1462.8 1784.2H1510.8M1528.8 1784.2H1576.9M1594.9 1784.2H1643M1661 1784.2H1709.1M1000.2 1850.2H1048.3M1066.3 1850.2H1114.4M1132.4 1850.2H1180.4M1198.4 1850.2H1246.5M1264.5 1850.2H1312.6M1330.6 1850.2H1378.7M1396.7 1850.2H1444.8M1462.8 1850.2H1510.8M1528.8 1850.2H1576.9M1594.9 1850.2H1643M1661 1850.2H1709.1M1000.2 1916.3H1048.3M1066.3 1916.3H1114.4M1132.4 1916.3H1180.4M1198.4 1916.3H1246.5M1264.5 1916.3H1312.6M1330.6 1916.3H1378.7M1396.7 1916.3H1444.8M1462.8 1916.3H1510.8M1528.8 1916.3H1576.9M1594.9 1916.3H1643M1661 1916.3H1709.1M1000.2 1982.4H1048.3M1066.3 1982.4H1114.4M1132.4 1982.4H1180.4M1198.4 1982.4H1246.5M1264.5 1982.4H1312.6M1330.6 1982.4H1378.7M1396.7 1982.4H1444.8M1462.8 1982.4H1510.8M1528.8 1982.4H1576.9M1594.9 1982.4H1643M1661 1982.4H1709.1M1000.2 2048.5H1048.3M1066.3 2048.5H1114.4M1132.4 2048.5H1180.4M1198.4 2048.5H1246.5M1264.5 2048.5H1312.6M1330.6 2048.5H1378.7M1396.7 2048.5H1444.8M1462.8 2048.5H1510.8M1528.8 2048.5H1576.9M1594.9 2048.5H1643M1661 2048.5H1709.1"/><path d="M1255.5 2255.7V2303.8M1255.5 2321.8V2369.9M1255.5 2387.9V2436M1255.5 2454V2502M1255.5 2520V2568.1M1321.6 2255.7V2303.8M1321.6 2321.8V2369.9M1321.6 2387.9V2436M1321.6 2454V2502M1321.6 2520V2568.1M1387.7 2255.7V2303.8M1387.7 2321.8V2369.9M1387.7 2387.9V2436M1387.7 2454V2502M1387.7 2520V2568.1M1264.5 2246.7H1312.6M1330.6 2246.7H1378.7M1264.5 2312.8H1312.6M1330.6 2312.8H1378.7M1264.5 2378.9H1312.6M1330.6 2378.9H1378.7M1264.5 2445H1312.6M1330.6 2445H1378.7M1264.5 2511H1312.6M1330.6 2511H1378.7M1264.5 2577.1H1312.6M1330.6 2577.1H1378.7"/><path d="M1255.5 2586.1V2634.2M1255.5 2652.2V2700.3M1321.6 2586.1V2634.2M1321.6 2652.2V2700.3M1387.7 2586.1V2634.2M1387.7 2652.2V2700.3M1453.8 2586.1V2634.2M1453.8 2652.2V2700.3M1264.5 2577.1H1312.6M1330.6 2577.1H1378.7M1396.7 2577.1H1444.8M1264.5 2643.2H1312.6M1330.6 2643.2H1378.7M1396.7 2643.2H1444.8M1264.5 2709.3H1312.6M1330.6 2709.3H1378.7M1396.7 2709.3H1444.8"/><path d="M1057.3 2387.9V2436M1057.3 2454V2502M1057.3 2520V2568.1M1123.4 2387.9V2436M1123.4 2454V2502M1123.4 2520V2568.1M1189.4 2387.9V2436M1189.4 2454V2502M1189.4 2520V2568.1M1255.5 2387.9V2436M1255.5 2454V2502M1255.5 2520V2568.1M1066.3 2378.9H1114.4M1132.4 2378.9H1180.4M1198.4 2378.9H1246.5M1066.3 2445H1114.4M1132.4 2445H1180.4M1198.4 2445H1246.5M1066.3 2511H1114.4M1132.4 2511H1180.4M1198.4 2511H1246.5M1066.3 2577.1H1114.4M1132.4 2577.1H1180.4M1198.4 2577.1H1246.5"/><path d="M1387.7 2321.8V2369.9M1387.7 2387.9V2436M1387.7 2454V2502M1387.7 2520V2568.1M1453.8 2321.8V2369.9M1453.8 2387.9V2436M1453.8 2454V2502M1453.8 2520V2568.1M1519.8 2321.8V2369.9M1519.8 2387.9V2436M1519.8 2454V2502M1519.8 2520V2568.1M1585.9 2321.8V2369.9M1585.9 2387.9V2436M1585.9 2454V2502M1585.9 2520V2568.1M1652 2321.8V2369.9M1652 2387.9V2436M1652 2454V2502M1652 2520V2568.1M1396.7 2312.8H1444.8M1462.8 2312.8H1510.8M1528.8 2312.8H1576.9M1594.9 2312.8H1643M1396.7 2378.9H1444.8M1462.8 2378.9H1510.8M1528.8 2378.9H1576.9M1594.9 2378.9H1643M1396.7 2445H1444.8M1462.8 2445H1510.8M1528.8 2445H1576.9M1594.9 2445H1643M1396.7 2511H1444.8M1462.8 2511H1510.8M1528.8 2511H1576.9M1594.9 2511H1643M1396.7 2577.1H1444.8M1462.8 2577.1H1510.8M1528.8 2577.1H1576.9M1594.9 2577.1H1643"/><path d="M1189.4 2916.5V2964.6M1189.4 2982.6V3030.7M1189.4 3048.7V3096.8M1189.4 3114.8V3162.8M1189.4 3180.8V3228.9M1189.4 3246.9V3295M1189.4 3313V3361.1M1189.4 3379.1V3427.2M1255.5 2916.5V2964.6M1255.5 2982.6V3030.7M1255.5 3048.7V3096.8M1255.5 3114.8V3162.8M1255.5 3180.8V3228.9M1255.5 3246.9V3295M1255.5 3313V3361.1M1255.5 3379.1V3427.2M1321.6 2916.5V2964.6M1321.6 2982.6V3030.7M1321.6 3048.7V3096.8M1321.6 3114.8V3162.8M1321.6 3180.8V3228.9M1321.6 3246.9V3295M1321.6 3313V3361.1M1321.6 3379.1V3427.2M1387.7 2916.5V2964.6M1387.7 2982.6V3030.7M1387.7 3048.7V3096.8M1387.7 3114.8V3162.8M1387.7 3180.8V3228.9M1387.7 3246.9V3295M1387.7 3313V3361.1M1387.7 3379.1V3427.2M1453.8 2916.5V2964.6M1453.8 2982.6V3030.7M1453.8 3048.7V3096.8M1453.8 3114.8V3162.8M1453.8 3180.8V3228.9M1453.8 3246.9V3295M1453.8 3313V3361.1M1453.8 3379.1V3427.2M1198.4 2907.5H1246.5M1264.5 2907.5H1312.6M1330.6 2907.5H1378.7M1396.7 2907.5H1444.8M1198.4 2973.6H1246.5M1264.5 2973.6H1312.6M1330.6 2973.6H1378.7M1396.7 2973.6H1444.8M1198.4 3039.7H1246.5M1264.5 3039.7H1312.6M1330.6 3039.7H1378.7M1396.7 3039.7H1444.8M1198.4 3105.8H1246.5M1264.5 3105.8H1312.6M1330.6 3105.8H1378.7M1396.7 3105.8H1444.8M1198.4 3171.8H1246.5M1264.5 3171.8H1312.6M1330.6 3171.8H1378.7M1396.7 3171.8H1444.8M1198.4 3237.9H1246.5M1264.5 3237.9H1312.6M1330.6 3237.9H1378.7M1396.7 3237.9H1444.8M1198.4 3304H1246.5M1264.5 3304H1312.6M1330.6 3304H1378.7M1396.7 3304H1444.8M1198.4 3370.1H1246.5M1264.5 3370.1H1312.6M1330.6 3370.1H1378.7M1396.7 3370.1H1444.8M1198.4 3436.2H1246.5M1264.5 3436.2H1312.6M1330.6 3436.2H1378.7M1396.7 3436.2H1444.8"/><path d="M925.1 3048.7V3096.8M925.1 3114.8V3162.8M925.1 3180.8V3228.9M991.2 3048.7V3096.8M991.2 3114.8V3162.8M991.2 3180.8V3228.9M1057.3 3048.7V3096.8M1057.3 3114.8V3162.8M1057.3 3180.8V3228.9M1123.4 3048.7V3096.8M1123.4 3114.8V3162.8M1123.4 3180.8V3228.9M1189.4 3048.7V3096.8M1189.4 3114.8V3162.8M1189.4 3180.8V3228.9M1255.5 3048.7V3096.8M1255.5 3114.8V3162.8M1255.5 3180.8V3228.9M1321.6 3048.7V3096.8M1321.6 3114.8V3162.8M1321.6 3180.8V3228.9M934.1 3039.7H982.2M1000.2 3039.7H1048.3M1066.3 3039.7H1114.4M1132.4 3039.7H1180.4M1198.4 3039.7H1246.5M1264.5 3039.7H1312.6M934.1 3105.8H982.2M1000.2 3105.8H1048.3M1066.3 3105.8H1114.4M1132.4 3105.8H1180.4M1198.4 3105.8H1246.5M1264.5 3105.8H1312.6M934.1 3171.8H982.2M1000.2 3171.8H1048.3M1066.3 3171.8H1114.4M1132.4 3171.8H1180.4M1198.4 3171.8H1246.5M1264.5 3171.8H1312.6M934.1 3237.9H982.2M1000.2 3237.9H1048.3M1066.3 3237.9H1114.4M1132.4 3237.9H1180.4M1198.4 3237.9H1246.5M1264.5 3237.9H1312.6"/><path d="M1387.7 3048.7V3096.8M1387.7 3114.8V3162.8M1387.7 3180.8V3228.9M1453.8 3048.7V3096.8M1453.8 3114.8V3162.8M1453.8 3180.8V3228.9M1519.8 3048.7V3096.8M1519.8 3114.8V3162.8M1519.8 3180.8V3228.9M1585.9 3048.7V3096.8M1585.9 3114.8V3162.8M1585.9 3180.8V3228.9M1652 3048.7V3096.8M1652 3114.8V3162.8M1652 3180.8V3228.9M1718.1 3048.7V3096.8M1718.1 3114.8V3162.8M1718.1 3180.8V3228.9M1784.2 3048.7V3096.8M1784.2 3114.8V3162.8M1784.2 3180.8V3228.9M1396.7 3039.7H1444.8M1462.8 3039.7H1510.8M1528.8 3039.7H1576.9M1594.9 3039.7H1643M1661 3039.7H1709.1M1727.1 3039.7H1775.2M1396.7 3105.8H1444.8M1462.8 3105.8H1510.8M1528.8 3105.8H1576.9M1594.9 3105.8H1643M1661 3105.8H1709.1M1727.1 3105.8H1775.2M1396.7 3171.8H1444.8M1462.8 3171.8H1510.8M1528.8 3171.8H1576.9M1594.9 3171.8H1643M1661 3171.8H1709.1M1727.1 3171.8H1775.2M1396.7 3237.9H1444.8M1462.8 3237.9H1510.8M1528.8 3237.9H1576.9M1594.9 3237.9H1643M1661 3237.9H1709.1M1727.1 3237.9H1775.2"/><path d="M198.2 1727.1V1775.2M198.2 1793.2V1841.2M198.2 1859.2V1907.3M198.2 1925.3V1973.4M198.2 1991.4V2039.5M198.2 2057.5V2105.6M198.2 2123.6V2171.6M198.2 2189.6V2237.7M198.2 2255.7V2303.8M198.2 2321.8V2369.9M198.2 2387.9V2436M198.2 2454V2502M198.2 2520V2568.1M198.2 2586.1V2634.2M198.2 2652.2V2700.3M198.2 2718.3V2766.4M198.2 2784.4V2832.4M198.2 2850.4V2898.5M198.2 2916.5V2964.6M198.2 2982.6V3030.7M198.2 3048.7V3096.8M198.2 3114.8V3162.8M198.2 3180.8V3228.9M198.2 3246.9V3295M198.2 3313V3361.1M198.2 3379.1V3427.2M264.3 1727.1V1775.2M264.3 1793.2V1841.2M264.3 1859.2V1907.3M264.3 1925.3V1973.4M264.3 1991.4V2039.5M264.3 2057.5V2105.6M264.3 2123.6V2171.6M264.3 2189.6V2237.7M264.3 2255.7V2303.8M264.3 2321.8V2369.9M264.3 2387.9V2436M264.3 2454V2502M264.3 2520V2568.1M264.3 2586.1V2634.2M264.3 2652.2V2700.3M264.3 2718.3V2766.4M264.3 2784.4V2832.4M264.3 2850.4V2898.5M264.3 2916.5V2964.6M264.3 2982.6V3030.7M264.3 3048.7V3096.8M264.3 3114.8V3162.8M264.3 3180.8V3228.9M264.3 3246.9V3295M264.3 3313V3361.1M264.3 3379.1V3427.2M330.4 1727.1V1775.2M330.4 1793.2V1841.2M330.4 1859.2V1907.3M330.4 1925.3V1973.4M330.4 1991.4V2039.5M330.4 2057.5V2105.6M330.4 2123.6V2171.6M330.4 2189.6V2237.7M330.4 2255.7V2303.8M330.4 2321.8V2369.9M330.4 2387.9V2436M330.4 2454V2502M330.4 2520V2568.1M330.4 2586.1V2634.2M330.4 2652.2V2700.3M330.4 2718.3V2766.4M330.4 2784.4V2832.4M330.4 2850.4V2898.5M330.4 2916.5V2964.6M330.4 2982.6V3030.7M330.4 3048.7V3096.8M330.4 3114.8V3162.8M330.4 3180.8V3228.9M330.4 3246.9V3295M330.4 3313V3361.1M330.4 3379.1V3427.2M396.5 1727.1V1775.2M396.5 1793.2V1841.2M396.5 1859.2V1907.3M396.5 1925.3V1973.4M396.5 1991.4V2039.5M396.5 2057.5V2105.6M396.5 2123.6V2171.6M396.5 2189.6V2237.7M396.5 2255.7V2303.8M396.5 2321.8V2369.9M396.5 2387.9V2436M396.5 2454V2502M396.5 2520V2568.1M396.5 2586.1V2634.2M396.5 2652.2V2700.3M396.5 2718.3V2766.4M396.5 2784.4V2832.4M396.5 2850.4V2898.5M396.5 2916.5V2964.6M396.5 2982.6V3030.7M396.5 3048.7V3096.8M396.5 3114.8V3162.8M396.5 3180.8V3228.9M396.5 3246.9V3295M396.5 3313V3361.1M396.5 3379.1V3427.2M462.6 1727.1V1775.2M462.6 1793.2V1841.2M462.6 1859.2V1907.3M462.6 1925.3V1973.4M462.6 1991.4V2039.5M462.6 2057.5V2105.6M462.6 2123.6V2171.6M462.6 2189.6V2237.7M462.6 2255.7V2303.8M462.6 2321.8V2369.9M462.6 2387.9V2436M462.6 2454V2502M462.6 2520V2568.1M462.6 2586.1V2634.2M462.6 2652.2V2700.3M462.6 2718.3V2766.4M462.6 2784.4V2832.4M462.6 2850.4V2898.5M462.6 2916.5V2964.6M462.6 2982.6V3030.7M462.6 3048.7V3096.8M462.6 3114.8V3162.8M462.6 3180.8V3228.9M462.6 3246.9V3295M462.6 3313V3361.1M462.6 3379.1V3427.2M528.6 1727.1V1775.2M528.6 1793.2V1841.2M528.6 1859.2V1907.3M528.6 1925.3V1973.4M528.6 1991.4V2039.5M528.6 2057.5V2105.6M528.6 2123.6V2171.6M528.6 2189.6V2237.7M528.6 2255.7V2303.8M528.6 2321.8V2369.9M528.6 2387.9V2436M528.6 2454V2502M528.6 2520V2568.1M528.6 2586.1V2634.2M528.6 2652.2V2700.3M528.6 2718.3V2766.4M528.6 2784.4V2832.4M528.6 2850.4V2898.5M528.6 2916.5V2964.6M528.6 2982.6V3030.7M528.6 3048.7V3096.8M528.6 3114.8V3162.8M528.6 3180.8V3228.9M528.6 3246.9V3295M528.6 3313V3361.1M528.6 3379.1V3427.2M594.7 1727.1V1775.2M594.7 1793.2V1841.2M594.7 1859.2V1907.3M594.7 1925.3V1973.4M594.7 1991.4V2039.5M594.7 2057.5V2105.6M594.7 2123.6V2171.6M594.7 2189.6V2237.7M594.7 2255.7V2303.8M594.7 2321.8V2369.9M594.7 2387.9V2436M594.7 2454V2502M594.7 2520V2568.1M594.7 2586.1V2634.2M594.7 2652.2V2700.3M594.7 2718.3V2766.4M594.7 2784.4V2832.4M594.7 2850.4V2898.5M594.7 2916.5V2964.6M594.7 2982.6V3030.7M594.7 3048.7V3096.8M594.7 3114.8V3162.8M594.7 3180.8V3228.9M594.7 3246.9V3295M594.7 3313V3361.1M594.7 3379.1V3427.2M207.2 1718.1H255.3M273.3 1718.1H321.4M339.4 1718.1H387.5M405.5 1718.1H453.6M471.6 1718.1H519.6M537.6 1718.1H585.7M207.2 1784.2H255.3M273.3 1784.2H321.4M339.4 1784.2H387.5M405.5 1784.2H453.6M471.6 1784.2H519.6M537.6 1784.2H585.7M207.2 1850.2H255.3M273.3 1850.2H321.4M339.4 1850.2H387.5M405.5 1850.2H453.6M471.6 1850.2H519.6M537.6 1850.2H585.7M207.2 1916.3H255.3M273.3 1916.3H321.4M339.4 1916.3H387.5M405.5 1916.3H453.6M471.6 1916.3H519.6M537.6 1916.3H585.7M207.2 1982.4H255.3M273.3 1982.4H321.4M339.4 1982.4H387.5M405.5 1982.4H453.6M471.6 1982.4H519.6M537.6 1982.4H585.7M207.2 2048.5H255.3M273.3 2048.5H321.4M339.4 2048.5H387.5M405.5 2048.5H453.6M471.6 2048.5H519.6M537.6 2048.5H585.7M207.2 2114.6H255.3M273.3 2114.6H321.4M339.4 2114.6H387.5M405.5 2114.6H453.6M471.6 2114.6H519.6M537.6 2114.6H585.7M207.2 2180.6H255.3M273.3 2180.6H321.4M339.4 2180.6H387.5M405.5 2180.6H453.6M471.6 2180.6H519.6M537.6 2180.6H585.7M207.2 2246.7H255.3M273.3 2246.7H321.4M339.4 2246.7H387.5M405.5 2246.7H453.6M471.6 2246.7H519.6M537.6 2246.7H585.7M207.2 2312.8H255.3M273.3 2312.8H321.4M339.4 2312.8H387.5M405.5 2312.8H453.6M471.6 2312.8H519.6M537.6 2312.8H585.7M207.2 2378.9H255.3M273.3 2378.9H321.4M339.4 2378.9H387.5M405.5 2378.9H453.6M471.6 2378.9H519.6M537.6 2378.9H585.7M207.2 2445H255.3M273.3 2445H321.4M339.4 2445H387.5M405.5 2445H453.6M471.6 2445H519.6M537.6 2445H585.7M207.2 2511H255.3M273.3 2511H321.4M339.4 2511H387.5M405.5 2511H453.6M471.6 2511H519.6M537.6 2511H585.7M207.2 2577.1H255.3M273.3 2577.1H321.4M339.4 2577.1H387.5M405.5 2577.1H453.6M471.6 2577.1H519.6M537.6 2577.1H585.7M207.2 2643.2H255.3M273.3 2643.2H321.4M339.4 2643.2H387.5M405.5 2643.2H453.6M471.6 2643.2H519.6M537.6 2643.2H585.7M207.2 2709.3H255.3M273.3 2709.3H321.4M339.4 2709.3H387.5M405.5 2709.3H453.6M471.6 2709.3H519.6M537.6 2709.3H585.7M207.2 2775.4H255.3M273.3 2775.4H321.4M339.4 2775.4H387.5M405.5 2775.4H453.6M471.6 2775.4H519.6M537.6 2775.4H585.7M207.2 2841.4H255.3M273.3 2841.4H321.4M339.4 2841.4H387.5M405.5 2841.4H453.6M471.6 2841.4H519.6M537.6 2841.4H585.7M207.2 2907.5H255.3M273.3 2907.5H321.4M339.4 2907.5H387.5M405.5 2907.5H453.6M471.6 2907.5H519.6M537.6 2907.5H585.7M207.2 2973.6H255.3M273.3 2973.6H321.4M339.4 2973.6H387.5M405.5 2973.6H453.6M471.6 2973.6H519.6M537.6 2973.6H585.7M207.2 3039.7H255.3M273.3 3039.7H321.4M339.4 3039.7H387.5M405.5 3039.7H453.6M471.6 3039.7H519.6M537.6 3039.7H585.7M207.2 3105.8H255.3M273.3 3105.8H321.4M339.4 3105.8H387.5M405.5 3105.8H453.6M471.6 3105.8H519.6M537.6 3105.8H585.7M207.2 3171.8H255.3M273.3 3171.8H321.4M339.4 3171.8H387.5M405.5 3171.8H453.6M471.6 3171.8H519.6M537.6 3171.8H585.7M207.2 3237.9H255.3M273.3 3237.9H321.4M339.4 3237.9H387.5M405.5 3237.9H453.6M471.6 3237.9H519.6M537.6 3237.9H585.7M207.2 3304H255.3M273.3 3304H321.4M339.4 3304H387.5M405.5 3304H453.6M471.6 3304H519.6M537.6 3304H585.7M207.2 3370.1H255.3M273.3 3370.1H321.4M339.4 3370.1H387.5M405.5 3370.1H453.6M471.6 3370.1H519.6M537.6 3370.1H585.7M207.2 3436.2H255.3M273.3 3436.2H321.4M339.4 3436.2H387.5M405.5 3436.2H453.6M471.6 3436.2H519.6M537.6 3436.2H585.7"/><path d="M2048.5 868V916.1M2048.5 934.1V982.2M2048.5 1000.2V1048.3M2048.5 1066.3V1114.4M2114.6 868V916.1M2114.6 934.1V982.2M2114.6 1000.2V1048.3M2114.6 1066.3V1114.4M2180.6 868V916.1M2180.6 934.1V982.2M2180.6 1000.2V1048.3M2180.6 1066.3V1114.4M2246.7 868V916.1M2246.7 934.1V982.2M2246.7 1000.2V1048.3M2246.7 1066.3V1114.4M2312.8 868V916.1M2312.8 934.1V982.2M2312.8 1000.2V1048.3M2312.8 1066.3V1114.4M2057.5 859H2105.6M2123.6 859H2171.6M2189.6 859H2237.7M2255.7 859H2303.8M2057.5 925.1H2105.6M2123.6 925.1H2171.6M2189.6 925.1H2237.7M2255.7 925.1H2303.8M2057.5 991.2H2105.6M2123.6 991.2H2171.6M2189.6 991.2H2237.7M2255.7 991.2H2303.8M2057.5 1057.3H2105.6M2123.6 1057.3H2171.6M2189.6 1057.3H2237.7M2255.7 1057.3H2303.8M2057.5 1123.4H2105.6M2123.6 1123.4H2171.6M2189.6 1123.4H2237.7M2255.7 1123.4H2303.8"/><path d="M2114.6 1066.3V1114.4M2114.6 1132.4V1180.4M2114.6 1198.4V1246.5M2114.6 1264.5V1312.6M2114.6 1330.6V1378.7M2114.6 1396.7V1444.8M2114.6 1462.8V1510.8M2114.6 1528.8V1576.9M2114.6 1594.9V1643M2114.6 1661V1709.1M2114.6 1727.1V1775.2M2114.6 1793.2V1841.2M2114.6 1859.2V1907.3M2114.6 1925.3V1973.4M2114.6 1991.4V2039.5M2114.6 2057.5V2105.6M2114.6 2123.6V2171.6M2114.6 2189.6V2237.7M2180.6 1066.3V1114.4M2180.6 1132.4V1180.4M2180.6 1198.4V1246.5M2180.6 1264.5V1312.6M2180.6 1330.6V1378.7M2180.6 1396.7V1444.8M2180.6 1462.8V1510.8M2180.6 1528.8V1576.9M2180.6 1594.9V1643M2180.6 1661V1709.1M2180.6 1727.1V1775.2M2180.6 1793.2V1841.2M2180.6 1859.2V1907.3M2180.6 1925.3V1973.4M2180.6 1991.4V2039.5M2180.6 2057.5V2105.6M2180.6 2123.6V2171.6M2180.6 2189.6V2237.7M2246.7 1066.3V1114.4M2246.7 1132.4V1180.4M2246.7 1198.4V1246.5M2246.7 1264.5V1312.6M2246.7 1330.6V1378.7M2246.7 1396.7V1444.8M2246.7 1462.8V1510.8M2246.7 1528.8V1576.9M2246.7 1594.9V1643M2246.7 1661V1709.1M2246.7 1727.1V1775.2M2246.7 1793.2V1841.2M2246.7 1859.2V1907.3M2246.7 1925.3V1973.4M2246.7 1991.4V2039.5M2246.7 2057.5V2105.6M2246.7 2123.6V2171.6M2246.7 2189.6V2237.7M2312.8 1066.3V1114.4M2312.8 1132.4V1180.4M2312.8 1198.4V1246.5M2312.8 1264.5V1312.6M2312.8 1330.6V1378.7M2312.8 1396.7V1444.8M2312.8 1462.8V1510.8M2312.8 1528.8V1576.9M2312.8 1594.9V1643M2312.8 1661V1709.1M2312.8 1727.1V1775.2M2312.8 1793.2V1841.2M2312.8 1859.2V1907.3M2312.8 1925.3V1973.4M2312.8 1991.4V2039.5M2312.8 2057.5V2105.6M2312.8 2123.6V2171.6M2312.8 2189.6V2237.7M2123.6 1057.3H2171.6M2189.6 1057.3H2237.7M2255.7 1057.3H2303.8M2123.6 1123.4H2171.6M2189.6 1123.4H2237.7M2255.7 1123.4H2303.8M2123.6 1189.4H2171.6M2189.6 1189.4H2237.7M2255.7 1189.4H2303.8M2123.6 1255.5H2171.6M2189.6 1255.5H2237.7M2255.7 1255.5H2303.8M2123.6 1321.6H2171.6M2189.6 1321.6H2237.7M2255.7 1321.6H2303.8M2123.6 1387.7H2171.6M2189.6 1387.7H2237.7M2255.7 1387.7H2303.8M2123.6 1453.8H2171.6M2189.6 1453.8H2237.7M2255.7 1453.8H2303.8M2123.6 1519.8H2171.6M2189.6 1519.8H2237.7M2255.7 1519.8H2303.8M2123.6 1585.9H2171.6M2189.6 1585.9H2237.7M2255.7 1585.9H2303.8M2123.6 1652H2171.6M2189.6 1652H2237.7M2255.7 1652H2303.8M2123.6 1718.1H2171.6M2189.6 1718.1H2237.7M2255.7 1718.1H2303.8M2123.6 1784.2H2171.6M2189.6 1784.2H2237.7M2255.7 1784.2H2303.8M2123.6 1850.2H2171.6M2189.6 1850.2H2237.7M2255.7 1850.2H2303.8M2123.6 1916.3H2171.6M2189.6 1916.3H2237.7M2255.7 1916.3H2303.8M2123.6 1982.4H2171.6M2189.6 1982.4H2237.7M2255.7 1982.4H2303.8M2123.6 2048.5H2171.6M2189.6 2048.5H2237.7M2255.7 2048.5H2303.8M2123.6 2114.6H2171.6M2189.6 2114.6H2237.7M2255.7 2114.6H2303.8M2123.6 2180.6H2171.6M2189.6 2180.6H2237.7M2255.7 2180.6H2303.8M2123.6 2246.7H2171.6M2189.6 2246.7H2237.7M2255.7 2246.7H2303.8"/><g stroke="#fff" stroke-width="24.2" stroke-linejoin="round" filter="url(#bl3)"><polygon points="722.9,483.1 695.7,480.7 690.2,464.9 659.3,422.5 662.4,335.4 645.7,328.7 644.2,262.1 667.5,259.1 665.4,192.5 702.3,125.9 707.8,107.8 727.4,85.1 750.8,92.6 756.2,65.4 826.4,60 836.4,23 877.3,26.7 883.9,60.9 925.7,65.4 972.6,85.1 978.7,92.6 1004.4,87.2 1031,139.6 1013.5,153.2 1025.6,189.5 1055.8,194.9 1062.5,207.7 1055.8,292.4 1059.5,365 1063.7,371.7 1061.9,443.7 1043.7,464.9 1025.6,495.2 999.8,501.8 990.8,495.8 987.7,410.4 980.2,392.9 987.7,389.2 986.2,283.3 992.9,280.3 987.7,194 925.7,130.5 794,130.5 725.9,195.5 725.9,259.1 744.1,262.1 744.1,334.8 727.4,335.4"/><polygon points="791,455.8 821.3,453.4 825.8,464.9 890.9,458.9 893.9,451.3 925.7,453.4 928.7,507.9 899.1,510.9 892.4,526.1 859.1,532.1 819.8,529.1 808.3,510.9 792.5,504.9"/><polygon points="1533.2,523.9 1522.6,531.5 1501.4,498.2 1493.8,504.3 1469.6,474 1487.8,455.8 1452.1,422.5 1450.8,259.1 1418.2,250 1428.8,188 1463.6,189.5 1468.1,168.3 1453,145.6 1490.8,103.2 1515,122.9 1557.4,83.6 1589.2,85.1 1586.1,56.3 1651.2,45.7 1699.6,54.8 1698.1,85.1 1758.7,91.1 1761.7,113.8 1817.7,156.2 1823.7,192.5 1835.8,198.6 1851,244 1852.5,286.3 1838.9,310.6 1835.8,480 1811.6,516.4 1802.5,522.4 1781.4,549.7 1770.8,540.6 1776.8,525.4 1784.4,516.4 1782.9,262.1 1714.8,262.1 1714.8,216.1 1587.7,216.1 1587.7,263.6 1518,263.6 1522.6,352.9 1525.6,443.7"/><polygon points="1024.4,673.9 1138,648.5 1154.9,709.5 1176.9,704.4 1246.4,706.1 1260,723.1 1268.5,723.1 1270.2,673.9 1376.9,672.2 1380.3,726.4 1393.9,721.4 1402.4,711.2 1393.6,711.7 1418.7,715.6 1438.1,698.1 1459.4,700.1 1463.3,723.3 1482.7,727.2 1521.4,647.7 1620.2,684.6 1600.8,746.5 1616.3,742.7 1631.8,756.2 1628,795 1647.3,793 1678.3,824 1668.6,857 1647.3,876.3 1651.2,984.8 1628,990.6 1629.9,1042.9 1614.4,1046.8 1628,1054.6 1647.3,1054.6 1651.2,1097.2 1699.6,1145.6 1678.3,1176.6 1676.4,1205.7 1651.2,1211.5 1628,1230.9 1608.6,1252.2 1562.1,1248.3 1542.7,1228.9 1540.8,1225.8 1529.2,1221.2 1507.9,1259.9 1480.7,1275.4 1403.2,1267.7 1380,1256 1383.7,1255.3 1382,1128.1 1265.1,1128.1 1265.1,1250.2 1254.9,1250.2 1239.7,1256.9 1232.9,1275.6 1200.7,1273.9 1199,1246.8 1190.5,1246.8 1185.4,1272.2 1127.8,1270.5 1117.6,1260.3 1097.3,1240 1093.9,1240 1082,1246.8 1063.4,1246.8 1056.6,1253.6 1022.7,1250.2 1015.9,1240 970.2,1233.2 975.3,1216.3 961.7,1209.5 960,1175.6 944.7,1168.8 938,1145.1 961.7,1131.5 956.6,1111.2 965.1,1094.2 982,1080.7 975.3,1070.5 980.3,1053.6 1017.6,1051.9 1019.3,992.5 995.6,985.8 995.6,938.3 978.6,911.2 988.8,877.3 976.9,879 965.1,870.5 975.3,836.6 995.6,836.6 990.5,823.1 999,806.1 992.2,787.5 997.3,779 1009.2,779 1027.8,741.7 1044.7,743.4"/><polygon points="1703.5,822.1 1721,810.5 1761.6,812.4 1781,795 1841.1,814.4 1883.7,833.7 1937.9,851.2 1951.5,839.5 1970.9,860.8 1937.9,882.2 1961.2,915.1 1982.5,903.5 1996,919 1974.7,946.1 1984.4,982.9 2001.9,984.8 2003.8,1017.8 1982.5,1017.8 1974.7,1085.6 1957.3,1143.7 1899.2,1182.4 1837.2,1197.9 1775.2,1225 1717.1,1225 1701.6,1176.6 1717.9,1158.4 1713.2,1140.6 1665.9,1095.2 1662.8,1063.1 1674.5,1060.4 1674.5,986.8 1651.2,984.8 1666.7,950 1659,948 1668.6,889.9 1690,895.7 1701.6,864.7 1690,857"/><polygon points="991.5,1988.8 931.6,1970.6 921.2,1887.3 944.7,1871.7 934.2,1741.5 908.2,1731.1 905.6,1663.4 934.2,1655.6 931.6,1614 994.1,1577.5 970.7,1509.9 1113.8,1468.2 1134.7,1507.3 1197.1,1509.9 1236.2,1481.2 1254.4,1489 1384.5,1491.6 1387.1,1478.6 1415.8,1481.2 1421,1533.3 1441.8,1509.9 1506.9,1517.7 1538.1,1465.6 1681.3,1533.3 1665.6,1577.5 1702.1,1601 1725.5,1637.4 1715.1,1751.9 1702.1,1772.7 1702.1,1897.7 1722.9,1905.5 1712.5,1941.9 1655.2,1968 1652.6,1918.5 1587.6,1915.9 1587.6,1715.5 1657.8,1710.3 1657.8,1655.6 1585,1650.4 1585,1585.3 1522.5,1585.3 1522.5,1645.2 1387.1,1647.8 1387.1,1585.3 1257,1585.3 1254.4,1653 1129.5,1650.4 1126.9,1587.9 1056.6,1587.9 1056.6,1645.2 991.5,1647.8 994.1,1712.9 1054,1715.5 1059.2,1915.9 994.1,1918.5"/><polygon points="1001.9,1988.8 1061.8,1970.6 1202.3,1978.4 1582.3,1975.8 1642.2,1983.6 1608.4,2007 1582.3,2009.6 1483.4,2048.6 1337.7,2064.3 1191.9,2056.5 1181.5,2027.8 1074.8,2012.2 1072.2,1996.6"/><polygon points="1014.3,2313.4 1058,2336.4 1071.8,2313.4 1191.4,2253.6 1253.5,2251.3 1255.8,2228.3 1391.5,2226 1396.1,2249 1428.3,2249 1453.6,2237.5 1485.8,2203 1561.7,2237.5 1536.4,2290.4 1561.7,2288.1 1566.3,2308.8 1610,2313.4 1651.4,2350.2 1660.6,2474.4 1660.6,2504.3 1653.7,2508.9 1651.4,2594 1630.7,2658.4 1603.1,2683.7 1596.2,2713.6 1483.5,2782.6 1460.5,2764.2 1283.4,2759.6 1200.6,2757.3 1170.7,2775.7 1097.1,2736.6 1092.5,2715.9 1023.5,2679.1 1023.5,2644.6 989,2612.4 986.7,2543.4 970.6,2538.8 970.6,2497.4 986.7,2492.8 986.7,2430.7 938.4,2396.2"/><polygon points="1056.8,2976.2 1044.6,2981.1 1022.1,2966.6 954.7,2982.7 941.9,3008.3 884.2,3021.2 852.1,3021.2 834.4,3082.1 852.1,3088.5 844.1,3136.7 853.7,3204 868.1,3226.5 831.2,3255.4 844.1,3293.9 869.7,3306.7 909.8,3285.8 922.7,3289 930.7,3303.5 919.5,3314.7 930.7,3332.4 945.1,3329.1 946.7,3345.2 983.6,3359.6 1041.4,3335.6 1058,3303.5 1060,3168.7 1055.8,3075.7 1049.4,3046.8 1054.2,3030.8"/><polygon points="1068.6,2953.8 1164.9,2921.7 1179.3,2924.9 1180.9,2941 1217.8,2944.2 1225.8,2934.5 1235.5,2937.7 1237.1,2949 1256.3,2949 1259.5,2966.6 1261.1,3290.7 1203.4,3374.1 1099.1,3374.1 1078.3,3364.4 1070.2,3306.7 1076.7,3290.7 1073.4,3232.9 1067,3226.5 1070.2,3101.4 1065.4,3088.5 1070.2,3078.9"/><polygon points="1237.1,2913.7 1259.5,2897.6 1350,2904.1 1390.6,2904.1 1390.6,2944.2 1385.8,2973 1259.5,2966.6 1256.3,2949 1249.9,2941"/><polygon points="1211.4,3370.9 1265.9,3346.8 1288.4,3370.9 1350,3369.3 1352.1,3367.6 1384.2,3345.2 1432.3,3370.9 1409.8,3383.7 1406.6,3396.5 1342.5,3422.2 1350,3425.4 1288.4,3419 1240.3,3406.1 1237.1,3390.1"/><polygon points="1390.6,2944.2 1440.3,2937.7 1443.5,2942.6 1490,2939.4 1501.3,2921.7 1541.4,2928.1 1541.4,2947.4 1570.2,2957 1584.7,2942.6 1595.9,2955.4 1587.9,2966.6 1586.3,3091.7 1595.9,3101.4 1594.3,3168.7 1587.9,3178.4 1591.1,3277.8 1586.3,3329.1 1557.4,3354.8 1554.2,3372.5 1509.3,3385.3 1494.8,3370.9 1461.2,3367.6 1432.3,3367.6 1385.8,3300.3 1377.7,3258.6 1377.7,3196 1385.8,3188 1384.2,2973"/><polygon points="1597.5,2965 1618.4,2950.6 1655.3,2949 1701.8,2974.6 1695.4,3008.3 1753.1,3072.5 1818.9,3075.7 1822.1,3098.2 1815.7,3101.4 1815.7,3188 1769.1,3192.8 1765.9,3210.4 1774,3213.7 1764.3,3248.9 1737.1,3290.7 1709.8,3309.9 1709.8,3351.6 1640.8,3375.7 1600.7,3330.8 1602.3,3248.9 1594.3,3242.5 1597.5,3101.4 1602.3,3021.2 1595.9,3014.7"/><polygon points="535.9,1717.3 537.6,1710.5 525.8,1713.9 520.7,1649.5 546.1,1630.8 537.6,1527.5 444.4,1508.8 417.3,1508.8 413.9,1520.7 369.8,1525.8 363.1,1558 332.5,1580 293.6,1588.5 288.5,1600.3 263.1,1602 239.3,1669.8 293.6,1669.8 295.3,1727.5 307.1,1730.8 308.8,1751.2 296.9,1754.6 302,1778.3 244.4,1830.8 296.9,1874.9 315.6,1866.4 330.8,1891.9 312.2,1908.8 310.5,1983.4 273.2,1998.6 266.4,2063.1 281.7,2066.4 278.3,2100.3 261.4,2107.1 254.6,2240 256.3,2244.1 302,2271.2 312.2,2349.2 322.4,2376.3 281.7,2403.4 278.3,2444.1 244.4,2450.8 222.4,2467.8 220.7,2518.6 208.8,2525.4 207.1,2567.8 230.8,2574.6 235.9,2606.8 252.9,2616.9 288.5,2611.9 293.6,2674.6 259.7,2701.7 266.4,2823.7 261.4,2844.1 295.3,2891.5 300.3,2922 315.6,2932.2 288.5,2960 287.8,2959.9 235.9,2983.9 225.9,3019.9 229.9,3111.7 239.9,3127.7 235.9,3179.7 229.9,3187.7 227.9,3235.6 187.9,3371.4 191.1,3374.2 227.1,3478 299.2,3480.1 347.9,3486.4 375.4,3478 481.4,3478 500.4,3478 568.2,3465.3 676.3,3380.5 673.3,3371.4 653.4,3259.6 643.4,3255.6 643.4,3179.7 639.4,3071.8 603.4,3011.9 573.5,2999.9 567.5,2951.9 595.4,2951.9 613.9,2932.2 600.3,2925.4 603.7,2888.1 622.4,2881.4 620.7,2818.6 593.6,2810.2 591.9,2749.2 603.7,2745.8 600.3,2674.6 591.9,2649.2 602,2650.8 624.1,2613.6 624.1,2579.7 635.9,2572.9 634.2,2550.8 624.1,2545.8 617.3,2472.9 580,2462.7 573.2,2461 569.8,2437.3 551.2,2413.6 571.5,2376.3 566.4,2349.2 535.9,2323.7 532.5,2200 529.2,2056.3 525.8,1985.1 507.1,1968.1 512.2,1908.8 539.3,1903.7 551.2,1873.2 544.4,1851.2 532.5,1842.7 530.8,1781.7 459.7,1780 396.9,1781.7 383.4,1778.3 376.6,1707.1 390.2,1691.9 432.5,1674.9 478.3,1696.9 498.6,1707.1 512.2,1724.1"/><polygon points="2241.3,1066.8 2232.9,1066.8 2234.3,1061.3 2246.8,1055.7 2246.8,1027.8 2252.4,1022.3 2269.1,1022.3 2263.5,983.3 2249.6,958.2 2234.3,952.7 2191.1,927.6 2182.8,924.8 2154.9,931.8 2138.2,935.9 2129.9,949.9 2124.3,974.9 2110.4,988.9 2093.7,1000 2065.8,994.4 2046.3,980.5 2040.8,949.9 2054.7,919.2 2079.7,887.2 2138.2,885.8 2173,803.7 2273.3,832.9 2266.3,888.6 2280.2,884.4 2333.2,910.9 2342.9,931.8 2324.8,944.3 2324.8,955.4 2359.6,956.8 2361,991.6 2355.4,1061.3 2333.2,1064 2323.4,1139.2 2337.3,1144.8 2335.9,1181 2319.2,1182.4 2298.3,1291 2284.4,1292.4 2292.8,1384.3 2305.3,1396.7 2308.1,1425.9 2358.2,1410.6 2379.1,1463.5 2310.9,1491.4 2312.3,1516.5 2341.5,1544.3 2345.7,1664 2324.8,1694.7 2305.3,1700.2 2301.1,1725.3 2313.7,1733.7 2315.1,1781 2288.6,1792.1 2287.2,1895.2 2303.9,1920.2 2313.7,1934.2 2315.1,1964.8 2305.2,2003.9 2311.9,2013.7 2338,2021 2339.5,2045.7 2351.1,2047.2 2362.7,2116.9 2332.2,2180.8 2355.5,2180.8 2367.1,2186.6 2364.2,2209.9 2339.5,2227.3 2364.2,2360.9 2358.4,2378.4 2262.5,2395.8 2253.8,2390 2250.9,2285.4 2258.1,2273.8 2252.3,2265.1 2246.5,2250.5 2185.5,2250.5 2185.5,2269.4 2194.2,2276.7 2188.4,2288.3 2181.1,2390 2169.5,2414.7 2064.9,2390 2072.2,2256.3 2025.7,2304.3 1967.6,2270.9 1986.5,2172.1 1977.8,2154.7 2002.5,2128.5 2056.2,2087.8 2085.3,2058.8 2089.6,2029.7 2120.1,2022.5 2117.2,1983.2 2125.9,1977.4 2120.1,1953.7 2134,1939.7 2139.6,1910.5 2132.7,1909.1 2124.3,1859 2115.9,1853.4 2114.6,1839.5 2120.1,1836.7 2114.6,1732.3 2129.9,1718.3 2124.3,1700.2 2086.7,1680.8 2082.5,1668.2 2043.5,1675.2 2024,1619.5 2046.3,1594.4 2035.2,1563.8 2067.2,1515.1 2102,1510.9 2118.7,1497 2120.1,1453.8 2104.8,1444 2111.8,1424.6 2102,1419 2096.5,1391.1 2096.5,1392.6 2117.3,1373.1 2117.3,1236.7 2114.6,1208.8 2129.9,1194.9 2118.7,1181 2096.5,1190.7 2078.4,1169.9 2079.7,1142 2040.8,1122.5 2040.8,1103 2056.1,1090.5 2051.9,1082.1 2053.3,1051.5 2068.6,1044.6 2075.6,1051.5 2113.2,1051.5 2121.5,1064 2184.2,1065.4"/><polygon points="1586.1,132 1717.8,132 1717.8,197.1 1586.1,198.6"/><polygon points="1063.4,787.5 1097.3,789.2 1100.7,792.5 1187.1,792.5 1190.5,860.3 1246.4,862 1246.4,1179 1226.1,1190.8 1215.9,1190.8 1212.5,1182.4 1158.3,1182.4 1154.9,1190.8 1126.1,1189.2 1093.9,1238.3 1063.4,1189.2 1063.4,1087.5 1060,1058.6 1026.1,1051.9 1026.1,997.6 1060,994.2 1063.4,890.8 1049.8,884.1 1046.4,860.3 1065.1,856.9"/><polygon points="1265.1,797.6 1266.8,789.2 1276.9,779 1290.5,775.6 1304.1,776.3 1314.2,785.8 1315.9,795.9 1380.3,795.9 1380.3,1111.2 1265.1,1109.5"/><polygon points="1457.5,791.1 1585.3,791.1 1585.3,1186.3 1562.1,1188.2 1540.8,1225 1515.6,1186.3 1478.8,1180.5 1391.6,1180.5 1395.5,853.1 1455.6,853.1"/><polygon points="1629.9,990.6 1788.8,984.8 1790.7,926.7 1895.3,924.8 1916.6,930.6 1920.5,1103 1899.2,1118.5 1788.8,1120.4 1782.9,1060.4 1629.9,1060.4"/><polygon points="1257.2,2313.4 1384.6,2311.1 1386.9,2419.2 1368.5,2421.5 1370.8,2442.2 1386.9,2446.8 1384.6,2561.8 1368.5,2561.8 1368.5,2557.2 1274.2,2559.5 1274.2,2571 1258.1,2571 1258.1,2446.8 1269.6,2442.2 1269.6,2421.5 1258.1,2419.2"/><polygon points="1258.1,2584.8 1386.9,2580.2 1389.2,2704.4 1258.1,2706.7"/><polygon points="1122.4,2444.5 1242,2442.2 1237.4,2502 1202.9,2502 1200.6,2497.4 1184.5,2495.1 1177.6,2511.2 1189.1,2515.8 1186.8,2575.6 1067.2,2575.6 1064.9,2529.6 1108.6,2520.4 1124.7,2495.1"/><polygon points="1409.9,2460.6 1439.8,2444.5 1462.8,2437.6 1460.5,2389.3 1506.5,2387 1508.8,2377.8 1531.8,2382.4 1587,2380.1 1587,2428.4 1570.9,2433 1568.6,2444.5 1518,2433 1511.1,2453.7 1522.6,2456 1527.2,2513.5 1409.9,2508.9"/><polygon points="929.1,3103 1237.1,3106.2 1237.1,3119 1256.3,3119 1256.3,3155.9 1237.1,3155.9 1237.1,3170.3 1193.8,3170.3 1193.8,3229.7 1132.8,3231.3 1132.8,3180 1121.6,3170.3 986.8,3168.7 978.8,3191.2 986.8,3200.8 986.8,3234.5 929.1,3234.5"/><polygon points="1406.6,3109.4 1672.9,3104.6 1717.8,3106.2 1719.4,3170.3 1709.8,3173.6 1713,3183.2 1719.4,3184.8 1721,3229.7 1661.7,3232.9 1658.5,3171.9 1406.6,3165.5"/><polygon points="396.9,1779 459.7,1779 461.4,2240 459.7,2515.3 515.6,2515.3 532.5,2532.2 532.5,2552.5 515.6,2579.7 452.9,2581.4 451.2,2589.8 463.1,2593.2 464.7,2606.8 466.4,2960 463.6,2959.9 463.6,3099.8 471.6,3115.7 523.5,3113.7 525.5,3235.6 451.6,3237.6 451.6,3247.6 459.6,3251.6 459.6,3299.5 483.6,3309.5 483.6,3351.5 471.6,3363.4 471.6,3395.4 459.6,3395.4 447.6,3379.4 401.7,3379.4 399.7,3247.6 395.7,3239.6 327.8,3237.6 325.8,3247.6 259.8,3247.6 257.8,3185.7 331.7,3175.7 331.7,3115.7 395.7,3113.7 397.7,2959.9 398.6,2960 398.6,2596.6 400.3,2586.4 324.1,2586.4 324.1,2518.6 337.6,2515.3 337.6,2506.8 327.5,2498.3 322.4,2476.3 334.2,2464.4 396.9,2454.2 395.3,2200"/><polygon points="2184.2,1064.6 2241.3,1064.6 2239.9,1403.9 2239.9,1584.7 2284.4,1584.7 2290,1591.6 2290,1605.6 2283,1611.1 2284.4,1651.5 2234.3,1651.5 2234.3,1661.3 2246.8,1664 2246.8,1686.3 2242.7,1769.9 2248.2,2004.1 2248,2003.9 2248,2118.3 2290.1,2118.3 2288.6,2179.3 2255.2,2180.8 2245.1,2195.3 2181.1,2195.3 2169.5,2180.8 2144.8,2180.8 2144.8,2116.9 2182.6,2116.9 2182.6,2003.9 2182.8,2004.1 2181.4,1742 2184.2,1661.3 2196.7,1661.3 2196.7,1651.5 2129.9,1651.5 2128.5,1572.1 2139.6,1562.4 2174.4,1551.3 2182.8,1549.9 2182.8,1403.9 2178.6,1078 2185.6,1075.2"/></g></g>
<g fill="none" stroke="#000" stroke-width="7.2" stroke-linejoin="round"><g mask="url(#nf)"><polygon points="722.9,483.1 695.7,480.7 690.2,464.9 659.3,422.5 662.4,335.4 645.7,328.7 644.2,262.1 667.5,259.1 665.4,192.5 702.3,125.9 707.8,107.8 727.4,85.1 750.8,92.6 756.2,65.4 826.4,60 836.4,23 877.3,26.7 883.9,60.9 925.7,65.4 972.6,85.1 978.7,92.6 1004.4,87.2 1031,139.6 1013.5,153.2 1025.6,189.5 1055.8,194.9 1062.5,207.7 1055.8,292.4 1059.5,365 1063.7,371.7 1061.9,443.7 1043.7,464.9 1025.6,495.2 999.8,501.8 990.8,495.8 987.7,410.4 980.2,392.9 987.7,389.2 986.2,283.3 992.9,280.3 987.7,194 925.7,130.5 794,130.5 725.9,195.5 725.9,259.1 744.1,262.1 744.1,334.8 727.4,335.4"/><polygon points="791,455.8 821.3,453.4 825.8,464.9 890.9,458.9 893.9,451.3 925.7,453.4 928.7,507.9 899.1,510.9 892.4,526.1 859.1,532.1 819.8,529.1 808.3,510.9 792.5,504.9"/><polygon points="1533.2,523.9 1522.6,531.5 1501.4,498.2 1493.8,504.3 1469.6,474 1487.8,455.8 1452.1,422.5 1450.8,259.1 1418.2,250 1428.8,188 1463.6,189.5 1468.1,168.3 1453,145.6 1490.8,103.2 1515,122.9 1557.4,83.6 1589.2,85.1 1586.1,56.3 1651.2,45.7 1699.6,54.8 1698.1,85.1 1758.7,91.1 1761.7,113.8 1817.7,156.2 1823.7,192.5 1835.8,198.6 1851,244 1852.5,286.3 1838.9,310.6 1835.8,480 1811.6,516.4 1802.5,522.4 1781.4,549.7 1770.8,540.6 1776.8,525.4 1784.4,516.4 1782.9,262.1 1714.8,262.1 1714.8,216.1 1587.7,216.1 1587.7,263.6 1518,263.6 1522.6,352.9 1525.6,443.7"/><polygon points="1024.4,673.9 1138,648.5 1154.9,709.5 1176.9,704.4 1246.4,706.1 1260,723.1 1268.5,723.1 1270.2,673.9 1376.9,672.2 1380.3,726.4 1393.9,721.4 1402.4,711.2 1393.6,711.7 1418.7,715.6 1438.1,698.1 1459.4,700.1 1463.3,723.3 1482.7,727.2 1521.4,647.7 1620.2,684.6 1600.8,746.5 1616.3,742.7 1631.8,756.2 1628,795 1647.3,793 1678.3,824 1668.6,857 1647.3,876.3 1651.2,984.8 1628,990.6 1629.9,1042.9 1614.4,1046.8 1628,1054.6 1647.3,1054.6 1651.2,1097.2 1699.6,1145.6 1678.3,1176.6 1676.4,1205.7 1651.2,1211.5 1628,1230.9 1608.6,1252.2 1562.1,1248.3 1542.7,1228.9 1540.8,1225.8 1529.2,1221.2 1507.9,1259.9 1480.7,1275.4 1403.2,1267.7 1380,1256 1383.7,1255.3 1382,1128.1 1265.1,1128.1 1265.1,1250.2 1254.9,1250.2 1239.7,1256.9 1232.9,1275.6 1200.7,1273.9 1199,1246.8 1190.5,1246.8 1185.4,1272.2 1127.8,1270.5 1117.6,1260.3 1097.3,1240 1093.9,1240 1082,1246.8 1063.4,1246.8 1056.6,1253.6 1022.7,1250.2 1015.9,1240 970.2,1233.2 975.3,1216.3 961.7,1209.5 960,1175.6 944.7,1168.8 938,1145.1 961.7,1131.5 956.6,1111.2 965.1,1094.2 982,1080.7 975.3,1070.5 980.3,1053.6 1017.6,1051.9 1019.3,992.5 995.6,985.8 995.6,938.3 978.6,911.2 988.8,877.3 976.9,879 965.1,870.5 975.3,836.6 995.6,836.6 990.5,823.1 999,806.1 992.2,787.5 997.3,779 1009.2,779 1027.8,741.7 1044.7,743.4"/><polygon points="1703.5,822.1 1721,810.5 1761.6,812.4 1781,795 1841.1,814.4 1883.7,833.7 1937.9,851.2 1951.5,839.5 1970.9,860.8 1937.9,882.2 1961.2,915.1 1982.5,903.5 1996,919 1974.7,946.1 1984.4,982.9 2001.9,984.8 2003.8,1017.8 1982.5,1017.8 1974.7,1085.6 1957.3,1143.7 1899.2,1182.4 1837.2,1197.9 1775.2,1225 1717.1,1225 1701.6,1176.6 1717.9,1158.4 1713.2,1140.6 1665.9,1095.2 1662.8,1063.1 1674.5,1060.4 1674.5,986.8 1651.2,984.8 1666.7,950 1659,948 1668.6,889.9 1690,895.7 1701.6,864.7 1690,857"/><polygon points="991.5,1988.8 931.6,1970.6 921.2,1887.3 944.7,1871.7 934.2,1741.5 908.2,1731.1 905.6,1663.4 934.2,1655.6 931.6,1614 994.1,1577.5 970.7,1509.9 1113.8,1468.2 1134.7,1507.3 1197.1,1509.9 1236.2,1481.2 1254.4,1489 1384.5,1491.6 1387.1,1478.6 1415.8,1481.2 1421,1533.3 1441.8,1509.9 1506.9,1517.7 1538.1,1465.6 1681.3,1533.3 1665.6,1577.5 1702.1,1601 1725.5,1637.4 1715.1,1751.9 1702.1,1772.7 1702.1,1897.7 1722.9,1905.5 1712.5,1941.9 1655.2,1968 1652.6,1918.5 1587.6,1915.9 1587.6,1715.5 1657.8,1710.3 1657.8,1655.6 1585,1650.4 1585,1585.3 1522.5,1585.3 1522.5,1645.2 1387.1,1647.8 1387.1,1585.3 1257,1585.3 1254.4,1653 1129.5,1650.4 1126.9,1587.9 1056.6,1587.9 1056.6,1645.2 991.5,1647.8 994.1,1712.9 1054,1715.5 1059.2,1915.9 994.1,1918.5"/><polygon points="1001.9,1988.8 1061.8,1970.6 1202.3,1978.4 1582.3,1975.8 1642.2,1983.6 1608.4,2007 1582.3,2009.6 1483.4,2048.6 1337.7,2064.3 1191.9,2056.5 1181.5,2027.8 1074.8,2012.2 1072.2,1996.6"/><polygon points="1014.3,2313.4 1058,2336.4 1071.8,2313.4 1191.4,2253.6 1253.5,2251.3 1255.8,2228.3 1391.5,2226 1396.1,2249 1428.3,2249 1453.6,2237.5 1485.8,2203 1561.7,2237.5 1536.4,2290.4 1561.7,2288.1 1566.3,2308.8 1610,2313.4 1651.4,2350.2 1660.6,2474.4 1660.6,2504.3 1653.7,2508.9 1651.4,2594 1630.7,2658.4 1603.1,2683.7 1596.2,2713.6 1483.5,2782.6 1460.5,2764.2 1283.4,2759.6 1200.6,2757.3 1170.7,2775.7 1097.1,2736.6 1092.5,2715.9 1023.5,2679.1 1023.5,2644.6 989,2612.4 986.7,2543.4 970.6,2538.8 970.6,2497.4 986.7,2492.8 986.7,2430.7 938.4,2396.2"/><polygon points="1056.8,2976.2 1044.6,2981.1 1022.1,2966.6 954.7,2982.7 941.9,3008.3 884.2,3021.2 852.1,3021.2 834.4,3082.1 852.1,3088.5 844.1,3136.7 853.7,3204 868.1,3226.5 831.2,3255.4 844.1,3293.9 869.7,3306.7 909.8,3285.8 922.7,3289 930.7,3303.5 919.5,3314.7 930.7,3332.4 945.1,3329.1 946.7,3345.2 983.6,3359.6 1041.4,3335.6 1058,3303.5 1060,3168.7 1055.8,3075.7 1049.4,3046.8 1054.2,3030.8"/><polygon points="1068.6,2953.8 1164.9,2921.7 1179.3,2924.9 1180.9,2941 1217.8,2944.2 1225.8,2934.5 1235.5,2937.7 1237.1,2949 1256.3,2949 1259.5,2966.6 1261.1,3290.7 1203.4,3374.1 1099.1,3374.1 1078.3,3364.4 1070.2,3306.7 1076.7,3290.7 1073.4,3232.9 1067,3226.5 1070.2,3101.4 1065.4,3088.5 1070.2,3078.9"/><polygon points="1237.1,2913.7 1259.5,2897.6 1350,2904.1 1390.6,2904.1 1390.6,2944.2 1385.8,2973 1259.5,2966.6 1256.3,2949 1249.9,2941"/><polygon points="1211.4,3370.9 1265.9,3346.8 1288.4,3370.9 1350,3369.3 1352.1,3367.6 1384.2,3345.2 1432.3,3370.9 1409.8,3383.7 1406.6,3396.5 1342.5,3422.2 1350,3425.4 1288.4,3419 1240.3,3406.1 1237.1,3390.1"/><polygon points="1390.6,2944.2 1440.3,2937.7 1443.5,2942.6 1490,2939.4 1501.3,2921.7 1541.4,2928.1 1541.4,2947.4 1570.2,2957 1584.7,2942.6 1595.9,2955.4 1587.9,2966.6 1586.3,3091.7 1595.9,3101.4 1594.3,3168.7 1587.9,3178.4 1591.1,3277.8 1586.3,3329.1 1557.4,3354.8 1554.2,3372.5 1509.3,3385.3 1494.8,3370.9 1461.2,3367.6 1432.3,3367.6 1385.8,3300.3 1377.7,3258.6 1377.7,3196 1385.8,3188 1384.2,2973"/><polygon points="1597.5,2965 1618.4,2950.6 1655.3,2949 1701.8,2974.6 1695.4,3008.3 1753.1,3072.5 1818.9,3075.7 1822.1,3098.2 1815.7,3101.4 1815.7,3188 1769.1,3192.8 1765.9,3210.4 1774,3213.7 1764.3,3248.9 1737.1,3290.7 1709.8,3309.9 1709.8,3351.6 1640.8,3375.7 1600.7,3330.8 1602.3,3248.9 1594.3,3242.5 1597.5,3101.4 1602.3,3021.2 1595.9,3014.7"/><polygon points="535.9,1717.3 537.6,1710.5 525.8,1713.9 520.7,1649.5 546.1,1630.8 537.6,1527.5 444.4,1508.8 417.3,1508.8 413.9,1520.7 369.8,1525.8 363.1,1558 332.5,1580 293.6,1588.5 288.5,1600.3 263.1,1602 239.3,1669.8 293.6,1669.8 295.3,1727.5 307.1,1730.8 308.8,1751.2 296.9,1754.6 302,1778.3 244.4,1830.8 296.9,1874.9 315.6,1866.4 330.8,1891.9 312.2,1908.8 310.5,1983.4 273.2,1998.6 266.4,2063.1 281.7,2066.4 278.3,2100.3 261.4,2107.1 254.6,2240 256.3,2244.1 302,2271.2 312.2,2349.2 322.4,2376.3 281.7,2403.4 278.3,2444.1 244.4,2450.8 222.4,2467.8 220.7,2518.6 208.8,2525.4 207.1,2567.8 230.8,2574.6 235.9,2606.8 252.9,2616.9 288.5,2611.9 293.6,2674.6 259.7,2701.7 266.4,2823.7 261.4,2844.1 295.3,2891.5 300.3,2922 315.6,2932.2 288.5,2960 287.8,2959.9 235.9,2983.9 225.9,3019.9 229.9,3111.7 239.9,3127.7 235.9,3179.7 229.9,3187.7 227.9,3235.6 187.9,3371.4 191.1,3374.2 227.1,3478 299.2,3480.1 347.9,3486.4 375.4,3478 481.4,3478 500.4,3478 568.2,3465.3 676.3,3380.5 673.3,3371.4 653.4,3259.6 643.4,3255.6 643.4,3179.7 639.4,3071.8 603.4,3011.9 573.5,2999.9 567.5,2951.9 595.4,2951.9 613.9,2932.2 600.3,2925.4 603.7,2888.1 622.4,2881.4 620.7,2818.6 593.6,2810.2 591.9,2749.2 603.7,2745.8 600.3,2674.6 591.9,2649.2 602,2650.8 624.1,2613.6 624.1,2579.7 635.9,2572.9 634.2,2550.8 624.1,2545.8 617.3,2472.9 580,2462.7 573.2,2461 569.8,2437.3 551.2,2413.6 571.5,2376.3 566.4,2349.2 535.9,2323.7 532.5,2200 529.2,2056.3 525.8,1985.1 507.1,1968.1 512.2,1908.8 539.3,1903.7 551.2,1873.2 544.4,1851.2 532.5,1842.7 530.8,1781.7 459.7,1780 396.9,1781.7 383.4,1778.3 376.6,1707.1 390.2,1691.9 432.5,1674.9 478.3,1696.9 498.6,1707.1 512.2,1724.1"/><polygon points="2241.3,1066.8 2232.9,1066.8 2234.3,1061.3 2246.8,1055.7 2246.8,1027.8 2252.4,1022.3 2269.1,1022.3 2263.5,983.3 2249.6,958.2 2234.3,952.7 2191.1,927.6 2182.8,924.8 2154.9,931.8 2138.2,935.9 2129.9,949.9 2124.3,974.9 2110.4,988.9 2093.7,1000 2065.8,994.4 2046.3,980.5 2040.8,949.9 2054.7,919.2 2079.7,887.2 2138.2,885.8 2173,803.7 2273.3,832.9 2266.3,888.6 2280.2,884.4 2333.2,910.9 2342.9,931.8 2324.8,944.3 2324.8,955.4 2359.6,956.8 2361,991.6 2355.4,1061.3 2333.2,1064 2323.4,1139.2 2337.3,1144.8 2335.9,1181 2319.2,1182.4 2298.3,1291 2284.4,1292.4 2292.8,1384.3 2305.3,1396.7 2308.1,1425.9 2358.2,1410.6 2379.1,1463.5 2310.9,1491.4 2312.3,1516.5 2341.5,1544.3 2345.7,1664 2324.8,1694.7 2305.3,1700.2 2301.1,1725.3 2313.7,1733.7 2315.1,1781 2288.6,1792.1 2287.2,1895.2 2303.9,1920.2 2313.7,1934.2 2315.1,1964.8 2305.2,2003.9 2311.9,2013.7 2338,2021 2339.5,2045.7 2351.1,2047.2 2362.7,2116.9 2332.2,2180.8 2355.5,2180.8 2367.1,2186.6 2364.2,2209.9 2339.5,2227.3 2364.2,2360.9 2358.4,2378.4 2262.5,2395.8 2253.8,2390 2250.9,2285.4 2258.1,2273.8 2252.3,2265.1 2246.5,2250.5 2185.5,2250.5 2185.5,2269.4 2194.2,2276.7 2188.4,2288.3 2181.1,2390 2169.5,2414.7 2064.9,2390 2072.2,2256.3 2025.7,2304.3 1967.6,2270.9 1986.5,2172.1 1977.8,2154.7 2002.5,2128.5 2056.2,2087.8 2085.3,2058.8 2089.6,2029.7 2120.1,2022.5 2117.2,1983.2 2125.9,1977.4 2120.1,1953.7 2134,1939.7 2139.6,1910.5 2132.7,1909.1 2124.3,1859 2115.9,1853.4 2114.6,1839.5 2120.1,1836.7 2114.6,1732.3 2129.9,1718.3 2124.3,1700.2 2086.7,1680.8 2082.5,1668.2 2043.5,1675.2 2024,1619.5 2046.3,1594.4 2035.2,1563.8 2067.2,1515.1 2102,1510.9 2118.7,1497 2120.1,1453.8 2104.8,1444 2111.8,1424.6 2102,1419 2096.5,1391.1 2096.5,1392.6 2117.3,1373.1 2117.3,1236.7 2114.6,1208.8 2129.9,1194.9 2118.7,1181 2096.5,1190.7 2078.4,1169.9 2079.7,1142 2040.8,1122.5 2040.8,1103 2056.1,1090.5 2051.9,1082.1 2053.3,1051.5 2068.6,1044.6 2075.6,1051.5 2113.2,1051.5 2121.5,1064 2184.2,1065.4"/></g><polygon points="1586.1,132 1717.8,132 1717.8,197.1 1586.1,198.6" stroke-width="7.5"/><polygon points="1063.4,787.5 1097.3,789.2 1100.7,792.5 1187.1,792.5 1190.5,860.3 1246.4,862 1246.4,1179 1226.1,1190.8 1215.9,1190.8 1212.5,1182.4 1158.3,1182.4 1154.9,1190.8 1126.1,1189.2 1093.9,1238.3 1063.4,1189.2 1063.4,1087.5 1060,1058.6 1026.1,1051.9 1026.1,997.6 1060,994.2 1063.4,890.8 1049.8,884.1 1046.4,860.3 1065.1,856.9" stroke-width="7.2"/><polygon points="1265.1,797.6 1266.8,789.2 1276.9,779 1290.5,775.6 1304.1,776.3 1314.2,785.8 1315.9,795.9 1380.3,795.9 1380.3,1111.2 1265.1,1109.5" stroke-width="7.2"/><polygon points="1457.5,791.1 1585.3,791.1 1585.3,1186.3 1562.1,1188.2 1540.8,1225 1515.6,1186.3 1478.8,1180.5 1391.6,1180.5 1395.5,853.1 1455.6,853.1" stroke-width="7.2"/><polygon points="1629.9,990.6 1788.8,984.8 1790.7,926.7 1895.3,924.8 1916.6,930.6 1920.5,1103 1899.2,1118.5 1788.8,1120.4 1782.9,1060.4 1629.9,1060.4" stroke-width="7.2"/><polygon points="1257.2,2313.4 1384.6,2311.1 1386.9,2419.2 1368.5,2421.5 1370.8,2442.2 1386.9,2446.8 1384.6,2561.8 1368.5,2561.8 1368.5,2557.2 1274.2,2559.5 1274.2,2571 1258.1,2571 1258.1,2446.8 1269.6,2442.2 1269.6,2421.5 1258.1,2419.2" stroke-width="7.2"/><polygon points="1258.1,2584.8 1386.9,2580.2 1389.2,2704.4 1258.1,2706.7" stroke-width="7.2"/><polygon points="1122.4,2444.5 1242,2442.2 1237.4,2502 1202.9,2502 1200.6,2497.4 1184.5,2495.1 1177.6,2511.2 1189.1,2515.8 1186.8,2575.6 1067.2,2575.6 1064.9,2529.6 1108.6,2520.4 1124.7,2495.1" stroke-width="7.2"/><polygon points="1409.9,2460.6 1439.8,2444.5 1462.8,2437.6 1460.5,2389.3 1506.5,2387 1508.8,2377.8 1531.8,2382.4 1587,2380.1 1587,2428.4 1570.9,2433 1568.6,2444.5 1518,2433 1511.1,2453.7 1522.6,2456 1527.2,2513.5 1409.9,2508.9" stroke-width="7.2"/><polygon points="929.1,3103 1237.1,3106.2 1237.1,3119 1256.3,3119 1256.3,3155.9 1237.1,3155.9 1237.1,3170.3 1193.8,3170.3 1193.8,3229.7 1132.8,3231.3 1132.8,3180 1121.6,3170.3 986.8,3168.7 978.8,3191.2 986.8,3200.8 986.8,3234.5 929.1,3234.5" stroke-width="7.2"/><polygon points="1406.6,3109.4 1672.9,3104.6 1717.8,3106.2 1719.4,3170.3 1709.8,3173.6 1713,3183.2 1719.4,3184.8 1721,3229.7 1661.7,3232.9 1658.5,3171.9 1406.6,3165.5" stroke-width="7.2"/><polygon points="396.9,1779 459.7,1779 461.4,2240 459.7,2515.3 515.6,2515.3 532.5,2532.2 532.5,2552.5 515.6,2579.7 452.9,2581.4 451.2,2589.8 463.1,2593.2 464.7,2606.8 466.4,2960 463.6,2959.9 463.6,3099.8 471.6,3115.7 523.5,3113.7 525.5,3235.6 451.6,3237.6 451.6,3247.6 459.6,3251.6 459.6,3299.5 483.6,3309.5 483.6,3351.5 471.6,3363.4 471.6,3395.4 459.6,3395.4 447.6,3379.4 401.7,3379.4 399.7,3247.6 395.7,3239.6 327.8,3237.6 325.8,3247.6 259.8,3247.6 257.8,3185.7 331.7,3175.7 331.7,3115.7 395.7,3113.7 397.7,2959.9 398.6,2960 398.6,2596.6 400.3,2586.4 324.1,2586.4 324.1,2518.6 337.6,2515.3 337.6,2506.8 327.5,2498.3 322.4,2476.3 334.2,2464.4 396.9,2454.2 395.3,2200" stroke-width="7.2"/><polygon points="2184.2,1064.6 2241.3,1064.6 2239.9,1403.9 2239.9,1584.7 2284.4,1584.7 2290,1591.6 2290,1605.6 2283,1611.1 2284.4,1651.5 2234.3,1651.5 2234.3,1661.3 2246.8,1664 2246.8,1686.3 2242.7,1769.9 2248.2,2004.1 2248,2003.9 2248,2118.3 2290.1,2118.3 2288.6,2179.3 2255.2,2180.8 2245.1,2195.3 2181.1,2195.3 2169.5,2180.8 2144.8,2180.8 2144.8,2116.9 2182.6,2116.9 2182.6,2003.9 2182.8,2004.1 2181.4,1742 2184.2,1661.3 2196.7,1661.3 2196.7,1651.5 2129.9,1651.5 2128.5,1572.1 2139.6,1562.4 2174.4,1551.3 2182.8,1549.9 2182.8,1403.9 2178.6,1078 2185.6,1075.2" stroke-width="7.2"/><polyline points="1259.5,2966 1261.1,3290.7 1211.4,3370.9" stroke-width="7.2" stroke-linecap="round"/><polyline points="1385.1,2966 1382.6,3297.1 1432.3,3370.9" stroke-width="7.2" stroke-linecap="round"/><polyline points="1258.2,2966.6 1386.1,2973" stroke-width="7.2" stroke-linecap="round"/></g>
<polygon points="191.1,3374.2 222.9,3365.7 261,3378.4 307.6,3422.9 311.9,3456.8 294.9,3478 227.1,3583.9 225,3592.4 163.6,3588.1 138.1,3545.8 155.1,3520.3 155.1,3478" fill="#c1c1c1" stroke="#000" stroke-width="6" stroke-linejoin="round"/><polygon points="375.4,3435.6 477.1,3444.1 496.2,3463.1 500.4,3490.7 504.7,3562.7 494.1,3579.7 489.8,3622 451.7,3626.3 439,3622 341.5,3632.6 328.8,3588.1 350,3511.9 343.6,3501.3" fill="#c1c1c1" stroke="#000" stroke-width="6" stroke-linejoin="round"/><polygon points="555.5,3412.3 570.3,3376.3 638.1,3365.7 667.8,3380.5 701.7,3412.3 703.8,3427.1 748.3,3497 744.1,3516.1 627.5,3581.8 604.2,3569.1 591.5,3539.4 566.1,3486.4 568.2,3452.5" fill="#c1c1c1" stroke="#000" stroke-width="6" stroke-linejoin="round"/>
<g stroke-linejoin="round" stroke-linecap="round">
<polyline points="722.9,483.1 730.5,498.2 747.1,505.8 791,508.8" fill="none" stroke="#000" stroke-width="2.5"/>
<polyline points="928.7,508.8 977.1,506.7 987.7,501.2 990.8,495.8" fill="none" stroke="#000" stroke-width="2.5"/>
<rect x="796.5" y="137.4" width="52.6" height="56.6" fill="none" stroke="#000" stroke-width="2.6"/>
<line x1="809.6" y1="149.9" x2="811.1" y2="181.5" stroke="#000" stroke-width="3"/>
<circle cx="809.6" cy="149.9" r="3.2" fill="#000" stroke="#000" stroke-width="0"/>
<circle cx="811.1" cy="181.5" r="3.2" fill="#000" stroke="#000" stroke-width="0"/>
<polyline points="775,202.5 777.4,328.7 798.6,346.3 918.1,346.3 942.3,328.7 943.8,203.1 775,202.5" fill="none" stroke="#000" stroke-width="2"/>
<polyline points="785,202.5 786.5,325.7 801.6,339.3 918.1,339.3 934.8,325.7 936.3,202.5" fill="none" stroke="#000" stroke-width="2"/>
<polygon points="794,200.4 925.7,200.4 926.3,319.6 915.1,331.7 804.6,331.7 794.9,319.6" fill="#fff" stroke="#000" stroke-width="3"/>
<polygon points="827.3,239.4 836.4,231.9 845.5,231.9 845.5,236.4 851.5,236.4 851.5,231.9 872.7,233.4 877.3,244 886.3,250 887.9,284.8 874.2,286.3 869.7,280.3 844,281.8 840.9,286.3 828.8,285.7 828.2,274.2 833.4,271.2 831.9,259.1 827.3,256.1" fill="#fff" stroke="#000" stroke-width="3"/>
<circle cx="859.1" cy="266.7" r="18.8" fill="none" stroke="#000" stroke-width="3"/>
<polyline points="797.1,455.8 797.1,398.3 821.3,398.3 840.9,428.6 881.8,428.6 903,398.3 922.7,399.8 922.7,453.4" fill="none" stroke="#000" stroke-width="2.5"/>
<polyline points="813.7,402 821.3,398.3" fill="none" stroke="#000" stroke-width="2.5"/>
<circle cx="863.6" cy="404.4" r="15.7" fill="none" stroke="#000" stroke-width="3"/>
<polygon points="845.5,439.2 859.1,439.2 859.1,443.7 845.5,443.7" fill="none" stroke="#000" stroke-width="2"/>
<polygon points="892.4,425.6 900,422.5 896.9,436.2 889.4,437.7" fill="none" stroke="#000" stroke-width="2"/>
<polyline points="813.7,410.4 819.8,416.5" fill="none" stroke="#000" stroke-width="2"/>
<polyline points="818.2,422.5 824.3,428.6" fill="none" stroke="#000" stroke-width="2"/>
<polyline points="822.8,430.1 827.3,434.6" fill="none" stroke="#000" stroke-width="2"/>
<polyline points="836.4,439.2 840.9,442.2" fill="none" stroke="#000" stroke-width="2"/>
<polyline points="865.2,438.6 865.8,444.3" fill="none" stroke="#000" stroke-width="2"/>
<polyline points="871.2,438.6 872.1,444.3" fill="none" stroke="#000" stroke-width="2"/>
<polyline points="877.3,439.2 878.8,444.3" fill="none" stroke="#000" stroke-width="2"/>
<polyline points="903,413.5 909,416.5" fill="none" stroke="#000" stroke-width="2"/>
<polygon points="754.7,451.3 765.3,451.3 765.3,460.4 771.3,460.4 771.3,474 765.3,474 765.3,492.2 754.7,492.2" fill="#fff" stroke="#000" stroke-width="2.2"/>
<path d="M754.7 467.3 a9 12 0 0 0 0 24" fill="none" stroke="#000" stroke-width="2.2"/>
<polygon points="962,455.8 968.1,457.3 952.9,501.2 947.5,499.7" fill="#fff" stroke="#000" stroke-width="2.2"/>
<ellipse cx="965" cy="484.6" rx="11" ry="6" fill="none" stroke="#000" stroke-width="2" transform="rotate(-10 965 484.6)"/>
<polyline points="1533.2,527.9 1770.8,527.9" fill="none" stroke="#000" stroke-width="2.5"/>
<rect x="1660.3" y="194.9" width="34.8" height="22.4" fill="#fff" stroke="#000" stroke-width="2.5"/>
<rect x="1596.1" y="141.7" width="47.5" height="47.8" fill="none" stroke="#000" stroke-width="2.6"/>
<line x1="1608" y1="152.2" x2="1609.5" y2="179" stroke="#000" stroke-width="3"/>
<circle cx="1608" cy="152.2" r="3.2" fill="#000" stroke="#000" stroke-width="0"/>
<circle cx="1609.5" cy="179" r="3.2" fill="#000" stroke="#000" stroke-width="0"/>
<path d="M1519.6 265.8 H1581.6 Q1598.2 265.8 1599.8 283.3 L1602.2 325.7 Q1602.2 342.3 1581.6 345.4 L1521.1 352.3" fill="#fff" stroke="#000" stroke-width="2.5"/>
<path d="M1519.6 271.2 H1578.6 Q1590.7 271.2 1592.2 286.3 L1594.3 322.7 Q1594.3 334.8 1578.6 337.8 L1521.1 345.4" fill="none" stroke="#000" stroke-width="2.2"/>
<polygon points="1537.7,292.4 1557.4,277.3 1575.5,286.3 1587.7,310.6 1569.5,331.7 1542.3,322.7 1534.7,307.5" fill="#fff" stroke="#000" stroke-width="3"/>
<polyline points="1557.4,277.3 1563.4,298.5 1587.7,310.6" fill="none" stroke="#000" stroke-width="2"/>
<polyline points="1563.4,298.5 1542.3,322.7" fill="none" stroke="#000" stroke-width="2"/>
<polyline points="1563.4,298.5 1569.5,331.7" fill="none" stroke="#000" stroke-width="2"/>
<polyline points="1534.7,307.5 1551.3,301.5 1563.4,298.5" fill="none" stroke="#000" stroke-width="2"/>
<path d="M1611.9 296.9 Q1648.2 298.5 1657.3 337.8" fill="none" stroke="#000" stroke-width="2.4"/>
<path d="M1611.9 309.0 Q1639.1 310.6 1645.2 340.8" fill="none" stroke="#000" stroke-width="2.4"/>
<path d="M1561.9 356.0 Q1569.5 380.2 1599.8 386.2" fill="none" stroke="#000" stroke-width="2.4"/>
<path d="M1575.5 354.4 Q1578.6 371.1 1599.8 374.1" fill="none" stroke="#000" stroke-width="2.4"/>
<polyline points="1601.3,286.3 1610.4,287.9 1610.4,313.6 1602.2,315.1" fill="none" stroke="#000" stroke-width="2.2"/>
<polygon points="1599.8,371.1 1633.1,343.8 1658.8,346.3 1663.3,356 1657.3,374.1 1669.4,380.2 1681.5,413.5 1692.1,415 1692.1,445.2 1681.5,445.2 1680,461.9 1667.9,471 1666.3,540.6 1652.7,542.1 1651.2,554.2 1630,554.2 1630,543 1619.4,542.1 1617.9,471 1602.8,460.4 1601.3,442.2 1589.2,440.7 1589.2,404.4 1601.3,402.9" fill="#fff" stroke="#000" stroke-width="2.8"/>
<polygon points="1673.9,377.1 1690.6,360.5 1708.7,374.1 1690.6,395.3" fill="#fff" stroke="#000" stroke-width="2.6"/>
<polygon points="1608.8,371.1 1622.5,365 1631.5,368.1 1619.4,381.7 1608.8,381.7" fill="none" stroke="#000" stroke-width="2.4"/>
<polyline points="1601.3,416.5 1631.5,415 1634.6,404.4 1652.7,402.9" fill="none" stroke="#000" stroke-width="2.4"/>
<polygon points="1631.5,471 1639.1,471 1639.1,531.5 1631.5,531.5" fill="none" stroke="#000" stroke-width="2.2"/>
<polygon points="1610.4,430.7 1619.4,430.1 1619.4,435.6 1610.4,436.2" fill="none" stroke="#000" stroke-width="2.2"/>
<polygon points="1610.4,441.3 1619.4,440.7 1619.4,446.2 1610.4,446.8" fill="none" stroke="#000" stroke-width="2.2"/>
<polygon points="1610.4,451.9 1619.4,451.3 1619.4,456.7 1610.4,457.3" fill="none" stroke="#000" stroke-width="2.2"/>
<ellipse cx="1656.7" cy="486.1" rx="3" ry="4.5" fill="none" stroke="#000" stroke-width="2" transform="rotate(0 1656.7 486.1)"/>
<ellipse cx="1656.7" cy="501.2" rx="3" ry="4.5" fill="none" stroke="#000" stroke-width="2" transform="rotate(0 1656.7 501.2)"/>
<ellipse cx="1656.7" cy="517.9" rx="3" ry="4.5" fill="none" stroke="#000" stroke-width="2" transform="rotate(0 1656.7 517.9)"/>
<rect x="1010.8" y="1001" width="22.1" height="47.5" fill="#fff" stroke="#000" stroke-width="2.6"/>
<rect x="1243.1" y="1001" width="23.7" height="44.1" fill="#fff" stroke="#000" stroke-width="2.6"/>
<rect x="1243.1" y="1134.9" width="16.9" height="40.7" fill="#fff" stroke="#000" stroke-width="2.6"/>
<rect x="1375.3" y="1001" width="23.7" height="49.2" fill="#fff" stroke="#000" stroke-width="2.6"/>
<rect x="1606.7" y="1000.3" width="23.2" height="42.6" fill="#fff" stroke="#000" stroke-width="2.6"/>
<rect x="1126.1" y="793.2" width="61" height="28.2" fill="none" stroke="#000" stroke-width="2.4"/>
<rect x="1136.3" y="926.4" width="45.7" height="130.5" fill="none" stroke="#000" stroke-width="3"/>
<ellipse cx="1160" cy="895.9" rx="15.9" ry="14.7" fill="none" stroke="#000" stroke-width="3" transform="rotate(0 1160 895.9)"/>
<ellipse cx="1109.2" cy="958.6" rx="13.6" ry="12.5" fill="none" stroke="#000" stroke-width="3" transform="rotate(0 1109.2 958.6)"/>
<ellipse cx="1212.5" cy="956.9" rx="14.2" ry="13.1" fill="none" stroke="#000" stroke-width="3" transform="rotate(0 1212.5 956.9)"/>
<ellipse cx="1112.5" cy="1016.3" rx="14.2" ry="13.1" fill="none" stroke="#000" stroke-width="3" transform="rotate(0 1112.5 1016.3)"/>
<ellipse cx="1215.9" cy="1018" rx="14.2" ry="13.1" fill="none" stroke="#000" stroke-width="3" transform="rotate(0 1215.9 1018)"/>
<ellipse cx="1165.1" cy="1084.1" rx="14.2" ry="13.1" fill="none" stroke="#000" stroke-width="3" transform="rotate(0 1165.1 1084.1)"/>
<polyline points="1459.4,819 1585.3,820.6" fill="none" stroke="#000" stroke-width="2.4"/>
<rect x="1466" y="924.8" width="45.7" height="129.8" fill="none" stroke="#000" stroke-width="3"/>
<ellipse cx="1484.6" cy="895.7" rx="13.6" ry="12.7" fill="none" stroke="#000" stroke-width="3" transform="rotate(0 1484.6 895.7)"/>
<ellipse cx="1438.1" cy="946.1" rx="13.6" ry="12.7" fill="none" stroke="#000" stroke-width="3" transform="rotate(0 1438.1 946.1)"/>
<ellipse cx="1538.9" cy="948" rx="12.8" ry="12" fill="none" stroke="#000" stroke-width="3" transform="rotate(0 1538.9 948)"/>
<ellipse cx="1443.9" cy="1017.8" rx="13.6" ry="12.7" fill="none" stroke="#000" stroke-width="3" transform="rotate(0 1443.9 1017.8)"/>
<ellipse cx="1540.8" cy="1021.6" rx="12.8" ry="12" fill="none" stroke="#000" stroke-width="3" transform="rotate(0 1540.8 1021.6)"/>
<ellipse cx="1492.4" cy="1073.9" rx="14.3" ry="13.5" fill="none" stroke="#000" stroke-width="3" transform="rotate(0 1492.4 1073.9)"/>
<polyline points="1395.5,1128.2 1416.8,1128.2 1416.8,1159.2 1451.7,1159.2 1451.7,1180.5" fill="none" stroke="#000" stroke-width="2.4"/>
<rect x="1275.3" y="799.3" width="38.9" height="45.8" fill="none" stroke="#000" stroke-width="2.6"/>
<line x1="1285" y1="809.4" x2="1286.5" y2="835" stroke="#000" stroke-width="3"/>
<circle cx="1285" cy="809.4" r="3.2" fill="#000" stroke="#000" stroke-width="0"/>
<circle cx="1286.5" cy="835" r="3.2" fill="#000" stroke="#000" stroke-width="0"/>
<rect x="1855.8" y="1000.3" width="51.1" height="48.5" fill="none" stroke="#000" stroke-width="2.6"/>
<line x1="1868.6" y1="1010" x2="1894.1" y2="1010" stroke="#000" stroke-width="3"/>
<circle cx="1868.6" cy="1010" r="3.2" fill="#000" stroke="#000" stroke-width="0"/>
<circle cx="1894.1" cy="1010" r="3.2" fill="#000" stroke="#000" stroke-width="0"/>
<polygon points="1082,1156.9 1097.3,1155.3 1099,1163.7 1093.9,1165.4 1094.6,1202.7 1101.4,1203.4 1092.2,1218 1083.7,1204.4 1089.2,1202.7 1087.8,1167.1 1082,1165.4" fill="#fff" stroke="#000" stroke-width="2.2"/>
<ellipse cx="1092.2" cy="1184.7" rx="12" ry="5" fill="none" stroke="#000" stroke-width="2" transform="rotate(0 1092.2 1184.7)"/>
<polygon points="1535,1159.2 1542,1159.2 1540.8,1209.5 1534.2,1209.5" fill="#fff" stroke="#000" stroke-width="2.2"/>
<polygon points="1546.6,1163.1 1560.2,1160 1561.3,1172.7 1548.5,1176.6" fill="#fff" stroke="#000" stroke-width="2.2"/>
<polygon points="1315.9,1140 1324.4,1140 1329.5,1236.6 1312.5,1236.6" fill="#fff" stroke="#000" stroke-width="2.2"/>
<polyline points="1273.6,1195.9 1320.3,1145.1 1368.5,1195.9" fill="none" stroke="#000" stroke-width="2.2"/>
<path d="M1271.9 1195.9 Q1287.1 1212.9 1321.0 1213.6 Q1354.9 1212.9 1370.2 1195.9" fill="none" stroke="#000" stroke-width="2.6"/>
<polyline points="1307.5,1142.4 1338,1142.4" fill="none" stroke="#000" stroke-width="3"/>
<polyline points="1315.9,1226.4 1321,1241.7 1327.1,1226.4" fill="none" stroke="#000" stroke-width="2.2"/>
<ellipse cx="1321" cy="1186.4" rx="13" ry="7" fill="none" stroke="#000" stroke-width="2" transform="rotate(0 1321 1186.4)"/>
<g fill="#000"><circle cx="1271.9" cy="1250.2" r="2.6"/><circle cx="1284.1" cy="1250.2" r="2.6"/><circle cx="1296.3" cy="1250.2" r="2.6"/><circle cx="1308.5" cy="1250.2" r="2.6"/><circle cx="1320.7" cy="1250.2" r="2.6"/><circle cx="1332.9" cy="1250.2" r="2.6"/><circle cx="1345.1" cy="1250.2" r="2.6"/><circle cx="1357.3" cy="1250.2" r="2.6"/><circle cx="1369.5" cy="1250.2" r="2.6"/><circle cx="1381.7" cy="1250.2" r="2.6"/></g>
<polyline points="1265.1,1250.2 1382,1250.2" fill="none" stroke="#000" stroke-width="1.2"/>
<rect x="1268.4" y="1596.8" width="45.9" height="43.2" fill="none" stroke="#000" stroke-width="2.6"/>
<line x1="1279.9" y1="1606.3" x2="1281.4" y2="1630.5" stroke="#000" stroke-width="3"/>
<circle cx="1279.9" cy="1606.3" r="3.2" fill="#000" stroke="#000" stroke-width="0"/>
<circle cx="1281.4" cy="1630.5" r="3.2" fill="#000" stroke="#000" stroke-width="0"/>
<rect x="1072.2" y="1589.5" width="42.7" height="17.7" fill="none" stroke="#000" stroke-width="2.2"/>
<rect x="1524" y="1601" width="20.9" height="39" fill="none" stroke="#000" stroke-width="2.2"/>
<rect x="995.7" y="1666" width="19.2" height="36.5" fill="none" stroke="#000" stroke-width="2.2"/>
<rect x="1639.6" y="1666" width="16.7" height="36.5" fill="none" stroke="#000" stroke-width="2.2"/>
<rect x="1290.8" y="1718.1" width="64.1" height="131.7" fill="none" stroke="#000" stroke-width="3"/>
<ellipse cx="1265.8" cy="1751.9" rx="15.6" ry="13.5" fill="none" stroke="#000" stroke-width="3" transform="rotate(0 1265.8 1751.9)"/>
<ellipse cx="1387.1" cy="1747.8" rx="15.6" ry="13.5" fill="none" stroke="#000" stroke-width="3" transform="rotate(0 1387.1 1747.8)"/>
<ellipse cx="1263.8" cy="1817.5" rx="15.6" ry="13.5" fill="none" stroke="#000" stroke-width="3" transform="rotate(0 1263.8 1817.5)"/>
<ellipse cx="1384.5" cy="1816.5" rx="15.6" ry="13.5" fill="none" stroke="#000" stroke-width="3" transform="rotate(0 1384.5 1816.5)"/>
<rect x="1055.5" y="1718.1" width="93.2" height="46.8" fill="none" stroke="#000" stroke-width="2.3"/>
<polyline points="1072.2,1720.7 1075.3,1762.3" fill="none" stroke="#000" stroke-width="1.8"/>
<rect x="1490.2" y="1716.5" width="94.8" height="48.4" fill="none" stroke="#000" stroke-width="2.3"/>
<polyline points="1561.5,1719.7 1558.4,1763.9" fill="none" stroke="#000" stroke-width="1.8"/>
<rect x="1055.5" y="1804" width="93.2" height="46.8" fill="none" stroke="#000" stroke-width="2.3"/>
<polyline points="1072.2,1806.6 1075.3,1848.2" fill="none" stroke="#000" stroke-width="1.8"/>
<rect x="1490.2" y="1802.4" width="94.8" height="48.4" fill="none" stroke="#000" stroke-width="2.3"/>
<polyline points="1561.5,1805.5 1558.4,1849.8" fill="none" stroke="#000" stroke-width="1.8"/>
<rect x="1055.5" y="1877.9" width="93.2" height="46.9" fill="none" stroke="#000" stroke-width="2.3"/>
<polyline points="1072.2,1880.5 1075.3,1922.1" fill="none" stroke="#000" stroke-width="1.8"/>
<rect x="1490.2" y="1876.3" width="94.8" height="48.5" fill="none" stroke="#000" stroke-width="2.3"/>
<polyline points="1561.5,1879.5 1558.4,1923.7" fill="none" stroke="#000" stroke-width="1.8"/>
<rect x="1188.3" y="1888.3" width="45.3" height="88.5" fill="none" stroke="#000" stroke-width="2.3"/>
<polyline points="1189.8,1953.9 1210.9,1956 1232.5,1960.2" fill="none" stroke="#000" stroke-width="1.8"/>
<rect x="1267.9" y="1888.3" width="42.7" height="88.5" fill="none" stroke="#000" stroke-width="2.3"/>
<polyline points="1269.5,1953.9 1289.3,1956 1309.6,1960.2" fill="none" stroke="#000" stroke-width="1.8"/>
<rect x="1336.6" y="1888.3" width="40.1" height="88.5" fill="none" stroke="#000" stroke-width="2.3"/>
<polyline points="1338.2,1953.9 1356.7,1956 1375.7,1960.2" fill="none" stroke="#000" stroke-width="1.8"/>
<rect x="1413.2" y="1888.3" width="41.6" height="88.5" fill="none" stroke="#000" stroke-width="2.3"/>
<polyline points="1414.7,1953.9 1434,1956 1453.8,1960.2" fill="none" stroke="#000" stroke-width="1.8"/>
<rect x="1235.1" y="2458.3" width="23.9" height="39.1" fill="#fff" stroke="#000" stroke-width="2.6"/>
<rect x="1382.3" y="2462.9" width="28.5" height="34.5" fill="#fff" stroke="#000" stroke-width="2.6"/>
<rect x="1276.5" y="2558.1" width="92" height="29.4" fill="#fff" stroke="#000" stroke-width="2.6"/>
<polyline points="1313.3,2559.9 1314.7,2586.6" fill="none" stroke="#000" stroke-width="2"/>
<rect x="1267.3" y="2320.3" width="42.8" height="46" fill="none" stroke="#000" stroke-width="2.6"/>
<line x1="1278" y1="2330.4" x2="1279.5" y2="2356.2" stroke="#000" stroke-width="3"/>
<circle cx="1278" cy="2330.4" r="3.2" fill="#000" stroke="#000" stroke-width="0"/>
<circle cx="1279.5" cy="2356.2" r="3.2" fill="#000" stroke="#000" stroke-width="0"/>
<polygon points="1283.4,2617 1297.2,2614.7 1298.1,2607.8 1324.8,2606.9 1325.7,2614.7 1352.4,2614.7 1353.3,2628.5 1345.5,2630.8 1347.8,2658.4 1337.7,2660.7 1336.3,2668.5 1288,2668.5 1285.7,2660.7 1288,2633.1 1282.5,2630.8" fill="none" stroke="#000" stroke-width="2.8"/>
<ellipse cx="1317.9" cy="2642.3" rx="22.1" ry="23.9" fill="none" stroke="#000" stroke-width="3" transform="rotate(0 1317.9 2642.3)"/>
<polyline points="1258.1,2594 1265,2594 1265,2635.4 1259,2636.3" fill="none" stroke="#000" stroke-width="2"/>
<polyline points="1259,2656.1 1265.9,2656.1 1265.9,2695.2 1259,2696.1" fill="none" stroke="#000" stroke-width="2"/>
<polyline points="1380,2591.7 1387.8,2591.7 1387.8,2633.1 1380,2634" fill="none" stroke="#000" stroke-width="2"/>
<polyline points="1380,2653.8 1387.8,2653.8 1387.8,2695.2 1380,2696.1" fill="none" stroke="#000" stroke-width="2"/>
<rect x="1232.3" y="3119" width="24.7" height="36.9" fill="#fff" stroke="#000" stroke-width="2.6"/>
<rect x="1379.4" y="3115.8" width="27.2" height="44.9" fill="#fff" stroke="#000" stroke-width="2.6"/>
<rect x="1266.6" y="2982.7" width="44.3" height="48.1" fill="none" stroke="#000" stroke-width="2.6"/>
<line x1="1277.7" y1="2993.3" x2="1279.2" y2="3020.2" stroke="#000" stroke-width="3"/>
<circle cx="1277.7" cy="2993.3" r="3.2" fill="#000" stroke="#000" stroke-width="0"/>
<circle cx="1279.2" cy="3020.2" r="3.2" fill="#000" stroke="#000" stroke-width="0"/>
<rect x="937.1" y="3112.6" width="42.3" height="48.1" fill="none" stroke="#000" stroke-width="2.6"/>
<line x1="947.7" y1="3122.2" x2="968.8" y2="3122.2" stroke="#000" stroke-width="3"/>
<circle cx="947.7" cy="3122.2" r="3.2" fill="#000" stroke="#000" stroke-width="0"/>
<circle cx="968.8" cy="3122.2" r="3.2" fill="#000" stroke="#000" stroke-width="0"/>
<rect x="1661.7" y="3117.4" width="46.5" height="46.5" fill="none" stroke="#000" stroke-width="2.6"/>
<line x1="1673.3" y1="3126.7" x2="1696.6" y2="3126.7" stroke="#000" stroke-width="3"/>
<circle cx="1673.3" cy="3126.7" r="3.2" fill="#000" stroke="#000" stroke-width="0"/>
<circle cx="1696.6" cy="3126.7" r="3.2" fill="#000" stroke="#000" stroke-width="0"/>
<rect x="400.3" y="1774.2" width="55.9" height="14" fill="#fff"/>
<rect x="229.9" y="3187.7" width="29.9" height="43.9" fill="#fff" stroke="#000" stroke-width="2.6"/>
<path d="M405.6 1788.9L454.1 1789M404.2 1806.5L453 1806.9M404.7 1822.5L456 1822.5M405.4 1840.5L454.9 1840.1M406.6 1856.9L454.6 1857.2M404.2 1873.7L455.3 1873.9M404.1 1889.8L455.6 1889.8M406.6 1907.4L455.1 1907.9M406.4 1923.6L454.3 1924.1M404.3 1941.4L453.4 1941M405.3 1958.3L454.9 1958.1M405.2 1974.2L454.1 1974.3M406.7 1991.2L455 1991.7M407 2008.5L455 2008.1M406.9 2025.3L455.7 2025.4M404.6 2041.8L455.5 2041.9M404.2 2057.8L455.6 2058.4M406.4 2074.2L454.2 2073.8M406.3 2091.4L455.6 2090.8M404.1 2108.8L455.2 2108.6M406.9 2126.2L454.5 2126.8M404.2 2141.8L454.8 2141.3M405.2 2158.4L454.8 2158M406.6 2174.9L453.9 2175.4M405.1 2193.4L454.4 2193.4M405.8 2209.7L454.7 2209.8M405.5 2227.1L454.3 2227.3M404.9 2242.5L455.9 2242.5M404 2259.9L454.2 2260M405.8 2275.6L454.9 2275.1M405.4 2293.7L455 2293.5M406.2 2310.6L453.1 2310.1M406.9 2327.4L453.8 2327.3M405 2344L454.1 2343.8M405.8 2360.3L453.9 2360.2M404.1 2377.9L454.7 2378.2M404.7 2393.8L455.4 2393.5M405.3 2410.4L455.1 2409.9M405 2427.4L455.5 2427.4M404.5 2445.3L454 2445.5M405.4 2462.2L453.7 2461.7M404.6 2478.3L455.4 2478.7M404.8 2494.4L455.4 2494.5M405 2512.4L453.4 2512.2M404.8 2529.2L454 2529.1M405.2 2545.2L455.8 2544.8M406.8 2561.2L455.6 2561.8" stroke="#000" stroke-width="3.4" fill="none" stroke-linecap="round"/>
<path d="M411 1783.4L411 2576.9M449 1783.4L449 2576.9" stroke="#000" stroke-width="2.2" fill="none"/>
<path d="M405.3 2602.8L457.2 2602.4M406.2 2619.2L458.8 2619.6M405.7 2637.4L457.6 2637.2M405.3 2653L456.6 2653.6M407.4 2671.2L458.4 2670.8M406.9 2686.9L458.2 2687.3M405.3 2704.9L457.8 2705.1M405.5 2720.9L457.4 2720.4M407.6 2738.6L457.6 2738.3M406.7 2755.3L458.6 2755.7M406.2 2771.3L457.8 2771.2M405.9 2787.4L458.4 2786.9M406.9 2804L456.8 2804M406 2821.6L459 2821.3M405.6 2838.3L457.9 2838.1M407.2 2855L457 2855.1M405.3 2872.9L456.2 2872.6M406.8 2889.4L456.7 2889.2M406.4 2905.1L456.1 2905.3M407.9 2923.3L458.2 2923.8M405.9 2938.3L458.9 2938.7M407.8 2955.9L457.9 2956.3M405.6 2972.5L457.3 2972.1M407.9 2989.5L457 2988.9M405.5 3005.6L458.4 3005.4M405.3 3022.9L458.9 3022.8M405.2 3039.5L456.2 3039.1M405.4 3057.3L456.1 3057.2M408 3073.2L456.4 3073.2M406.2 3091L459 3091M406.2 3106.8L456.1 3106.7M407.7 3123.6L458.5 3123.6M405.8 3140L456.7 3139.6M407.6 3157.2L456.4 3156.6M406.7 3175.4L459 3175.2M407 3192.1L458.4 3192.4M405.3 3208.1L456.6 3208.5M407.8 3225.7L457 3225.9" stroke="#000" stroke-width="3.4" fill="none" stroke-linecap="round"/>
<path d="M412 2597.3L412 3232.4M452 2597.3L452 3232.4" stroke="#000" stroke-width="2.2" fill="none"/>
<path d="M405.2 3254.6L459.4 3255.2M405.8 3271.7L457.1 3271.6M404.9 3288.9L459.7 3288.4M403.7 3304.7L458.6 3304.8M403.7 3320.6L457.8 3321.1M403.5 3338.9L459.4 3338.5M403.4 3355.4L457 3355.9M403.6 3371.4L459.9 3371.9" stroke="#000" stroke-width="3.4" fill="none" stroke-linecap="round"/>
<path d="M410 3248.4L410 3377.4M453 3248.4L453 3377.4" stroke="#000" stroke-width="2.2" fill="none"/>
<rect x="407.1" y="2578" width="37.3" height="18.6" fill="#fff" stroke="#000" stroke-width="2.6"/>
<rect x="409.7" y="3230.8" width="31.9" height="17.6" fill="#fff" stroke="#000" stroke-width="2.6"/>
<polygon points="337.6,2584.7 339.3,2552.5 344.4,2550.8 343.7,2530.5 351.2,2527.1 353.6,2516.9 363.1,2513.6 378.3,2514.6 383.4,2527.1 390.2,2530.5 389.5,2550.8 393.6,2554.2 392.9,2584.7 383.4,2584.7 380,2569.5 356.3,2569.5 351.2,2584.7" fill="#fff" stroke="#000" stroke-width="2.3"/>
<polyline points="356.3,2569.5 358,2549.2 349.5,2539 356.3,2525.4 378.3,2525.4 383.4,2539 378.3,2549.2 380,2569.5" fill="none" stroke="#000" stroke-width="2"/>
<polyline points="502,2579.7 503.7,2559.3 515.6,2550.8 529.2,2552.5" fill="none" stroke="#000" stroke-width="2.2"/>
<polyline points="299.2,3463.1 354.2,3472.9" fill="none" stroke="#000" stroke-width="4"/>
<polyline points="496.2,3462.3 559.7,3439" fill="none" stroke="#000" stroke-width="4"/>
<polyline points="144.5,3530.9 176.3,3522.5 199.6,3547.9 227.1,3566.9" fill="none" stroke="#000" stroke-width="4"/>
<polyline points="335.2,3590.3 381.8,3590.3 383.9,3613.6 415.7,3615.7 417.8,3600.8 449.6,3596.6 451.7,3575.4 485.6,3573.3 498.3,3579.7" fill="none" stroke="#000" stroke-width="4"/>
<polyline points="595.8,3541.5 672,3503.4 686.9,3518.2 744.1,3497" fill="none" stroke="#000" stroke-width="4"/>
<rect x="2188.9" y="1058.5" width="44.6" height="14" fill="#fff"/>
<rect x="2190.6" y="1060.7" width="39" height="15" fill="#fff" stroke="#000" stroke-width="2.6"/>
<path d="M2193 1085L2237.5 1084.5M2193.6 1102.2L2235.7 1102.2M2193.8 1117.9L2235.7 1117.4M2195 1135.3L2235.9 1135M2195.3 1152.5L2237.2 1152.3M2192.6 1169.9L2238.1 1169.6M2192.9 1184.9L2236.4 1185.3M2194.2 1201.7L2237.4 1201.5M2192.7 1219.1L2235.7 1218.7M2193.8 1236.1L2236.4 1236.2M2193.4 1252.3L2237.9 1252.5M2194.2 1268.6L2237.1 1269M2193.4 1286.3L2238.4 1285.8M2194.8 1302.3L2236 1302.3M2194.5 1318.3L2237.8 1318.4M2193.4 1336.7L2237.6 1336.8M2193.9 1352.8L2238 1353.3M2194.5 1369.2L2235.7 1369.5M2195.5 1386.3L2238 1386M2194.5 1402.5L2235.6 1402.4M2192.9 1418.7L2235.7 1419.1M2193.2 1435.4L2236.7 1435.8M2193.8 1452L2237.1 1452.4M2195.1 1470.1L2236.3 1470M2195.2 1485.9L2238.4 1485.5M2193.2 1502.3L2236.2 1502.2M2193.3 1519.8L2235.5 1519.7M2194.2 1536L2238.4 1536.3M2194.4 1553L2237.5 1552.5M2194.8 1570.5L2238.1 1570.9M2193.7 1586.2L2235.8 1586.3M2192.7 1602.2L2236.1 1601.8M2192.7 1619.5L2235.5 1619.1M2193.6 1635.7L2235.6 1636.2" stroke="#000" stroke-width="3.4" fill="none" stroke-linecap="round"/>
<path d="M2201 1079.4L2201 1641.8M2230 1079.4L2230 1641.8" stroke="#000" stroke-width="2.2" fill="none"/>
<path d="M2196.4 1668.2L2237.9 1668.4M2194.2 1684.6L2240.5 1684.2M2194.9 1702.4L2238.9 1702.4M2196 1718.2L2237.8 1717.9M2194.3 1734.5L2238.7 1735M2193.8 1752L2238.3 1752.5M2195.4 1768L2238.6 1768.2M2195.6 1785.3L2239 1785.5M2195.2 1803.1L2237.9 1802.6M2195 1819.9L2238.1 1820.4M2195.7 1835.9L2240.1 1835.6M2196.1 1852.1L2237.9 1852.4M2195.6 1868.3L2239.6 1868.8M2195 1886.5L2238.1 1886.1M2195 1902.6L2237.7 1903M2195.6 1919.2L2238.2 1918.9M2194.5 1934.9L2238.3 1934.8M2196 1952.4L2240.2 1952M2194 1969.1L2239.5 1969.7M2195.8 1985.4L2238.4 1984.8M2194.5 2003.2L2238 2003.2M2194.7 2018.9L2238.8 2018.8M2194.4 2036.3L2237.8 2035.8M2195.1 2052L2238.6 2052.4M2195.6 2069.5L2240.4 2069M2193.9 2085.2L2238.7 2085.3M2194.6 2103.4L2240.4 2102.8" stroke="#000" stroke-width="3.4" fill="none" stroke-linecap="round"/>
<path d="M2203 1662.7L2203 2116.9M2231 1662.7L2231 2116.9" stroke="#000" stroke-width="2.2" fill="none"/>
<rect x="2196.7" y="1643.2" width="37.6" height="18.1" fill="#fff" stroke="#000" stroke-width="2.6"/>
<polygon points="2138.2,1647.3 2139.6,1622.3 2145.2,1619.5 2143.8,1591.6 2141,1577.7 2160.5,1576.3 2161.9,1586.1 2175.8,1587.5 2180,1619.5 2188.3,1620.9 2189.7,1647.3" fill="#fff" stroke="#000" stroke-width="2.3"/>
<polyline points="2145.2,1619.5 2180,1619.5" fill="none" stroke="#000" stroke-width="2"/>
<polygon points="2152.1,1595.8 2154.9,1587.5 2167.5,1588.9 2168.9,1597.2 2166.1,1607 2154.9,1607" fill="none" stroke="#000" stroke-width="2"/>
<polygon points="2189.9,2131.4 2233.4,2131.4 2234.9,2189.5 2192.8,2189.5" fill="#fff" stroke="#000" stroke-width="2.6"/>
<polyline points="2192.8,2183.7 2234,2183.1" fill="none" stroke="#000" stroke-width="1.6"/>
<circle cx="2227" cy="2160.5" r="3" fill="none" stroke="#000" stroke-width="2"/>
<polyline points="2076.5,2346.4 2088.2,2345 2094,2334.8 2149.2,2340.6 2156.4,2349.3 2157.9,2359.5 2181.1,2366.7" fill="none" stroke="#000" stroke-width="4"/>
<polyline points="2255.2,2363.8 2265.4,2360.9 2269.8,2349.3 2335.1,2334.8 2352.6,2340.6" fill="none" stroke="#000" stroke-width="4"/>
<polyline points="1986.5,2172.1 2002.5,2177.9 2012.6,2173.5 2024.3,2176.4" fill="none" stroke="#000" stroke-width="5"/>
<polyline points="1996.7,2195.3 2006.8,2192.4 2027.2,2206.9" fill="none" stroke="#000" stroke-width="3"/>
<polyline points="2072.2,2256.3 2079.5,2212.8 2056.2,2145.9" fill="none" stroke="#000" stroke-width="5"/>
<polyline points="2082.4,2282.5 2094,2279.6 2098.3,2270.9 2091.1,2268" fill="none" stroke="#000" stroke-width="3"/>
<polyline points="2157.9,2270.9 2181.1,2272.3" fill="none" stroke="#000" stroke-width="3"/>
<polyline points="2166.6,2282.5 2186.9,2288.3" fill="none" stroke="#000" stroke-width="3"/>
<polyline points="2259.6,2265.1 2279.9,2263.6" fill="none" stroke="#000" stroke-width="3"/>
<polyline points="2323.5,2278.1 2343.8,2279.6" fill="none" stroke="#000" stroke-width="3"/>
<polyline points="2033,2233.1 2059.1,2259.2" fill="none" stroke="#000" stroke-width="3"/>
<polyline points="2041.7,2201.1 2076.5,2230.2" fill="none" stroke="#000" stroke-width="4"/>
<polyline points="2133.8,2760.1 2156.4,2713.2 2205.1,2700 2223.9,2711.3 2250.2,2700 2340.2,2728.2 2372.1,2790.1 2374,2808.9 2357.1,2831.4 2370.2,2865.1 2383.4,2904.5 2396.5,2957.1" fill="none" stroke="#000" stroke-width="4.2"/>
<polyline points="2133.8,2760.1 2103.8,2782.6 2094.4,2790.1 2098.2,2805.1 2073.8,2816.4 2070.1,2853.9 2081.3,2861.4 2075.7,2872.6 2078.3,2913.9 2092.6,2917.7 2109.5,2910.2 2126.3,2951.4 2120.7,2958.9 2126.3,3002.1 2137.6,3011.5 2150.7,3009.6 2182.6,2996.5 2193.9,2996.5 2220.2,3056.5 2193.9,3071.5 2184.5,3079 2182.6,3099.7 2201.4,3101.5" fill="none" stroke="#000" stroke-width="4.2"/>
<polyline points="2133.8,2760.1 2178.9,2754.4 2184.5,2748.8 2261.4,2730.1 2310.2,2752.6 2332.7,2775.1" fill="none" stroke="#000" stroke-width="2.7"/>
<polyline points="2184.5,2760.1 2182.6,2771.3 2193.9,2797.6 2201.4,2823.9 2205.1,2827.6 2227.7,2801.4 2250.2,2807 2268.9,2807 2285.8,2823.9 2283.9,2844.5 2298.9,2863.3 2315.8,2880.2 2315.8,2898.9 2287.7,2919.5 2306.5,2936.4 2321.5,2958.9 2340.2,2947.7 2355.2,2970.2 2374,2981.5" fill="none" stroke="#000" stroke-width="3.1"/>
<polygon points="2124.5,2915.8 2139.5,2906.4 2150.7,2910.2 2156.4,2936.4 2145.1,2942.1 2132,2936.4" fill="#111" stroke="#000" stroke-width="2"/>
<polyline points="2109.5,2910.2 2124.5,2904.5" fill="none" stroke="#000" stroke-width="2.7"/>
<polyline points="2071.9,2855.8 2096.3,2853.1" fill="none" stroke="#000" stroke-width="2.7"/>
<polyline points="2081.3,2869.6 2103.8,2864.4" fill="none" stroke="#000" stroke-width="2.7"/>
<polyline points="2229.5,2972.1 2253.9,2962.7" fill="none" stroke="#000" stroke-width="2.7"/>
<polyline points="2205.1,2700 2214.5,2685 2220.2,2660.6" fill="none" stroke="#000" stroke-width="2.7"/>
<polyline points="2223.9,2711.3 2227.7,2688.8 2233.3,2675.6" fill="none" stroke="#000" stroke-width="2.7"/>
<polyline points="2150.7,3009.6 2182.6,3071.5" fill="none" stroke="#000" stroke-width="4.2"/>
<polyline points="2163.9,3009.6 2190.1,3067.8" fill="none" stroke="#000" stroke-width="2.7"/>
<polyline points="2175.1,3005.9 2199.5,3064" fill="none" stroke="#000" stroke-width="2.7"/>
<polyline points="2340.2,2728.2 2355.2,2763.8 2357.1,2831.4" fill="none" stroke="#000" stroke-width="2.7"/>
<polyline points="2374,2981.5 2366.5,3009.6 2295.2,3009.6 2280.2,3011.5 2255.8,3049 2257.7,3064 2248.3,3065.9 2250.2,3080.9 2214.5,3114.7 2216.4,3124.1" fill="none" stroke="#000" stroke-width="4.2"/>
<polyline points="2201.4,3101.5 2199.5,3120.3 2169.5,3139.1 2167.6,3163.5 2182.6,3161.6 2178.9,3172.8 2124.5,3191.6 2124.5,3266.6 2133.8,3274.1 2156.4,3259.1 2137.6,3304.2 2137.6,3375.5 2096.3,3401.7 2098.2,3479.8" fill="none" stroke="#000" stroke-width="4.2"/>
<polyline points="2272.7,3090.3 2295.2,3094 2330.8,3071.5 2366.5,3009.6" fill="none" stroke="#000" stroke-width="4.2"/>
<polyline points="2214.5,3114.7 2272.7,3090.3" fill="none" stroke="#000" stroke-width="4.2"/>
<polyline points="2295.2,3009.6 2310.2,3015.2 2330.8,3071.5" fill="none" stroke="#000" stroke-width="2.7"/>
<polyline points="2182.6,3099.7 2220.2,3082.8 2248.3,3065.9" fill="none" stroke="#000" stroke-width="2.7"/>
<polyline points="2124.5,3191.6 2175.1,3165.3 2182.6,3161.6" fill="none" stroke="#000" stroke-width="5.2"/>
<polyline points="2396.5,2957.1 2409.6,2936.4 2482.8,2970.2 2460.3,3037.7 2445.3,3067.8 2400.3,3086.5" fill="none" stroke="#000" stroke-width="4.2"/>
<polyline points="2409.6,2936.4 2366.5,3011.5 2340.2,3067.8 2355.2,3077.1" fill="none" stroke="#000" stroke-width="4.2"/>
<polyline points="2411.5,2947.7 2422.8,2958.9 2449,2966.5 2480.9,2971" fill="none" stroke="#000" stroke-width="2.7"/>
<polyline points="2460.3,3037.7 2482.8,3056.5 2524.1,3135.3 2524.1,3214.1 2516.6,3240.4 2514.7,3281.7 2524.1,3285.4 2527.8,3311.7 2512.8,3326.7 2505.3,3386.7 2486.6,3409.2 2464.1,3413 2460.3,3479.8" fill="none" stroke="#000" stroke-width="4.8"/>
<polyline points="2467.8,3041.5 2512.8,3135.3 2516.6,3210.4" fill="none" stroke="#000" stroke-width="2.7"/>
<polyline points="2381.5,3097.8 2409.6,3090.3 2471.6,3101.5 2490.3,3161.6 2503.5,3172.8 2497.8,3255.4 2479.1,3304.2 2452.8,3315.4 2389,3360.5 2340.2,3375.5 2306.5,3364.2 2295.2,3349.2 2297.1,3319.2 2276.4,3311.7 2252,3255.4 2255.8,3240.4 2283.9,3249.8 2306.5,3210.4" fill="none" stroke="#000" stroke-width="4.2"/>
<polyline points="2298.9,3152.2 2317.7,3129.7 2362.7,3122.2 2381.5,3097.8" fill="none" stroke="#000" stroke-width="4.2"/>
<polyline points="2362.7,3122.2 2355.2,3142.8" fill="none" stroke="#000" stroke-width="2.7"/>
<polyline points="2280.2,3153.3 2319.6,3169.8" fill="none" stroke="#000" stroke-width="4.2"/>
<ellipse cx="2259.5" cy="3198" rx="17.3" ry="44.3" fill="none" stroke="#000" stroke-width="4.2" transform="rotate(20 2259.5 3198)"/>
<polyline points="2325.2,3180.3 2330.8,3202.9 2323.3,3229.1 2310.2,3244.1" fill="none" stroke="#000" stroke-width="2.7"/>
<polyline points="2479.1,3202.9 2464.1,3210.4 2456.5,3225.4 2430.3,3225.4 2411.5,3236.6 2417.1,3259.1 2404,3274.1 2390.9,3277.9 2387.1,3292.9 2404,3300.4 2422.8,3296.7 2430.3,3307.9 2445.3,3289.2 2454.7,3300.4" fill="none" stroke="#000" stroke-width="3.1"/>
<polyline points="2452.8,3315.4 2445.3,3326.7 2411.5,3341.7" fill="none" stroke="#000" stroke-width="2.7"/>
<polyline points="2389,3360.5 2430.3,3351.1 2449,3334.2" fill="none" stroke="#000" stroke-width="2.7"/>
<polyline points="2139.5,3376.4 2096.3,3404.5 2102,3500.2 2105.7,3513.3" fill="none" stroke="#000" stroke-width="4.2"/>
<polyline points="2122.6,3511.4 2124.5,3556.5 2127.1,3560.2 2124.5,3635.3 2117,3637.1 2118.1,3655.9 2109.5,3669 2109.5,3699.8 2109.5,3732.8 2100.1,3749.7 2102,3783.5" fill="none" stroke="#000" stroke-width="4.2"/>
<polyline points="2122.6,3511.4 2150.7,3508.4" fill="none" stroke="#000" stroke-width="2.7"/>
<polyline points="2105.7,3470.2 2111.3,3470.9 2119.6,3496.4 2118.1,3511.4 2105.7,3513.3" fill="none" stroke="#000" stroke-width="2.7"/>
<polyline points="2102,3515.2 2100.1,3537.7 2105.7,3565.9 2109.5,3515.2" fill="none" stroke="#000" stroke-width="2.7"/>
<polyline points="2121.8,3265.7 2124.5,3290.1 2128.2,3267.5" fill="none" stroke="#000" stroke-width="2.7"/>
<polyline points="2141.4,3273.2 2140.6,3323.8 2139.5,3376.4" fill="none" stroke="#000" stroke-width="4.2"/>
<polyline points="2190.1,3361.4 2193.9,3380.1 2212.6,3398.9 2216.4,3410.1 2205.1,3421.4 2201.4,3440.2 2223.9,3470.2 2227.7,3485.2 2218.3,3500.2 2220.2,3522.7 2223.9,3539.6 2205.1,3556.5 2175.1,3571.5 2163.9,3586.5 2167.6,3605.3 2156.4,3631.5 2156.4,3650.3 2171.4,3672.8 2173.2,3699.8 2171.4,3725.3 2148.9,3747.8 2126.3,3774.1" fill="none" stroke="#000" stroke-width="2.7"/>
<polyline points="2223.9,3539.6 2242.7,3534 2261.4,3537.7 2280.2,3547.1 2295.2,3537.7 2297.1,3532.1" fill="none" stroke="#000" stroke-width="2.7"/>
<polyline points="2208.9,3348.2 2205.1,3365.1 2192,3376.4" fill="none" stroke="#000" stroke-width="2.7"/>
<polyline points="2227.7,3374.5 2227.7,3395.1 2214.5,3410.1" fill="none" stroke="#000" stroke-width="2.7"/>
<polyline points="2178.9,3505.8 2180.8,3518.9 2167.6,3541.5 2163.9,3575.2" fill="none" stroke="#000" stroke-width="2.7"/>
<circle cx="2276.4" cy="3518.2" r="19.5" fill="none" stroke="#000" stroke-width="3.2"/>
<polyline points="2272.7,3526.5 2272.7,3511.4 2280.2,3511.4 2280.2,3526.5" fill="none" stroke="#000" stroke-width="2"/>
<polyline points="2242.7,3502.1 2248.3,3511.4 2257.7,3513.3" fill="none" stroke="#000" stroke-width="2.7"/>
<polyline points="2327.1,3458.9 2327.1,3496.4 2314,3518.9 2315.8,3537.7 2310.2,3706.6" fill="none" stroke="#000" stroke-width="2.7"/>
<polyline points="2353.4,3485.2 2349.6,3684.1" fill="none" stroke="#000" stroke-width="2.7"/>
<polyline points="2257.7,3243.2 2252,3267.5 2268.9,3308.8 2291.4,3320.1 2298.9,3337 2295.2,3350.1 2297.1,3361.4 2310.2,3374.5 2334.6,3382 2366.5,3374.5" fill="none" stroke="#000" stroke-width="4.5"/>
<polyline points="2282.1,3308.8 2302.7,3297.6" fill="none" stroke="#000" stroke-width="2.7"/>
<polyline points="2291.4,3320.1 2310.2,3308.8" fill="none" stroke="#000" stroke-width="2.7"/>
<polyline points="2300.8,3333.2 2317.7,3325.7" fill="none" stroke="#000" stroke-width="2.7"/>
<polyline points="2389,3361.4 2415.3,3352 2450.9,3331.3 2479.1,3305.1 2501.6,3200" fill="none" stroke="#000" stroke-width="4.2"/>
<polyline points="2411.5,3344.5 2441.5,3327.6" fill="none" stroke="#000" stroke-width="2.7"/>
<polyline points="2424.7,3350.1 2432.2,3376.4 2441.5,3370.7 2445.3,3346.3" fill="none" stroke="#000" stroke-width="2.7"/>
<polyline points="2449,3333.2 2450.9,3376.4 2441.5,3398.9 2482.8,3543.3" fill="none" stroke="#000" stroke-width="4.2"/>
<polyline points="2334.6,3382 2349.6,3419.5 2396.5,3579" fill="none" stroke="#000" stroke-width="4.2"/>
<polyline points="2366.5,3376.4 2383.4,3451.4" fill="none" stroke="#000" stroke-width="2.7"/>
<polyline points="2349.6,3383.9 2355.2,3410.1" fill="none" stroke="#000" stroke-width="2.7"/>
<polyline points="2524.1,3200 2522.2,3237.5 2509.1,3248.8 2512.8,3282.6 2522.2,3282.6 2527.8,3312.6 2516.6,3323.8 2490.3,3333.2" fill="none" stroke="#000" stroke-width="4.5"/>
<polyline points="2516.6,3323.8 2505.3,3380.1 2501.6,3402.6 2464.1,3417.6 2460.3,3434.5 2471.6,3447.7 2477.2,3458.9 2479.1,3500.2" fill="none" stroke="#000" stroke-width="4.5"/>
<polyline points="2505.3,3346.3 2492.2,3357.6 2490.3,3376.4 2475.3,3391.4 2467.8,3410.1" fill="none" stroke="#000" stroke-width="2.7"/>
<polyline points="2486.6,3413.9 2490.3,3440.2 2495.9,3410.1" fill="none" stroke="#000" stroke-width="2.7"/>
<polyline points="2465.9,3558.3 2479.1,3547.1 2520.3,3539.6 2556,3625.9 2520.3,3650.3 2452.8,3639 2404,3631.5 2383.4,3590.2 2396.5,3579 2422.8,3569.6" fill="none" stroke="#000" stroke-width="4.5"/>
<polyline points="2520.3,3640.9 2550.4,3620.3" fill="none" stroke="#000" stroke-width="2.7"/>
<polyline points="2362.7,3646.5 2374,3684.1 2377.7,3648.4" fill="none" stroke="#000" stroke-width="2.7"/>
<polygon points="1715.5,3461.9 1724.9,3440 1784.2,3424.4 1793.6,3413.2 1812.3,3411.9 1821.7,3423.2 1881,3415.1 1902.9,3418.2 1906,3433.8 1919.7,3432.5 1940.3,3461.9 1940.3,3499.4 1906,3524.4 1868.5,3555.6 1856,3549.3 1840.4,3574.3 1818.6,3574.3 1809.2,3558.7 1787.3,3555.6 1715.5,3505.6 1709.2,3483.8" fill="none" stroke="#000" stroke-width="4.2"/>
<polyline points="1784.2,3424.4 1788.6,3435.7 1815.4,3433.8 1821.7,3423.2" fill="none" stroke="#000" stroke-width="2.7"/>
<polyline points="1940.3,3499.4 1974.7,3549.3 1990.3,3555.6 1993.4,3571.2 2062.1,3618.1 2087.1,3611.8 2115.2,3636.8" fill="none" stroke="#000" stroke-width="4.2"/>
<polyline points="1868.5,3555.6 1906,3593.1 1912.2,3618.1 1934.1,3624.3 2087.1,3749.2 2099.6,3749.2" fill="none" stroke="#000" stroke-width="4.2"/>
<polyline points="1906,3524.4 1899.8,3549.3 1909.1,3561.8 1906,3593.1" fill="none" stroke="#000" stroke-width="2.7"/>
<polyline points="1715.5,3505.6 1687.4,3530.6 1684.3,3549.3 1599.9,3630.5" fill="none" stroke="#000" stroke-width="4.2"/>
<polyline points="1787.3,3555.6 1681.1,3674.3" fill="none" stroke="#000" stroke-width="4.2"/>
<polyline points="1599.9,3630.5 1575,3636.8 1556.2,3668 1575,3677.4 1518.7,3724.2 1500,3733.6" fill="none" stroke="#000" stroke-width="4.2"/>
<polyline points="1599.9,3630.5 1656.2,3655.5 1684.3,3674.3 1678,3686.8 1643.7,3780.4 1634.3,3811.7" fill="none" stroke="#000" stroke-width="4.2"/>
<polyline points="1656.2,3655.5 1653,3686.8 1640.5,3718 1646.8,3743 1634.3,3774.2 1640.5,3799.2 1606.2,3811.7 1599.9,3836.7 1575,3842.9 1537.5,3900.4" fill="none" stroke="#000" stroke-width="2.7"/>
<polyline points="1513.6,3708.8 1481.6,3740.8 1444.3,3770.1 1399,3844.7 1409.7,3860.7" fill="none" stroke="#000" stroke-width="4.2"/>
<polygon points="1313.8,3850 1393.7,3836.7 1409.7,3860.7 1449.7,3868.7 1452.3,3879.3 1433.7,3900.6 1321.8,3898 1313.8,3882" fill="none" stroke="#000" stroke-width="4.2"/>
<polyline points="1289.8,3866 1300.5,3858 1313.8,3868.7" fill="none" stroke="#000" stroke-width="2.7"/>
<polyline points="1444.3,3770.1 1455,3772.8 1481.6,3778.1" fill="none" stroke="#000" stroke-width="2.7"/>
<polyline points="1638.8,3804.7 1641.5,3852.7" fill="none" stroke="#000" stroke-width="4.2"/>
<polyline points="1609.5,3898 1609.5,3876.7 1620.1,3860.7 1641.5,3852.7 1668.1,3858 1694.7,3876.7 1700.1,3895.3" fill="none" stroke="#000" stroke-width="4.2"/>
<polyline points="1140.7,3887.3 1183.3,3882 1225.9,3879.3 1289.8,3874" fill="none" stroke="#000" stroke-width="2.7"/>
<polyline points="1231.2,3858 1228.6,3900.6" fill="none" stroke="#000" stroke-width="2.7"/>
<polyline points="1316.5,3900.6 1449.7,3906 1492.3,3895.3" fill="none" stroke="#000" stroke-width="2.7"/>
<polyline points="1700.1,3898 1742.7,3900.6 1796,3903.3" fill="none" stroke="#000" stroke-width="2.7"/>
<polyline points="1649.4,3828.7 1668.1,3826 1705.4,3812.7 1732,3823.4 1796,3836.7" fill="none" stroke="#000" stroke-width="2.7"/>
<polyline points="1838.6,3839.4 1875.9,3820.7 1918.5,3783.4 1950.5,3788.7 1961.1,3796.7 1993.1,3778.1 2010.1,3767.4" fill="none" stroke="#000" stroke-width="4.2"/>
<polyline points="1649.9,3833.5 1706.1,3811.7 1762.3,3824.2 1824.8,3805.4 1899.8,3792.9 1949.7,3817.9 1993.4,3774.2 2030.9,3749.2 2099.6,3749.2" fill="none" stroke="#000" stroke-width="4.2"/>
<polyline points="1843.5,3839.8 1887.3,3830.4 1937.2,3836.7 1962.2,3817.9" fill="none" stroke="#000" stroke-width="2.7"/>
<polyline points="1980,3784.1 2002.5,3772.8 2021.3,3769 2055,3770.9 2077.6,3767.2 2100.1,3784.1" fill="none" stroke="#000" stroke-width="4.2"/>
<polyline points="2283.9,3716.5 2317.7,3705.3 2359,3686.5 2374,3682.7 2392.8,3701.5 2422.8,3724" fill="none" stroke="#000" stroke-width="4.2"/>
<polyline points="2310.2,3904.1 2347.7,3900.4 2377.7,3894.7 2392.8,3879.7 2415.3,3892.9" fill="none" stroke="#000" stroke-width="4.2"/>
<polyline points="2242.7,3949.2 2310.2,3941.7 2347.7,3922.9 2359,3924.8" fill="none" stroke="#000" stroke-width="4.2"/>
<polyline points="2471.6,3926.6 2505.3,3922.9 2535.3,3924.8" fill="none" stroke="#000" stroke-width="2.7"/>
<polyline points="2235.2,3712.8 2242.7,3742.8 2250.2,3724 2261.4,3754" fill="none" stroke="#000" stroke-width="2.7"/>
<polyline points="2276.4,3712.8 2280.2,3750.3" fill="none" stroke="#000" stroke-width="2.7"/>
<polyline points="2156.4,3724 2163.9,3769" fill="none" stroke="#000" stroke-width="2.7"/>
<polyline points="2167.6,3727.8 2160.1,3765.3" fill="none" stroke="#000" stroke-width="2.7"/>
<polyline points="2021.3,3739 2036.3,3769" fill="none" stroke="#000" stroke-width="2.7"/>
<polyline points="2362.7,3645.2 2374,3679 2377.7,3649" fill="none" stroke="#000" stroke-width="2.7"/>
<polyline points="2302.7,3866.6 2306.5,3900.4" fill="none" stroke="#000" stroke-width="2.7"/>
<polyline points="2396.5,3851.6 2400.3,3885.4" fill="none" stroke="#000" stroke-width="2.7"/>
<polyline points="2430.2,3639.7 2454.6,3712.9" fill="none" stroke="#000" stroke-width="4.2"/>
<polyline points="2524,3654.7 2589.7,3795.4" fill="none" stroke="#000" stroke-width="4.5"/>
<polyline points="2529.6,3697.9 2555.9,3686.6 2585.9,3780.4" fill="none" stroke="#000" stroke-width="4.2"/>
<polyline points="2460.2,3699.7 2420.8,3739.1 2473.3,3784.2 2480.8,3795.4 2460.2,3808.6 2462.1,3848 2415.2,3893 2435.8,3908 2484.6,3885.5 2490.2,3866.7 2522.1,3861.1 2525.9,3870.5 2544.6,3874.2 2537.1,3900.5 2555.9,3915.5 2570.9,3889.2 2589.7,3810.4" fill="none" stroke="#000" stroke-width="4.2"/>
<polyline points="2507.1,3825.4 2512.7,3866.7 2518.4,3829.2" fill="none" stroke="#000" stroke-width="2.7"/>
<polyline points="2555.9,3814.2 2597.2,3812.3 2612.2,3832.9 2696.6,3885.5 2702.2,3900.5 2687.2,3904.2" fill="none" stroke="#000" stroke-width="4.2"/>
<polyline points="2597.2,3812.3 2589.7,3870.5" fill="none" stroke="#000" stroke-width="2.7"/>
<polyline points="2585.9,3791.7 2604.7,3772.9 2627.2,3778.5 2653.5,3784.2 2676,3769.2 2702.2,3769.2 2724.7,3780.4 2739.8,3802.9 2762.3,3806.7 2807.3,3821.7 2908.6,3821.7" fill="none" stroke="#000" stroke-width="4.2"/>
<polyline points="2736,3874.2 2751,3864.8 2773.5,3866.7 2799.8,3889.2 2852.3,3915.5 2904.9,3926.8" fill="none" stroke="#000" stroke-width="4.2"/>
<polyline points="2758.5,3802.9 2767.9,3757.9" fill="none" stroke="#000" stroke-width="2.7"/>
<polyline points="2762.3,3802.9 2773.5,3784.2" fill="none" stroke="#000" stroke-width="2.7"/>
<polyline points="2327,3703.5 2345.8,3694.1 2368.3,3686.6 2390.8,3705.4 2420.8,3727.9" fill="none" stroke="#000" stroke-width="4.2"/>
<polyline points="2327,3878 2364.5,3866.7 2390.8,3861.1 2413.3,3889.2" fill="none" stroke="#000" stroke-width="4.2"/>
<polyline points="2469.6,3926.8 2495.9,3923 2537.1,3924.9" fill="none" stroke="#000" stroke-width="2.7"/>
<polyline points="2495.9,3923 2507.1,3911.7 2522.1,3919.2" fill="none" stroke="#000" stroke-width="2.7"/>
<g fill="#000"><circle cx="2220" cy="3590" r="2.8"/><circle cx="2136" cy="3389" r="2.8" fill="none" stroke="#000" stroke-width="2"/><circle cx="2372" cy="2892" r="4.3" fill="none" stroke="#000" stroke-width="2"/><circle cx="2214" cy="2852" r="1.3"/><circle cx="2132" cy="3513" r="1.7"/><circle cx="2428" cy="3277" r="1.9"/><circle cx="2307" cy="2768" r="4.7" fill="none" stroke="#000" stroke-width="2"/><circle cx="2545" cy="3830" r="2.0"/><circle cx="2116" cy="3631" r="1.5"/><circle cx="2190" cy="3692" r="2.2"/><circle cx="2228" cy="3646" r="1.5"/><circle cx="2381" cy="3534" r="2.6"/><circle cx="2376" cy="3529" r="1.9"/><circle cx="2249" cy="3397" r="1.3"/><circle cx="2051" cy="3680" r="2.5"/><circle cx="2482" cy="3526" r="3.2"/><circle cx="2293" cy="3564" r="4.2" fill="none" stroke="#000" stroke-width="2"/><circle cx="2387" cy="3397" r="2.6"/><circle cx="2221" cy="3630" r="2.5"/><circle cx="2229" cy="2750" r="3.7" fill="none" stroke="#000" stroke-width="2"/><circle cx="2209" cy="3408" r="1.8"/><circle cx="2210" cy="2814" r="2.3"/><circle cx="2428" cy="3203" r="2.8"/><circle cx="2192" cy="3377" r="3.1"/><circle cx="2205" cy="3121" r="4.5" fill="none" stroke="#000" stroke-width="2"/><circle cx="2212" cy="2869" r="2.5"/><circle cx="2579" cy="3796" r="2.4"/><circle cx="2389" cy="2995" r="3.3" fill="none" stroke="#000" stroke-width="2"/><circle cx="2205" cy="3270" r="2.5"/><circle cx="2348" cy="2842" r="2.7"/><circle cx="2350" cy="3409" r="1.4"/><circle cx="2501" cy="3355" r="1.3"/><circle cx="2311" cy="3459" r="2.2"/><circle cx="2296" cy="3219" r="1.8"/><circle cx="2399" cy="3496" r="1.3"/><circle cx="2303" cy="2759" r="4.4" fill="none" stroke="#000" stroke-width="2"/><circle cx="2315" cy="2862" r="1.9"/><circle cx="2220" cy="2752" r="1.5"/><circle cx="2170" cy="3591" r="4.5" fill="none" stroke="#000" stroke-width="2"/><circle cx="2196" cy="3287" r="3.1"/><circle cx="2148" cy="3445" r="1.8"/><circle cx="2108" cy="2861" r="1.7"/><circle cx="2341" cy="2915" r="2.7"/><circle cx="2190" cy="2986" r="3.0"/><circle cx="2222" cy="3125" r="1.7"/><circle cx="2211" cy="3118" r="3.5" fill="none" stroke="#000" stroke-width="2"/><circle cx="2441" cy="3477" r="2.8"/><circle cx="2463" cy="3321" r="2.4"/><circle cx="2345" cy="3175" r="3.0" fill="none" stroke="#000" stroke-width="2"/><circle cx="2503" cy="3277" r="4.2" fill="none" stroke="#000" stroke-width="2"/><circle cx="2217" cy="3214" r="3.7" fill="none" stroke="#000" stroke-width="2"/><circle cx="2289" cy="3509" r="2.2"/><circle cx="2333" cy="2896" r="3.2" fill="none" stroke="#000" stroke-width="2"/><circle cx="2245" cy="3217" r="4.7" fill="none" stroke="#000" stroke-width="2"/><circle cx="2513" cy="3289" r="4.6" fill="none" stroke="#000" stroke-width="2"/><circle cx="2436" cy="2969" r="1.5"/><circle cx="2429" cy="3075" r="3.0" fill="none" stroke="#000" stroke-width="2"/><circle cx="2303" cy="2758" r="1.7"/><circle cx="2357" cy="3367" r="3.0"/><circle cx="2365" cy="3390" r="2.1"/><circle cx="2370" cy="3369" r="2.9" fill="none" stroke="#000" stroke-width="2"/><circle cx="2471" cy="3839" r="4.0" fill="none" stroke="#000" stroke-width="2"/><circle cx="2179" cy="3692" r="4.2" fill="none" stroke="#000" stroke-width="2"/><circle cx="2122" cy="2905" r="2.6"/><circle cx="2555" cy="3654" r="1.5"/><circle cx="2192" cy="2824" r="2.8"/><circle cx="2356" cy="2990" r="3.5" fill="none" stroke="#000" stroke-width="2"/><circle cx="2461" cy="3442" r="3.6" fill="none" stroke="#000" stroke-width="2"/><circle cx="2442" cy="3288" r="2.9" fill="none" stroke="#000" stroke-width="2"/><circle cx="2405" cy="3089" r="2.6"/><circle cx="2220" cy="3660" r="3.5" fill="none" stroke="#000" stroke-width="2"/><circle cx="2102" cy="3404" r="1.7"/><circle cx="2294" cy="3504" r="2.3"/><circle cx="2280" cy="3327" r="3.3" fill="none" stroke="#000" stroke-width="2"/><circle cx="2175" cy="3612" r="2.7"/><circle cx="2319" cy="2786" r="2.7"/><circle cx="2574" cy="3777" r="2.6"/><circle cx="2290" cy="3364" r="2.7"/><circle cx="2372" cy="2970" r="1.4"/><circle cx="2332" cy="3200" r="2.1"/><circle cx="2156" cy="3424" r="3.1" fill="none" stroke="#000" stroke-width="2"/><circle cx="2190" cy="3476" r="2.6"/><circle cx="2445" cy="3849" r="1.9"/><circle cx="2451" cy="3272" r="3.0" fill="none" stroke="#000" stroke-width="2"/><circle cx="2412" cy="3556" r="3.1"/><circle cx="2281" cy="3592" r="1.5"/><circle cx="2396" cy="3391" r="1.9"/><circle cx="2459" cy="3323" r="1.4"/><circle cx="2372" cy="3133" r="1.3"/><circle cx="1976" cy="3634" r="2.1"/><circle cx="2234" cy="2743" r="1.3"/><circle cx="2266" cy="2848" r="1.6"/><circle cx="2511" cy="3762" r="3.2" fill="none" stroke="#000" stroke-width="2"/><circle cx="2438" cy="3853" r="3.9" fill="none" stroke="#000" stroke-width="2"/><circle cx="1955" cy="3630" r="1.6"/><circle cx="2242" cy="3150" r="2.0"/><circle cx="2335" cy="2860" r="2.2"/><circle cx="2207" cy="3651" r="1.4"/><circle cx="2567" cy="3886" r="3.4" fill="none" stroke="#000" stroke-width="2"/><circle cx="2145" cy="3696" r="1.6"/><circle cx="2346" cy="3015" r="2.9"/><circle cx="2489" cy="3226" r="4.5" fill="none" stroke="#000" stroke-width="2"/><circle cx="2344" cy="3373" r="2.8" fill="none" stroke="#000" stroke-width="2"/><circle cx="2433" cy="3293" r="4.5" fill="none" stroke="#000" stroke-width="2"/><circle cx="2184" cy="2841" r="2.7"/><circle cx="2209" cy="2966" r="4.6" fill="none" stroke="#000" stroke-width="2"/><circle cx="2506" cy="3565" r="1.4"/><circle cx="2360" cy="3010" r="3.4" fill="none" stroke="#000" stroke-width="2"/><circle cx="2364" cy="3319" r="3.0"/><circle cx="2250" cy="2910" r="1.6"/><circle cx="2288" cy="3237" r="2.4"/><circle cx="2262" cy="3204" r="2.8"/><circle cx="2227" cy="3469" r="4.6" fill="none" stroke="#000" stroke-width="2"/><circle cx="2376" cy="3104" r="1.5"/><circle cx="2455" cy="3399" r="1.4"/><circle cx="2327" cy="3013" r="2.1"/><circle cx="2320" cy="3193" r="4.5" fill="none" stroke="#000" stroke-width="2"/><circle cx="2560" cy="3649" r="3.0"/><circle cx="2159" cy="3048" r="1.5"/><circle cx="2549" cy="3835" r="3.7" fill="none" stroke="#000" stroke-width="2"/><circle cx="2375" cy="2838" r="3.8" fill="none" stroke="#000" stroke-width="2"/><circle cx="2420" cy="3335" r="3.1" fill="none" stroke="#000" stroke-width="2"/><circle cx="2168" cy="3300" r="1.8"/><circle cx="2364" cy="3426" r="3.1" fill="none" stroke="#000" stroke-width="2"/><circle cx="2297" cy="3575" r="1.5"/><circle cx="2217" cy="3729" r="1.6"/><circle cx="2237" cy="3286" r="3.0"/><circle cx="2254" cy="3608" r="4.2" fill="none" stroke="#000" stroke-width="2"/><circle cx="2464" cy="3494" r="2.1"/><circle cx="2276" cy="3108" r="2.7"/><circle cx="2314" cy="3437" r="4.3" fill="none" stroke="#000" stroke-width="2"/><circle cx="2127" cy="3274" r="3.0" fill="none" stroke="#000" stroke-width="2"/><circle cx="2250" cy="3162" r="4.0" fill="none" stroke="#000" stroke-width="2"/><circle cx="2256" cy="3398" r="2.7"/><circle cx="2339" cy="3147" r="2.4"/><circle cx="2372" cy="2828" r="2.2"/><circle cx="2411" cy="3272" r="3.8" fill="none" stroke="#000" stroke-width="2"/><circle cx="2403" cy="3621" r="2.5"/><circle cx="2211" cy="3559" r="2.9"/><circle cx="2571" cy="3773" r="4.1" fill="none" stroke="#000" stroke-width="2"/><circle cx="2043" cy="3621" r="2.6"/><circle cx="2284" cy="3615" r="3.0"/><circle cx="2401" cy="3199" r="2.6"/><circle cx="2496" cy="3556" r="3.6" fill="none" stroke="#000" stroke-width="2"/><circle cx="2283" cy="3623" r="1.7"/><circle cx="2451" cy="3139" r="1.5"/><circle cx="2444" cy="3091" r="4.6" fill="none" stroke="#000" stroke-width="2"/><circle cx="2362" cy="3273" r="2.8"/><circle cx="2129" cy="2905" r="2.1"/><circle cx="2432" cy="2976" r="1.9"/><circle cx="2190" cy="2813" r="2.7"/><circle cx="2385" cy="3071" r="4.1" fill="none" stroke="#000" stroke-width="2"/><circle cx="2110" cy="2799" r="2.5"/><circle cx="2235" cy="2749" r="2.3"/><circle cx="2283" cy="3254" r="1.5"/><circle cx="2431" cy="3303" r="2.0"/><circle cx="2457" cy="3384" r="2.2"/><circle cx="2212" cy="3187" r="3.6" fill="none" stroke="#000" stroke-width="2"/><circle cx="2199" cy="3409" r="1.6"/><circle cx="2338" cy="2750" r="1.5"/><circle cx="2295" cy="3312" r="2.9"/><circle cx="2217" cy="3717" r="1.6"/><circle cx="2559" cy="3828" r="2.0"/><circle cx="2259" cy="2992" r="2.2"/><circle cx="2385" cy="3068" r="1.9"/><circle cx="2536" cy="3703" r="2.8"/><circle cx="2323" cy="3289" r="1.3"/><circle cx="2461" cy="3721" r="2.7"/><circle cx="2447" cy="3593" r="2.4"/><circle cx="2232" cy="3726" r="2.8"/><circle cx="2180" cy="2974" r="1.3"/><circle cx="2264" cy="3401" r="1.8"/><circle cx="2307" cy="3579" r="2.2"/><circle cx="2227" cy="3529" r="3.0" fill="none" stroke="#000" stroke-width="2"/><circle cx="2113" cy="3707" r="1.9"/><circle cx="2202" cy="3486" r="1.9"/><circle cx="2243" cy="2861" r="2.1"/><circle cx="2222" cy="2725" r="1.7"/><circle cx="2509" cy="3231" r="1.8"/><circle cx="2074" cy="2879" r="2.6"/><circle cx="2210" cy="2753" r="2.3"/><circle cx="2211" cy="3504" r="3.1"/><circle cx="2312" cy="3545" r="1.7"/><circle cx="2218" cy="2773" r="4.2" fill="none" stroke="#000" stroke-width="2"/><circle cx="2251" cy="3348" r="2.8"/><circle cx="2212" cy="3539" r="3.1"/><circle cx="2124" cy="3501" r="2.5"/><circle cx="2257" cy="3374" r="1.4"/><circle cx="2372" cy="3351" r="3.0"/><circle cx="2509" cy="3209" r="1.3"/><circle cx="2115" cy="3508" r="2.6"/><circle cx="2275" cy="3105" r="1.7"/><circle cx="2464" cy="3280" r="2.9" fill="none" stroke="#000" stroke-width="2"/><circle cx="2447" cy="3412" r="3.2" fill="none" stroke="#000" stroke-width="2"/><circle cx="2509" cy="3781" r="2.2"/><circle cx="2477" cy="3279" r="3.0"/><circle cx="2540" cy="3705" r="3.1"/><circle cx="2282" cy="2747" r="2.0"/><circle cx="2212" cy="3271" r="2.7"/><circle cx="2569" cy="3840" r="2.0"/><circle cx="2082" cy="2905" r="3.0"/><circle cx="2281" cy="3268" r="3.1"/><circle cx="2219" cy="3407" r="2.8"/><circle cx="2289" cy="3095" r="3.3" fill="none" stroke="#000" stroke-width="2"/><circle cx="2303" cy="2963" r="4.7" fill="none" stroke="#000" stroke-width="2"/><circle cx="2176" cy="3473" r="1.8"/><circle cx="2207" cy="3552" r="1.6"/><circle cx="2341" cy="3087" r="1.8"/><circle cx="2255" cy="3015" r="2.9" fill="none" stroke="#000" stroke-width="2"/><circle cx="2177" cy="3418" r="3.2"/><circle cx="2464" cy="3884" r="2.2"/><circle cx="2366" cy="3390" r="1.5"/><circle cx="2118" cy="3598" r="2.3"/><circle cx="2171" cy="2838" r="1.5"/><circle cx="2424" cy="3598" r="2.8"/><circle cx="2298" cy="3028" r="1.3"/><circle cx="2398" cy="3406" r="4.7" fill="none" stroke="#000" stroke-width="2"/><circle cx="2335" cy="3222" r="2.4"/><circle cx="2200" cy="3300" r="2.5"/><circle cx="2283" cy="3164" r="2.9" fill="none" stroke="#000" stroke-width="2"/><circle cx="2256" cy="3288" r="2.9"/><circle cx="1932" cy="3601" r="2.6"/><circle cx="2129" cy="3730" r="4.5" fill="none" stroke="#000" stroke-width="2"/><circle cx="2416" cy="3340" r="3.1"/><circle cx="2264" cy="3470" r="3.2"/><circle cx="2285" cy="2784" r="4.4" fill="none" stroke="#000" stroke-width="2"/><circle cx="2496" cy="3517" r="1.8"/><circle cx="2228" cy="2758" r="1.3"/><circle cx="2276" cy="3080" r="2.4"/><circle cx="2397" cy="3392" r="2.5"/><circle cx="2467" cy="3541" r="3.5" fill="none" stroke="#000" stroke-width="2"/><circle cx="2334" cy="3164" r="2.2"/><circle cx="2138" cy="3213" r="4.5" fill="none" stroke="#000" stroke-width="2"/><circle cx="2281" cy="3327" r="1.9"/><circle cx="2379" cy="3020" r="2.9"/><circle cx="2498" cy="3257" r="2.3"/><circle cx="2363" cy="3141" r="3.0"/><circle cx="2506" cy="3844" r="2.6"/><circle cx="2398" cy="3252" r="2.2"/><circle cx="2145" cy="3418" r="1.9"/><circle cx="2436" cy="3370" r="3.3" fill="none" stroke="#000" stroke-width="2"/><circle cx="2217" cy="2857" r="2.9"/><circle cx="2490" cy="3571" r="2.7"/><circle cx="2022" cy="3659" r="4.0" fill="none" stroke="#000" stroke-width="2"/><circle cx="2397" cy="2980" r="1.8"/><circle cx="2098" cy="2893" r="3.5" fill="none" stroke="#000" stroke-width="2"/><circle cx="2149" cy="2912" r="2.3"/><circle cx="2446" cy="3470" r="3.4" fill="none" stroke="#000" stroke-width="2"/><circle cx="2228" cy="3363" r="1.9"/><circle cx="2491" cy="3147" r="2.3"/><circle cx="2267" cy="2992" r="1.8"/><circle cx="2343" cy="3145" r="1.7"/><circle cx="2309" cy="3176" r="3.2"/><circle cx="2308" cy="2884" r="1.5"/><circle cx="2318" cy="3228" r="2.5"/><circle cx="2284" cy="3214" r="3.7" fill="none" stroke="#000" stroke-width="2"/><circle cx="2329" cy="3216" r="2.2"/><circle cx="2271" cy="3684" r="2.0"/><circle cx="2223" cy="3157" r="2.2"/><circle cx="2471" cy="3457" r="4.5" fill="none" stroke="#000" stroke-width="2"/></g>
</g>
<g><text x="317.6" y="270.5" font-size="82" textLength="181.4" lengthAdjust="spacingAndGlyphs" stroke="#000" stroke-width="1">Head</text><text x="316.2" y="368" font-size="82" textLength="184.3" lengthAdjust="spacingAndGlyphs" stroke="#000" stroke-width="1">Level</text><text x="203.5" y="430.6" font-size="47" textLength="409.7" lengthAdjust="spacingAndGlyphs" stroke="#000" stroke-width="0.6">(Control Platform)</text><text x="1964" y="269.5" font-size="82" textLength="227.3" lengthAdjust="spacingAndGlyphs" stroke="#000" stroke-width="1">Mouth</text><text x="1984.8" y="367.5" font-size="82" textLength="185.7" lengthAdjust="spacingAndGlyphs" stroke="#000" stroke-width="1">Level</text><text x="1881.8" y="429.5" font-size="47" textLength="390.3" lengthAdjust="spacingAndGlyphs" stroke="#000" stroke-width="0.6">(Weapon System)</text><text x="436.9" y="980.8" font-size="82" textLength="315.4" lengthAdjust="spacingAndGlyphs" stroke="#000" stroke-width="1">Shoulder</text><text x="503.7" y="1079.5" font-size="82" textLength="184.7" lengthAdjust="spacingAndGlyphs" stroke="#000" stroke-width="1">Level</text><text x="377.3" y="1142.6" font-size="47" textLength="434.6" lengthAdjust="spacingAndGlyphs" stroke="#000" stroke-width="0.6">(Meeting &amp; Ballista)</text><text x="157.5" y="1392" font-size="82" textLength="130.7" lengthAdjust="spacingAndGlyphs" stroke="#000" stroke-width="1">Leg</text><text x="95.7" y="1454.5" font-size="47" textLength="255.4" lengthAdjust="spacingAndGlyphs" stroke="#000" stroke-width="0.6">(Side View)</text><text x="1211.1" y="1386.4" font-size="82" textLength="202.1" lengthAdjust="spacingAndGlyphs" stroke="#000" stroke-width="1">Chest</text><text x="1194.2" y="1449.3" font-size="47" textLength="236" lengthAdjust="spacingAndGlyphs" stroke="#000" stroke-width="0.6">(Barracks)</text><text x="2432.6" y="1256.9" font-size="82" textLength="162.2" lengthAdjust="spacingAndGlyphs" stroke="#000" stroke-width="1">Arm</text><text x="2386.6" y="1319.8" font-size="47" textLength="254.2" lengthAdjust="spacingAndGlyphs" stroke="#000" stroke-width="0.6">(Side View)</text><text x="1687.3" y="2479.8" font-size="82" textLength="348.6" lengthAdjust="spacingAndGlyphs" stroke="#000" stroke-width="1">Abdomen</text><text x="1703" y="2542.7" font-size="47" textLength="318.4" lengthAdjust="spacingAndGlyphs" stroke="#000" stroke-width="0.6">(Power Cores)</text><text x="1233.5" y="3496" font-size="82" textLength="158.6" lengthAdjust="spacingAndGlyphs" stroke="#000" stroke-width="1">Hips</text><text x="1168.2" y="3558.3" font-size="47" textLength="288" lengthAdjust="spacingAndGlyphs" stroke="#000" stroke-width="0.6">(Leg Access)</text><text x="2413" y="180" font-size="54" textLength="393.7" lengthAdjust="spacingAndGlyphs" stroke="#000" stroke-width="0.6">1 square = 5 feet</text></g>
</svg>
</body></html>
